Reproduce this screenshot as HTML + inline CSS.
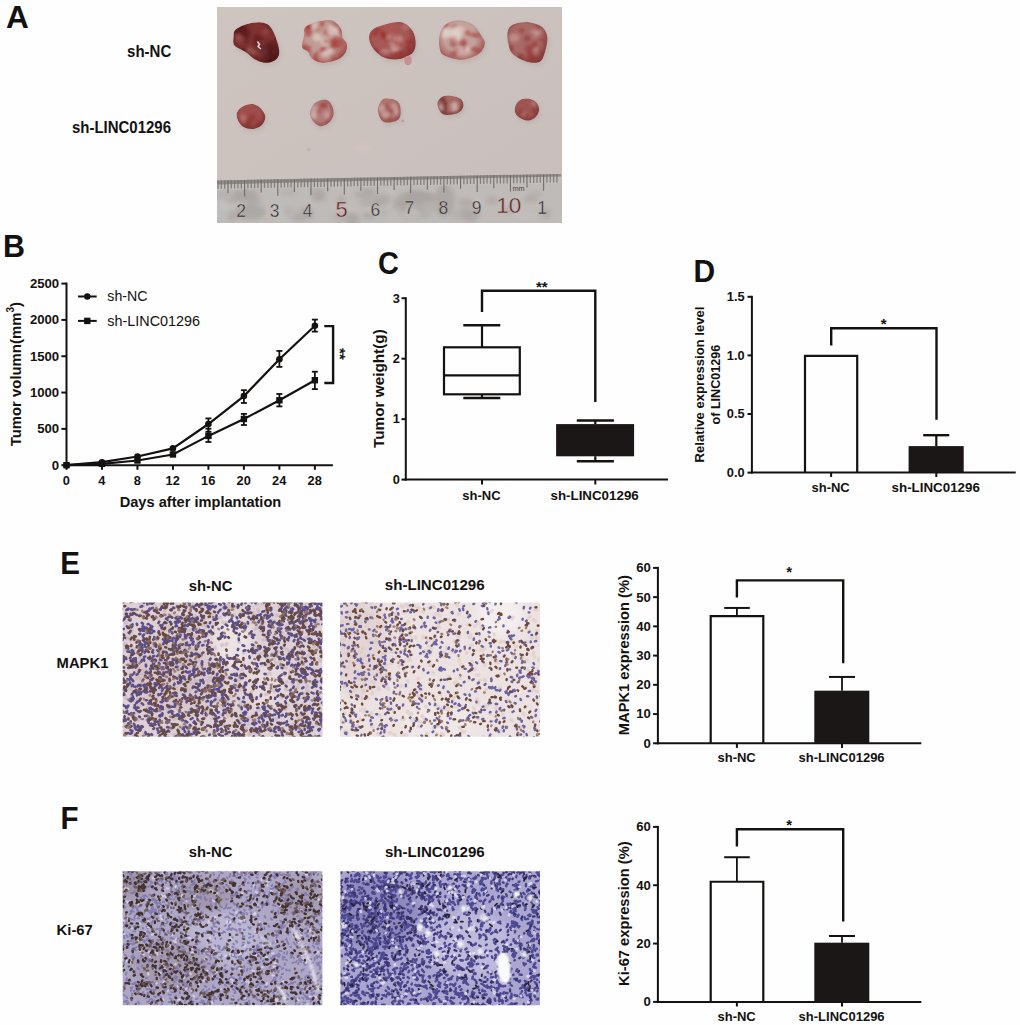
<!DOCTYPE html>
<html><head><meta charset="utf-8"><style>
html,body{margin:0;padding:0;background:#fff;}
body{width:1020px;height:1025px;overflow:hidden;position:relative;}
svg{position:absolute;left:0;top:0;}
text{fill:#141211;font-family:"Liberation Sans",sans-serif;stroke:#141211;stroke-width:0.01px;}
</style></head><body>
<svg width="1020" height="1025" viewBox="0 0 1020 1025">
<rect width="1020" height="1025" fill="#fefefe"/>
<g id="photoA">
<defs><clipPath id="pc"><rect x="217" y="7" width="345" height="216"/></clipPath><linearGradient id="board" x1="0" y1="0" x2="1" y2="1"><stop offset="0" stop-color="#cec4c0"/><stop offset="1" stop-color="#c8bebb"/></linearGradient><linearGradient id="band" x1="0" y1="0" x2="0" y2="1"><stop offset="0" stop-color="#8a8482"/><stop offset="1" stop-color="#9c9795"/></linearGradient><filter id="soft" x="-20%" y="-20%" width="140%" height="140%"><feGaussianBlur stdDeviation="0.55"/></filter><filter id="soft2" x="-30%" y="-30%" width="160%" height="160%"><feGaussianBlur stdDeviation="2.2"/></filter><filter id="soft3" x="-30%" y="-30%" width="160%" height="160%"><feGaussianBlur stdDeviation="1.6"/></filter></defs><g clip-path="url(#pc)">
<rect x="217" y="7" width="345" height="216" fill="url(#board)"/>
<path d="M237.1,32.3 C239.4,30.1 244.7,27.6 248.9,26.4 C253.1,25.2 258.9,24.6 262.5,24.9 C266.1,25.2 268.4,25.9 270.7,28.1 C273.0,30.3 274.8,33.9 276.5,38.1 C278.2,42.3 280.5,49.5 280.7,53.4 C280.9,57.3 279.9,59.7 277.7,61.7 C275.5,63.7 271.3,65.2 267.7,65.2 C264.1,65.2 259.4,63.5 256.0,61.7 C252.6,59.9 250.4,56.9 247.1,54.6 C243.8,52.3 238.0,50.7 236.0,48.1 C234.0,45.5 234.9,41.9 235.1,39.3 C235.3,36.7 234.8,34.4 237.1,32.3Z" fill="#b0a4a0" filter="url(#soft2)" opacity="0.5"/>
<clipPath id="tc1"><path d="M235.6,29.8 C237.9,27.7 243.2,25.1 247.4,23.9 C251.6,22.7 257.4,22.1 261.0,22.4 C264.6,22.7 266.9,23.4 269.2,25.6 C271.5,27.8 273.3,31.4 275.0,35.6 C276.7,39.8 279.0,47.0 279.2,50.9 C279.4,54.8 278.4,57.2 276.2,59.2 C274.0,61.2 269.8,62.7 266.2,62.7 C262.6,62.7 257.9,61.0 254.5,59.2 C251.1,57.4 248.9,54.4 245.6,52.1 C242.3,49.8 236.5,48.2 234.5,45.6 C232.5,43.0 233.4,39.4 233.6,36.8 C233.8,34.2 233.3,31.9 235.6,29.8Z"/></clipPath>
<radialGradient id="te1" cx="0.45" cy="0.42" r="0.6"><stop offset="0.55" stop-color="#4a1615" stop-opacity="0"/><stop offset="1" stop-color="#4a1615" stop-opacity="0.85"/></radialGradient>
<g filter="url(#soft)"><g clip-path="url(#tc1)"><path d="M235.6,29.8 C237.9,27.7 243.2,25.1 247.4,23.9 C251.6,22.7 257.4,22.1 261.0,22.4 C264.6,22.7 266.9,23.4 269.2,25.6 C271.5,27.8 273.3,31.4 275.0,35.6 C276.7,39.8 279.0,47.0 279.2,50.9 C279.4,54.8 278.4,57.2 276.2,59.2 C274.0,61.2 269.8,62.7 266.2,62.7 C262.6,62.7 257.9,61.0 254.5,59.2 C251.1,57.4 248.9,54.4 245.6,52.1 C242.3,49.8 236.5,48.2 234.5,45.6 C232.5,43.0 233.4,39.4 233.6,36.8 C233.8,34.2 233.3,31.9 235.6,29.8Z" fill="#7e3230"/><g filter="url(#soft3)"><ellipse cx="237.1" cy="29.3" rx="4.6" ry="5.7" fill="#5a1817" opacity="0.55"/><ellipse cx="242.1" cy="29.3" rx="3.9" ry="6.0" fill="#5a1817" opacity="0.55"/><ellipse cx="242.4" cy="50.8" rx="5.6" ry="3.5" fill="#5a1817" opacity="0.55"/><ellipse cx="257.8" cy="40.8" rx="4.7" ry="7.0" fill="#5a1817" opacity="0.55"/><ellipse cx="240.3" cy="26.1" rx="6.8" ry="4.6" fill="#5a1817" opacity="0.55"/><ellipse cx="244.5" cy="36.7" rx="4.5" ry="6.8" fill="#5a1817" opacity="0.55"/><ellipse cx="244.9" cy="32.8" rx="5.3" ry="5.2" fill="#5a1817" opacity="0.55"/><ellipse cx="274.4" cy="54.2" rx="4.4" ry="3.8" fill="#5a1817" opacity="0.55"/><ellipse cx="269.7" cy="59.3" rx="3.1" ry="5.9" fill="#5a1817" opacity="0.55"/><ellipse cx="271.0" cy="47.7" rx="3.9" ry="6.2" fill="#5a1817" opacity="0.55"/><ellipse cx="265.5" cy="32.0" rx="3.9" ry="2.7" fill="#9e5451" opacity="0.5"/><ellipse cx="238.2" cy="36.9" rx="3.0" ry="3.2" fill="#9e5451" opacity="0.5"/><ellipse cx="262.2" cy="54.1" rx="4.9" ry="4.9" fill="#9e5451" opacity="0.5"/><ellipse cx="275.9" cy="52.5" rx="2.9" ry="2.5" fill="#9e5451" opacity="0.5"/><ellipse cx="261.3" cy="44.1" rx="4.0" ry="2.3" fill="#9e5451" opacity="0.5"/><ellipse cx="244.2" cy="57.0" rx="3.8" ry="4.1" fill="#9e5451" opacity="0.5"/><ellipse cx="240.4" cy="39.1" rx="4.7" ry="3.9" fill="#9e5451" opacity="0.5"/><ellipse cx="275.9" cy="32.2" rx="3.4" ry="4.4" fill="#9e5451" opacity="0.5"/><ellipse cx="254.2" cy="52.5" rx="2.6" ry="2.1" fill="#b07a76" opacity="0.5"/><ellipse cx="240.5" cy="59.1" rx="2.1" ry="2.2" fill="#b07a76" opacity="0.5"/><ellipse cx="249.9" cy="49.9" rx="2.9" ry="2.5" fill="#b07a76" opacity="0.5"/></g><rect x="231.6" y="20.4" width="49.6" height="44.3" fill="url(#te1)"/></g></g>
<path d="M306.3,30.4 C307.7,28.5 311.4,26.9 314.0,25.7 C316.6,24.5 318.9,23.8 322.2,23.4 C325.5,23.0 330.7,21.8 334.0,23.1 C337.3,24.4 340.5,28.2 342.2,31.0 C343.9,33.8 343.0,37.4 344.0,39.9 C345.0,42.4 347.5,43.4 348.1,45.7 C348.7,48.1 348.7,51.5 347.5,54.0 C346.3,56.5 343.9,59.2 341.0,61.0 C338.1,62.8 333.5,63.9 330.4,64.6 C327.3,65.3 325.0,65.7 322.2,65.1 C319.4,64.5 315.5,62.9 313.4,61.0 C311.2,59.1 310.9,55.8 309.3,54.0 C307.7,52.2 304.9,52.1 304.0,50.5 C303.1,48.9 303.7,46.9 304.0,44.6 C304.3,42.3 305.3,39.3 305.7,36.9 C306.1,34.5 304.9,32.3 306.3,30.4Z" fill="#b0a4a0" filter="url(#soft2)" opacity="0.5"/>
<clipPath id="tc2"><path d="M304.8,27.9 C306.2,26.0 309.9,24.4 312.5,23.2 C315.1,22.0 317.4,21.3 320.7,20.9 C324.0,20.5 329.2,19.3 332.5,20.6 C335.8,21.9 339.0,25.7 340.7,28.5 C342.4,31.3 341.5,34.9 342.5,37.4 C343.5,39.9 346.0,40.9 346.6,43.2 C347.2,45.6 347.2,49.0 346.0,51.5 C344.8,54.0 342.4,56.7 339.5,58.5 C336.6,60.3 332.0,61.4 328.9,62.1 C325.8,62.8 323.5,63.2 320.7,62.6 C317.9,62.0 314.0,60.4 311.9,58.5 C309.8,56.6 309.4,53.2 307.8,51.5 C306.2,49.8 303.4,49.6 302.5,48.0 C301.6,46.4 302.2,44.4 302.5,42.1 C302.8,39.8 303.8,36.8 304.2,34.4 C304.6,32.0 303.4,29.8 304.8,27.9Z"/></clipPath>
<radialGradient id="te2" cx="0.45" cy="0.42" r="0.6"><stop offset="0.55" stop-color="#983634" stop-opacity="0"/><stop offset="1" stop-color="#983634" stop-opacity="0.85"/></radialGradient>
<g filter="url(#soft)"><g clip-path="url(#tc2)"><path d="M304.8,27.9 C306.2,26.0 309.9,24.4 312.5,23.2 C315.1,22.0 317.4,21.3 320.7,20.9 C324.0,20.5 329.2,19.3 332.5,20.6 C335.8,21.9 339.0,25.7 340.7,28.5 C342.4,31.3 341.5,34.9 342.5,37.4 C343.5,39.9 346.0,40.9 346.6,43.2 C347.2,45.6 347.2,49.0 346.0,51.5 C344.8,54.0 342.4,56.7 339.5,58.5 C336.6,60.3 332.0,61.4 328.9,62.1 C325.8,62.8 323.5,63.2 320.7,62.6 C317.9,62.0 314.0,60.4 311.9,58.5 C309.8,56.6 309.4,53.2 307.8,51.5 C306.2,49.8 303.4,49.6 302.5,48.0 C301.6,46.4 302.2,44.4 302.5,42.1 C302.8,39.8 303.8,36.8 304.2,34.4 C304.6,32.0 303.4,29.8 304.8,27.9Z" fill="#c09c96"/><g filter="url(#soft3)"><ellipse cx="308.4" cy="31.3" rx="3.9" ry="5.7" fill="#a83634" opacity="0.6"/><ellipse cx="324.4" cy="49.5" rx="3.3" ry="4.5" fill="#a83634" opacity="0.6"/><ellipse cx="337.6" cy="42.4" rx="5.8" ry="5.6" fill="#a83634" opacity="0.6"/><ellipse cx="319.6" cy="23.6" rx="5.3" ry="3.4" fill="#a83634" opacity="0.6"/><ellipse cx="305.9" cy="49.9" rx="5.5" ry="5.5" fill="#a83634" opacity="0.6"/><ellipse cx="341.8" cy="30.9" rx="3.2" ry="3.4" fill="#a83634" opacity="0.6"/><ellipse cx="342.8" cy="27.6" rx="3.5" ry="3.1" fill="#a83634" opacity="0.6"/><ellipse cx="307.4" cy="25.0" rx="4.1" ry="3.5" fill="#a83634" opacity="0.6"/><ellipse cx="317.3" cy="57.0" rx="3.5" ry="5.4" fill="#a83634" opacity="0.6"/><ellipse cx="333.6" cy="44.1" rx="4.7" ry="5.3" fill="#a83634" opacity="0.6"/><ellipse cx="327.9" cy="31.9" rx="4.0" ry="3.7" fill="#a83634" opacity="0.6"/><ellipse cx="320.8" cy="59.1" rx="4.3" ry="3.2" fill="#a83634" opacity="0.6"/><ellipse cx="323.7" cy="52.9" rx="4.3" ry="5.1" fill="#a83634" opacity="0.6"/><ellipse cx="309.0" cy="25.8" rx="5.0" ry="3.1" fill="#a83634" opacity="0.6"/><ellipse cx="317.0" cy="37.4" rx="4.6" ry="4.1" fill="#e0d0c9" opacity="0.7"/><ellipse cx="305.8" cy="57.9" rx="6.1" ry="6.9" fill="#e0d0c9" opacity="0.7"/><ellipse cx="324.2" cy="58.0" rx="6.6" ry="5.9" fill="#e0d0c9" opacity="0.7"/><ellipse cx="325.5" cy="41.9" rx="4.7" ry="5.1" fill="#e0d0c9" opacity="0.7"/><ellipse cx="333.0" cy="30.6" rx="6.5" ry="5.5" fill="#e0d0c9" opacity="0.7"/><ellipse cx="328.5" cy="53.2" rx="5.9" ry="4.4" fill="#e0d0c9" opacity="0.7"/><ellipse cx="314.9" cy="23.6" rx="4.1" ry="6.9" fill="#e0d0c9" opacity="0.7"/><ellipse cx="328.1" cy="58.5" rx="6.3" ry="4.9" fill="#e0d0c9" opacity="0.7"/><ellipse cx="342.3" cy="56.8" rx="3.4" ry="2.2" fill="#b45a56" opacity="0.5"/><ellipse cx="317.6" cy="29.6" rx="3.1" ry="2.2" fill="#b45a56" opacity="0.5"/><ellipse cx="332.7" cy="58.9" rx="2.6" ry="4.3" fill="#b45a56" opacity="0.5"/><ellipse cx="327.8" cy="41.0" rx="4.7" ry="3.1" fill="#b45a56" opacity="0.5"/><ellipse cx="336.8" cy="24.9" rx="4.9" ry="2.5" fill="#b45a56" opacity="0.5"/><ellipse cx="305.6" cy="55.3" rx="4.2" ry="4.0" fill="#b45a56" opacity="0.5"/><ellipse cx="334.7" cy="37.2" rx="2.3" ry="3.0" fill="#b45a56" opacity="0.5"/><ellipse cx="341.8" cy="58.9" rx="2.7" ry="3.3" fill="#b45a56" opacity="0.5"/></g><rect x="300.5" y="18.6" width="48.1" height="46.0" fill="url(#te2)"/></g></g>
<path d="M370.9,37.1 C371.9,33.8 374.1,31.4 379.1,29.3 C384.1,27.2 395.1,24.1 400.7,24.4 C406.3,24.7 409.8,28.1 412.5,31.2 C415.2,34.3 416.7,39.1 417.0,43.0 C417.3,46.9 417.2,51.7 414.5,54.8 C411.8,57.9 405.6,60.8 400.7,61.6 C395.8,62.4 389.6,61.8 385.0,59.7 C380.4,57.6 375.7,52.7 373.3,48.9 C370.9,45.1 369.9,40.4 370.9,37.1Z" fill="#b0a4a0" filter="url(#soft2)" opacity="0.5"/>
<clipPath id="tc3"><path d="M369.4,34.6 C370.4,31.3 372.6,28.9 377.6,26.8 C382.6,24.7 393.6,21.6 399.2,21.9 C404.8,22.2 408.3,25.6 411.0,28.7 C413.7,31.8 415.2,36.6 415.5,40.5 C415.8,44.4 415.7,49.2 413.0,52.3 C410.3,55.4 404.1,58.3 399.2,59.1 C394.3,59.9 388.1,59.3 383.5,57.2 C378.9,55.1 374.2,50.2 371.8,46.4 C369.4,42.6 368.4,37.9 369.4,34.6Z"/></clipPath>
<radialGradient id="te3" cx="0.45" cy="0.42" r="0.6"><stop offset="0.55" stop-color="#802826" stop-opacity="0"/><stop offset="1" stop-color="#802826" stop-opacity="0.85"/></radialGradient>
<g filter="url(#soft)"><g clip-path="url(#tc3)"><path d="M369.4,34.6 C370.4,31.3 372.6,28.9 377.6,26.8 C382.6,24.7 393.6,21.6 399.2,21.9 C404.8,22.2 408.3,25.6 411.0,28.7 C413.7,31.8 415.2,36.6 415.5,40.5 C415.8,44.4 415.7,49.2 413.0,52.3 C410.3,55.4 404.1,58.3 399.2,59.1 C394.3,59.9 388.1,59.3 383.5,57.2 C378.9,55.1 374.2,50.2 371.8,46.4 C369.4,42.6 368.4,37.9 369.4,34.6Z" fill="#a65855"/><g filter="url(#soft3)"><ellipse cx="395.3" cy="44.6" rx="4.5" ry="2.8" fill="#982826" opacity="0.6"/><ellipse cx="398.5" cy="52.7" rx="4.7" ry="2.6" fill="#982826" opacity="0.6"/><ellipse cx="398.5" cy="44.2" rx="3.5" ry="4.9" fill="#982826" opacity="0.6"/><ellipse cx="393.6" cy="38.8" rx="4.8" ry="3.9" fill="#982826" opacity="0.6"/><ellipse cx="384.5" cy="34.5" rx="3.5" ry="2.2" fill="#982826" opacity="0.6"/><ellipse cx="396.8" cy="47.9" rx="3.3" ry="4.5" fill="#982826" opacity="0.6"/><ellipse cx="409.6" cy="42.2" rx="4.0" ry="2.4" fill="#982826" opacity="0.6"/><ellipse cx="374.6" cy="55.5" rx="2.9" ry="2.6" fill="#982826" opacity="0.6"/><ellipse cx="408.4" cy="48.3" rx="2.4" ry="3.0" fill="#982826" opacity="0.6"/><ellipse cx="382.1" cy="33.4" rx="2.0" ry="3.6" fill="#982826" opacity="0.6"/><ellipse cx="384.6" cy="37.2" rx="2.6" ry="2.3" fill="#982826" opacity="0.6"/><ellipse cx="373.7" cy="52.1" rx="4.2" ry="3.7" fill="#982826" opacity="0.6"/><ellipse cx="377.4" cy="29.5" rx="2.4" ry="2.9" fill="#982826" opacity="0.6"/><ellipse cx="374.7" cy="33.5" rx="2.6" ry="2.6" fill="#982826" opacity="0.6"/><ellipse cx="398.6" cy="39.2" rx="4.4" ry="4.1" fill="#d0a8a2" opacity="0.55"/><ellipse cx="394.0" cy="49.4" rx="3.9" ry="3.2" fill="#d0a8a2" opacity="0.55"/><ellipse cx="391.7" cy="36.7" rx="5.3" ry="3.3" fill="#d0a8a2" opacity="0.55"/><ellipse cx="407.4" cy="25.4" rx="4.6" ry="4.3" fill="#d0a8a2" opacity="0.55"/><ellipse cx="385.0" cy="52.6" rx="5.1" ry="3.5" fill="#d0a8a2" opacity="0.55"/><ellipse cx="392.2" cy="44.0" rx="3.1" ry="3.3" fill="#d0a8a2" opacity="0.55"/><ellipse cx="396.5" cy="47.7" rx="4.4" ry="4.3" fill="#d0a8a2" opacity="0.55"/><ellipse cx="392.7" cy="33.0" rx="3.8" ry="3.9" fill="#b0524f" opacity="0.5"/><ellipse cx="391.7" cy="25.5" rx="2.8" ry="3.6" fill="#b0524f" opacity="0.5"/><ellipse cx="385.4" cy="28.2" rx="2.4" ry="3.4" fill="#b0524f" opacity="0.5"/><ellipse cx="397.3" cy="33.8" rx="3.2" ry="3.5" fill="#b0524f" opacity="0.5"/><ellipse cx="411.1" cy="50.8" rx="2.9" ry="3.6" fill="#b0524f" opacity="0.5"/><ellipse cx="409.5" cy="52.0" rx="3.5" ry="3.2" fill="#b0524f" opacity="0.5"/></g><rect x="367.4" y="19.9" width="50.1" height="41.2" fill="url(#te3)"/></g></g>
<path d="M441.1,37.5 C442.1,33.7 443.7,29.6 446.8,27.2 C449.9,24.8 455.1,22.9 459.5,22.8 C463.9,22.7 469.7,24.2 473.5,26.6 C477.3,29.1 480.4,34.2 482.5,37.5 C484.6,40.8 486.7,43.2 486.3,46.4 C485.9,49.6 483.7,54.0 479.9,56.6 C476.1,59.2 469.1,62.1 463.4,62.3 C457.7,62.5 449.2,59.8 445.5,57.8 C441.8,55.8 441.8,53.6 441.1,50.2 C440.4,46.8 440.2,41.3 441.1,37.5Z" fill="#b0a4a0" filter="url(#soft2)" opacity="0.5"/>
<clipPath id="tc4"><path d="M439.6,35.0 C440.6,31.2 442.2,27.1 445.3,24.7 C448.4,22.2 453.6,20.4 458.0,20.3 C462.4,20.2 468.2,21.7 472.0,24.1 C475.8,26.6 478.9,31.7 481.0,35.0 C483.1,38.3 485.2,40.7 484.8,43.9 C484.4,47.1 482.2,51.5 478.4,54.1 C474.6,56.8 467.6,59.6 461.9,59.8 C456.2,60.0 447.7,57.3 444.0,55.3 C440.3,53.3 440.3,51.1 439.6,47.7 C438.9,44.3 438.7,38.8 439.6,35.0Z"/></clipPath>
<radialGradient id="te4" cx="0.45" cy="0.42" r="0.6"><stop offset="0.55" stop-color="#983836" stop-opacity="0"/><stop offset="1" stop-color="#983836" stop-opacity="0.85"/></radialGradient>
<g filter="url(#soft)"><g clip-path="url(#tc4)"><path d="M439.6,35.0 C440.6,31.2 442.2,27.1 445.3,24.7 C448.4,22.2 453.6,20.4 458.0,20.3 C462.4,20.2 468.2,21.7 472.0,24.1 C475.8,26.6 478.9,31.7 481.0,35.0 C483.1,38.3 485.2,40.7 484.8,43.9 C484.4,47.1 482.2,51.5 478.4,54.1 C474.6,56.8 467.6,59.6 461.9,59.8 C456.2,60.0 447.7,57.3 444.0,55.3 C440.3,53.3 440.3,51.1 439.6,47.7 C438.9,44.3 438.7,38.8 439.6,35.0Z" fill="#c4a29c"/><g filter="url(#soft3)"><ellipse cx="463.3" cy="42.9" rx="3.7" ry="3.8" fill="#a63c3a" opacity="0.55"/><ellipse cx="477.2" cy="35.5" rx="3.9" ry="2.8" fill="#a63c3a" opacity="0.55"/><ellipse cx="454.6" cy="26.5" rx="3.0" ry="2.3" fill="#a63c3a" opacity="0.55"/><ellipse cx="453.3" cy="43.8" rx="3.6" ry="3.5" fill="#a63c3a" opacity="0.55"/><ellipse cx="446.0" cy="25.4" rx="2.5" ry="3.1" fill="#a63c3a" opacity="0.55"/><ellipse cx="475.5" cy="50.1" rx="3.9" ry="3.2" fill="#a63c3a" opacity="0.55"/><ellipse cx="467.6" cy="33.1" rx="2.6" ry="2.4" fill="#a63c3a" opacity="0.55"/><ellipse cx="463.6" cy="43.6" rx="3.1" ry="2.8" fill="#a63c3a" opacity="0.55"/><ellipse cx="459.2" cy="31.6" rx="3.6" ry="3.2" fill="#a63c3a" opacity="0.55"/><ellipse cx="471.9" cy="50.5" rx="2.6" ry="2.2" fill="#a63c3a" opacity="0.55"/><ellipse cx="453.7" cy="53.7" rx="3.6" ry="2.8" fill="#a63c3a" opacity="0.55"/><ellipse cx="473.0" cy="34.8" rx="3.7" ry="2.2" fill="#a63c3a" opacity="0.55"/><ellipse cx="471.6" cy="56.1" rx="5.3" ry="5.4" fill="#e0d0c9" opacity="0.7"/><ellipse cx="447.7" cy="32.5" rx="4.7" ry="4.9" fill="#e0d0c9" opacity="0.7"/><ellipse cx="445.3" cy="33.3" rx="4.3" ry="5.6" fill="#e0d0c9" opacity="0.7"/><ellipse cx="458.5" cy="30.9" rx="6.8" ry="4.9" fill="#e0d0c9" opacity="0.7"/><ellipse cx="463.4" cy="53.3" rx="6.3" ry="6.9" fill="#e0d0c9" opacity="0.7"/><ellipse cx="466.5" cy="52.5" rx="4.2" ry="6.2" fill="#e0d0c9" opacity="0.7"/><ellipse cx="455.8" cy="34.0" rx="6.3" ry="6.2" fill="#e0d0c9" opacity="0.7"/><ellipse cx="456.0" cy="35.5" rx="4.8" ry="6.8" fill="#e0d0c9" opacity="0.7"/><ellipse cx="466.7" cy="32.0" rx="3.1" ry="2.1" fill="#b86460" opacity="0.5"/><ellipse cx="453.2" cy="40.1" rx="3.9" ry="3.7" fill="#b86460" opacity="0.5"/><ellipse cx="464.1" cy="48.9" rx="2.5" ry="3.4" fill="#b86460" opacity="0.5"/><ellipse cx="481.7" cy="28.5" rx="3.9" ry="4.0" fill="#b86460" opacity="0.5"/><ellipse cx="457.0" cy="50.6" rx="4.0" ry="2.3" fill="#b86460" opacity="0.5"/><ellipse cx="460.8" cy="43.2" rx="3.6" ry="2.5" fill="#b86460" opacity="0.5"/></g><rect x="437.6" y="18.3" width="49.2" height="43.5" fill="url(#te4)"/></g></g>
<path d="M509.2,33.6 C510.1,30.3 512.0,28.1 515.6,26.6 C519.2,25.1 526.2,24.2 530.9,24.7 C535.6,25.2 540.7,27.2 543.7,29.8 C546.7,32.4 548.4,35.8 548.8,40.0 C549.2,44.2 547.5,51.3 546.2,55.3 C544.9,59.3 544.1,62.7 541.1,64.2 C538.1,65.7 532.9,65.5 528.4,64.2 C523.9,62.9 517.4,59.6 514.3,56.6 C511.2,53.6 510.8,50.2 509.9,46.4 C509.0,42.6 508.2,36.9 509.2,33.6Z" fill="#b0a4a0" filter="url(#soft2)" opacity="0.5"/>
<clipPath id="tc5"><path d="M507.7,31.1 C508.6,27.8 510.5,25.6 514.1,24.1 C517.7,22.6 524.7,21.7 529.4,22.2 C534.1,22.7 539.2,24.8 542.2,27.3 C545.2,29.9 546.9,33.2 547.3,37.5 C547.7,41.8 546.0,48.8 544.7,52.8 C543.4,56.8 542.6,60.2 539.6,61.7 C536.6,63.2 531.4,63.0 526.9,61.7 C522.4,60.4 515.9,57.1 512.8,54.1 C509.7,51.1 509.2,47.7 508.4,43.9 C507.5,40.1 506.8,34.4 507.7,31.1Z"/></clipPath>
<radialGradient id="te5" cx="0.45" cy="0.42" r="0.6"><stop offset="0.55" stop-color="#7e302e" stop-opacity="0"/><stop offset="1" stop-color="#7e302e" stop-opacity="0.85"/></radialGradient>
<g filter="url(#soft)"><g clip-path="url(#tc5)"><path d="M507.7,31.1 C508.6,27.8 510.5,25.6 514.1,24.1 C517.7,22.6 524.7,21.7 529.4,22.2 C534.1,22.7 539.2,24.8 542.2,27.3 C545.2,29.9 546.9,33.2 547.3,37.5 C547.7,41.8 546.0,48.8 544.7,52.8 C543.4,56.8 542.6,60.2 539.6,61.7 C536.6,63.2 531.4,63.0 526.9,61.7 C522.4,60.4 515.9,57.1 512.8,54.1 C509.7,51.1 509.2,47.7 508.4,43.9 C507.5,40.1 506.8,34.4 507.7,31.1Z" fill="#a86a66"/><g filter="url(#soft3)"><ellipse cx="529.1" cy="50.3" rx="4.2" ry="4.6" fill="#98302e" opacity="0.6"/><ellipse cx="520.3" cy="57.5" rx="3.7" ry="4.2" fill="#98302e" opacity="0.6"/><ellipse cx="536.1" cy="56.3" rx="2.8" ry="3.1" fill="#98302e" opacity="0.6"/><ellipse cx="534.8" cy="44.8" rx="4.3" ry="3.1" fill="#98302e" opacity="0.6"/><ellipse cx="542.8" cy="25.6" rx="4.2" ry="3.1" fill="#98302e" opacity="0.6"/><ellipse cx="511.5" cy="47.8" rx="2.2" ry="2.7" fill="#98302e" opacity="0.6"/><ellipse cx="521.6" cy="30.5" rx="2.5" ry="2.2" fill="#98302e" opacity="0.6"/><ellipse cx="539.1" cy="28.0" rx="2.5" ry="2.2" fill="#98302e" opacity="0.6"/><ellipse cx="541.3" cy="43.5" rx="4.5" ry="4.9" fill="#98302e" opacity="0.6"/><ellipse cx="527.3" cy="38.4" rx="3.2" ry="2.8" fill="#98302e" opacity="0.6"/><ellipse cx="530.7" cy="57.6" rx="3.5" ry="4.3" fill="#98302e" opacity="0.6"/><ellipse cx="540.6" cy="53.0" rx="4.0" ry="3.6" fill="#98302e" opacity="0.6"/><ellipse cx="514.0" cy="37.8" rx="5.6" ry="4.3" fill="#cca49e" opacity="0.55"/><ellipse cx="533.6" cy="33.9" rx="4.7" ry="3.7" fill="#cca49e" opacity="0.55"/><ellipse cx="537.1" cy="52.4" rx="3.1" ry="5.0" fill="#cca49e" opacity="0.55"/><ellipse cx="513.9" cy="57.0" rx="3.5" ry="3.4" fill="#cca49e" opacity="0.55"/><ellipse cx="540.7" cy="45.8" rx="3.0" ry="4.4" fill="#cca49e" opacity="0.55"/><ellipse cx="538.6" cy="30.7" rx="5.3" ry="3.9" fill="#cca49e" opacity="0.55"/><ellipse cx="525.6" cy="38.5" rx="2.1" ry="2.8" fill="#a04c49" opacity="0.5"/><ellipse cx="528.2" cy="45.9" rx="3.1" ry="2.3" fill="#a04c49" opacity="0.5"/><ellipse cx="531.0" cy="34.9" rx="3.8" ry="2.2" fill="#a04c49" opacity="0.5"/><ellipse cx="536.8" cy="28.1" rx="3.1" ry="2.7" fill="#a04c49" opacity="0.5"/><ellipse cx="526.1" cy="48.2" rx="3.6" ry="2.0" fill="#a04c49" opacity="0.5"/><ellipse cx="540.4" cy="47.0" rx="2.2" ry="3.4" fill="#a04c49" opacity="0.5"/></g><rect x="505.7" y="20.2" width="43.6" height="43.5" fill="url(#te5)"/></g></g>
<path d="M266.8,119.2 C266.9,121.9 265.4,125.4 263.4,127.5 C261.4,129.5 257.6,131.0 254.6,131.4 C251.5,131.7 247.7,131.0 245.2,129.6 C242.7,128.3 240.7,125.6 239.6,123.2 C238.4,120.7 237.6,117.3 238.5,114.9 C239.4,112.4 242.3,109.9 245.0,108.5 C247.7,107.1 251.7,106.1 254.6,106.6 C257.6,107.1 260.8,109.3 262.8,111.4 C264.8,113.4 266.7,116.5 266.8,119.2Z" fill="#b0a4a0" filter="url(#soft2)" opacity="0.5"/>
<clipPath id="tc6"><path d="M265.3,116.7 C265.4,119.4 263.9,122.9 261.9,125.0 C259.9,127.0 256.1,128.5 253.1,128.9 C250.0,129.2 246.2,128.5 243.7,127.1 C241.2,125.8 239.2,123.1 238.1,120.7 C236.9,118.2 236.1,114.8 237.0,112.4 C237.9,109.9 240.8,107.4 243.5,106.0 C246.2,104.6 250.2,103.6 253.1,104.1 C256.1,104.6 259.3,106.8 261.3,108.9 C263.3,110.9 265.2,114.0 265.3,116.7Z"/></clipPath>
<radialGradient id="te6" cx="0.45" cy="0.42" r="0.6"><stop offset="0.55" stop-color="#702422" stop-opacity="0"/><stop offset="1" stop-color="#702422" stop-opacity="0.85"/></radialGradient>
<g filter="url(#soft)"><g clip-path="url(#tc6)"><path d="M265.3,116.7 C265.4,119.4 263.9,122.9 261.9,125.0 C259.9,127.0 256.1,128.5 253.1,128.9 C250.0,129.2 246.2,128.5 243.7,127.1 C241.2,125.8 239.2,123.1 238.1,120.7 C236.9,118.2 236.1,114.8 237.0,112.4 C237.9,109.9 240.8,107.4 243.5,106.0 C246.2,104.6 250.2,103.6 253.1,104.1 C256.1,104.6 259.3,106.8 261.3,108.9 C263.3,110.9 265.2,114.0 265.3,116.7Z" fill="#9e4e4b"/><g filter="url(#soft3)"><ellipse cx="247.3" cy="125.6" rx="3.9" ry="3.8" fill="#86302e" opacity="0.55"/><ellipse cx="257.6" cy="123.5" rx="2.0" ry="3.3" fill="#86302e" opacity="0.55"/><ellipse cx="245.5" cy="120.8" rx="2.9" ry="3.1" fill="#86302e" opacity="0.55"/><ellipse cx="252.1" cy="117.9" rx="3.7" ry="4.0" fill="#86302e" opacity="0.55"/><ellipse cx="247.7" cy="122.2" rx="3.8" ry="2.8" fill="#86302e" opacity="0.55"/><ellipse cx="242.7" cy="116.4" rx="2.8" ry="2.5" fill="#bc7c78" opacity="0.5"/><ellipse cx="244.1" cy="120.4" rx="2.3" ry="2.9" fill="#bc7c78" opacity="0.5"/><ellipse cx="243.8" cy="118.3" rx="2.4" ry="3.0" fill="#bc7c78" opacity="0.5"/></g><rect x="235.0" y="102.1" width="32.3" height="28.8" fill="url(#te6)"/></g></g>
<path d="M334.7,118.5 C333.9,121.2 331.7,124.0 329.5,125.7 C327.3,127.4 324.0,129.0 321.6,128.7 C319.2,128.5 316.6,126.2 314.9,124.1 C313.2,122.0 311.6,119.0 311.5,116.2 C311.4,113.5 312.8,109.7 314.4,107.5 C316.1,105.2 319.0,103.5 321.5,102.8 C324.0,102.0 327.4,101.7 329.5,102.9 C331.7,104.1 333.4,107.2 334.3,109.8 C335.1,112.4 335.5,115.9 334.7,118.5Z" fill="#b0a4a0" filter="url(#soft2)" opacity="0.5"/>
<clipPath id="tc7"><path d="M333.2,116.0 C332.4,118.7 330.2,121.5 328.0,123.2 C325.8,124.9 322.5,126.5 320.1,126.2 C317.7,126.0 315.1,123.7 313.4,121.6 C311.7,119.5 310.1,116.5 310.0,113.7 C309.9,111.0 311.3,107.2 312.9,105.0 C314.6,102.7 317.5,101.0 320.0,100.3 C322.5,99.5 325.9,99.2 328.0,100.4 C330.2,101.6 331.9,104.7 332.8,107.3 C333.6,109.9 334.0,113.4 333.2,116.0Z"/></clipPath>
<radialGradient id="te7" cx="0.45" cy="0.42" r="0.6"><stop offset="0.55" stop-color="#8a3a38" stop-opacity="0"/><stop offset="1" stop-color="#8a3a38" stop-opacity="0.85"/></radialGradient>
<g filter="url(#soft)"><g clip-path="url(#tc7)"><path d="M333.2,116.0 C332.4,118.7 330.2,121.5 328.0,123.2 C325.8,124.9 322.5,126.5 320.1,126.2 C317.7,126.0 315.1,123.7 313.4,121.6 C311.7,119.5 310.1,116.5 310.0,113.7 C309.9,111.0 311.3,107.2 312.9,105.0 C314.6,102.7 317.5,101.0 320.0,100.3 C322.5,99.5 325.9,99.2 328.0,100.4 C330.2,101.6 331.9,104.7 332.8,107.3 C333.6,109.9 334.0,113.4 333.2,116.0Z" fill="#b07a76"/><g filter="url(#soft3)"><ellipse cx="324.7" cy="105.1" rx="2.9" ry="3.3" fill="#9a3a38" opacity="0.55"/><ellipse cx="327.4" cy="113.6" rx="2.9" ry="2.6" fill="#9a3a38" opacity="0.55"/><ellipse cx="322.1" cy="105.4" rx="3.0" ry="2.9" fill="#9a3a38" opacity="0.55"/><ellipse cx="317.9" cy="110.8" rx="3.1" ry="2.7" fill="#9a3a38" opacity="0.55"/><ellipse cx="329.5" cy="122.7" rx="3.3" ry="2.1" fill="#9a3a38" opacity="0.55"/><ellipse cx="314.3" cy="109.0" rx="3.4" ry="3.7" fill="#d4b8b2" opacity="0.6"/><ellipse cx="327.2" cy="114.5" rx="3.6" ry="3.6" fill="#d4b8b2" opacity="0.6"/><ellipse cx="313.6" cy="113.8" rx="3.2" ry="3.4" fill="#d4b8b2" opacity="0.6"/><ellipse cx="313.1" cy="116.4" rx="3.9" ry="3.1" fill="#d4b8b2" opacity="0.6"/></g><rect x="308.0" y="98.3" width="27.2" height="30.0" fill="url(#te7)"/></g></g>
<path d="M402.2,113.1 C402.3,115.9 401.9,119.6 400.3,121.5 C398.7,123.5 395.3,124.3 392.7,124.8 C390.1,125.2 386.7,125.4 384.6,124.1 C382.5,122.8 380.9,119.6 380.1,117.1 C379.3,114.6 379.1,111.6 379.9,109.0 C380.6,106.4 382.3,103.0 384.4,101.7 C386.5,100.4 390.1,100.8 392.7,101.3 C395.3,101.9 398.4,103.0 400.0,105.0 C401.6,107.0 402.2,110.3 402.2,113.1Z" fill="#b0a4a0" filter="url(#soft2)" opacity="0.5"/>
<clipPath id="tc8"><path d="M400.7,110.6 C400.8,113.4 400.4,117.1 398.8,119.0 C397.2,121.0 393.8,121.8 391.2,122.3 C388.6,122.7 385.2,122.9 383.1,121.6 C381.0,120.3 379.4,117.1 378.6,114.6 C377.8,112.1 377.6,109.1 378.4,106.5 C379.1,103.9 380.8,100.5 382.9,99.2 C385.0,97.9 388.6,98.3 391.2,98.8 C393.8,99.4 396.9,100.5 398.5,102.5 C400.1,104.5 400.7,107.8 400.7,110.6Z"/></clipPath>
<radialGradient id="te8" cx="0.45" cy="0.42" r="0.6"><stop offset="0.55" stop-color="#8a3c3a" stop-opacity="0"/><stop offset="1" stop-color="#8a3c3a" stop-opacity="0.85"/></radialGradient>
<g filter="url(#soft)"><g clip-path="url(#tc8)"><path d="M400.7,110.6 C400.8,113.4 400.4,117.1 398.8,119.0 C397.2,121.0 393.8,121.8 391.2,122.3 C388.6,122.7 385.2,122.9 383.1,121.6 C381.0,120.3 379.4,117.1 378.6,114.6 C377.8,112.1 377.6,109.1 378.4,106.5 C379.1,103.9 380.8,100.5 382.9,99.2 C385.0,97.9 388.6,98.3 391.2,98.8 C393.8,99.4 396.9,100.5 398.5,102.5 C400.1,104.5 400.7,107.8 400.7,110.6Z" fill="#b07470"/><g filter="url(#soft3)"><ellipse cx="391.8" cy="109.3" rx="3.1" ry="2.1" fill="#983c3a" opacity="0.55"/><ellipse cx="392.8" cy="108.4" rx="2.9" ry="2.3" fill="#983c3a" opacity="0.55"/><ellipse cx="387.0" cy="106.5" rx="2.5" ry="3.1" fill="#983c3a" opacity="0.55"/><ellipse cx="389.1" cy="118.6" rx="2.9" ry="2.3" fill="#983c3a" opacity="0.55"/><ellipse cx="391.4" cy="111.0" rx="2.2" ry="2.8" fill="#983c3a" opacity="0.55"/><ellipse cx="381.5" cy="108.3" rx="3.5" ry="3.7" fill="#d4b6b0" opacity="0.6"/><ellipse cx="397.0" cy="112.5" rx="3.0" ry="3.5" fill="#d4b6b0" opacity="0.6"/><ellipse cx="385.4" cy="114.9" rx="3.9" ry="3.1" fill="#d4b6b0" opacity="0.6"/><ellipse cx="394.0" cy="106.9" rx="3.2" ry="3.5" fill="#d4b6b0" opacity="0.6"/></g><rect x="376.4" y="96.8" width="26.4" height="27.4" fill="url(#te8)"/></g></g>
<path d="M464.9,107.7 C464.9,109.8 463.6,112.4 461.7,114.0 C459.9,115.5 456.7,116.6 453.9,117.0 C451.1,117.5 447.1,117.7 444.8,116.7 C442.4,115.6 440.9,112.9 439.9,110.9 C439.0,108.8 438.4,106.3 439.2,104.3 C440.0,102.3 442.3,99.7 444.7,98.7 C447.2,97.7 451.0,98.0 453.9,98.4 C456.8,98.9 460.1,99.8 462.0,101.3 C463.8,102.8 465.0,105.6 464.9,107.7Z" fill="#b0a4a0" filter="url(#soft2)" opacity="0.5"/>
<clipPath id="tc9"><path d="M463.4,105.2 C463.4,107.3 462.1,109.9 460.2,111.5 C458.4,113.0 455.2,114.1 452.4,114.5 C449.6,115.0 445.6,115.2 443.3,114.2 C440.9,113.1 439.4,110.4 438.4,108.4 C437.5,106.3 436.9,103.8 437.7,101.8 C438.5,99.8 440.8,97.2 443.2,96.2 C445.7,95.2 449.5,95.5 452.4,95.9 C455.3,96.4 458.6,97.3 460.5,98.8 C462.3,100.3 463.5,103.1 463.4,105.2Z"/></clipPath>
<radialGradient id="te9" cx="0.45" cy="0.42" r="0.6"><stop offset="0.55" stop-color="#641e1d" stop-opacity="0"/><stop offset="1" stop-color="#641e1d" stop-opacity="0.85"/></radialGradient>
<g filter="url(#soft)"><g clip-path="url(#tc9)"><path d="M463.4,105.2 C463.4,107.3 462.1,109.9 460.2,111.5 C458.4,113.0 455.2,114.1 452.4,114.5 C449.6,115.0 445.6,115.2 443.3,114.2 C440.9,113.1 439.4,110.4 438.4,108.4 C437.5,106.3 436.9,103.8 437.7,101.8 C438.5,99.8 440.8,97.2 443.2,96.2 C445.7,95.2 449.5,95.5 452.4,95.9 C455.3,96.4 458.6,97.3 460.5,98.8 C462.3,100.3 463.5,103.1 463.4,105.2Z" fill="#a66662"/><g filter="url(#soft3)"><ellipse cx="444.8" cy="103.8" rx="2.4" ry="2.8" fill="#5e1c1b" opacity="0.65"/><ellipse cx="451.8" cy="107.1" rx="2.5" ry="2.7" fill="#5e1c1b" opacity="0.65"/><ellipse cx="444.2" cy="109.2" rx="2.6" ry="3.8" fill="#5e1c1b" opacity="0.65"/><ellipse cx="442.2" cy="99.0" rx="2.8" ry="2.8" fill="#5e1c1b" opacity="0.65"/><ellipse cx="455.6" cy="109.9" rx="3.5" ry="3.3" fill="#d4b8b2" opacity="0.6"/><ellipse cx="454.8" cy="104.7" rx="3.3" ry="3.3" fill="#d4b8b2" opacity="0.6"/><ellipse cx="440.7" cy="107.9" rx="3.0" ry="3.2" fill="#d4b8b2" opacity="0.6"/><ellipse cx="452.9" cy="106.7" rx="3.6" ry="3.6" fill="#d4b8b2" opacity="0.6"/></g><rect x="435.7" y="93.9" width="29.7" height="22.6" fill="url(#te9)"/></g></g>
<path d="M540.6,111.9 C540.6,114.3 539.3,117.2 537.6,119.0 C536.0,120.9 533.1,122.7 530.7,123.0 C528.2,123.4 525.1,122.5 522.9,121.3 C520.6,120.1 518.0,118.1 517.0,115.9 C516.0,113.7 516.1,110.2 517.0,107.9 C517.9,105.6 520.3,103.1 522.5,102.0 C524.8,100.9 528.0,100.9 530.6,101.3 C533.1,101.8 536.1,102.9 537.7,104.7 C539.4,106.4 540.6,109.5 540.6,111.9Z" fill="#b0a4a0" filter="url(#soft2)" opacity="0.5"/>
<clipPath id="tc10"><path d="M539.1,109.4 C539.1,111.8 537.8,114.7 536.1,116.5 C534.5,118.4 531.6,120.2 529.2,120.5 C526.7,120.9 523.6,120.0 521.4,118.8 C519.1,117.6 516.5,115.6 515.5,113.4 C514.5,111.2 514.6,107.7 515.5,105.4 C516.4,103.1 518.8,100.6 521.0,99.5 C523.3,98.4 526.5,98.4 529.1,98.8 C531.6,99.3 534.6,100.4 536.2,102.2 C537.9,103.9 539.1,107.0 539.1,109.4Z"/></clipPath>
<radialGradient id="te10" cx="0.45" cy="0.42" r="0.6"><stop offset="0.55" stop-color="#742a28" stop-opacity="0"/><stop offset="1" stop-color="#742a28" stop-opacity="0.85"/></radialGradient>
<g filter="url(#soft)"><g clip-path="url(#tc10)"><path d="M539.1,109.4 C539.1,111.8 537.8,114.7 536.1,116.5 C534.5,118.4 531.6,120.2 529.2,120.5 C526.7,120.9 523.6,120.0 521.4,118.8 C519.1,117.6 516.5,115.6 515.5,113.4 C514.5,111.2 514.6,107.7 515.5,105.4 C516.4,103.1 518.8,100.6 521.0,99.5 C523.3,98.4 526.5,98.4 529.1,98.8 C531.6,99.3 534.6,100.4 536.2,102.2 C537.9,103.9 539.1,107.0 539.1,109.4Z" fill="#9e5451"/><g filter="url(#soft3)"><ellipse cx="526.6" cy="115.6" rx="2.0" ry="2.4" fill="#862e2c" opacity="0.55"/><ellipse cx="535.4" cy="112.3" rx="2.2" ry="2.5" fill="#862e2c" opacity="0.55"/><ellipse cx="534.0" cy="108.7" rx="2.0" ry="3.3" fill="#862e2c" opacity="0.55"/><ellipse cx="520.8" cy="111.9" rx="2.9" ry="2.7" fill="#862e2c" opacity="0.55"/><ellipse cx="535.4" cy="104.6" rx="2.9" ry="2.2" fill="#862e2c" opacity="0.55"/><ellipse cx="535.5" cy="104.1" rx="2.5" ry="2.8" fill="#c08c87" opacity="0.5"/><ellipse cx="534.0" cy="103.4" rx="2.9" ry="2.8" fill="#c08c87" opacity="0.5"/><ellipse cx="524.0" cy="113.7" rx="2.2" ry="2.2" fill="#c08c87" opacity="0.5"/></g><rect x="513.5" y="96.8" width="27.6" height="25.7" fill="url(#te10)"/></g></g>
<ellipse cx="266" cy="50" rx="8" ry="9" fill="#4a161c" opacity="0.45" filter="url(#soft2)"/>
<path d="M257.5,41.5 l2,3 l-1.5,2 l3,2.5" stroke="#ddd4d4" stroke-width="1.5" fill="none" filter="url(#soft)"/>
<ellipse cx="408" cy="60.5" rx="3.8" ry="4.8" fill="#c99090" filter="url(#soft)"/>
<ellipse cx="403" cy="121" rx="1.5" ry="1.3" fill="#c89088" opacity="0.8"/>
<ellipse cx="308.8" cy="149.5" rx="2" ry="2" fill="#c8b49e" opacity="0.8" filter="url(#soft)"/><ellipse cx="363" cy="148" rx="8" ry="5" fill="#d4c8bc" opacity="0.5" filter="url(#soft2)"/>
<path d="M217,180.4 L562,173.9 L562,223 L217,223 Z" fill="#bfbbb8"/>
<ellipse cx="415" cy="205" rx="22" ry="14" fill="#a6a2a0" opacity="0.7" filter="url(#soft2)"/>
<ellipse cx="445" cy="200" rx="10" ry="16" fill="#a6a2a0" opacity="0.7" filter="url(#soft2)"/>
<ellipse cx="250" cy="212" rx="16" ry="8" fill="#a6a2a0" opacity="0.7" filter="url(#soft2)"/>
<ellipse cx="300" cy="214" rx="14" ry="7" fill="#a6a2a0" opacity="0.7" filter="url(#soft2)"/>
<ellipse cx="470" cy="214" rx="10" ry="8" fill="#a6a2a0" opacity="0.7" filter="url(#soft2)"/>
<ellipse cx="372.9" cy="207.7" rx="8.5" ry="6.4" fill="#c8c3c0" opacity="0.55" filter="url(#soft2)"/>
<ellipse cx="284.2" cy="214.5" rx="10.3" ry="6.2" fill="#c8c3c0" opacity="0.55" filter="url(#soft2)"/>
<ellipse cx="251.8" cy="200.5" rx="9.4" ry="6.6" fill="#a8a3a1" opacity="0.55" filter="url(#soft2)"/>
<ellipse cx="434.4" cy="208.7" rx="13.6" ry="5.6" fill="#c8c3c0" opacity="0.55" filter="url(#soft2)"/>
<ellipse cx="428.1" cy="196.4" rx="12.3" ry="3.3" fill="#a8a3a1" opacity="0.55" filter="url(#soft2)"/>
<ellipse cx="232.1" cy="216.6" rx="4.3" ry="4.9" fill="#a49f9d" opacity="0.55" filter="url(#soft2)"/>
<ellipse cx="368.9" cy="215.6" rx="6.3" ry="4.2" fill="#a49f9d" opacity="0.55" filter="url(#soft2)"/>
<ellipse cx="221.6" cy="194.4" rx="8.1" ry="5.2" fill="#b0aba9" opacity="0.55" filter="url(#soft2)"/>
<ellipse cx="534.9" cy="194.3" rx="7.2" ry="3.9" fill="#b0aba9" opacity="0.55" filter="url(#soft2)"/>
<ellipse cx="317.7" cy="194.0" rx="8.0" ry="6.4" fill="#a8a3a1" opacity="0.55" filter="url(#soft2)"/>
<ellipse cx="350.6" cy="218.8" rx="6.1" ry="6.7" fill="#a8a3a1" opacity="0.55" filter="url(#soft2)"/>
<ellipse cx="237.7" cy="202.5" rx="8.2" ry="5.3" fill="#c8c3c0" opacity="0.55" filter="url(#soft2)"/>
<ellipse cx="287.1" cy="210.9" rx="4.9" ry="4.3" fill="#b0aba9" opacity="0.55" filter="url(#soft2)"/>
<ellipse cx="545.9" cy="213.2" rx="5.3" ry="5.8" fill="#a8a3a1" opacity="0.55" filter="url(#soft2)"/>
<ellipse cx="223.7" cy="205.0" rx="5.8" ry="5.2" fill="#c8c3c0" opacity="0.55" filter="url(#soft2)"/>
<ellipse cx="371.2" cy="197.3" rx="8.2" ry="4.5" fill="#c4bfbc" opacity="0.55" filter="url(#soft2)"/>
<ellipse cx="353.5" cy="219.7" rx="6.7" ry="6.9" fill="#a8a3a1" opacity="0.55" filter="url(#soft2)"/>
<ellipse cx="491.6" cy="200.5" rx="6.1" ry="4.6" fill="#a8a3a1" opacity="0.55" filter="url(#soft2)"/>
<ellipse cx="508.8" cy="210.0" rx="4.4" ry="3.6" fill="#a8a3a1" opacity="0.55" filter="url(#soft2)"/>
<ellipse cx="369.2" cy="192.3" rx="7.3" ry="4.2" fill="#a49f9d" opacity="0.55" filter="url(#soft2)"/>
<ellipse cx="244.8" cy="194.5" rx="10.4" ry="3.1" fill="#a49f9d" opacity="0.55" filter="url(#soft2)"/>
<ellipse cx="344.6" cy="209.4" rx="13.6" ry="4.9" fill="#c4bfbc" opacity="0.55" filter="url(#soft2)"/>
<ellipse cx="414.2" cy="216.3" rx="10.3" ry="4.2" fill="#c4bfbc" opacity="0.55" filter="url(#soft2)"/>
<ellipse cx="297.2" cy="209.1" rx="5.6" ry="5.5" fill="#c4bfbc" opacity="0.55" filter="url(#soft2)"/>
<ellipse cx="407.2" cy="211.2" rx="12.8" ry="5.4" fill="#c8c3c0" opacity="0.55" filter="url(#soft2)"/>
<ellipse cx="362.5" cy="194.9" rx="9.1" ry="4.0" fill="#a8a3a1" opacity="0.55" filter="url(#soft2)"/>
<ellipse cx="470.1" cy="203.0" rx="12.2" ry="5.4" fill="#c8c3c0" opacity="0.55" filter="url(#soft2)"/>
<ellipse cx="319.2" cy="196.9" rx="5.3" ry="4.9" fill="#a8a3a1" opacity="0.55" filter="url(#soft2)"/>
<ellipse cx="440.9" cy="209.2" rx="6.8" ry="6.7" fill="#a8a3a1" opacity="0.55" filter="url(#soft2)"/>
<ellipse cx="288.9" cy="192.5" rx="8.1" ry="4.0" fill="#b0aba9" opacity="0.55" filter="url(#soft2)"/>
<ellipse cx="235.8" cy="199.9" rx="9.7" ry="3.5" fill="#a49f9d" opacity="0.55" filter="url(#soft2)"/>
<ellipse cx="342.4" cy="216.9" rx="10.6" ry="5.8" fill="#b0aba9" opacity="0.55" filter="url(#soft2)"/>
<ellipse cx="417.5" cy="195.9" rx="13.2" ry="4.9" fill="#a8a3a1" opacity="0.55" filter="url(#soft2)"/>
<ellipse cx="340.8" cy="200.7" rx="4.2" ry="5.5" fill="#a8a3a1" opacity="0.55" filter="url(#soft2)"/>
<ellipse cx="383.0" cy="212.5" rx="5.4" ry="3.3" fill="#b0aba9" opacity="0.55" filter="url(#soft2)"/>
<ellipse cx="373.1" cy="202.3" rx="13.0" ry="5.9" fill="#a8a3a1" opacity="0.55" filter="url(#soft2)"/>
<ellipse cx="457.8" cy="214.2" rx="7.5" ry="5.7" fill="#b0aba9" opacity="0.55" filter="url(#soft2)"/>
<ellipse cx="524.5" cy="216.4" rx="13.4" ry="3.1" fill="#c8c3c0" opacity="0.55" filter="url(#soft2)"/>
<ellipse cx="389.0" cy="192.4" rx="7.8" ry="3.0" fill="#c8c3c0" opacity="0.55" filter="url(#soft2)"/>
<ellipse cx="244.4" cy="194.5" rx="13.9" ry="6.5" fill="#a8a3a1" opacity="0.55" filter="url(#soft2)"/>
<ellipse cx="466.1" cy="202.9" rx="8.6" ry="4.9" fill="#a49f9d" opacity="0.55" filter="url(#soft2)"/>
<ellipse cx="402.9" cy="206.5" rx="4.3" ry="5.4" fill="#a49f9d" opacity="0.55" filter="url(#soft2)"/>
<ellipse cx="382.6" cy="198.4" rx="9.0" ry="5.5" fill="#a8a3a1" opacity="0.55" filter="url(#soft2)"/>
<ellipse cx="531.1" cy="199.2" rx="7.7" ry="3.6" fill="#a8a3a1" opacity="0.55" filter="url(#soft2)"/>
<ellipse cx="426.8" cy="206.5" rx="10.6" ry="4.8" fill="#b0aba9" opacity="0.55" filter="url(#soft2)"/>
<path d="M217,180.4 L561,173.9 L561,183.4 L217,189.9 Z" fill="#c2bebc"/>
<path d="M217,180.4 L561,173.9 L561,176.4 L217,184.4 Z" fill="#8e8987"/>
<path d="M218.0,180.4V188.9M221.3,180.3V188.8M224.7,180.3V188.8M231.3,180.1V188.6M234.6,180.1V188.6M238.0,180.0V188.5M241.3,179.9V188.4M247.9,179.8V188.3M251.2,179.8V188.3M254.6,179.7V188.2M257.9,179.6V188.1M264.5,179.5V188.0M267.9,179.4V187.9M271.2,179.4V187.9M274.5,179.3V187.8M281.1,179.2V187.7M284.5,179.1V187.6M287.8,179.1V187.6M291.1,179.0V187.5M297.8,178.9V187.4M301.1,178.8V187.3M304.4,178.7V187.2M307.7,178.7V187.2M314.4,178.6V187.1M317.7,178.5V187.0M321.0,178.4V186.9M324.3,178.4V186.9M331.0,178.2V186.7M334.3,178.2V186.7M337.6,178.1V186.6M341.0,178.1V186.6M347.6,177.9V186.4M350.9,177.9V186.4M354.2,177.8V186.3M357.6,177.7V186.2M364.2,177.6V186.1M367.5,177.6V186.1M370.9,177.5V186.0M374.2,177.4V185.9M380.8,177.3V185.8M384.1,177.2V185.7M387.5,177.2V185.7M390.8,177.1V185.6M397.4,177.0V185.5M400.8,176.9V185.4M404.1,176.9V185.4M407.4,176.8V185.3M414.0,176.7V185.2M417.4,176.6V185.1M420.7,176.6V185.1M424.0,176.5V185.0M430.7,176.4V184.9M434.0,176.3V184.8M437.3,176.2V184.7M440.6,176.2V184.7M447.3,176.0V184.5M450.6,176.0V184.5M453.9,175.9V184.4M457.2,175.9V184.4M463.9,175.7V184.2M467.2,175.7V184.2M470.5,175.6V184.1M473.9,175.5V184.0M480.5,175.4V183.9M483.8,175.4V183.9M487.1,175.3V183.8M490.5,175.2V183.7M497.1,175.1V183.6M500.4,175.0V183.5M503.8,175.0V183.5M507.1,174.9V183.4M513.7,174.8V183.3M517.0,174.7V183.2M520.4,174.7V183.2M523.7,174.6V183.1M530.3,174.5V183.0M533.7,174.4V182.9M537.0,174.4V182.9M540.3,174.3V182.8M546.9,174.2V182.7M550.3,174.1V182.6M553.6,174.0V182.5M556.9,174.0V182.5" stroke="#7a7472" stroke-width="1.3" fill="none" opacity="0.85"/>
<path d="M228.0,180.2V193.2M244.6,179.9V196.4M261.2,179.6V192.6M277.8,179.3V195.8M294.4,178.9V191.9M311.0,178.6V195.1M327.7,178.3V191.3M344.3,178.0V194.5M360.9,177.7V190.7M377.5,177.4V193.9M394.1,177.1V190.1M410.7,176.7V193.2M427.3,176.4V189.4M443.9,176.1V192.6M460.6,175.8V188.8M477.2,175.5V192.0M493.8,175.2V188.2M510.4,174.9V191.4M527.0,174.5V187.5M543.6,174.2V190.7" stroke="#6a6462" stroke-width="1.1" fill="none" opacity="0.9"/>
<text x="241.2" y="217.2" font-size="17.5" font-weight="normal" text-anchor="middle" style="fill:#2a2626;stroke:#bcb8b5;stroke-width:0.45px">2</text>
<text x="274.6" y="217.0" font-size="17.5" font-weight="normal" text-anchor="middle" style="fill:#2a2626;stroke:#bcb8b5;stroke-width:0.45px">3</text>
<text x="307.6" y="216.8" font-size="17.5" font-weight="normal" text-anchor="middle" style="fill:#2a2626;stroke:#bcb8b5;stroke-width:0.45px">4</text>
<text x="341.6" y="217.0" font-size="22" font-weight="normal" text-anchor="middle" style="fill:#6c1e22;stroke:#bcb8b5;stroke-width:0.45px">5</text>
<text x="375.3" y="216.4" font-size="17.5" font-weight="normal" text-anchor="middle" style="fill:#2a2626;stroke:#bcb8b5;stroke-width:0.45px">6</text>
<text x="409.3" y="214.4" font-size="17.5" font-weight="normal" text-anchor="middle" style="fill:#2a2626;stroke:#bcb8b5;stroke-width:0.45px">7</text>
<text x="443.3" y="214.2" font-size="17.5" font-weight="normal" text-anchor="middle" style="fill:#2a2626;stroke:#bcb8b5;stroke-width:0.45px">8</text>
<text x="476.6" y="214.0" font-size="17.5" font-weight="normal" text-anchor="middle" style="fill:#2a2626;stroke:#bcb8b5;stroke-width:0.45px">9</text>
<text x="508.8" y="213.3" font-size="22.5" font-weight="normal" text-anchor="middle" style="fill:#6c1e22;stroke:#bcb8b5;stroke-width:0.45px">10</text>
<text x="542" y="213.5" font-size="17.5" font-weight="normal" text-anchor="middle" style="fill:#2a2626;stroke:#bcb8b5;stroke-width:0.45px">1</text>
<text x="518.6" y="191.4" font-size="7.2" text-anchor="middle" style="fill:#4a4444;stroke:none">mm</text>
</g>
</g>
<g id="histo">
<defs><filter id="hb" x="-50%" y="-50%" width="200%" height="200%"><feGaussianBlur stdDeviation="5"/></filter><filter id="hb2" x="-50%" y="-50%" width="200%" height="200%"><feGaussianBlur stdDeviation="1"/></filter><filter id="hsoft" x="0" y="0" width="100%" height="100%"><feGaussianBlur stdDeviation="0.7"/></filter></defs>
<clipPath id="c1"><rect x="122.7" y="602.4" width="199.7" height="134.4"/></clipPath>
<g clip-path="url(#c1)"><g filter="url(#hsoft)">
<rect x="119.7" y="599.4" width="205.7" height="140.4" fill="#ddd0d6"/>
<ellipse cx="232.5" cy="642.7" rx="20.0" ry="26.9" fill="#f4ecec" opacity="0.7" filter="url(#hb)"/>
<ellipse cx="266.5" cy="683.0" rx="24.0" ry="26.9" fill="#efe4e4" opacity="0.5" filter="url(#hb)"/>
<ellipse cx="172.6" cy="676.3" rx="39.9" ry="40.3" fill="#d0b8bc" opacity="0.4" filter="url(#hb)"/>
<path d="M168.8 600.8l1.3 0.3M282.4 632.5l-0.6 0.0M144.3 732.2l-0.6 0.4M168.5 708.4l-1.8 0.6M301.5 657.1l0.4 1.1M323.3 653.9l-0.4 0.5M232.8 703.9l-0.2 1.4M247.5 625.4l-1.0 0.2M191.3 683.1l0.6 0.1M286.4 707.9l-0.8 1.3M300.6 668.3l-0.8 0.3M131.3 636.1l1.0 0.6M269.1 604.3l-1.4 1.1M239.1 717.9l0.8 1.0M305.2 618.9l0.6 0.1M186.8 668.8l0.6 0.4M278.4 709.8l1.2 0.2M172.2 696.8l0.2 0.5M183.7 725.1l-0.2 1.2M319.7 649.6l1.9 0.7M268.1 663.5l0.0 1.1M249.4 733.7l0.0 1.2M170.7 727.3l-1.2 0.7M317.0 737.3l0.5 0.8M271.9 664.4l-1.2 1.6M151.9 694.7l0.9 1.1M209.7 685.8l0.3 0.7M302.9 651.6l-1.4 0.9M228.5 607.2l-0.2 1.1M309.2 722.7l1.3 0.3M283.7 647.2l0.6 0.8M248.4 723.6l-0.0 0.6M258.8 626.7l0.6 0.1M269.0 673.0l1.4 1.1M282.4 602.0l-0.5 1.3M274.6 689.9l-0.2 1.9M300.5 650.6l0.9 0.6M230.7 713.2l0.7 0.1M206.9 680.7l1.2 0.9M303.0 671.5l0.2 0.8M197.7 668.2l0.2 1.3M323.1 652.6l-0.2 0.4M286.2 667.2l-0.9 0.5M297.0 704.4l-0.7 0.6M282.2 728.9l-1.7 0.6M150.5 715.4l0.9 1.2M189.0 690.3l0.7 0.3M132.5 696.8l-0.6 0.3M138.4 668.2l0.9 1.5M187.6 630.2l0.7 0.4M247.8 717.7l-0.1 0.7M122.5 642.3l0.8 1.7M280.6 605.1l-1.4 1.2M267.3 673.8l-0.5 0.9M131.6 640.2l-0.8 0.6M274.2 621.1l-0.3 0.6M182.7 646.1l0.4 1.8M161.5 604.8l0.9 1.6M170.8 738.3l-1.1 0.1M208.4 692.3l0.2 0.7M148.6 601.0l-0.9 0.8M130.6 688.5l0.8 1.0M200.5 701.2l-0.6 0.8M290.8 736.0l0.8 1.2M263.7 717.5l-1.0 0.2M177.5 708.8l0.9 0.5M191.2 629.9l1.5 0.9M293.2 686.4l1.6 0.5M309.9 643.1l0.3 0.8M269.3 634.2l0.2 0.9M298.8 738.2l-1.9 0.5M300.0 726.6l0.1 1.6M305.9 623.5l-0.6 0.4M267.9 604.7l-0.3 0.6M194.7 684.3l-0.8 0.8M153.2 657.3l0.4 0.8M131.1 611.3l0.4 0.8M140.0 700.5l0.4 1.6M279.9 633.2l-0.6 0.9M208.5 602.5l0.9 0.6M240.2 724.1l0.4 1.0M190.2 659.6l-1.5 0.2M168.4 626.1l1.3 1.1M267.6 693.7l-1.7 0.9M215.2 606.2l-0.2 0.8M162.4 671.5l0.3 0.6M137.8 701.1l-1.6 0.1M222.3 644.6l-0.5 1.0M174.7 665.8l0.4 1.6M304.9 626.7l-1.2 1.2M281.7 735.0l0.6 0.6M150.3 711.6l-1.9 0.2M221.2 658.0l0.7 0.6M155.0 701.5l-0.4 1.3M260.8 715.8l0.4 1.1M175.7 687.4l0.9 1.3M155.1 605.5l0.6 1.7M249.7 718.2l1.2 0.9M251.1 731.6l0.1 1.3M173.4 727.4l0.9 0.1M251.8 691.4l-0.8 1.7M184.6 720.1l0.3 1.0M315.2 641.7l-0.7 0.4M158.1 717.7l-1.2 0.5M184.8 621.9l-0.3 1.4M320.1 659.4l1.2 1.5M257.9 609.7l0.7 1.4M156.5 698.8l0.1 1.5M244.9 652.5l-1.5 1.0M120.7 642.3l1.4 0.8M267.2 610.4l-1.5 0.4M135.3 685.4l1.4 0.3M220.6 685.2l-1.5 0.5M190.9 708.5l-0.6 1.3M322.2 709.4l0.3 0.7M201.4 699.6l0.2 1.3M182.9 689.3l1.8 0.8M139.1 719.3l-0.9 0.8M299.1 718.6l1.6 0.8M191.5 661.9l0.8 0.6M243.0 662.2l-0.2 1.1M150.1 735.6l0.7 0.9M182.1 616.8l-0.9 1.2M245.4 728.7l-0.6 0.5M307.6 735.8l-0.5 0.3M171.0 672.6l0.4 1.9M295.5 668.1l-1.2 0.6M193.8 650.1l-1.2 0.2M241.0 706.6l-0.3 1.0M179.7 637.7l-1.3 0.1M141.3 673.3l1.0 0.1M225.6 665.1l0.8 0.2M241.1 613.0l0.8 0.7M138.1 699.0l0.5 1.5M206.8 709.9l0.2 1.3M317.6 662.4l-1.2 0.1M144.2 683.8l-0.0 0.6M167.4 727.7l1.1 1.3M303.0 692.6l0.7 1.2M302.4 704.8l1.0 0.3M189.0 622.2l1.6 0.6M246.8 728.5l-0.5 0.3M125.3 724.1l0.2 2.0M300.4 714.9l1.0 0.3M290.3 607.1l0.1 0.5M323.5 610.2l-0.5 0.7M304.1 623.2l-1.1 0.2M275.8 662.9l1.3 0.4M123.3 733.6l-1.2 0.5M207.4 706.3l-0.8 0.9M193.6 726.7l1.6 0.7M288.2 631.2l1.3 0.6M312.5 611.7l-1.9 0.2M140.4 614.8l0.5 1.3M125.0 637.4l1.2 1.0M192.9 732.4l-0.9 0.8M287.5 626.8l0.1 0.6M307.7 628.1l1.5 0.4M237.0 687.0l-0.6 0.5M153.7 688.7l-1.0 0.4M233.7 614.5l1.3 1.4M312.9 672.3l-0.2 1.1M294.1 680.2l-1.2 1.3M284.3 666.0l0.7 0.1M125.9 622.6l0.3 0.5M226.4 622.7l0.1 0.6M222.7 606.8l0.4 0.8M242.7 669.3l-0.5 0.6M323.5 697.5l-1.2 0.9M218.2 698.2l-0.4 1.7M323.4 733.4l0.5 1.1M149.7 676.0l-1.0 0.6M233.9 737.4l0.8 0.2M264.5 640.0l-1.5 0.1M165.1 610.0l-0.7 1.5M204.3 617.8l0.0 1.4M194.1 670.2l-0.5 0.6M210.6 603.5l1.0 0.2M291.6 683.0l1.0 1.1M167.7 645.9l-0.7 0.0M161.5 670.7l1.8 0.6M252.8 612.4l-0.4 1.5M185.1 601.5l1.2 1.4M135.2 640.8l1.3 0.2M178.1 704.4l-1.0 1.4M289.9 673.8l0.3 1.5M131.1 662.7l0.4 0.5M211.2 677.4l-1.4 0.8M153.0 647.0l-1.0 0.4M144.7 614.1l1.2 0.3M261.8 627.2l0.2 1.6M323.1 617.9l1.1 0.4M219.3 713.3l1.2 1.2M286.9 610.9l-0.1 0.6M125.3 696.5l0.7 1.7M140.8 678.3l0.1 1.2M278.0 726.3l-1.8 0.4M163.3 683.5l-0.6 1.4M185.7 658.1l-0.2 0.5M147.2 718.8l-0.2 1.4M200.2 621.9l-0.7 0.5M148.6 705.2l-1.3 1.1M155.8 637.8l-0.5 0.3M125.1 649.6l-1.5 0.2M137.0 711.9l-1.4 1.4M179.7 663.5l-0.9 0.7M235.5 730.2l0.9 0.4M267.4 663.9l0.0 1.0M263.4 651.8l-0.2 1.7M260.6 726.4l1.7 0.2M256.2 604.0l1.2 0.2M183.6 639.1l0.3 0.7M255.4 718.2l-1.0 1.3M256.3 733.0l-1.2 0.1M182.4 648.2l0.2 1.0M310.1 648.7l-1.1 1.5M206.0 625.8l0.0 1.6M164.9 679.1l-0.6 1.4M179.9 728.3l-1.0 0.9M250.4 635.6l0.5 0.3M260.4 653.5l-1.0 0.4M290.8 670.7l-0.9 1.6M148.5 684.1l0.8 0.6M205.1 601.1l0.8 0.6M301.6 729.0l-0.1 1.2M124.7 644.2l-1.5 0.2M188.5 663.8l0.8 1.4M175.3 718.9l-0.8 0.2M256.5 628.3l-1.3 0.8M229.0 603.7l-0.6 1.1M175.9 734.2l-1.8 0.4M173.0 687.5l0.9 1.3M236.5 681.2l0.1 0.5M180.6 665.5l-0.8 0.1M197.7 704.0l-0.4 0.5M209.6 711.2l-0.4 1.2M165.8 699.4l0.6 0.3M156.1 639.7l-0.8 0.3M305.3 602.1l0.3 0.5M145.8 663.8l0.6 1.5M137.7 677.0l-1.1 1.2M188.7 660.6l0.8 1.0M186.3 604.3l0.8 1.6M316.9 634.4l0.3 1.8M298.3 682.3l0.1 1.4M141.3 603.0l-1.0 0.4M323.0 727.9l0.7 1.7M194.9 680.4l1.5 0.3M240.6 703.8l-0.0 1.5M191.7 708.7l0.2 0.8M195.2 713.9l-0.8 0.7M215.0 647.2l-0.1 1.0M165.8 719.4l0.3 0.7M305.0 667.0l0.1 0.9M292.1 622.5l0.6 1.8M277.3 615.5l-1.1 0.1M294.8 641.1l2.0 0.1M262.9 602.7l-0.8 1.3M121.3 644.9l-0.6 0.1M156.3 641.1l-1.5 0.7M300.2 726.7l-1.6 0.0M186.5 686.5l-0.2 0.8M170.0 628.8l-0.4 0.5M188.1 600.8l-0.7 1.6M307.2 693.1l-1.0 0.1M178.2 652.4l-0.0 1.1M138.5 672.5l1.4 1.2M285.5 689.5l1.4 0.3M176.1 698.2l-1.3 0.4M185.1 650.1l0.6 0.2M132.1 630.6l0.1 1.1M318.2 724.5l-1.7 0.4M307.5 705.7l-0.7 0.2M281.7 681.5l-0.6 1.1M164.6 602.2l0.7 0.9M162.8 649.7l0.7 1.0M223.2 724.6l-1.5 0.8M173.1 602.6l-1.2 0.5M159.8 677.3l0.8 0.3M129.3 724.1l-1.0 1.0M240.6 722.6l-0.9 1.7M143.3 605.7l0.2 0.6M263.6 639.5l0.4 0.5M187.3 715.4l0.7 0.1M195.1 710.7l0.8 1.0M188.1 689.1l0.4 0.7M176.0 615.5l-0.6 0.8M265.9 737.9l-1.5 0.3M228.9 696.3l0.3 0.9M158.8 616.7l-0.0 1.5M270.9 646.2l0.3 0.6M206.2 697.1l-0.6 0.6M132.2 730.2l-1.8 0.6M204.3 623.5l1.9 0.3M174.5 637.1l0.4 1.9M307.7 690.6l0.5 0.9M159.0 632.8l-0.4 1.8M191.9 603.8l-1.0 1.4M280.1 657.3l-0.6 1.3M259.4 709.5l-0.3 0.4M154.0 616.8l-1.7 0.7M217.5 701.5l-0.2 0.6M121.4 691.6l0.4 0.8M272.0 689.3l-0.1 1.0M287.7 705.1l-0.6 0.4M166.0 668.6l-1.4 0.2M166.8 678.0l-0.7 1.6M287.1 649.5l1.3 0.8M139.9 657.7l-0.2 0.6M219.9 617.6l-0.7 0.2M267.4 707.7l-1.7 0.4M139.4 643.9l-1.1 0.9M321.6 737.8l-0.2 1.1M189.9 610.2l0.3 1.8M130.7 682.8l-1.2 1.4M126.0 644.0l-0.8 0.6M237.7 679.7l1.7 1.0M295.7 687.4l1.8 0.2M306.7 689.9l0.4 1.1M220.1 705.6l1.3 1.3M186.3 617.5l0.6 0.4M273.1 653.2l-0.5 0.6M303.1 697.3l1.1 0.4M211.6 718.3l1.9 0.3M322.2 704.2l0.6 0.7M209.0 632.3l-0.8 1.0M190.5 608.9l-0.5 0.0M123.4 731.7l0.8 0.2M277.9 630.7l-0.3 1.0M287.0 681.9l-0.3 0.5M211.0 669.5l-0.8 0.2M316.8 646.6l-1.5 1.1M187.0 698.3l-0.7 0.2M222.9 622.2l1.0 0.5M196.6 667.7l-1.3 1.0M127.9 637.6l1.3 0.1M307.1 667.4l0.2 0.6M226.0 676.3l1.3 1.2M260.7 601.2l1.9 0.0M149.1 720.3l-0.6 1.0M274.8 728.7l-1.9 0.3M310.0 633.4l-0.5 0.2M148.9 670.5l-1.5 0.7M307.0 637.0l-0.2 1.5M145.4 685.4l-1.0 1.2M196.2 627.2l1.9 0.0M250.7 669.5l1.0 0.2M300.4 674.9l-1.0 0.8M298.1 635.2l0.9 1.3M274.7 718.8l1.7 0.3M143.7 637.6l0.1 1.8M319.8 712.7l1.0 0.7M321.4 713.9l0.3 1.1M176.8 697.0l0.7 0.8M166.8 734.8l-1.1 1.6M261.4 664.9l1.7 0.1M280.7 730.7l-0.8 0.6M261.6 630.7l-1.0 0.2M319.6 619.7l-1.1 0.8M128.5 688.8l-0.8 0.1M150.1 687.4l-0.3 0.5M126.2 637.3l0.1 0.8M307.2 686.0l0.3 0.8M187.0 726.4l-0.1 1.1M198.1 660.6l-0.7 0.8M252.3 646.3l1.5 0.8M215.1 673.4l0.9 0.1M255.2 647.0l-1.7 0.3M254.0 714.5l-0.6 1.7M198.7 699.3l1.9 0.2M309.0 654.8l-1.0 1.4M227.7 605.8l-0.8 0.1M312.5 629.0l0.8 0.4M206.0 625.2l1.6 1.0M161.2 630.9l1.4 0.7M194.8 635.8l-0.9 0.1M281.0 697.6l0.8 0.2M174.0 718.0l-0.7 1.0M276.1 652.4l-1.6 0.2M187.0 603.0l0.6 1.2M202.5 624.1l0.2 1.4M306.2 612.1l-1.0 0.4M202.4 605.4l0.6 0.1M187.4 660.6l-0.1 1.9M183.3 699.1l1.2 0.6M288.7 634.4l0.9 1.4M164.3 636.4l0.8 0.0M167.6 722.5l-1.0 0.7M304.4 715.6l0.7 0.1M162.7 690.5l0.7 0.2M155.1 667.3l-0.8 0.1M196.8 698.6l0.8 0.5M293.1 724.6l-0.2 0.6M244.1 714.0l1.0 0.7M227.4 700.0l-0.6 0.4M297.1 612.5l0.7 1.5M182.5 737.3l0.9 0.1M168.6 729.4l0.5 0.2M281.3 714.3l-1.6 1.0M185.8 646.2l-0.1 1.2M229.5 606.2l0.7 0.1M204.6 716.9l-0.5 0.6M227.7 715.1l0.5 0.8M138.5 704.8l0.6 0.3M293.9 620.7l-0.8 1.1M211.5 665.9l-0.6 0.0M226.0 704.0l-1.1 1.0M149.4 671.0l0.6 0.3M128.1 638.6l1.4 0.3M212.0 614.5l-0.4 0.9M305.8 710.9l-1.1 1.0M279.9 660.3l0.3 0.6M133.7 648.8l0.5 0.2M203.1 727.5l0.5 0.2M253.6 634.2l-0.2 0.8M305.7 607.6l0.1 1.0M236.8 607.1l0.9 0.2M272.1 620.4l-0.7 0.0M214.0 669.6l-0.1 0.8M159.2 624.5l-0.2 0.7M197.7 639.3l0.4 0.5M268.6 656.6l-0.2 0.7M278.1 651.0l0.4 1.1M143.4 669.8l0.6 1.7M300.9 661.8l1.2 0.5M190.8 643.6l-0.8 0.6M164.7 629.3l1.6 0.5M241.8 687.9l-0.9 1.2M122.0 653.0l0.1 0.7M297.7 725.1l0.7 0.0M314.6 644.6l-0.9 1.7M278.6 709.3l0.4 0.8M131.8 653.9l-1.4 0.5M182.8 671.3l-0.1 0.5M133.9 733.9l-0.5 1.5M267.2 657.5l-0.2 0.9M214.7 733.6l0.9 0.2M274.5 659.0l-0.4 0.8M253.3 612.9l0.7 1.1M210.2 647.5l-1.0 0.3M138.1 705.7l1.4 0.5M211.5 678.8l-1.0 0.5M253.2 614.4l1.0 0.3M239.0 642.0l0.4 0.3M226.9 643.6l-0.9 1.4M201.7 728.7l1.3 0.7M127.3 717.5l-0.5 0.6M194.0 615.7l1.7 0.9M207.4 689.2l-0.2 0.8M223.5 689.1l-0.6 0.4" stroke="#c4b0b4" stroke-width="3.5" stroke-linecap="round" fill="none" opacity="0.5"/>
<path d="M145.0 646.5l0.9 0.7M251.6 631.3l-1.3 1.7M304.0 607.1l-1.2 1.0M320.7 669.2l-1.0 0.9M226.0 613.5l-0.8 1.8M186.2 638.1l-1.2 0.1M133.4 661.2l-0.6 1.5M295.5 664.9l-1.5 0.7M153.1 663.6l1.2 0.5M163.3 674.7l-0.9 0.1M199.9 684.0l-0.5 1.7M158.8 631.2l-0.3 0.8M314.4 614.7l1.1 1.2M299.3 621.6l0.9 1.8M132.3 679.7l1.0 1.5M169.7 640.9l-1.8 0.8M124.0 637.5l1.1 0.4M230.7 704.7l0.2 1.0M243.5 686.6l0.1 0.9M231.6 618.7l-0.8 1.9M234.9 680.6l1.1 0.2M151.1 674.6l0.4 1.1M203.4 645.0l-1.2 0.4M123.9 658.5l-1.1 0.4M263.8 706.4l-1.4 0.7M202.7 679.8l0.3 1.6M210.8 705.2l0.7 0.4M154.2 656.0l-1.0 0.3M238.5 721.7l0.9 1.5M310.6 657.5l1.1 0.9M279.9 678.5l-1.2 0.8M202.0 617.6l1.6 0.3M165.1 660.2l1.2 0.1M158.2 705.6l1.1 1.1M277.8 666.7l-0.6 0.6M254.3 635.0l-0.8 0.3M217.6 725.4l0.7 0.7M256.0 600.9l0.5 0.9M261.2 616.9l0.8 1.4M239.9 614.5l-0.3 0.9M315.3 712.5l1.6 0.5M152.7 607.9l-1.1 0.4M281.7 607.9l-1.2 1.3M134.3 672.4l-0.2 1.0M242.4 719.2l1.2 1.3M159.6 663.9l-0.7 0.9M124.1 680.4l0.4 1.5M148.7 673.0l-1.4 0.2M232.7 666.0l1.1 0.4M232.3 621.2l0.9 1.7M121.6 662.7l-0.5 1.0M135.6 708.5l0.7 1.3M225.7 624.5l1.7 1.3M191.8 734.3l-1.4 0.2M308.0 607.5l-0.5 2.0M131.4 666.1l1.3 1.1M217.0 689.1l-0.9 0.4M208.0 640.9l0.4 1.8M286.3 713.8l1.9 0.6M174.6 693.0l-1.5 0.2M280.3 624.0l-0.3 1.4M210.2 622.3l-0.3 0.9M295.1 602.1l-0.2 1.5M159.8 686.2l1.0 0.2M317.6 698.6l-0.3 1.6M299.4 731.7l-0.8 0.2M269.2 632.0l-1.2 1.0M160.0 659.7l1.5 0.5M189.5 604.0l-0.0 1.2M268.2 617.9l-1.2 0.6M170.5 621.8l-0.8 0.3M223.5 613.7l0.6 1.2M174.8 644.5l-1.9 0.7M193.6 669.0l-0.6 1.7M128.3 723.2l0.7 0.8M303.5 687.4l-1.3 0.9M212.9 695.0l-2.0 0.7M183.7 728.4l-0.9 0.4M263.7 720.4l-0.6 1.1M150.6 627.8l0.8 1.0M183.0 676.3l1.5 0.4M268.3 715.8l1.2 1.6M299.9 633.1l-0.2 0.8M134.9 726.1l0.6 0.6M281.2 679.6l-0.1 1.5M192.5 618.0l-1.6 1.3M177.8 661.7l-1.1 1.7M229.6 613.5l-0.8 1.4M176.9 625.9l-1.4 0.4M150.6 718.3l1.1 0.6M284.0 609.8l0.6 1.7M196.1 618.6l-1.7 0.5M122.9 667.2l1.2 0.4M152.1 665.4l-1.0 0.5M162.5 700.0l0.3 1.1M145.1 656.5l-1.1 0.4M232.6 686.2l-1.9 0.1M300.2 631.7l-1.5 1.6M221.0 728.9l1.2 0.9M279.2 631.2l1.1 0.9M123.8 693.4l0.6 1.3M152.3 652.1l0.7 0.5M192.4 711.4l-1.3 0.3M170.2 686.5l0.2 0.9M276.0 647.6l-1.7 0.9M152.1 679.6l-1.8 0.3M196.0 730.4l-0.1 1.6M128.9 619.8l1.5 0.7M298.8 707.3l0.4 1.1M195.0 729.3l0.3 0.8M182.5 713.3l1.3 1.6M159.6 678.3l1.6 0.7M201.3 713.0l1.1 0.4M297.8 626.7l-1.1 0.7M198.5 622.9l-0.1 1.0M252.7 648.3l-1.4 1.0M318.3 729.6l0.8 1.0M152.1 658.5l0.8 1.2M192.6 718.2l-1.9 0.9M134.7 691.5l1.2 1.0M168.1 730.5l1.1 1.0M274.4 621.8l-1.6 1.3M196.9 653.7l1.6 1.5M214.2 601.5l-1.2 0.5M132.0 698.0l0.6 0.6M259.3 717.5l-0.5 1.0M179.9 700.2l1.5 1.6M267.7 639.2l0.2 0.9M175.9 641.8l-0.7 1.6M163.4 600.9l0.6 0.7M323.5 623.1l-1.2 1.2M285.7 602.5l-1.3 0.5M243.3 673.6l-0.4 1.1M208.2 725.6l-1.0 0.0M234.1 606.2l-1.6 0.4M227.3 697.3l1.1 1.8M259.6 655.8l0.6 1.4M245.8 667.6l0.7 1.1M218.2 729.5l-1.0 1.1M303.2 620.4l-1.8 1.1M138.0 725.6l-0.1 1.5M187.2 655.9l-0.4 0.8M122.9 705.4l0.9 0.2M167.2 705.4l1.2 1.7M131.4 678.9l1.1 1.1M261.6 715.5l0.4 2.0M130.7 721.4l-0.1 1.6M138.4 640.9l1.5 0.3M207.0 697.1l0.7 1.0M242.6 645.3l1.7 0.6M216.8 663.3l0.7 2.0M309.8 727.1l-0.4 1.2M218.7 712.2l-0.9 0.5M184.5 624.8l0.4 0.8M280.0 622.9l-1.2 0.2M304.3 709.5l1.5 0.8M284.5 672.7l0.1 1.2M238.8 735.5l1.4 1.3M279.3 729.2l-0.6 0.6M273.7 731.1l1.9 1.1M296.2 653.3l-0.4 1.3M289.0 653.8l0.6 1.4M276.5 651.6l-0.5 1.5M324.3 618.0l1.6 1.5M128.6 632.6l0.7 0.6M141.7 622.8l1.2 1.0M251.9 644.5l1.4 0.7M317.2 681.9l-2.0 0.6M149.5 608.6l0.4 1.0M311.0 736.1l-0.2 1.0M218.9 688.6l0.0 1.1M182.7 677.3l0.3 0.8M151.4 734.1l0.7 0.7M248.6 616.9l0.4 0.9M186.0 618.7l-1.1 1.1M143.8 640.1l-0.9 0.3M278.0 702.8l-1.6 0.8M227.7 669.8l-2.1 0.4M320.9 612.9l0.6 0.7M242.9 677.9l-2.0 0.4M127.3 609.2l-1.0 0.9M216.9 726.5l0.5 2.0M248.7 666.8l-1.3 1.3M271.0 625.2l-1.4 1.3M161.1 714.8l-1.9 0.8M172.4 649.4l1.3 1.7M319.4 603.6l-2.0 0.7M208.1 668.5l0.6 1.0M293.7 622.4l-0.1 1.3M288.3 633.1l1.1 0.7M158.5 723.5l0.6 1.5M183.1 720.3l-0.9 0.1M253.0 724.0l1.3 0.9M223.3 659.3l0.8 1.0M250.4 696.4l1.8 1.0M158.6 654.8l-1.4 1.3M195.9 653.4l-0.8 1.0M247.7 694.8l1.1 0.4M256.4 681.9l-0.7 1.1M219.3 677.7l-0.8 0.9M141.0 693.6l-1.9 1.1M256.2 712.9l0.1 1.2M271.1 715.1l1.1 0.1M172.1 661.7l-0.3 1.3M160.0 686.6l-0.7 1.4M137.3 707.6l1.3 0.1M206.6 633.5l-1.9 0.1M166.4 667.8l1.5 0.7M306.5 630.1l1.9 0.8M214.6 724.8l-0.5 2.0M132.1 624.8l-1.0 0.7M244.9 684.4l1.1 0.4M297.5 673.8l1.2 0.9M160.6 702.0l1.5 0.1M232.7 687.0l2.0 0.7M256.8 665.6l0.9 0.8M298.1 663.1l-0.0 1.7M152.3 630.3l0.9 0.8M162.8 689.2l-0.8 1.4M162.6 625.2l-1.7 0.3M304.7 653.0l-0.5 0.7M205.3 602.1l0.2 1.3M279.5 609.9l-0.4 0.8M152.4 667.4l1.0 1.3M198.6 630.9l0.4 1.5M189.3 616.0l-0.6 2.0M154.3 698.3l-1.2 0.5M166.5 721.7l0.9 1.0M168.9 670.1l0.2 0.9M313.2 718.5l0.8 1.2M302.2 651.8l0.2 1.2M281.6 667.9l0.9 0.2M309.8 668.7l1.8 0.9M283.1 600.6l-0.4 1.9M194.1 662.3l2.0 0.1M140.6 692.0l-1.2 1.8M213.5 737.9l0.8 1.5M209.9 686.2l1.8 0.7M170.6 629.4l-1.2 1.4M210.9 649.7l-1.6 0.9M266.4 711.3l1.7 0.3M196.9 697.6l1.5 0.6M279.6 689.3l-1.2 1.6M259.7 727.2l0.7 1.6M150.5 738.2l-0.4 1.0M122.9 694.9l-0.8 0.3M255.6 679.8l1.2 0.3M291.3 693.3l0.9 1.5M222.6 721.7l1.0 0.0M316.7 634.5l0.3 1.1M258.4 707.8l-1.1 0.2M199.8 707.5l2.1 0.0M312.3 602.3l2.0 0.8M215.3 659.3l0.6 0.5M150.6 703.6l1.4 0.6M243.9 613.9l-1.9 0.7M311.6 692.6l1.9 0.8M239.7 633.8l-0.7 1.3M171.9 724.1l1.5 0.1M299.5 607.4l0.4 1.5M147.1 603.4l0.2 1.1M288.7 628.3l-1.2 1.2M154.1 728.2l-0.7 0.6M130.9 609.3l1.2 0.5M312.0 738.0l-0.8 0.4M278.4 735.9l-0.2 1.3M162.9 668.7l-1.0 0.4M215.5 699.3l-1.2 1.1M199.8 604.5l-0.3 1.3M215.1 694.4l0.5 1.5M292.9 652.1l-1.0 1.3M251.7 600.8l1.7 0.1M275.7 726.9l-1.4 1.6M191.7 708.8l-0.8 0.3M165.3 698.4l1.4 0.9M297.1 626.3l-0.6 1.3M314.9 714.4l0.3 1.6M300.9 605.7l-0.2 1.8M244.6 665.6l0.6 1.2M237.1 668.6l0.9 0.6M211.2 712.5l0.9 1.2M248.1 707.7l-0.1 2.1M157.3 650.1l1.2 1.3M309.8 619.6l0.7 1.6M320.7 651.7l0.7 0.7M195.5 695.9l0.3 1.8M299.8 602.8l1.9 1.0M180.8 716.3l-1.0 0.2M159.3 677.5l1.1 0.7M313.1 672.4l-1.8 0.8M254.8 652.0l-1.5 1.0M201.2 614.9l-0.2 0.9M307.8 674.4l-1.7 0.7M322.8 718.4l-0.6 1.7M248.5 606.1l1.0 0.4M134.7 717.5l1.4 1.0M278.4 695.3l-0.9 1.1M184.0 678.3l1.2 1.1M229.6 677.5l1.7 0.5M188.0 602.0l0.9 0.1M181.6 715.7l0.7 1.2M130.5 730.2l2.0 0.7M310.4 728.4l0.7 1.2M163.2 667.3l-1.6 0.3M148.7 631.6l-0.8 1.2M303.0 626.0l1.0 1.4M296.3 705.7l-2.0 0.2M186.7 734.0l1.1 1.4M186.8 700.6l-0.2 1.8M142.2 606.2l-1.6 0.6M310.1 625.9l-0.9 0.8M274.9 727.6l0.5 1.0M263.0 685.9l-0.5 1.7M223.3 713.2l-0.4 2.1M277.9 628.5l0.1 1.4M266.2 715.6l-1.0 0.9M150.3 601.6l-0.4 2.0M140.5 684.7l0.1 1.6M240.1 734.4l-1.0 1.2M308.5 707.3l-0.7 1.6M130.4 613.9l0.1 1.2M287.2 656.5l-0.4 1.8M272.7 719.6l-0.8 1.0M293.2 617.4l-0.0 0.9M123.4 678.6l-0.9 1.1M188.2 698.0l-1.6 0.6M180.8 630.6l1.5 1.3M172.1 609.0l-1.6 1.1M182.6 734.3l1.0 1.5M299.5 675.3l1.6 0.4M153.2 689.0l1.3 0.4M264.5 706.5l0.2 1.6M245.9 626.7l-0.3 1.1M316.4 685.2l-0.1 1.2M227.5 657.6l1.7 1.1M185.8 726.6l1.0 0.8M315.2 680.0l-0.8 0.8M120.9 720.6l-0.5 1.0M288.3 657.0l1.5 1.4M132.5 613.9l-0.0 0.8M212.4 690.9l1.3 1.3M189.4 675.6l0.9 0.5M269.6 615.6l-1.4 0.4M206.5 696.0l1.2 1.2M213.8 695.2l0.8 0.7M150.0 700.9l0.8 1.1M297.5 668.5l-1.9 0.4M215.8 618.2l1.1 0.5M292.5 608.4l0.7 0.7M292.3 617.4l-0.7 0.4M311.5 639.7l-1.9 0.9M232.9 674.7l-1.6 0.0M314.0 704.0l-1.1 0.9M293.8 736.8l1.7 1.3M216.4 708.4l0.3 1.9M266.9 615.4l0.3 1.2M179.6 710.0l0.1 1.9M164.1 729.6l-0.9 1.4M252.4 686.5l0.8 1.3M323.2 701.6l-1.2 1.1M309.0 735.5l-1.2 1.5M256.7 687.1l-0.3 0.8M185.7 671.3l1.1 1.0M189.9 671.7l-1.7 0.8M287.6 696.6l-1.3 1.6M201.6 603.4l-0.5 0.8M197.4 719.1l0.4 0.9M177.1 606.4l1.4 1.4M322.6 679.7l-1.6 1.0M298.5 642.1l-1.3 1.4M195.0 669.7l-2.0 0.8M271.2 607.8l0.0 2.1M323.5 611.8l-0.8 0.0M228.2 708.1l-1.1 0.2M180.3 628.4l0.9 1.5M292.7 701.0l1.3 0.9M324.0 671.3l-1.7 0.1M228.1 703.8l0.6 0.7M317.6 671.3l1.3 1.0M233.9 657.5l-0.6 1.4M211.6 712.4l-1.2 0.1M126.9 626.3l1.3 1.7M208.1 670.3l-0.8 0.6M302.6 720.8l0.4 1.9M184.1 603.3l0.6 0.6M142.5 627.6l-0.4 1.5M315.4 685.0l0.7 0.9M174.9 701.0l-1.3 0.4M285.7 611.6l-0.2 1.9M128.3 705.7l-0.9 1.6M264.5 725.0l0.7 1.2M153.9 710.1l0.5 0.7M292.2 616.6l0.4 0.9M176.4 736.2l-1.5 1.0M127.0 712.5l-1.8 0.1M310.2 722.2l-0.3 1.8M313.8 683.7l-0.0 1.7M253.6 722.6l-1.3 1.0M307.7 731.9l-1.1 0.8M147.0 612.7l0.5 1.0M199.3 671.3l-0.8 0.6M215.8 736.1l-1.7 0.3M304.8 676.6l0.1 1.5M167.1 605.4l-1.1 1.4M317.9 609.2l-2.0 0.1M133.9 723.9l0.6 0.8M314.8 641.0l-0.4 0.9M202.0 722.7l-0.6 2.0M176.0 645.0l-0.8 1.1M190.0 637.6l0.8 0.6M312.5 711.2l-0.6 2.0M319.0 675.1l-1.2 0.2M227.3 727.2l1.1 1.5M244.2 721.0l1.1 0.1M135.4 666.6l0.1 1.0M290.5 628.9l-0.6 0.7M223.4 677.1l-0.7 0.9M306.6 661.0l-1.4 0.4M183.6 727.6l0.2 1.4M279.3 727.8l0.8 2.1M194.3 721.3l-0.7 1.4M210.5 651.7l-0.2 1.2M184.8 628.5l0.7 0.5M313.1 708.6l-0.4 1.0M148.8 643.0l-2.0 0.5M304.4 627.6l-1.8 0.2M179.7 675.5l0.1 1.6M285.5 615.0l0.6 0.7M161.5 693.5l-1.7 1.2M121.9 704.6l1.6 0.7M320.8 641.7l0.2 2.2M264.6 673.9l0.9 0.2M134.6 726.9l0.8 1.9M171.5 706.5l-1.6 0.7M159.4 715.8l0.8 0.6M199.6 629.9l0.4 0.9M222.8 701.3l-0.5 0.7M276.6 623.4l1.6 0.9M313.8 673.8l-1.5 0.3M217.5 673.8l-0.6 1.3M301.0 645.9l-0.8 1.1M125.9 616.3l-1.1 1.9M312.9 626.2l1.4 1.1M306.6 667.6l1.6 1.3M129.9 700.9l1.1 0.5M224.9 662.7l-1.7 1.2M135.6 658.5l-1.1 0.8M311.7 606.0l-1.7 0.6M300.1 681.9l1.1 0.1M177.0 660.1l-1.0 1.9M290.2 611.9l-1.4 0.4M234.7 714.9l1.7 1.3M121.7 640.2l-1.1 0.1M151.4 675.2l-0.7 1.1M148.5 703.1l0.5 0.6M134.9 719.4l1.0 0.1M314.3 621.7l0.8 0.6M186.7 619.2l1.0 0.5M178.8 620.8l-0.7 1.7M271.5 600.5l0.4 0.9M204.4 672.8l-1.9 0.5M303.6 608.8l1.1 1.7M162.0 738.1l-0.9 2.0M200.0 642.2l-1.6 1.4M139.3 641.7l1.1 1.3M271.8 624.2l0.6 0.8M177.5 666.8l-1.6 0.2M139.9 629.0l0.7 1.5M271.3 642.7l-1.9 1.0M147.0 628.0l0.5 1.0M280.8 601.5l0.7 0.8M191.7 614.7l-1.0 0.0M245.4 650.3l-1.8 0.5M322.8 612.1l1.5 0.4M282.0 636.3l-0.6 1.9M247.6 612.8l0.8 0.6M138.6 691.2l2.0 0.7M301.7 634.0l-1.0 1.2M125.7 706.3l0.5 1.7M275.2 710.8l1.3 1.1M280.9 704.7l-1.3 0.4M281.0 647.5l0.5 1.1M300.9 724.2l-1.1 1.1M217.0 717.8l0.8 0.3M177.6 714.3l1.1 0.4M296.3 728.4l-0.3 1.0M158.9 662.9l0.7 1.2M139.9 727.8l1.3 0.3M136.8 623.8l0.3 1.0M163.3 679.8l1.3 0.7M212.6 653.7l-1.1 0.5M145.9 664.8l0.1 1.6M170.0 680.0l-0.4 1.0M289.0 662.2l-0.3 1.4M278.9 639.7l0.7 0.6M125.7 688.9l0.3 1.2M221.0 735.8l1.9 0.2M272.3 737.5l0.9 1.8M134.3 658.6l0.1 1.8M142.6 626.3l1.1 0.5M161.5 668.1l2.0 0.9M214.0 682.2l1.0 0.9M196.6 705.9l1.6 0.3M271.2 600.8l0.6 0.8M247.0 607.4l-0.7 0.5M120.8 726.3l1.2 0.6M277.5 735.5l0.8 1.9M314.7 698.6l0.3 1.9M128.4 608.6l-0.5 1.0M148.5 721.9l0.4 1.0M235.6 622.9l-1.5 0.6M293.7 686.7l-0.6 1.3M127.0 646.8l-0.5 0.6M171.9 632.3l0.5 1.1M168.9 616.9l-1.6 1.1M289.0 601.2l-1.2 0.2M132.8 651.9l-1.4 1.1M125.5 674.3l-0.7 0.7M178.5 620.1l1.5 1.4M278.7 722.7l-1.3 0.0M173.2 607.7l1.1 0.3M294.6 727.7l1.7 1.0M302.2 610.5l-0.2 0.8M255.5 723.0l0.9 0.4M166.4 641.2l-0.0 1.6M230.3 689.1l0.3 0.9M124.7 716.4l-0.4 0.7M167.9 688.8l0.4 1.6M270.4 601.6l-1.4 1.4M144.9 600.8l-0.9 1.8M179.4 631.1l0.1 1.0M289.9 729.5l1.4 0.5M259.9 730.8l0.7 0.3M219.2 604.1l1.5 0.7M229.9 620.5l-0.8 1.2M293.7 679.3l0.2 1.1M209.8 734.5l-0.6 0.8M191.4 697.1l-1.2 0.4M193.8 732.0l0.3 1.5M150.2 668.6l0.7 1.1M164.0 642.2l-0.7 2.0M244.8 636.8l1.3 0.7M293.4 695.6l1.6 1.0M270.1 667.9l-1.7 0.3M176.5 617.4l-0.7 1.1M255.9 728.2l0.5 2.1M303.6 736.9l2.0 0.6M259.0 615.1l-1.8 0.4M137.6 673.9l-1.0 0.8M144.8 684.7l-1.6 0.8M138.1 730.2l0.9 0.2M242.8 701.6l1.8 0.7M244.5 724.9l-2.1 0.3M213.1 680.4l-0.1 1.3M281.2 601.0l1.8 0.7M282.3 735.0l0.5 0.8M149.6 685.5l1.6 1.5M263.8 627.1l0.2 1.4M223.8 698.2l-1.0 1.0M169.4 720.1l-1.6 1.1M132.5 698.3l1.2 0.4M211.5 665.4l1.5 1.0M132.8 664.0l1.0 1.6M142.5 630.1l1.5 0.7M146.5 671.7l-0.8 0.9M317.3 606.5l0.7 1.0M235.4 679.5l0.1 0.8M191.5 652.8l1.3 1.4M186.9 625.6l0.8 0.4M175.0 621.9l0.9 1.8M217.5 678.1l-2.0 0.0M129.0 667.6l-0.8 0.4M162.8 708.3l-0.0 1.0M288.3 658.4l1.2 1.4M155.8 690.0l-1.2 0.5M130.2 676.8l0.6 1.2M148.1 658.0l1.4 1.1M136.4 614.9l0.9 0.1M146.9 642.9l2.1 0.2M210.7 630.7l-1.8 1.0M269.7 608.8l0.9 1.5M187.1 642.7l-1.1 0.3M241.5 707.2l0.2 2.0M322.7 618.2l-1.4 0.8M234.1 629.1l-0.4 2.2M220.6 659.4l-0.2 1.4M282.8 715.1l-0.9 0.3M321.0 723.6l-0.9 0.3M196.0 645.7l-0.2 1.9M260.6 627.3l0.4 1.7M321.4 716.6l-1.2 0.8M220.5 686.8l-1.2 0.6M283.7 605.4l-1.7 0.8M140.8 711.0l-1.2 1.0M145.4 732.2l0.6 2.1M299.3 694.5l-0.5 2.1M123.8 656.5l-1.8 0.1M286.0 607.7l-0.8 0.4M192.7 638.7l-1.4 1.6M200.5 680.3l0.1 1.2M320.8 714.8l0.2 1.1M268.6 728.7l0.1 1.0M269.9 630.7l-1.5 0.5M132.2 699.4l0.5 1.0M279.2 715.5l-0.2 1.8M138.5 653.5l1.4 1.2M150.4 648.4l-1.0 0.2M229.7 601.0l-0.4 0.8M258.7 657.7l-0.9 0.5M179.0 645.2l0.7 0.6M209.0 690.2l0.9 0.9M123.9 659.9l-0.1 1.6M278.6 677.4l1.2 1.3M312.5 669.9l1.1 1.7M265.9 713.2l0.4 0.8M154.2 637.1l0.2 1.6M206.6 611.8l-0.6 0.9M135.5 728.6l0.6 1.0M259.3 620.5l-0.9 1.9M306.6 720.6l-0.6 1.6M197.3 617.4l0.5 1.6M238.2 648.9l-0.4 1.0M265.9 711.6l1.9 0.2M224.9 690.2l-0.3 1.7M165.9 672.1l1.7 0.1M130.5 698.8l1.7 0.5M285.9 628.5l1.2 0.1M191.9 619.2l-2.0 0.5M242.0 622.8l-0.3 1.1M238.9 736.6l-0.5 2.1M161.9 627.0l0.1 0.9M260.8 614.3l-0.7 0.6M203.0 673.6l1.3 1.5M196.1 683.7l1.7 0.4M147.0 715.7l-2.1 0.3M151.6 723.7l-1.4 1.6M158.3 671.8l1.4 0.6M299.8 675.7l-0.6 1.0M149.0 640.3l0.2 1.4M177.4 635.6l-0.6 0.5M185.4 666.6l1.6 1.3M220.6 609.6l-1.1 1.0M211.5 649.3l1.2 0.3M281.6 654.0l1.4 0.4M212.2 702.1l-1.2 1.0M130.6 657.4l-0.6 0.7M186.9 644.7l-1.1 0.2M195.8 712.0l1.2 1.8M131.8 733.0l-1.7 0.7M234.3 626.2l-2.1 0.7M233.6 731.6l-0.7 1.6M167.1 663.5l-0.9 1.3M170.9 662.5l-1.2 1.4M129.8 723.0l-0.7 0.6M254.4 616.5l1.3 1.4M151.5 711.7l-1.3 1.0M193.1 600.9l-0.9 0.2M170.3 672.2l0.7 1.9M147.8 720.9l1.0 1.2M244.2 686.5l-0.3 1.2M173.5 676.7l1.3 0.5M294.5 629.1l-0.8 0.4M281.4 628.7l-1.0 0.5M277.8 668.1l-1.1 0.0M258.9 670.7l-0.6 1.3M166.0 737.1l-1.6 0.5M289.0 637.2l-0.5 1.4M146.8 650.1l-1.1 0.1M243.5 730.5l0.6 1.4M157.3 728.6l0.4 1.7M230.5 658.2l1.1 0.3M127.5 679.1l1.9 0.7M241.8 603.3l-0.4 1.3M134.8 705.0l0.2 1.7M174.5 683.7l-0.5 1.4M184.1 611.9l-1.0 0.9M319.2 609.4l0.9 1.0M240.8 735.1l0.5 2.0M222.6 626.9l-0.8 1.0M204.1 736.9l-0.9 0.8M202.6 690.5l1.7 0.5M187.9 617.8l1.4 0.6M162.4 713.3l-0.1 2.1M306.8 620.4l-2.1 0.0M292.4 681.7l1.0 0.7M276.3 689.6l1.1 1.4M311.3 623.5l-0.4 1.5M185.1 649.8l1.0 1.7M265.7 726.5l-1.0 1.1M242.3 626.9l-0.8 0.6M144.8 691.1l-1.4 0.2M270.4 620.5l0.6 0.8M237.9 698.0l1.1 1.0M205.2 687.9l-1.0 1.7M146.9 700.2l-0.9 0.1M180.0 630.4l-0.6 0.6M190.1 645.1l-1.4 0.4M286.9 721.4l-0.1 0.8M262.4 617.8l-0.4 1.4M315.1 601.4l-1.0 1.9M154.1 638.9l-0.9 0.7M157.2 711.0l-1.2 0.2M133.2 659.0l-0.5 0.6M161.0 615.0l-0.2 1.1M139.7 700.5l-1.6 1.1M135.3 691.7l-1.6 0.1M285.9 716.3l-0.7 0.3M197.0 603.8l0.2 1.5M190.1 694.6l-0.2 0.9M184.2 650.8l-0.5 1.9M309.7 638.5l-1.3 0.7M159.7 719.8l0.3 1.9M145.9 686.5l-1.4 0.7M224.9 606.4l-0.9 1.3M318.7 638.7l0.7 0.7M181.3 668.7l1.2 0.0M281.1 705.5l0.1 0.9M247.1 707.2l0.8 1.6M123.2 682.7l-1.0 0.2M236.8 617.4l0.4 0.9M195.5 722.8l0.3 1.1M199.3 655.1l-1.3 0.2M223.4 693.6l-1.4 1.4M182.9 694.7l1.5 0.4M196.3 691.6l-0.6 0.5M294.4 639.9l-0.7 1.2M180.1 617.2l1.9 1.0M140.5 729.0l0.1 0.9M250.0 697.4l0.1 0.8M278.5 657.0l1.6 0.5M215.2 721.2l1.6 0.1M134.2 707.7l0.9 0.5M124.5 719.2l0.9 0.1M143.9 630.3l-1.0 0.4M269.4 649.1l-1.5 1.6M161.2 738.6l0.7 1.6M136.8 693.7l0.2 1.8M154.2 723.7l1.3 0.9M256.3 731.5l1.4 0.8M167.5 686.0l-0.9 0.3M290.6 622.2l-1.2 0.2M201.7 663.1l0.4 1.8M257.2 650.4l-1.8 0.0M288.3 724.7l-1.8 0.4M270.5 626.7l1.0 0.7M167.2 721.8l1.6 0.0M272.8 720.7l-1.8 0.1M321.4 681.7l0.8 0.7M141.3 692.3l-0.8 1.2M235.5 627.6l1.6 0.9M155.3 686.5l-1.0 1.3M163.0 639.4l2.0 0.5M237.8 621.6l1.5 0.0M237.8 623.2l-1.1 1.5M286.9 639.2l1.3 1.1M160.4 677.4l0.4 1.5M311.5 630.6l-1.6 0.1M218.6 665.2l1.0 1.6M192.4 643.5l0.8 1.0M174.9 695.4l2.0 0.4M294.3 727.9l1.7 0.9M157.4 682.7l-1.0 0.3M212.7 666.1l2.0 0.2M292.6 618.6l-0.2 1.0M224.9 726.5l0.6 1.2M139.6 650.3l-1.5 1.1M176.6 677.8l0.7 0.8M316.5 608.4l0.9 0.0M308.1 708.0l1.2 1.4M264.3 647.0l0.9 0.5M133.9 713.2l-1.3 0.8M142.0 660.0l-0.8 1.6M309.3 706.0l1.2 1.8M190.8 695.4l-0.7 0.6M235.9 725.3l1.7 1.3M287.3 602.2l1.6 0.3M258.8 648.3l1.3 0.3M194.0 620.6l1.1 0.7M184.5 730.5l0.4 1.3M251.3 728.4l0.9 0.1M278.9 625.1l0.8 0.3M319.2 736.1l-2.0 0.6M264.1 611.2l-1.8 0.6M220.6 657.2l-0.7 1.5M232.9 704.0l0.4 1.2M139.8 688.9l-0.8 1.7M321.9 604.0l-0.7 0.9M290.1 634.3l1.6 1.1M159.4 738.3l1.1 0.0M298.6 698.3l-1.1 1.5M208.9 607.0l-1.4 0.2M127.3 616.0l1.4 0.9M213.8 664.1l1.3 0.1M307.8 718.4l1.6 0.8M274.2 709.9l1.7 1.3M207.5 644.6l-0.4 1.4M153.2 631.0l1.1 0.3M186.2 606.8l-0.1 1.2M188.4 601.4l-0.2 0.8M309.6 668.2l0.9 0.4M310.6 611.6l0.1 1.1M177.8 649.3l-1.3 1.4M276.7 647.5l-1.4 0.6M292.6 649.9l1.1 0.1M132.6 667.4l-1.4 0.0M124.0 687.5l0.5 1.4M132.3 674.9l-1.5 0.1M279.6 685.6l-2.0 0.5M171.9 712.3l0.3 1.5M196.5 710.4l1.7 1.4M133.4 652.6l0.7 0.9M131.3 713.0l0.7 1.2M248.4 609.0l-1.0 1.1M317.4 691.3l-0.5 1.3M210.3 602.3l0.9 0.7M177.9 682.1l0.4 1.4M290.8 689.7l-0.8 0.7M220.5 682.3l-1.4 0.2M310.4 641.3l-1.5 1.3M194.4 672.2l-1.4 1.7M238.7 638.6l0.2 1.5M286.4 627.7l0.9 0.1M183.6 689.7l1.2 1.7M314.7 641.8l0.7 1.0M132.3 626.1l-1.0 1.2M244.8 711.8l1.4 0.6M246.8 706.3l-1.5 0.3M259.2 728.9l1.5 0.8M158.4 694.3l0.0 1.0M290.4 633.7l1.4 0.4M142.3 644.6l-0.9 1.3M162.2 606.3l-0.7 1.3M204.1 697.3l-1.0 0.3M193.5 626.3l0.6 1.8M188.7 624.1l-1.4 1.1M152.9 616.4l0.0 1.0M241.3 716.1l1.7 0.5M157.7 681.7l-0.5 2.0M266.6 604.5l-0.4 2.0M165.9 618.7l1.6 1.1M156.8 685.0l-1.6 0.5M173.6 651.2l0.2 2.0M128.8 714.1l2.0 0.1M207.9 626.2l0.7 0.8M317.2 697.4l1.6 0.4M193.6 641.7l-0.6 1.3M320.6 687.6l0.9 0.9M175.9 647.9l-1.6 0.9M140.1 726.5l-1.0 1.3M157.1 667.8l1.6 0.7M283.3 658.2l1.0 1.6M210.7 690.1l1.4 0.2M319.1 672.0l1.6 0.7M319.9 608.0l0.4 1.2M262.8 736.5l0.3 0.9M174.9 659.1l0.9 1.2M130.2 682.4l-0.8 1.8M294.2 635.4l0.8 1.3M277.0 738.0l0.1 2.2M177.2 714.3l0.7 1.4M312.8 620.0l-1.8 0.9M268.4 621.8l0.7 0.5M177.5 651.6l-0.5 0.9M322.0 617.6l0.6 0.8M149.0 718.4l-1.3 1.2M299.1 619.2l-1.2 0.5M218.0 691.5l1.3 0.1M218.4 611.8l-0.4 0.7M317.2 693.5l0.7 1.6M139.1 716.5l0.7 0.6M171.3 640.6l1.2 0.6M144.8 642.4l2.2 0.3M151.4 689.7l-1.3 1.7M134.8 609.2l-1.6 0.3M168.4 737.9l-0.6 1.1M192.9 628.8l0.6 1.4M296.8 605.2l0.8 0.3M256.7 697.4l-0.3 1.6M262.6 620.3l0.5 2.0M149.9 682.3l0.1 1.0M220.3 738.1l1.1 1.0M209.6 664.9l1.9 0.2M217.0 706.1l-1.2 0.8M310.1 735.0l-0.0 1.2M126.6 648.2l1.7 0.4M267.3 660.6l1.6 1.3M219.0 717.3l-1.2 0.4M212.8 606.1l-1.2 1.2M298.3 639.4l-0.5 0.8M319.9 647.1l0.4 0.9M252.9 601.7l-1.2 0.6M287.2 697.1l-1.3 0.7M229.9 691.6l1.4 0.5M304.4 652.6l-0.5 1.1M153.0 660.6l-1.2 0.6M295.7 604.3l-0.5 0.9M202.3 636.6l1.0 0.0M315.9 631.9l-1.2 1.5M213.3 672.2l-0.3 1.1M154.7 683.4l-0.1 1.1M181.2 681.4l-1.0 1.3M176.6 638.8l0.3 1.1M196.2 631.9l0.5 0.6M269.0 625.0l-0.5 1.2M157.0 610.5l-1.4 1.0M183.4 676.9l-0.9 0.7M133.0 685.0l-0.9 0.6M315.5 619.7l-0.4 1.0M149.3 710.9l-1.2 1.3M177.5 650.0l-0.5 1.4M232.5 626.3l1.1 1.0M185.3 698.8l1.2 0.1M265.8 649.1l0.1 2.1M300.8 611.3l-0.6 1.3M214.2 714.2l1.4 1.6M324.3 611.0l0.6 1.2M123.6 602.0l-1.4 0.7M234.1 674.0l1.1 1.4M291.3 608.8l-0.3 1.2M226.6 709.8l-1.3 0.1M132.4 684.8l-0.6 1.3M160.3 625.3l1.6 1.4M184.5 631.4l-0.0 1.0M234.5 667.5l2.1 0.3M148.3 736.4l0.6 1.8M262.7 663.2l-1.8 0.4M289.9 678.6l1.5 0.5M292.1 618.5l0.2 1.4M245.5 714.2l-1.6 0.4M204.8 668.9l-1.3 0.5M304.9 670.0l-1.8 0.2M210.3 672.8l-2.0 0.3M223.0 662.0l2.0 0.2M180.2 618.1l1.5 0.3M182.5 613.6l-0.1 1.2M208.6 640.2l-0.9 0.7M137.8 701.5l-1.5 1.6M167.9 657.3l0.4 0.8M183.9 715.1l-1.0 0.2M210.6 632.2l1.8 0.3M306.2 708.3l0.8 1.7M290.5 611.2l1.3 0.4M307.3 696.6l1.4 0.5M304.7 676.8l-1.7 0.8M170.7 654.6l-1.6 0.5M190.0 659.8l1.0 1.0M159.4 672.8l0.8 1.1M242.5 719.0l1.0 0.5M143.4 679.5l-0.5 0.7M127.5 683.9l0.4 1.9M123.7 628.9l-1.6 0.4M236.7 673.9l0.2 1.7M142.5 647.5l-0.7 0.9M227.0 733.6l-1.4 0.5M272.2 643.2l0.4 0.7M174.9 706.7l-1.4 0.1M236.9 734.0l1.5 0.9M282.2 620.1l1.5 1.2M175.9 638.5l-0.2 1.9M208.0 701.0l-1.5 0.4M255.1 663.4l2.0 0.5M245.3 612.3l1.5 0.8M297.7 664.8l-0.7 0.3M225.4 636.7l-0.7 0.8M266.0 682.8l0.2 1.1M170.9 711.0l1.6 0.5M282.5 624.5l-0.8 0.4M208.2 608.6l2.0 0.7M166.6 603.1l0.6 0.9M319.9 729.0l-0.9 0.0M285.2 701.4l0.8 2.0M323.9 608.6l1.4 0.7M167.6 637.5l0.3 1.8M213.9 689.2l-1.3 1.7M224.1 709.9l-0.6 0.7M214.3 730.2l-0.3 1.8M197.9 687.0l-1.0 0.9M149.9 631.4l-0.1 0.8M166.8 652.8l0.0 1.8M299.8 642.2l-1.9 1.1M132.9 696.5l-0.4 1.4M313.1 727.1l-1.1 0.2M313.8 686.7l-1.8 0.9M268.1 705.7l1.3 1.1M307.4 613.2l-1.1 1.4M208.2 605.7l1.6 0.5M297.9 657.7l0.6 1.5M251.2 671.2l-1.0 0.5M148.6 624.1l-0.9 0.2M234.8 733.8l0.5 1.0M166.7 686.7l-1.6 1.1M236.3 655.0l1.7 0.4M176.1 715.4l-2.0 0.1M236.3 660.0l-0.5 1.3M135.8 658.4l-0.1 1.8M159.2 621.7l-0.8 1.3M281.7 731.9l0.4 1.6M219.8 721.8l1.6 0.7M161.1 678.9l-0.6 1.0M216.6 615.3l-0.2 1.2M188.7 731.3l0.5 1.9M260.8 647.2l-1.4 1.7M205.6 713.3l0.5 2.0M142.6 649.7l-0.5 2.0M222.7 697.1l-0.9 1.5M127.2 710.9l-0.9 0.8M247.8 622.1l0.3 1.3M258.9 721.5l0.9 0.9M172.7 659.1l0.8 0.9M306.0 615.7l-2.1 0.1M284.5 722.8l-1.4 0.6M138.7 685.0l-1.3 1.3M287.4 662.5l-0.3 1.7M161.0 706.2l1.8 1.0M318.5 723.9l0.8 0.4M198.5 645.5l-0.5 1.5M292.9 627.7l1.4 0.3M131.8 650.1l1.3 1.0M121.9 609.1l-0.8 0.1M268.3 609.0l1.8 1.0M146.7 687.4l0.3 2.0M124.4 619.0l-1.4 1.3M194.0 608.3l1.5 1.2M211.4 696.3l-1.7 1.0M190.9 636.1l0.1 1.9M200.9 630.2l1.8 0.2M198.0 715.0l-0.5 0.8M261.9 718.6l0.9 0.8M238.1 604.9l0.7 1.1M172.8 665.2l-2.0 0.3M185.5 721.1l1.7 1.2M243.8 697.0l-0.2 1.1M320.0 699.1l-0.9 0.1M252.2 662.9l1.6 0.9M184.9 634.9l0.3 2.1M135.9 689.8l-0.3 1.0M306.1 607.2l0.3 0.8M152.0 632.9l-2.0 0.2M309.1 618.4l1.3 0.1M271.4 641.8l0.4 2.0M150.5 625.6l1.8 1.1M245.4 626.3l-0.7 2.0M181.5 688.3l-0.0 1.4M211.3 701.4l-0.6 1.1M200.9 698.4l1.1 0.0M313.1 681.9l1.0 0.4M132.5 693.5l-0.8 0.9M223.3 602.6l1.0 1.1M220.8 636.6l0.1 1.2M319.6 712.7l1.9 1.1M203.9 630.9l-0.9 0.2M231.8 615.5l0.7 0.5M307.5 726.6l0.5 1.2M292.1 654.9l0.9 2.0M322.1 640.2l-0.5 1.9M187.3 635.6l-1.0 0.2M249.5 608.8l-1.3 1.1M199.3 605.3l0.1 1.5M142.0 726.1l0.8 0.8M274.8 643.4l-1.8 0.3M253.3 650.6l-0.8 1.9M294.2 625.9l-0.3 1.1M215.6 709.9l0.7 0.8M249.4 656.3l0.3 1.7M159.9 707.7l1.4 1.2M177.1 636.7l1.5 0.7M238.1 661.7l-1.7 0.3M225.2 705.0l-0.2 0.9M141.8 703.3l1.4 1.3M245.4 682.5l1.0 0.4M150.8 708.8l1.6 0.4M265.9 654.1l1.4 1.5M189.0 620.7l1.4 1.4M195.7 727.9l0.1 0.9M221.1 683.7l1.0 1.8M178.9 627.9l1.6 0.5M278.7 643.0l-1.1 0.9M159.9 731.5l-1.7 1.3M297.8 738.4l-0.8 0.6M281.6 675.0l-1.7 1.1M210.6 658.6l-0.8 1.3M254.8 651.3l0.4 1.7M308.5 697.5l-0.4 1.4M192.5 712.0l-0.9 0.1M292.0 651.2l-1.0 0.8M202.0 661.3l0.3 0.9M303.3 671.6l-0.8 0.4M206.1 635.7l-0.9 0.8M272.6 654.9l1.3 1.0M143.9 634.6l-1.1 1.3M213.6 619.6l1.9 0.1M323.7 652.5l-0.7 0.8M274.6 641.5l-1.6 0.6M180.7 735.4l-1.3 1.2M165.4 700.5l1.0 0.4M194.7 665.5l-0.8 1.7M304.7 728.9l0.0 1.0M282.3 615.5l-0.5 1.8M221.8 668.8l-0.6 0.7M320.1 719.8l1.1 1.6M191.8 654.0l1.5 0.4M163.4 674.5l-0.1 1.1M302.1 672.9l1.8 0.7M181.0 677.2l-0.3 1.4M153.9 602.2l-1.3 1.0M247.7 719.6l-0.2 1.2M240.2 614.3l-0.8 1.1M125.9 720.4l-1.1 0.3M275.2 697.7l-0.2 1.3M256.0 601.4l-0.5 1.7M303.9 626.0l1.2 1.4M310.3 664.4l1.8 0.2M195.2 620.7l-1.3 1.8M302.5 627.1l1.4 0.0M169.8 711.6l-1.3 0.8M306.3 700.1l-1.4 1.5M306.1 717.0l0.4 1.7M144.8 644.8l0.1 1.5M291.2 618.0l-0.5 0.7M150.6 707.9l-1.2 0.6M319.3 639.5l0.0 1.6M172.9 646.7l0.6 0.9M121.0 688.0l0.8 1.6M305.8 606.7l1.1 1.5M128.2 733.0l-1.7 0.3M305.8 673.3l0.7 0.9M311.4 673.3l1.0 0.6M212.6 626.5l0.0 0.9M143.7 658.6l0.5 2.1M244.8 712.6l-1.6 0.4M206.6 604.8l-1.2 0.2M252.3 637.4l0.8 0.4M305.5 679.8l0.9 1.1M301.4 614.4l-1.9 0.3M286.7 606.7l1.4 0.9M175.5 618.0l2.2 0.4M238.6 625.3l1.1 0.3M167.2 727.1l1.6 0.4M231.0 710.3l-1.1 1.6M265.5 715.2l1.3 0.5M302.3 693.5l-1.2 0.1M297.9 612.1l-1.3 0.8M253.7 736.3l-0.6 1.7M223.3 678.6l-1.2 1.5M194.9 675.9l-0.5 0.9M132.4 601.5l-1.7 0.6M180.3 737.2l-0.3 1.9M193.2 686.6l-0.6 1.3M154.9 645.8l1.1 0.9M140.5 647.1l1.4 1.0M323.7 637.4l-0.9 0.6M203.3 681.7l0.2 1.5M226.3 607.6l-1.8 0.9M265.5 615.1l-1.1 0.6M298.6 665.5l-1.7 0.7M285.7 673.2l-0.9 0.9M188.3 728.0l-1.0 0.1M267.4 722.3l0.1 0.8M253.6 616.1l-0.8 1.1M146.0 691.1l-0.8 1.3M136.9 690.7l0.8 1.9M302.6 617.2l0.5 0.8M132.5 624.4l-1.2 1.8M285.7 685.7l0.9 0.8M222.4 632.7l-1.3 1.1M301.4 730.7l0.4 1.1M244.9 692.6l0.8 1.8M148.8 610.8l-1.1 0.1M161.0 686.7l1.1 1.2M291.7 622.8l-1.9 0.8M252.1 634.5l0.6 1.8M153.0 650.1l-0.4 0.7M322.5 681.1l2.2 0.1M260.6 626.6l-0.9 1.1M198.2 689.4l1.7 1.3M292.1 664.7l-1.0 0.9M300.9 669.6l0.5 1.8M144.8 612.1l-0.9 0.1M145.7 650.8l-1.1 1.8M222.7 635.7l-1.1 1.3M275.0 714.6l-2.1 0.6M164.6 651.7l1.7 0.3M265.2 712.9l-1.7 0.6M263.2 709.1l1.4 0.6M290.4 733.8l-0.9 0.2M291.4 718.4l0.7 0.6M303.6 639.7l1.2 1.0M320.8 614.7l-1.5 0.2M291.9 610.4l0.4 1.6M261.1 694.6l-0.3 1.7M311.7 629.8l-1.2 0.1M203.4 652.5l-1.3 0.8M260.0 686.7l1.0 0.1M211.0 712.4l-0.7 1.0M308.4 723.0l0.9 1.9M181.4 658.7l1.5 0.5M223.7 694.5l2.0 0.4M297.7 600.7l-0.6 0.7M281.1 723.0l-0.8 1.4M174.9 703.9l0.5 1.2M157.4 721.5l-2.1 0.3M220.2 637.6l0.2 1.1M194.1 606.7l-1.7 0.1M271.6 613.9l0.7 1.2M139.7 644.0l-0.4 1.2M210.3 668.9l-0.4 1.2M280.3 634.4l0.6 2.1M273.8 637.1l1.3 1.4M244.0 626.4l-0.1 1.5M159.8 609.6l1.0 0.0M172.1 649.3l-1.1 0.7M315.3 603.0l-0.4 0.8M215.7 606.3l-1.0 1.2M218.6 734.0l1.1 1.1M191.3 674.4l1.8 0.3M133.9 686.5l1.6 0.2M173.7 637.8l-1.1 1.0M300.1 693.9l-0.5 0.9M248.3 667.0l0.9 0.2M236.2 690.4l1.7 0.1M281.7 709.7l-1.3 1.8M314.8 610.9l-1.6 0.0M136.1 661.5l-0.1 1.0M221.8 691.6l-0.2 1.0M245.2 602.3l0.2 0.8M268.6 616.4l1.2 0.1M301.1 712.7l1.3 1.8M180.5 651.6l1.0 1.3M270.1 640.4l-1.8 0.3M125.9 657.5l0.4 1.5M180.6 634.7l-0.5 2.1M189.9 724.9l0.7 0.8M268.1 634.5l1.2 0.4M146.1 627.5l-1.1 1.0M223.1 702.7l1.9 0.3M300.1 637.5l1.4 1.2M137.2 665.6l-0.8 1.2M263.7 688.8l0.8 1.0M140.4 633.9l-1.2 0.2M292.6 694.2l-1.5 0.8M177.5 620.7l-1.0 1.2M143.5 637.8l1.3 1.3M310.1 729.8l1.9 0.5M278.8 713.3l-1.2 0.4M248.3 650.7l0.5 0.9M196.6 738.0l-1.8 0.0M324.0 638.6l-0.9 1.4M190.0 712.5l-1.6 0.1M147.4 692.1l-0.8 0.4M127.3 651.5l2.1 0.1" stroke="#5c5088" stroke-width="2.6" stroke-linecap="round" fill="none" opacity="1"/>
<path d="M312.0 634.0l2.0 0.1M221.6 723.6l-1.5 1.1M164.7 693.8l-0.1 1.6M223.2 700.5l1.7 0.9M156.8 708.7l-1.0 1.3M133.5 666.4l-1.1 0.4M230.2 692.2l1.6 0.8M120.9 733.6l-0.6 0.7M162.9 651.8l0.3 1.3M304.3 626.9l-1.7 0.6M305.3 725.4l-1.2 0.7M229.9 601.0l-0.7 0.9M207.5 707.7l-0.8 1.3M161.9 680.5l0.7 0.5M121.8 634.0l0.9 0.7M275.6 735.4l0.8 0.3M290.4 693.5l-0.2 0.8M295.7 721.1l0.4 1.5M291.9 699.3l-1.5 1.0M215.7 736.1l0.4 1.3M162.9 632.7l0.2 1.0M157.7 672.9l-0.1 1.2M232.2 714.5l-0.6 1.6M296.5 709.0l-0.1 1.6M211.7 691.9l0.5 1.1M321.2 714.6l0.9 0.2M272.3 640.6l0.8 1.1M217.1 726.0l-1.8 0.0M238.6 732.6l0.6 1.0M155.0 659.7l0.4 0.8M316.8 699.8l1.3 0.9M257.5 729.0l-0.9 0.7M202.4 604.0l-0.8 0.5M150.0 656.7l0.3 1.1M185.5 689.5l0.2 1.6M225.9 712.3l-1.0 0.5M299.2 652.8l0.9 0.4M257.9 679.2l-0.8 1.3M184.5 716.2l-1.6 0.9M126.6 645.6l1.6 1.0M144.0 710.0l0.9 0.0M252.2 619.0l-1.3 0.1M166.0 635.0l-0.9 0.9M172.7 602.3l0.3 1.2M313.9 658.3l0.5 1.8M299.4 616.6l0.9 0.3M218.5 653.5l0.1 1.3M189.7 700.5l-1.1 0.2M202.6 610.5l-1.0 1.0M283.4 730.4l1.2 1.1M139.3 670.0l0.9 0.2M288.4 627.1l-0.0 1.7M170.7 616.6l1.5 1.0M148.3 734.2l1.1 0.6M315.2 703.8l-0.7 0.9M213.8 685.1l0.5 1.4M317.2 633.9l0.9 0.8M126.0 646.0l1.5 1.1M261.9 627.5l1.3 1.0M183.4 671.9l-1.3 1.0M165.8 734.3l-1.1 0.9M165.4 718.2l1.2 0.8M290.5 612.6l1.0 0.9M140.0 649.8l-0.9 1.2M293.3 617.2l-1.0 1.0M183.6 658.7l-0.0 1.2M322.7 678.8l-1.2 0.1M180.6 605.7l-0.4 1.0M292.5 729.3l-1.4 0.6M317.0 644.5l0.9 0.8M295.5 613.0l-1.1 1.7M175.5 692.6l0.9 0.7M191.4 696.4l1.5 1.2M316.0 714.8l1.2 0.6M162.0 684.8l-1.6 0.8M267.0 723.6l0.4 1.9M169.7 673.4l0.4 1.6M228.5 610.1l0.3 1.4M153.7 691.0l-1.7 0.3M174.9 724.0l0.7 1.2M298.3 643.4l-1.1 1.4M195.9 714.7l1.0 1.6M254.5 672.4l-0.8 0.7M278.7 705.2l-1.1 0.5M237.3 726.2l-1.3 0.2M150.4 600.6l-0.5 0.9M299.6 664.4l-0.9 0.3M318.2 704.2l-1.2 0.9M186.6 600.4l-1.1 0.9M272.1 738.5l1.7 0.5M140.6 615.5l-1.3 0.5M239.9 684.3l-0.3 1.2M133.6 718.9l1.2 1.3M238.8 686.4l-0.0 0.9M298.6 608.7l-0.1 1.3M324.1 676.9l-0.5 1.4M216.6 664.4l1.7 0.1M151.5 666.1l0.5 1.2M200.6 624.4l-1.9 0.4M279.7 723.0l-1.0 0.5M234.9 662.4l-0.3 1.8M164.6 623.1l-0.8 0.2M185.4 696.9l-1.1 0.2M152.0 601.9l0.1 1.9M313.8 674.3l0.9 0.0M253.2 688.2l0.4 0.9M212.0 633.2l1.2 0.4M197.9 732.2l1.4 0.5M215.9 623.1l0.1 1.7M165.7 635.6l1.1 1.3M223.1 704.2l-0.2 0.8M157.2 612.7l1.6 0.3M154.7 666.2l0.8 0.2M170.6 669.6l0.3 1.1M304.6 713.6l-1.2 0.7M223.6 720.4l1.0 0.6M250.1 680.1l-0.9 1.0M249.2 666.7l0.9 1.6M214.5 685.7l1.1 0.2M181.8 718.3l-1.7 0.2M198.9 728.9l-0.8 0.5M202.9 736.4l-1.8 0.6M233.4 665.2l1.4 1.1M203.9 616.1l-1.5 0.3M153.1 678.4l-0.9 0.6M256.9 715.1l-1.9 0.4M309.7 731.4l-1.7 0.4M302.1 653.8l1.1 0.3M125.2 606.1l-0.9 0.2M153.1 692.4l0.8 0.3M202.2 721.8l0.6 0.7M301.1 680.6l-1.9 0.2M242.7 728.1l-1.8 0.6M187.0 619.3l-0.1 1.0M251.8 700.6l0.7 1.0M271.4 663.6l0.7 1.7M216.4 658.9l1.2 1.2M264.7 714.4l-0.2 1.1M148.9 614.8l-1.7 1.1M308.0 646.5l1.4 1.2M192.7 662.3l-0.2 1.8M270.4 608.2l-1.3 1.5M215.6 723.4l-0.4 1.1M265.8 652.9l-0.4 1.4M313.8 601.5l0.2 1.3M220.3 679.3l-0.1 0.8M258.8 704.1l-1.8 0.4M198.4 674.0l0.3 1.0M295.7 691.8l1.4 0.3M240.5 715.4l0.6 0.6M135.7 734.5l-0.5 0.7M240.6 685.7l-1.1 0.8M158.9 632.9l0.9 1.7M314.5 683.5l-1.6 0.2M266.8 637.1l1.4 0.3M204.2 718.5l-2.0 0.3M178.6 606.5l-0.0 0.9M167.9 666.8l-1.3 0.3M304.8 658.6l0.9 0.2M138.6 729.6l1.3 1.0M134.3 636.0l1.5 0.5M270.1 719.0l0.5 1.1M282.7 664.9l0.9 0.3M148.7 645.3l-0.6 1.0M144.6 709.8l1.5 1.3M152.2 718.3l0.7 0.6M176.1 700.0l-0.1 1.5M137.8 732.8l-1.0 0.4M201.6 608.8l1.4 0.5M319.7 632.1l0.5 1.8M198.6 708.8l0.3 0.9M310.6 610.3l0.2 1.3M293.1 697.2l-1.1 0.2M304.3 709.5l0.3 0.8M276.7 638.4l0.6 1.9M313.1 641.7l-0.9 0.1M209.9 725.9l1.2 1.2M195.6 710.3l0.0 1.6M122.1 695.2l-1.9 0.3M291.4 616.0l-1.4 0.8M159.5 678.7l-0.2 0.8M188.2 715.0l1.1 0.6M283.1 683.2l-1.2 0.4M150.5 687.8l1.6 0.4M152.3 713.5l-0.4 1.9M186.2 735.9l-0.5 1.4M320.0 674.4l-0.4 1.7M282.3 681.8l0.0 1.5M182.9 666.9l-0.2 0.8M183.9 610.4l0.5 0.8M169.8 692.0l0.6 1.9M264.7 655.7l0.6 0.7M203.0 710.4l-0.6 1.2M157.7 637.2l-0.4 1.0M133.2 716.0l-0.3 1.4M270.9 723.6l1.0 1.0M304.7 620.3l-0.4 1.2M302.4 734.1l-1.7 0.5M221.3 721.5l-0.9 0.8M235.9 714.2l0.4 1.5M183.9 610.6l1.4 0.0M202.0 706.4l0.8 1.0M270.8 643.5l1.6 0.6M166.0 691.8l0.3 1.5M217.6 679.6l-1.1 1.3M234.9 735.6l0.8 1.0M303.9 671.9l1.7 0.1M155.0 609.9l-0.9 0.7M299.9 612.9l1.3 0.8M149.6 683.8l1.5 0.0M193.2 625.1l-0.7 0.6M307.0 693.7l1.3 0.7M153.4 688.7l1.9 0.7M318.0 642.3l1.1 0.8M222.8 667.0l-1.0 1.3M141.4 654.2l-1.3 1.2M228.2 637.1l0.7 0.7M124.8 690.5l1.3 0.4M161.5 728.9l0.5 1.9M150.0 641.7l0.3 1.1M192.4 698.6l0.4 0.9M180.8 704.3l-0.9 0.2M314.8 715.7l0.4 2.0M258.5 658.6l-0.1 1.4M189.7 664.1l-1.3 0.5M235.0 657.0l-0.4 1.8M208.8 601.8l0.1 0.9M294.7 647.3l0.1 1.3M248.1 704.9l-0.8 0.2M224.0 701.2l-1.3 0.0M176.5 650.7l0.3 0.9M189.2 612.9l1.3 1.4M305.0 737.1l1.6 0.1M282.5 708.2l1.8 0.1M242.6 610.2l0.8 0.9M307.7 717.0l0.9 1.7M250.3 694.1l1.2 1.1M160.1 677.0l0.6 0.8M264.7 650.9l1.2 0.9M283.4 695.2l-1.8 0.2M242.1 665.1l-0.8 0.8M129.2 627.3l-0.4 0.7M167.5 688.3l-0.1 1.5M200.1 656.0l-1.2 0.9M244.0 734.6l-1.5 0.0M181.8 659.2l-0.7 0.7M183.4 688.9l-1.3 0.2M305.1 706.3l-0.9 1.1M158.3 638.0l-0.7 1.0M172.4 648.6l0.1 1.2M166.9 731.8l-1.8 0.0M143.7 616.5l0.0 1.6M161.9 657.4l1.7 0.6M139.2 670.9l-0.4 1.0M155.0 643.4l1.3 1.5M218.8 664.3l0.8 0.5M280.7 603.4l-0.5 0.6M289.0 654.3l-0.6 1.5M262.0 618.7l-0.9 0.4M137.0 646.3l-0.2 1.0M298.8 627.0l1.0 1.4M214.1 611.7l0.9 0.4M178.9 647.2l0.6 0.9M186.3 621.1l-0.7 1.0M279.7 609.7l1.4 1.1M189.8 634.3l-1.9 0.1M239.7 661.6l1.1 0.4M266.9 608.7l-0.1 1.2M207.3 648.8l0.5 1.8M209.3 613.3l0.9 0.2M223.2 670.9l-0.2 0.9M270.0 691.5l-1.8 0.3M214.8 706.5l-0.9 0.1M163.3 733.2l-1.2 0.6M137.7 641.6l-1.2 0.9M239.3 737.8l0.2 1.2M161.0 680.6l-0.8 1.0M155.7 719.1l-1.2 1.4M177.6 724.6l-1.8 0.4M284.0 614.4l-0.6 1.8M209.8 667.5l0.1 1.4M309.2 650.3l0.9 0.8M203.8 631.3l-1.5 1.0M292.0 726.6l-1.2 0.8M302.2 733.6l1.0 0.2M164.7 622.1l1.6 0.9M224.2 701.9l-0.9 1.0M297.4 652.2l-0.8 1.2M317.6 670.8l-1.6 0.1M156.0 699.6l0.1 1.1M127.5 616.7l0.9 0.2M169.5 678.9l0.2 1.2M235.1 713.2l0.8 0.3M122.5 661.5l0.1 1.2M168.3 657.3l-0.8 1.1M296.3 634.6l0.4 1.9M196.9 734.1l-0.7 0.5M302.6 623.2l0.6 1.5M160.5 647.8l-0.3 1.6M122.9 671.3l1.0 0.1M182.2 689.2l-1.0 0.9M239.7 625.7l0.5 1.4M250.4 612.6l0.9 0.3M279.4 658.9l1.4 0.1M145.9 618.1l1.0 0.3M282.3 611.9l1.1 0.7M182.7 613.7l1.0 1.2M160.8 648.1l-1.4 0.4M244.4 717.9l1.1 0.3M209.8 616.5l-1.1 0.3M309.0 632.7l0.0 1.5M317.6 615.3l-1.4 0.0M179.0 718.5l0.6 0.6M128.4 718.6l-0.1 0.9M206.5 633.5l-0.7 1.2M286.1 610.4l-0.9 0.7M214.3 677.8l-0.6 1.3M230.6 708.5l0.7 0.5M122.8 638.5l-0.2 1.3M208.8 695.3l-0.7 0.8M297.4 726.7l-1.9 0.3M281.1 694.1l0.3 1.0M282.3 651.9l-1.1 0.5M191.9 703.2l-0.7 0.5M172.9 663.3l0.4 1.0M196.5 609.3l-0.0 1.7M217.8 623.0l-1.2 1.1M226.2 663.6l-0.2 0.9M224.8 681.9l1.3 1.3M250.5 706.3l-0.0 1.9M262.5 724.6l0.7 1.3M288.5 617.1l0.7 1.0M299.5 616.3l-1.4 0.2M190.5 699.0l-0.0 1.9M187.6 734.1l0.9 1.6M285.9 706.7l-1.5 0.1M289.8 676.6l-0.3 1.3M154.8 672.7l0.9 0.1M275.8 686.5l-1.7 0.1M124.5 686.6l-0.2 1.3M201.9 620.4l-0.8 0.2M157.0 666.0l0.4 1.4M153.3 725.6l-1.1 0.1M324.3 620.8l1.3 0.1M180.8 679.5l-0.7 0.5M177.9 701.9l-0.7 0.6M270.8 697.2l-0.2 1.6M162.9 634.1l1.6 0.3M208.5 647.2l1.1 0.0M295.1 725.0l0.5 1.9M302.9 645.7l0.7 0.8M233.8 725.6l0.3 1.1M147.0 677.8l1.1 0.2M240.6 616.5l-0.1 0.9M324.3 721.3l1.5 0.6M261.1 731.0l0.9 0.5M161.7 628.2l1.4 0.4M130.5 630.7l-0.2 0.9M267.7 611.9l0.1 1.1M228.7 710.7l0.8 1.7M322.5 605.3l1.6 1.2M157.6 705.1l-0.4 0.7M150.7 671.8l-0.8 1.3M156.7 668.2l0.7 1.3M155.7 703.1l-1.6 0.2M151.1 700.2l-1.2 1.2M220.5 691.9l1.3 0.0M169.7 662.6l0.2 1.5M183.2 626.4l-1.2 0.1M188.2 681.9l-1.4 0.3M278.9 680.5l1.3 1.4M136.5 735.6l0.7 1.3M284.3 640.6l0.5 1.0M134.2 638.1l0.1 1.6M316.9 662.5l-0.7 1.5M224.5 690.2l-0.9 0.4M177.6 729.9l0.7 1.6M123.8 634.7l0.4 0.7M138.0 711.2l1.0 0.5M232.1 736.1l-0.4 1.2M196.1 675.5l0.9 0.0M131.4 645.2l-0.4 0.9M174.9 631.8l0.9 0.3M203.8 718.8l-0.8 0.2M311.5 736.6l-1.4 1.4M182.9 644.3l-0.8 0.4M156.4 679.6l1.4 1.2M193.5 710.0l-0.6 1.0M249.7 671.1l0.3 0.9M264.0 687.7l-1.7 0.8M195.3 723.6l0.8 0.5M249.8 668.8l1.2 0.4M253.9 617.8l-0.1 1.7M229.7 732.0l-1.2 0.2M315.3 612.7l-0.4 0.9M145.2 675.6l1.0 1.2M219.4 670.9l0.8 1.0M215.5 693.2l-0.3 0.9M174.3 654.2l-1.3 0.4M202.3 633.0l0.8 0.9M212.4 663.5l0.3 1.0M197.5 668.9l-1.1 0.6M265.5 729.7l-1.4 1.0M292.5 714.6l-0.2 1.2M237.0 720.4l1.0 0.4M202.0 729.4l1.5 0.3M267.2 603.4l-0.7 1.6M172.6 696.5l-1.0 0.0M243.7 615.5l-1.5 0.1M148.5 684.9l1.2 0.4M153.4 695.6l-1.0 1.0M147.7 683.5l-0.6 0.9M218.1 638.5l0.8 0.7M302.1 725.4l1.2 0.4M164.9 637.6l1.3 0.9M242.9 736.7l0.9 0.2M131.5 726.1l-1.3 1.1M275.5 647.8l-0.0 1.7M182.1 627.4l-1.0 1.6M166.7 603.0l0.5 0.7M272.9 601.0l1.1 1.4M301.5 705.1l-0.7 1.0M241.4 726.8l1.4 0.5M312.0 653.1l1.2 1.5M197.6 638.5l0.4 0.7M132.7 654.6l-1.4 0.7M276.0 631.8l0.8 1.2M184.8 618.9l1.3 1.1M181.5 651.8l-1.6 0.8M263.1 736.3l-1.3 0.7M201.6 672.6l-0.4 1.5M196.9 604.9l-1.0 0.4M273.8 665.3l-1.3 0.5M155.5 705.5l-1.0 0.0M172.5 602.7l-1.7 0.9M126.9 613.8l-1.1 0.1M301.8 736.7l0.5 0.7M198.9 636.4l0.8 1.5M169.9 695.7l0.2 1.5M282.9 618.1l1.6 0.7M172.8 627.4l-0.5 1.6M218.0 680.4l0.7 0.9M201.7 601.3l-0.7 1.7M166.9 690.4l-0.4 1.8M279.2 709.6l1.1 1.5M221.7 723.6l-0.6 0.9M186.0 661.0l-0.8 0.9M200.5 611.7l-0.8 0.8M213.1 672.1l-0.4 1.2M316.7 721.8l0.9 1.4M242.0 729.4l1.7 0.4M166.7 635.6l1.7 0.1M170.7 609.9l0.9 0.4M163.5 672.5l0.6 1.5M208.6 652.7l-0.5 0.9M205.9 622.5l-1.3 0.5M267.0 678.3l1.1 1.5M223.4 676.5l-1.4 1.0M156.0 660.2l-0.1 0.9M172.4 654.0l-1.0 0.5M292.9 671.6l-1.8 0.6M230.0 678.1l1.6 0.1M248.9 612.8l1.1 0.0M204.2 690.7l1.4 0.5M185.3 685.3l0.1 0.9M164.3 602.4l-0.3 1.9M180.2 734.3l-1.8 0.1M171.5 623.7l-0.4 0.8M318.8 716.3l-1.8 0.1M179.1 628.8l-0.3 2.0M313.5 609.8l0.5 1.7M228.3 682.3l-0.7 1.2M300.5 632.6l0.8 0.5M164.8 607.4l0.6 0.7M311.1 603.8l-1.5 0.5M221.6 675.3l-0.6 0.7M127.9 627.8l0.9 0.1M228.8 726.0l-1.9 0.1M243.4 658.0l-0.0 1.7M133.4 613.0l1.5 0.7M202.1 692.7l-1.0 1.6M284.8 644.5l-0.6 1.0M181.3 707.4l-1.0 0.1M321.7 655.8l0.9 0.2M313.0 628.5l0.0 1.5M291.1 733.5l1.4 0.8M321.0 650.7l-0.8 1.4M271.7 738.8l-0.4 1.6M309.0 631.0l-1.4 0.5M271.2 730.2l-0.6 0.7M191.9 633.4l-0.2 1.7M173.5 676.7l1.6 0.8M162.6 697.1l0.3 1.2M182.6 622.8l-0.8 1.4M199.7 697.4l-0.1 1.2M275.0 654.2l0.2 1.1M191.8 624.5l-1.7 0.3M232.5 625.0l0.0 0.8M134.0 691.2l0.6 0.7M205.3 727.3l-0.9 0.5M269.7 714.2l-0.1 0.9M297.0 674.3l-1.5 0.2M319.3 708.1l-1.2 1.4M301.7 668.8l1.4 0.3M184.3 630.4l0.5 0.7M284.4 637.7l-0.5 1.1M309.6 706.5l-0.9 0.2M244.7 636.6l1.1 0.4M309.9 628.8l-0.7 1.2M271.2 666.9l0.3 1.3M241.2 674.1l-0.7 1.2M190.6 696.5l0.2 1.1M194.6 702.0l-0.2 0.8M230.0 725.6l-1.4 0.4M146.1 611.8l0.3 1.3M296.1 670.8l-0.3 0.9M292.0 732.3l-0.8 0.1M317.1 693.6l1.0 0.7M296.7 620.8l-1.2 0.8M281.5 705.6l1.1 0.6M284.9 603.3l-0.0 1.1M234.7 722.6l0.7 1.6M152.3 718.3l1.4 0.5M310.3 609.9l0.5 1.8M214.3 718.7l1.7 0.4M149.3 628.7l1.2 0.3M314.2 651.6l1.3 1.2M245.7 689.8l-1.6 0.6M296.4 713.9l0.7 1.5M262.9 634.7l1.6 0.4M297.2 605.5l0.2 1.4M303.7 698.2l1.8 0.2M279.6 620.9l-1.1 1.5M226.9 613.1l-0.0 0.9M240.1 685.3l0.6 0.5M150.5 719.5l-1.0 0.4M277.0 601.5l0.9 1.2M291.1 701.0l1.7 0.8M323.6 693.6l1.1 1.1M122.1 656.1l1.3 0.3M257.2 671.9l-0.5 1.7M323.7 619.1l-1.2 0.4M229.5 689.1l0.3 1.7M129.6 665.9l0.4 1.5M225.7 730.0l0.3 1.2M252.7 716.1l-0.6 0.9M192.2 711.6l-1.3 0.8M179.0 731.4l-0.4 1.1M279.2 736.0l-1.1 0.4M125.5 733.3l0.9 0.3M168.9 649.0l1.1 0.3M320.8 601.1l0.9 0.3M266.0 600.7l-0.2 1.0M199.0 700.7l0.5 1.9M266.9 606.5l0.6 0.6M149.8 636.8l-0.2 2.0M208.2 685.5l-0.7 0.4M270.4 708.2l1.0 0.2M229.4 691.5l1.3 1.3M226.3 649.5l0.3 1.2M253.8 730.0l0.3 0.8M196.1 620.4l0.4 1.5M244.5 675.0l1.2 1.2M226.1 695.8l0.9 0.8M122.4 719.9l0.9 1.2M308.5 723.4l1.1 1.2M161.7 607.6l1.8 0.1M264.6 663.2l0.7 1.6M256.6 617.4l0.6 0.8M196.8 649.3l-0.9 0.1M255.3 668.7l1.2 0.2M231.6 687.7l0.1 1.4M235.4 632.9l1.3 0.2M139.4 689.0l1.5 0.2M253.0 699.8l-1.5 0.1M308.1 612.8l0.8 0.7M184.8 684.1l-1.1 0.2M124.9 673.1l1.1 0.9M160.2 735.0l-0.9 1.2M297.7 630.4l1.2 1.2M140.6 698.6l-0.6 1.3M168.5 697.6l-1.0 0.8M252.8 650.2l-1.8 0.6M186.1 653.9l-0.5 1.2M291.7 620.9l-0.7 0.7M170.3 637.3l-0.5 0.7M283.9 617.6l-1.6 0.9M267.9 603.0l1.2 1.6M254.6 681.3l-1.4 0.8M125.5 681.4l-0.3 1.0M212.0 711.6l-1.1 0.2M237.7 606.8l0.2 0.8M319.9 615.5l0.6 0.9M180.4 631.1l1.0 0.6M292.7 601.2l-1.6 0.8M194.5 727.5l0.2 1.1M144.1 639.2l-0.2 1.4M255.5 729.4l1.5 0.5M166.9 642.4l-0.5 1.0M215.5 665.8l-1.0 0.8M183.0 735.7l1.1 1.4M295.6 705.3l-0.7 1.7M165.7 606.1l0.8 1.4M320.0 614.0l-0.9 0.1M165.1 627.7l-0.7 1.5M230.9 704.9l0.6 0.7M182.3 698.4l-0.5 0.7M323.4 704.7l1.6 1.0M190.4 655.9l1.5 0.0M165.2 647.2l1.0 0.2M208.1 685.9l-0.5 1.8M210.6 709.9l1.0 0.1M158.2 683.8l1.0 0.3M301.5 612.9l0.2 1.4M199.5 703.1l-0.9 0.3M144.8 689.2l0.8 0.5M263.8 630.3l-1.0 0.9M282.3 695.2l1.1 1.0M173.4 688.3l1.1 0.7M158.9 646.7l0.9 1.1M250.4 729.9l0.8 1.7M213.2 713.2l-0.6 1.3M136.6 664.7l-0.5 1.0M159.7 727.5l1.6 0.1M258.2 646.0l1.9 0.0M304.7 717.4l-0.8 0.6M180.0 676.8l0.8 0.9M146.7 638.6l0.4 1.8M166.8 603.0l1.1 0.2M122.0 711.1l0.8 0.7M173.8 725.6l-0.7 1.0M207.9 611.1l0.7 1.3M222.8 730.9l-1.5 1.1M320.7 610.7l0.1 0.9M266.1 651.4l0.6 1.1M130.6 660.3l0.7 1.0M182.9 629.0l-1.9 0.4M132.0 637.6l-1.1 1.5M321.9 634.4l-0.7 1.6M177.3 659.5l-0.8 1.0M127.6 685.3l-0.7 1.5M152.7 616.5l-0.9 0.3M320.9 656.2l0.8 0.7M268.4 648.3l-1.4 0.4M293.5 626.8l-0.5 1.3M146.3 709.6l0.6 0.6M263.1 601.2l1.0 1.1M183.0 605.9l1.3 1.0M278.6 727.3l-0.9 0.2M202.3 689.8l1.3 0.4M127.3 725.5l-1.5 1.1M291.3 726.5l-1.8 0.2M312.3 650.7l-1.3 0.7M291.6 655.1l-0.9 1.5M163.5 635.0l0.9 0.4M189.4 678.3l0.7 0.6M232.5 603.9l-0.1 1.7M263.0 703.0l1.4 0.8M242.1 623.9l-0.8 0.4M137.6 736.6l-0.8 1.2M314.2 675.2l0.9 0.3M266.0 700.4l1.2 0.1M173.7 727.1l-1.1 0.8M194.2 727.5l-0.8 1.5M319.5 634.1l0.4 1.0M194.3 625.4l0.4 1.3M257.9 656.7l-0.4 0.8M316.5 642.3l-0.6 1.6M302.0 601.6l-0.9 0.3M203.5 709.3l-0.8 1.1M312.3 662.3l-0.0 0.9M269.7 644.3l-0.3 0.8M139.0 629.3l0.9 1.1M165.0 663.0l-1.1 0.0M262.5 622.2l-0.2 1.6M217.2 706.3l-1.1 0.8M254.1 684.9l0.4 0.8M154.9 618.5l-1.2 1.2M302.0 661.9l0.0 1.0M173.8 644.8l-0.8 0.1M208.4 612.7l-1.0 0.4M290.8 713.5l-0.9 0.9M309.8 642.7l1.4 0.2M315.9 675.6l-0.5 0.9M173.7 716.5l-1.2 0.5M148.8 630.1l-1.4 0.2M167.3 705.5l1.6 0.2M268.0 660.2l-0.6 1.2M170.4 688.1l-0.9 0.5M161.5 655.5l1.3 0.3M281.3 603.9l0.5 1.6M147.1 651.0l1.8 0.9M263.2 682.2l1.0 1.6M323.8 631.8l1.6 0.4M177.3 637.6l0.5 1.2M189.1 677.3l-0.2 1.6M194.6 687.0l0.8 0.3M227.2 662.1l0.3 0.9M160.9 615.6l1.6 0.3M296.1 604.1l-1.3 1.3" stroke="#684840" stroke-width="2.6" stroke-linecap="round" fill="none" opacity="1"/>
<path d="M302.4 631.7l-0.0 0.7M322.3 726.8l0.6 0.1M264.2 678.5l0.8 1.0M301.9 719.5l-0.5 0.4M263.6 738.0l0.9 0.2M242.2 631.5l1.0 0.4M289.2 737.8l-1.0 0.6M127.7 680.1l-0.8 0.6M291.3 694.9l-0.5 1.3M177.5 669.2l1.0 0.7M173.3 643.2l0.5 0.5M169.4 686.6l-0.1 0.5M271.6 654.1l-0.4 1.5M288.6 619.6l-0.7 0.5M211.1 642.3l0.7 0.7M156.1 607.9l1.2 1.0M255.7 642.4l0.9 0.4M141.7 718.9l1.3 0.2M315.3 642.2l0.1 0.6M267.9 607.7l0.9 1.5M155.8 616.5l0.6 1.1M220.1 700.5l1.6 0.2M305.7 681.8l0.3 0.7M272.0 678.8l-0.2 1.4M227.5 727.1l0.9 0.0M295.3 624.9l0.8 1.3M142.7 680.9l-0.6 0.4M305.8 697.7l-0.7 0.6M197.6 638.0l-1.0 0.6M189.1 728.3l-1.0 0.3M234.4 701.0l-1.6 0.7M315.9 723.1l0.8 0.4M127.6 727.3l-0.8 0.4M130.1 674.6l0.6 0.1M159.6 678.7l1.1 1.0M238.3 705.3l1.2 0.9M282.2 674.1l0.3 0.4M179.3 711.7l0.9 0.1M250.7 669.5l-0.6 1.7M201.7 699.2l1.6 0.4M164.2 614.6l1.4 0.6M176.6 702.3l0.4 1.0M150.1 694.8l-0.5 0.6M301.6 606.0l1.1 1.3M138.4 690.2l-0.6 0.4M200.9 631.4l-0.5 1.5M292.4 692.4l1.7 0.5M243.6 623.4l1.7 0.5M190.1 696.6l1.7 0.6M185.3 723.4l-1.2 0.7M148.9 647.1l0.9 1.2M210.9 633.4l1.2 1.0M238.6 659.5l0.5 0.5M245.1 705.0l-0.8 0.9M180.9 661.1l-0.9 1.2M120.9 689.5l0.2 0.8M312.7 601.9l0.6 0.7M181.4 699.9l-0.1 1.5M317.0 650.0l-1.3 0.1M196.8 709.5l1.2 0.5M204.4 710.4l0.8 0.1M268.9 669.1l1.5 0.7M224.3 632.7l0.5 0.7M300.5 641.9l1.2 1.0M166.7 655.0l-0.7 0.0M234.3 684.7l1.7 0.6M298.9 720.2l-1.2 0.8M174.4 649.6l0.9 0.4M137.0 652.8l1.1 0.7M148.3 641.1l1.3 0.2M246.7 730.5l-1.2 0.8M179.4 629.3l-0.3 0.9M160.3 657.0l-0.2 0.6M218.2 684.0l0.8 0.8M175.4 671.4l-0.8 0.1M187.3 616.1l-0.9 1.4M218.0 703.2l-0.5 0.3M288.0 713.6l0.7 0.1M179.1 735.3l0.2 0.7M282.4 728.1l0.6 0.9M190.9 679.5l-0.7 0.6M293.1 667.2l1.4 0.4M182.4 639.4l1.3 0.1M287.6 630.5l-1.2 0.5M155.8 668.7l0.3 0.4M209.8 690.2l-0.7 0.9M271.6 684.8l-0.9 0.3M167.4 661.9l0.6 1.4M166.4 722.3l-0.3 0.5M189.9 647.6l-1.0 1.1M302.5 657.6l0.4 0.4M201.9 666.8l0.5 1.3M255.5 622.4l-1.0 0.7M311.6 700.4l1.3 0.1M309.2 681.1l1.1 0.4M270.7 640.7l0.4 0.7M269.6 692.4l-0.3 0.5M183.5 602.0l-0.1 0.8M207.2 714.7l-0.1 0.7M168.7 721.4l0.7 0.9M253.2 719.9l1.0 1.1M170.2 694.4l0.4 0.5M203.7 728.2l0.7 0.5M167.8 699.3l0.0 1.5M190.5 609.5l0.4 1.5M143.8 735.6l-0.9 0.2M198.7 721.0l1.5 0.6M269.1 714.6l-0.3 0.5M272.1 659.5l-1.5 1.0M189.4 603.3l0.2 1.1M271.1 687.3l-0.4 1.2M241.8 737.2l0.9 1.5M256.5 624.8l-0.4 0.3M183.9 652.2l-1.5 0.8M224.2 717.8l0.8 0.7M208.9 662.8l0.3 1.4M254.0 663.6l-0.1 0.6M270.3 632.1l0.6 0.7M179.4 659.6l-0.5 0.6M191.4 736.9l-0.1 0.7M153.5 643.0l0.1 1.5M154.2 661.5l0.8 0.2M215.3 732.2l-1.1 0.2M263.6 618.0l0.8 0.1M184.8 603.2l0.2 0.6M137.8 640.6l0.5 0.4M146.7 630.6l-0.3 0.4M135.9 718.7l0.6 0.7M257.7 647.4l0.2 1.3M275.8 633.3l-0.8 0.9M262.5 725.3l-0.0 1.2M218.3 628.8l0.8 0.4M163.5 668.5l-1.7 0.2M295.3 659.2l0.9 0.3M156.0 701.1l0.8 0.0M231.3 709.9l0.1 1.5M185.6 711.7l1.0 0.8M196.5 646.5l0.2 1.1M249.2 633.1l-0.1 0.7M195.6 664.9l-1.1 0.1M204.7 736.5l0.8 0.8M153.5 719.5l0.2 0.7M297.7 655.1l-0.3 1.0M150.5 676.4l-1.4 0.1M201.8 654.3l-0.0 1.0M228.9 612.8l1.3 0.3M305.0 618.1l-0.7 1.4M216.6 705.5l-0.3 1.0M161.9 721.2l0.5 1.6M169.3 614.7l1.0 0.5M288.7 606.2l0.3 0.5M225.6 673.2l0.9 1.4M214.6 685.5l0.7 1.1M139.6 646.9l-0.5 1.1M178.8 704.0l-0.5 0.2M256.3 738.0l-0.5 0.5M315.4 625.0l0.8 1.2M180.1 726.7l0.4 0.4M296.3 696.9l1.2 0.4M316.8 663.4l0.3 1.2M234.2 695.9l-0.9 0.2M288.0 604.2l-0.2 0.9M172.9 669.1l1.0 0.3M297.6 646.4l0.7 0.0M270.0 727.7l0.7 1.3M267.5 702.3l-1.1 0.6M166.0 655.6l0.3 0.5M174.9 612.5l-0.8 0.7M206.7 689.7l1.2 0.1M252.8 622.3l1.7 0.1M169.9 697.2l-0.3 1.3M270.1 623.7l0.8 0.1M321.5 724.4l-1.2 0.8M227.4 629.3l0.9 0.3M148.1 716.6l0.8 0.1M203.8 690.2l1.2 1.0M246.9 607.2l0.3 0.6M281.2 615.6l-1.2 1.1M206.5 730.5l0.1 0.8M158.6 665.1l1.2 1.0M245.1 630.2l-0.5 0.2M180.9 643.8l-1.0 0.4M134.3 663.3l0.2 1.6M214.1 654.0l1.0 1.4M209.8 686.4l0.3 1.5M148.0 649.2l-0.8 0.1M139.7 662.9l-0.4 0.5M129.8 625.6l0.9 0.0M191.7 607.4l-0.8 0.0M324.3 678.5l-0.5 0.2M143.1 617.5l0.6 0.2M218.5 667.2l-1.1 0.7M183.2 663.9l1.1 1.3M283.2 613.4l0.7 1.4M304.6 612.2l0.2 0.6M159.3 652.8l-0.2 1.8M189.5 726.7l0.5 1.1M244.8 601.3l0.1 1.1M282.7 637.8l0.3 0.8M261.7 623.0l0.1 1.5M295.8 679.7l1.3 0.2M160.0 644.9l-0.3 1.8M155.3 638.4l1.2 0.9M174.3 678.6l-1.0 0.6M186.4 651.7l1.7 0.0M224.9 699.8l0.6 1.5M254.8 719.7l0.5 0.7M212.1 652.9l1.3 0.3M194.0 699.2l0.3 1.4M290.3 730.1l0.9 0.1M217.1 684.9l1.0 0.9M223.0 705.1l0.5 1.3M305.8 616.8l-0.1 0.6M142.1 610.7l0.7 1.4M176.3 657.7l-0.9 1.4M132.1 713.7l-0.7 1.6M160.4 615.9l0.9 0.8M192.7 620.1l-0.4 1.6M159.7 644.4l1.0 1.1M197.7 644.4l-0.5 0.2M288.9 733.5l0.6 0.0M306.1 678.6l-0.2 1.5M236.1 730.1l-0.6 0.4M296.0 689.3l-0.9 0.7M284.5 611.4l0.2 0.7M144.7 676.8l1.4 0.3M170.3 727.7l0.9 0.7M167.5 683.3l-0.5 0.5M321.1 692.4l-1.0 0.2M178.2 609.8l1.2 0.2M313.2 674.4l0.7 0.1M181.1 719.7l0.5 0.4M124.1 735.1l1.2 0.5M136.2 718.8l-0.6 1.5M272.7 626.2l1.0 1.2M226.2 710.9l-0.4 0.8M126.4 600.9l-0.6 0.2M268.0 700.3l-0.7 1.4M177.9 652.9l-0.6 0.9M303.5 663.6l-0.8 0.8M233.1 609.4l-1.5 0.3M129.7 726.6l-1.0 1.2M241.3 718.6l1.6 0.6M123.5 711.9l1.3 1.2M298.3 728.0l1.5 0.6M232.4 615.4l-0.4 1.6M163.9 683.9l-1.1 1.0M311.8 632.3l0.7 0.1M236.8 659.0l0.2 1.0M235.7 693.8l-0.3 0.5M178.5 634.1l-1.3 0.2M316.5 650.4l-1.2 1.1M169.1 631.1l0.3 1.1M239.9 675.5l-0.2 1.6M227.0 655.0l-0.4 0.6M129.8 722.8l0.5 0.4M220.0 661.9l-0.4 1.5M148.0 715.8l1.2 1.0M280.7 663.9l-0.3 1.3M196.7 656.8l-0.1 0.6M295.1 691.0l0.7 0.3M280.8 621.5l0.7 0.3M159.7 722.6l0.6 0.2M205.3 640.9l-0.5 0.7M178.7 616.6l-1.1 0.2M165.5 676.4l1.6 0.3M271.4 705.9l-0.2 1.5M202.4 728.2l0.5 1.1M128.1 664.7l-1.1 0.4M195.4 658.5l-0.1 0.9M143.9 698.7l0.1 0.5M213.4 616.9l-0.3 0.5M254.4 659.0l0.7 0.2M275.6 679.7l-0.6 1.1M159.6 709.4l0.6 1.6M315.3 736.1l-0.8 0.4M167.6 636.8l-0.5 1.1M313.2 643.2l-0.0 1.0M306.8 611.6l0.9 1.5M286.8 732.6l0.1 1.5M170.2 716.8l0.5 0.0M297.4 709.9l-1.2 0.6M138.3 648.1l0.8 0.4M195.5 629.2l0.8 0.1M136.2 609.6l1.3 0.1M276.7 655.0l0.4 1.1M130.3 618.6l0.5 0.4M178.6 737.0l-0.3 1.2M317.6 623.9l1.1 0.3M314.6 652.1l1.1 0.1M213.2 734.0l1.5 0.1M216.6 664.1l-0.1 0.6M292.5 671.1l0.6 0.4M146.2 632.4l-0.2 0.6M128.3 699.7l0.9 0.1M259.0 733.4l0.5 1.5M279.4 627.8l-0.6 1.0M202.4 633.6l0.8 1.0M289.5 603.4l-0.6 1.3M223.0 731.0l-0.1 1.0" stroke="#8e6e62" stroke-width="2.4" stroke-linecap="round" fill="none" opacity="0.85"/>
</g></g>
<clipPath id="c2"><rect x="340" y="602.4" width="200" height="134.4"/></clipPath>
<g clip-path="url(#c2)"><g filter="url(#hsoft)">
<rect x="337" y="599.4" width="206" height="140.4" fill="#ece2e2"/>
<ellipse cx="360.0" cy="642.7" rx="30.0" ry="53.8" fill="#dccaca" opacity="0.5" filter="url(#hb)"/>
<ellipse cx="500.0" cy="615.8" rx="24.0" ry="20.2" fill="#f8f4f4" opacity="0.7" filter="url(#hb)"/>
<ellipse cx="440.0" cy="723.4" rx="40.0" ry="20.2" fill="#f4ecec" opacity="0.5" filter="url(#hb)"/>
<path d="M533.5 619.8l1.7 1.1M362.6 690.6l1.4 1.2M458.3 643.4l-0.5 1.7M390.7 732.8l-1.7 0.2M474.2 626.0l1.3 0.1M400.7 652.1l-0.3 0.9M410.6 660.2l-1.9 0.3M442.4 655.9l1.6 0.9M449.5 648.7l0.9 0.6M486.4 689.4l-1.4 0.9M462.1 730.9l-0.5 1.1M426.6 637.6l0.9 1.7M362.1 630.3l1.5 1.0M394.4 613.9l0.4 0.7M344.7 628.5l-0.8 0.8M484.5 664.7l0.6 0.6M351.3 692.5l-0.8 1.6M346.6 667.8l1.6 0.0M385.6 674.4l-0.9 0.4M520.2 676.7l-0.1 1.8M376.4 638.8l-0.1 1.8M377.8 622.8l0.8 0.7M443.6 734.6l-1.2 0.6M502.6 714.6l0.5 0.3M471.1 644.9l0.8 0.2M526.9 641.7l0.9 0.3M428.8 646.4l0.3 1.2M410.2 713.0l-1.2 0.5M533.6 652.3l-0.1 1.9M382.4 618.1l0.9 0.4M440.9 610.0l-1.0 0.3M474.8 650.3l0.5 0.1M457.4 642.4l-1.5 0.3M451.5 714.3l-1.4 1.1M454.9 683.7l0.6 1.2M456.4 631.9l-0.5 0.5M347.4 684.1l1.5 0.6M476.8 699.2l0.3 0.6M470.4 636.5l-1.0 0.7M370.8 614.2l1.0 0.6M355.2 669.8l0.2 1.2M480.3 680.3l-0.7 0.3M348.3 617.4l-0.2 1.7M526.4 687.1l-0.8 0.9M346.6 648.0l-0.7 0.2M478.7 674.9l-1.9 0.5M430.2 653.7l-1.3 0.6M371.8 603.1l-0.6 0.6M500.0 687.8l-1.0 1.1M383.3 626.5l-0.6 0.2M343.1 621.2l-1.5 0.9M362.1 648.8l0.4 0.8M425.6 706.4l0.8 0.3M410.4 698.2l0.3 0.5M418.1 726.4l0.7 0.4M432.6 672.2l0.9 0.9M403.5 606.6l-0.1 0.6M456.3 603.8l0.6 1.6M358.0 615.9l0.6 1.7M388.6 706.7l-0.3 0.9M511.3 719.6l0.4 0.8M537.7 637.8l-1.6 0.2M541.8 708.5l1.1 0.3M444.9 708.2l0.1 1.0M454.3 651.2l-1.1 1.1M485.5 705.5l1.0 1.2M433.3 607.4l0.6 0.5M444.6 607.0l-0.4 0.5M364.6 708.9l-0.0 0.6M396.0 625.9l-0.3 1.7M410.3 631.7l0.7 0.8M401.4 631.8l-0.6 1.4M364.5 656.3l-0.2 1.6M498.2 662.1l-0.0 0.6M459.8 677.9l0.6 0.0M466.7 652.7l-0.1 0.6M536.3 699.4l-0.7 1.3M347.3 736.9l-0.4 1.1M362.1 697.1l0.1 1.8M422.3 715.7l-0.4 0.5M404.6 660.6l-0.8 1.8M429.2 640.5l-1.7 0.7M346.9 652.6l-0.1 1.3M395.7 657.7l-1.6 0.9M539.0 737.6l0.5 1.5M391.7 652.0l1.0 0.4M496.0 640.8l-0.5 0.4M535.5 609.7l1.1 0.2M439.9 620.9l-1.7 0.5M378.7 659.8l0.7 0.7M429.3 607.5l-0.6 0.3M382.8 653.6l-0.8 0.6M366.2 626.7l0.9 0.0M500.5 730.4l-1.0 1.2M507.6 700.1l1.2 0.5M339.9 674.0l0.0 1.3M437.6 706.1l0.9 0.8M378.4 687.9l0.7 1.6M361.1 709.3l-0.4 0.8M538.0 669.5l-0.8 0.6M361.3 658.1l1.0 0.8M343.8 639.7l-1.2 1.0M530.0 616.8l-1.2 0.8M448.8 709.2l-0.5 0.9M473.9 708.3l-0.1 0.6M377.4 671.9l1.8 0.2M395.2 640.8l-0.5 0.9M519.8 737.9l-0.3 1.4M388.0 688.4l0.5 1.0M448.4 619.3l-0.6 1.8M361.5 649.7l0.3 0.6M415.8 637.3l0.2 0.8M376.8 642.9l0.5 1.2M467.1 624.7l0.9 0.1M401.1 605.8l1.2 0.9M359.8 602.7l0.6 0.5M416.9 736.5l0.5 1.1M413.3 703.3l-0.9 0.1M531.5 637.0l0.7 1.4M414.6 605.9l0.3 0.6M481.0 627.2l0.2 0.6M432.3 606.7l1.7 0.0M340.9 645.0l0.7 0.4M492.1 610.7l-0.8 0.5M520.7 726.7l-0.4 1.8M422.5 700.3l-0.5 1.0M341.6 653.9l-0.8 1.4M366.3 614.1l0.8 0.2M472.1 661.5l0.1 1.2M456.0 682.0l-1.4 0.7M535.2 686.1l0.1 0.5M377.5 628.5l-1.1 0.2M392.5 663.2l-1.4 0.4M404.1 734.6l-0.6 0.8M438.1 622.9l0.6 0.4M497.6 668.2l-0.2 0.9M476.9 717.7l1.6 1.1M439.9 692.3l0.2 2.0M387.0 686.6l-1.3 0.7M363.3 635.4l-0.3 0.7M523.1 713.6l1.5 1.0M359.1 678.4l1.2 0.7M475.2 669.0l-0.5 0.5M418.4 678.3l-0.4 0.6M361.7 651.4l0.3 0.8M371.8 712.4l0.2 1.6M341.0 720.3l0.2 1.1M515.1 656.1l-1.1 0.6M533.1 689.9l-1.0 1.1M368.4 620.9l0.8 0.6M459.4 613.8l-1.0 0.8M423.1 611.9l0.4 0.3M431.2 665.2l-1.0 0.5M344.8 731.5l0.7 1.0M345.3 686.1l-1.0 0.6M430.1 648.1l-0.4 0.3M470.2 635.0l0.5 0.3M373.1 726.5l-1.6 0.1M367.0 662.2l1.3 0.2M438.4 626.4l1.1 1.0M369.2 640.1l-0.4 1.5M456.2 696.5l1.5 0.3M394.5 736.5l-0.2 1.7M459.4 659.4l-0.6 1.0M489.4 713.7l1.2 0.5M423.6 717.9l1.5 1.0M434.4 615.3l0.5 0.6M350.5 720.0l1.3 0.5M512.3 639.3l0.3 0.8M496.8 707.3l-1.6 0.5M418.2 695.8l0.9 0.7M403.2 611.4l1.4 0.9M381.6 725.5l0.8 0.4M536.6 630.4l0.5 0.4M407.7 711.1l-0.5 0.7M349.7 661.2l-0.1 1.6M373.5 629.8l-0.7 0.6M457.7 706.8l-0.8 0.1M349.8 684.2l0.8 0.6M417.9 607.7l1.3 0.8M411.8 714.3l-1.2 0.5M429.5 649.2l1.7 0.7M354.7 642.6l-0.5 0.7M404.0 718.8l-1.5 0.9M340.9 626.7l-0.8 1.6M380.7 715.1l-0.5 0.7M349.0 654.2l-1.3 1.1M435.7 636.4l-0.9 1.0M422.0 689.2l-1.2 1.3M439.1 615.1l0.8 0.8M504.1 641.8l1.2 0.1M368.2 697.7l-1.1 0.3M500.8 641.3l-0.3 0.5M452.7 707.1l0.4 0.3M406.2 624.1l-0.6 0.7M538.7 658.9l-0.1 1.4M449.0 676.5l-0.1 0.7M385.2 664.4l0.9 0.5M437.7 725.5l0.4 0.7M396.9 613.1l-1.4 0.7M489.6 704.8l-0.8 0.4M443.6 708.1l-1.7 0.6M480.7 649.9l1.8 0.3M541.2 605.6l-0.3 1.2M404.0 668.9l-0.1 1.7M348.2 648.7l0.2 1.1M354.6 689.3l-0.0 0.9M455.3 641.3l-0.9 0.6M412.6 605.1l-0.9 1.6M390.0 676.1l0.8 1.0M357.3 674.5l0.7 1.0M507.8 663.1l0.7 0.3M389.3 617.9l1.6 0.3M514.8 645.5l1.6 1.0M464.6 731.5l-0.5 0.7M402.5 735.9l0.0 0.7M522.0 657.5l-0.2 1.5M484.3 679.3l1.2 1.3M369.9 657.5l1.3 0.5M363.3 647.3l0.6 1.0M413.6 719.7l-1.8 0.5M424.1 623.4l-0.8 1.2M483.3 736.6l0.9 1.1M422.9 738.2l0.8 1.7M457.4 635.7l1.8 0.7M424.2 626.2l-0.1 0.8M534.5 656.9l-0.2 0.9M413.1 701.3l1.9 0.5M425.5 650.4l-1.0 1.6M409.6 658.3l-0.6 0.1M349.0 613.2l0.7 1.0M402.7 650.8l1.1 0.3M528.7 631.0l0.9 0.2M418.6 721.3l1.8 0.4M411.8 666.5l0.2 0.7M453.7 697.5l0.2 0.6M380.6 675.7l-0.5 0.9M437.6 612.6l-1.2 0.6M423.1 636.6l-0.1 1.2M535.5 677.6l-1.3 0.2M535.8 690.8l1.4 0.4M499.7 709.5l-1.6 0.5M399.7 665.6l-0.7 1.0M359.9 622.9l1.0 0.1M477.8 621.7l-0.1 1.1M448.1 653.8l-1.8 0.7M408.4 621.6l-1.4 1.3M398.6 629.6l1.1 0.5M388.3 698.0l0.1 0.6M459.4 727.4l1.2 1.0M443.6 652.2l-0.5 1.6M541.0 720.2l0.8 0.5M359.3 625.0l1.5 0.0M394.3 734.6l0.3 0.7M437.0 733.9l-0.6 1.7M411.8 692.7l-0.8 0.1M356.9 726.2l1.5 0.1M427.6 733.4l-1.4 1.3M422.3 698.4l-1.8 0.3M479.1 623.5l-1.5 0.1M378.0 733.6l1.2 1.2M447.1 706.5l1.1 1.4M494.2 634.1l0.1 0.7M339.3 633.9l0.0 0.8M372.4 693.0l0.1 1.1M460.8 663.9l-0.0 1.5M372.5 681.4l0.8 1.1M360.1 719.0l0.2 0.8M446.3 647.8l0.3 1.2M500.4 675.2l-0.8 0.5M405.3 735.0l1.5 0.4M358.2 652.4l-1.2 0.3M393.7 710.8l-0.1 0.6M444.1 619.7l-0.4 0.6M430.5 682.9l-1.2 1.0M382.9 737.4l0.9 0.1M455.5 682.2l1.6 0.2M434.9 726.7l-1.3 1.2M402.0 685.9l-1.5 0.1M406.6 603.3l-0.5 0.9M364.7 711.6l-0.7 0.1M344.9 713.2l-0.7 1.0M478.2 701.9l-0.1 1.1M378.1 617.4l-1.2 0.6M397.0 737.6l0.6 1.0M372.3 634.0l0.7 0.5M408.3 605.2l-0.4 1.7M527.0 659.9l0.2 1.1M483.9 647.4l0.7 1.2M528.0 669.2l0.3 1.5M410.6 636.8l1.0 1.5M441.8 733.7l1.0 1.7M496.9 660.5l-0.6 1.7M531.0 673.4l0.5 0.7M433.6 640.0l0.7 0.2M351.5 656.6l0.7 0.5M416.0 695.0l-0.9 0.4M347.1 732.1l-1.0 0.2M407.6 680.4l0.3 1.6M513.0 617.4l-0.9 1.5" stroke="#dccac2" stroke-width="3.5" stroke-linecap="round" fill="none" opacity="0.6"/>
<path d="M416.5 692.1l0.7 0.4M466.0 738.5l-0.8 0.3M474.2 603.7l-0.9 0.4M426.9 654.0l-0.0 1.0M376.2 714.2l1.0 0.1M506.7 691.0l-1.3 0.9M421.9 626.5l-0.8 0.8M418.8 703.7l-0.6 0.0M375.1 679.2l0.8 0.3M469.6 671.2l-1.2 0.3M507.8 630.8l0.3 0.6M339.1 688.9l0.8 1.0M385.2 648.3l0.9 0.6M440.5 621.6l-0.9 0.7M488.2 729.4l-0.1 1.0M341.9 606.0l-0.7 0.5M509.7 616.4l0.5 0.6M403.6 641.7l0.7 0.1M364.4 672.1l-1.2 0.7M401.9 664.0l0.6 1.0M523.2 731.0l0.7 1.0M393.6 644.0l1.3 0.3M354.8 730.4l1.4 0.2M436.5 640.0l0.0 0.8M516.7 724.9l-0.8 0.4M496.0 697.2l-1.5 0.1M485.0 709.9l-1.0 0.1M434.1 628.0l-1.1 0.0M394.0 682.9l0.1 1.1M503.2 650.6l-0.8 0.2M489.0 687.0l0.7 1.1M383.2 685.8l0.9 0.9M384.2 669.7l-1.4 0.2M536.1 633.6l-0.1 1.0M526.7 620.5l-0.7 0.6M523.2 725.7l1.3 0.8M498.7 647.3l0.5 0.5M507.7 650.0l-0.8 0.3M521.1 734.5l-0.7 0.2M529.9 674.9l0.4 0.7M351.7 602.6l-0.3 0.7M463.0 608.7l0.3 1.4M509.3 669.4l0.9 0.1M458.6 697.8l0.7 0.5M446.1 619.1l-1.4 0.2M529.5 631.8l-0.8 0.6M511.3 635.6l0.3 0.8M374.6 667.8l-0.9 1.1M528.7 612.4l0.7 0.0M382.9 657.3l0.9 0.1M378.2 728.7l-0.5 0.5M439.0 669.5l0.5 0.5M355.8 727.9l0.4 0.6M534.3 728.1l0.9 0.5M382.0 725.0l0.3 0.7M429.3 703.2l0.7 1.1M455.0 633.5l-1.5 0.4M340.0 702.8l-0.6 1.1M404.2 653.7l1.1 0.8M490.5 711.9l-0.6 0.4M382.8 677.7l0.3 0.8M536.3 673.2l-1.4 0.6M450.7 718.4l-0.7 0.1M340.7 625.5l-0.6 0.7M387.2 629.3l-1.0 0.7M356.2 714.6l-1.4 0.0M532.0 682.5l0.6 0.2M446.3 729.3l0.9 0.5M503.5 625.5l-0.1 0.9M363.2 631.7l-0.9 0.6M463.5 720.4l-1.3 0.1M395.9 616.7l0.2 0.7M355.2 671.3l-0.5 1.3M426.9 656.5l0.6 0.7M456.9 650.9l-1.1 0.8M351.6 629.5l0.2 0.9M386.2 725.1l0.7 0.4M407.2 635.0l-1.2 0.4M390.8 702.5l0.3 1.3M382.3 699.1l-0.7 0.2M416.9 719.9l-1.0 1.1M428.4 672.5l-0.7 0.6M345.6 683.0l-1.0 0.2M487.2 608.3l0.2 1.0M508.2 706.2l0.6 0.2M355.1 604.0l0.8 0.3M489.3 601.7l0.4 0.4M403.2 704.4l-0.3 1.1M533.9 737.3l0.1 1.2M531.6 678.1l0.4 0.6M360.9 626.3l-0.1 0.7M490.5 687.3l1.3 0.9M392.8 659.0l1.0 0.5M496.5 711.6l-0.3 0.9M386.0 713.4l-0.8 0.8M435.3 703.8l-0.3 1.2M423.3 669.1l0.4 1.2M487.5 655.2l-0.2 0.9M410.9 612.3l-0.7 0.0M476.0 691.4l-1.0 0.1M510.2 638.2l1.1 1.1M392.8 607.6l-0.9 0.2M390.4 640.1l-1.2 0.2M517.3 674.7l-0.2 1.3M531.0 716.9l1.2 0.7M375.9 698.8l0.9 0.9M389.2 674.4l0.4 1.2M392.6 612.4l-0.5 0.7M472.1 668.0l0.6 0.5M384.9 641.6l-0.8 0.0M496.0 727.9l0.7 0.6M365.2 621.4l0.4 0.8M355.7 716.1l0.3 0.6M485.4 602.8l0.8 0.6M510.7 677.0l1.5 0.5M382.5 704.6l0.9 0.5M470.2 714.9l-1.1 1.0M464.5 668.8l1.2 0.1M384.7 726.0l0.3 1.1M355.8 617.6l-0.7 0.2M354.7 644.9l0.6 0.6M371.9 723.9l-0.8 0.6M404.3 646.2l0.9 0.1M469.4 694.5l0.5 1.2M504.2 709.6l-0.1 0.9M400.7 636.4l-0.9 1.3M340.3 664.5l0.9 1.2M366.5 696.2l0.3 0.5M447.6 701.3l1.4 0.7M435.1 726.9l-0.2 0.6M524.2 642.9l0.2 1.6M401.7 660.2l-1.3 0.3M452.2 611.9l0.2 0.7M413.7 610.5l0.5 1.4M503.9 730.3l-0.2 1.0M470.5 665.1l1.5 0.4M534.7 729.4l0.4 0.7M435.7 622.5l0.5 0.3M341.5 727.2l-1.5 0.1M374.5 629.8l-1.1 1.1M386.2 626.5l-0.6 0.7M384.7 663.8l-0.6 0.1M519.6 641.1l0.0 0.7M340.5 709.3l-0.6 0.5M436.0 628.0l-0.8 0.8M352.7 724.7l1.0 0.4M458.7 644.4l0.0 1.3M432.2 683.5l-1.0 0.6M383.0 645.9l-0.2 1.1M523.6 676.3l-1.2 0.6M396.7 720.3l-1.4 0.3M379.2 635.3l-0.7 1.0M433.4 731.4l-0.8 0.6M348.9 646.8l-0.4 1.2M343.4 644.8l1.3 0.6M359.7 625.9l-0.6 0.9M490.4 667.9l-0.8 0.0M395.1 644.4l0.4 1.2M490.9 645.9l-0.2 0.6M438.5 719.6l0.7 0.3M354.7 678.3l0.9 0.1M358.5 638.4l-1.4 0.8M353.6 628.7l-0.6 1.4M529.2 677.3l-0.8 0.1M525.3 642.5l-0.7 0.1M348.8 653.5l-0.6 0.5M438.1 632.0l-0.6 0.2M432.4 644.8l-0.6 0.9M519.8 672.3l0.9 0.4M479.4 711.8l1.4 0.5M391.4 621.1l1.4 0.3M527.5 738.5l-0.3 1.3M417.3 644.9l1.5 0.2M464.5 694.2l0.9 0.6M359.8 660.7l1.1 0.9M467.9 631.9l-0.1 1.2M453.0 649.6l-0.6 0.9M424.5 625.9l1.2 0.5M339.5 662.3l-0.9 0.9M444.5 706.7l-0.4 1.3M367.5 711.7l-0.7 0.0M355.5 653.3l1.1 0.9M380.6 633.7l-0.4 0.7M441.3 604.1l-0.0 1.1M435.6 642.9l-0.8 1.2M350.8 720.8l-0.3 1.5M359.4 726.9l1.2 0.8M392.3 618.8l-0.2 0.8M357.9 659.4l-0.3 1.2M347.4 612.0l-1.2 0.4M413.7 702.2l-0.8 0.6M423.3 651.4l0.5 0.5M390.5 648.8l0.9 1.0M436.7 718.1l0.6 0.5M441.4 656.2l-1.2 0.7M457.4 669.2l0.2 0.8M472.9 712.7l0.6 0.8M349.9 637.1l-0.3 0.9M435.2 726.0l-0.7 0.2M532.3 683.1l0.8 0.0M391.0 718.4l-1.2 0.5M368.8 655.1l-0.7 0.8M441.5 726.9l0.8 1.2M527.6 675.3l-0.3 0.7M495.7 704.0l1.4 0.0M468.2 717.3l-0.9 1.0M390.4 698.2l0.2 0.6M441.0 667.4l-1.1 0.5M515.9 602.1l0.5 0.6M338.3 676.8l-1.0 0.4M516.0 724.6l0.3 1.5M366.2 601.6l-0.3 1.0M342.7 625.3l-1.2 0.4M468.8 616.5l-0.5 0.8M520.5 677.4l-1.4 0.6M420.3 685.1l0.8 0.4M384.7 614.6l-0.2 0.8M505.8 701.0l0.7 1.1M449.7 629.6l0.9 0.1M505.6 665.0l-0.4 1.0M386.5 697.3l-0.2 1.3M441.0 610.4l0.8 0.6M355.5 657.3l-0.7 0.6M368.7 673.3l0.5 1.5M455.5 703.3l-0.9 0.7M381.3 604.5l-0.5 1.3M352.1 708.8l-0.4 1.1M402.9 625.3l-1.1 0.1M476.1 662.2l1.0 1.1M341.6 682.9l0.4 0.7M351.7 704.4l0.4 0.7M387.5 708.7l0.9 0.8M376.6 665.5l0.9 0.9M538.3 671.1l0.5 0.5M491.0 703.1l-1.1 0.0M491.7 679.8l-0.4 1.3M479.3 633.1l0.2 1.3M350.1 691.1l0.9 0.7M496.9 719.6l-0.8 0.8M418.8 686.1l-0.5 0.7M397.4 673.6l-0.8 1.3M398.2 613.3l0.2 1.3M509.9 736.4l0.5 0.4M410.1 652.0l-0.3 0.5M340.0 631.1l0.7 1.0M354.1 681.7l0.4 0.8M366.0 684.7l-0.5 0.4M530.7 641.4l0.0 0.9M448.9 647.4l-0.5 1.4M442.2 609.9l-1.4 0.5M401.8 618.9l-0.7 0.1M448.3 715.8l-0.7 0.3M483.5 706.5l-0.9 0.3M415.2 703.5l0.7 0.1M391.8 660.2l-0.7 0.4M400.6 651.7l0.2 0.8M369.6 629.4l-0.7 0.0M500.5 689.8l-0.8 1.1M347.0 684.5l0.0 1.3M426.0 626.0l-0.7 0.9M541.4 635.9l1.6 0.2M379.4 641.5l0.3 1.5M509.5 635.8l-0.5 0.4M514.6 703.1l1.1 0.4M481.5 645.9l1.2 0.9M468.4 735.9l0.6 1.0M464.6 646.8l0.2 0.8M520.5 654.3l0.7 1.0M527.3 649.2l0.2 0.7M420.9 617.3l0.8 0.8M481.9 605.8l0.7 0.4M405.7 628.8l0.4 0.5M384.4 731.4l-0.0 0.9M460.5 650.5l-0.5 0.7M489.4 703.1l-1.0 0.2M360.3 615.7l-0.8 0.0M429.4 650.9l-1.0 0.3M410.6 605.0l-0.6 0.4M346.3 660.8l0.5 0.5M483.5 601.8l-0.4 1.5M530.5 607.7l-0.4 0.9M357.1 604.4l-0.8 1.3M419.8 647.1l0.6 0.8M390.3 625.3l-0.3 1.2M441.5 668.3l0.1 1.0M459.3 609.2l0.5 1.5M520.7 670.4l-1.3 0.2M358.1 695.6l0.2 1.1M382.2 667.0l0.7 0.7M527.1 696.3l1.2 0.1M490.4 734.6l-0.7 1.0M400.4 629.8l-0.4 0.6M468.9 718.9l-0.6 1.0M338.6 624.6l-0.9 0.6M435.5 644.0l-0.7 0.1M354.7 650.7l-0.2 0.7M435.0 720.4l-0.9 0.1M345.8 617.2l1.0 0.3M452.2 700.9l-0.1 1.4M351.8 710.7l0.6 1.1M345.3 732.6l1.0 0.1M370.3 617.5l1.5 0.1M389.3 633.7l0.6 0.5M469.9 647.8l-0.3 0.8M361.6 738.0l-1.0 0.5M541.4 695.8l-1.0 0.5M526.5 734.0l0.4 1.3M462.5 708.0l-0.5 0.9M382.1 728.1l-0.4 0.4M390.2 678.9l-0.4 0.6M352.4 645.6l0.6 0.5M371.0 648.2l-1.0 0.9M399.8 693.4l-0.2 0.9M451.6 612.3l1.0 1.0M479.5 640.8l0.5 0.6M524.3 726.9l-0.3 0.6M448.5 634.6l-0.5 0.6M464.6 681.7l-0.8 0.6M425.9 719.1l1.0 0.8M516.0 696.1l-0.8 0.3M358.0 673.9l1.3 0.7M498.4 651.9l1.4 0.8M413.0 666.8l-0.7 0.4M441.0 651.9l-1.0 1.1M469.6 614.9l0.6 1.0M495.6 655.6l0.5 1.1M399.7 640.9l-0.3 1.0M492.5 687.0l-0.2 0.6M514.3 689.8l0.6 1.3M386.5 683.6l-0.7 0.7M414.9 627.1l0.3 1.3M534.0 679.0l0.1 1.4M361.3 662.6l1.1 0.9M455.9 650.8l-0.6 1.4M448.8 657.0l0.6 0.6M396.9 705.1l-0.4 0.6M428.1 709.9l1.2 0.5M389.9 638.7l0.5 0.9M385.2 658.8l0.2 1.4M357.2 637.8l1.0 1.0M384.4 729.9l-0.1 1.0M518.7 682.0l-1.1 0.3M373.1 634.8l0.3 1.3M524.8 667.6l-0.2 1.2M405.9 684.8l0.0 1.4M491.3 678.5l-0.1 0.7M410.5 717.4l-0.5 0.4M508.9 693.1l0.8 0.0M401.0 627.6l-0.8 0.2M483.4 661.9l0.4 0.4M536.2 641.0l-1.3 0.3M541.0 730.0l-0.2 0.7M473.7 679.2l-1.3 0.9M420.6 646.2l-0.7 0.6M460.3 736.0l-1.0 0.1M370.9 642.7l1.5 0.1M345.3 733.7l1.1 0.3M382.2 736.9l0.9 0.7M508.4 648.9l-0.1 0.8M421.4 735.5l0.7 0.5M520.5 698.9l0.4 1.1M420.9 653.1l-0.9 0.5M532.5 667.4l1.2 0.4M419.3 698.5l1.1 0.9M514.1 635.4l-1.3 0.5M370.7 720.1l-0.1 1.0M361.5 672.9l-1.0 0.9M530.1 691.0l-1.4 0.1M485.5 683.9l-0.9 1.0M405.1 650.8l-0.5 0.8M395.7 652.5l0.6 0.4M423.5 604.0l-0.3 0.5M426.3 655.6l-0.8 0.9M417.0 706.9l0.3 0.7M504.6 718.0l-1.4 0.3M369.2 659.3l0.0 1.4M441.7 642.0l0.8 0.8M361.6 734.7l-0.3 1.1M490.3 627.3l-1.1 0.3M490.9 643.3l-1.3 0.0M513.7 711.3l-1.3 0.7M393.2 622.1l-0.8 0.4M502.9 726.4l-0.3 1.4M367.9 619.0l-0.7 0.5M345.6 719.8l0.4 1.2M457.8 640.1l0.7 0.4M476.0 620.9l-0.6 0.8M482.5 625.4l0.5 0.4M499.1 617.1l0.6 1.5M507.0 662.1l-0.9 0.5M495.5 721.1l0.7 0.7M531.4 634.9l0.7 0.1M343.7 666.4l0.9 0.5M476.4 701.6l0.1 0.8M371.5 607.3l0.9 0.4M360.6 658.8l0.3 0.7M378.8 659.4l-0.7 0.1M454.0 670.6l-0.1 0.8M365.6 678.8l1.2 0.2M508.3 642.0l-1.5 0.3M483.5 719.0l-1.2 0.2M410.8 738.5l1.5 0.3M397.6 685.2l-0.0 0.8M433.7 617.6l1.0 0.6M340.6 654.9l0.3 1.2M465.8 705.0l-0.2 0.8M536.8 696.5l0.3 1.3M375.2 607.0l-0.0 0.7M430.4 629.8l-0.5 0.9M508.2 694.1l0.4 0.8M424.7 622.6l-0.5 1.0M505.7 726.8l0.5 1.3M391.3 708.8l-1.1 0.7M522.4 660.8l0.7 1.2M516.9 728.2l0.1 1.4M441.4 710.4l-0.4 1.2M370.0 665.4l-0.1 0.6M520.2 718.7l-0.1 0.8M459.0 704.0l-0.6 0.9M478.9 682.5l-1.1 1.0M354.6 632.2l0.6 0.5M345.4 603.3l-1.3 0.2M350.0 628.9l-0.8 0.2M363.4 674.9l-1.1 0.3M343.5 716.8l1.3 1.0M495.6 603.5l-0.2 0.9M341.5 612.1l0.3 1.5M426.6 642.5l-0.4 0.8M352.0 726.4l1.1 0.3M346.3 629.5l-0.4 1.3M445.9 653.7l1.2 0.6M419.8 688.7l1.1 0.5M348.4 623.9l-1.4 0.2M407.1 655.3l0.6 1.3M500.3 707.9l-0.6 1.2M491.5 721.4l-0.8 0.0M495.4 687.1l-0.9 1.2M384.7 662.8l-0.4 0.8M533.1 677.8l0.4 0.5M447.2 722.4l0.8 0.5M496.0 690.0l1.5 0.3M341.4 672.8l-0.3 1.3M398.0 608.7l-1.1 0.5M447.8 691.6l1.0 0.6M385.1 616.9l0.4 0.9M405.8 639.9l0.5 1.2M385.5 655.7l-0.3 0.6M405.3 673.3l-0.4 0.8M506.8 692.3l-0.9 0.6M463.5 708.5l-0.7 0.2M508.5 617.8l0.7 0.0M512.9 690.3l-0.3 1.5M459.8 626.2l-0.4 1.0M371.3 717.3l1.5 0.4M430.5 652.3l-0.9 0.4M355.0 621.2l-0.2 1.2M438.7 685.2l-0.7 0.5M376.9 674.4l-0.1 1.1M444.1 679.8l1.3 0.0M421.7 725.6l-0.6 0.8M380.4 703.3l0.7 1.4M524.0 606.9l-0.3 1.5M411.7 640.2l-0.1 1.0M500.2 668.2l-0.3 0.8M511.4 652.8l0.6 0.8M521.9 720.7l-0.3 1.1M408.0 610.0l-0.6 1.1M402.4 628.6l0.0 1.2M487.7 655.0l1.3 0.5M443.7 686.5l-0.4 1.4M422.1 700.6l-0.3 1.1M488.3 612.5l0.2 1.5M499.0 619.0l-1.0 1.0M441.0 654.0l-1.0 0.4M440.6 646.9l-0.4 0.9M522.5 662.0l-0.5 0.8M427.8 616.6l-0.1 1.3M381.1 732.4l-0.5 0.9M409.7 730.8l0.2 0.6M398.0 675.7l-0.4 1.0M500.2 661.0l1.3 0.2M455.3 620.2l-0.6 0.9M451.7 713.3l-0.5 1.2M522.7 618.8l-0.2 0.8M460.6 685.5l0.6 0.1M476.8 717.2l1.4 0.0M532.4 648.2l-0.9 0.2M438.4 609.3l-0.3 1.5M384.2 679.0l1.3 0.8M535.8 681.4l-0.2 0.6M488.5 632.0l1.1 0.6M435.5 643.3l1.1 1.1M498.1 730.5l0.6 1.4M434.8 642.0l-0.9 1.1M389.5 614.5l-0.1 0.8M359.2 637.5l-1.0 0.5M440.1 670.3l1.5 0.3M464.1 605.8l-0.7 0.6M459.7 710.2l-1.3 0.5M401.9 639.4l-0.3 0.7M456.4 735.5l-1.4 0.7M515.8 657.1l-0.5 1.1M340.9 681.9l1.1 0.1M533.5 663.1l0.6 1.1M414.1 723.1l-0.6 0.3M380.1 644.8l0.4 0.6M431.0 607.4l-0.7 0.7M460.3 705.5l-0.6 0.2M352.8 712.2l0.8 0.3M473.9 638.5l-0.2 1.4M339.5 644.1l1.0 0.6M394.0 691.6l-0.3 1.5M511.6 681.5l0.6 0.5M438.4 708.6l-0.7 0.3M381.7 723.8l-0.9 0.2M536.4 709.7l-0.8 1.2M535.8 714.9l-0.2 1.1M342.8 633.7l-1.6 0.1M348.4 647.1l-0.6 1.1M443.6 669.0l1.2 0.6" stroke="#6c64a2" stroke-width="2.4" stroke-linecap="round" fill="none" opacity="1"/>
<path d="M374.3 686.9l-1.5 0.2M480.9 723.8l-0.7 0.2M359.0 617.8l-0.8 0.4M386.7 608.3l-0.3 0.9M537.2 730.5l0.2 0.7M387.4 712.4l1.3 0.6M425.3 693.5l0.6 0.2M355.6 686.4l1.4 0.5M522.1 642.3l0.7 0.3M527.1 653.5l-0.3 1.3M542.0 628.2l0.5 0.3M414.7 694.4l-0.6 1.2M410.4 632.7l-0.7 0.5M362.4 726.5l-1.5 0.5M407.2 643.4l-0.2 0.9M356.2 623.8l-0.0 0.8M391.1 631.5l-0.5 0.5M411.4 654.8l-0.8 0.2M438.6 724.1l-1.2 0.2M538.2 673.1l0.4 1.5M496.0 729.6l-0.3 1.0M414.3 645.7l-1.0 0.4M477.0 633.7l-0.9 0.1M448.7 699.1l-0.9 1.0M407.5 666.8l-1.4 0.5M501.0 697.7l-0.8 0.2M509.8 686.7l-1.3 0.6M389.0 647.6l0.5 0.9M532.5 670.2l-0.0 0.6M463.9 726.8l-1.5 0.1M438.9 692.5l1.0 0.2M412.6 697.4l-1.3 0.1M514.0 642.4l-0.6 0.4M501.2 613.8l0.3 1.0M493.7 657.2l1.0 0.2M499.7 722.0l-0.2 1.2M353.5 722.7l-1.2 0.4M379.5 664.0l1.0 1.2M351.1 696.9l0.7 0.6M381.9 671.7l-0.9 0.7M433.8 680.1l-0.5 0.7M510.1 691.4l1.4 0.6M394.5 603.2l-1.4 0.1M526.0 645.2l0.1 0.7M429.2 693.5l0.1 0.7M459.0 631.3l0.7 1.4M392.6 644.5l0.2 0.8M351.7 708.7l0.7 1.1M385.0 681.8l0.8 0.1M402.7 695.8l1.2 0.7M525.7 625.2l1.2 0.3M448.4 679.0l-1.0 0.4M481.5 655.9l-0.7 0.1M396.9 617.6l1.1 0.7M541.3 638.8l-0.2 0.7M522.7 654.9l-0.7 0.3M356.6 729.9l1.4 0.2M394.8 712.1l-0.1 0.8M379.7 617.1l0.4 0.5M379.2 635.4l-0.2 0.7M455.1 719.3l-1.6 0.1M491.2 668.7l0.3 1.0M343.0 662.5l-0.8 0.9M444.4 603.8l-0.8 0.5M346.3 707.0l1.3 0.8M387.7 627.2l0.8 0.0M363.5 719.8l-0.9 0.3M382.9 647.3l0.3 0.7M412.8 605.0l0.0 0.7M483.9 628.1l-0.8 1.2M454.5 619.7l-1.5 0.4M413.6 704.6l-1.4 0.7M366.1 696.5l0.1 1.5M386.4 638.3l-0.2 0.9M527.7 648.7l1.0 1.2M474.3 716.8l-1.2 0.7M338.1 619.3l-1.0 0.8M362.0 703.6l0.2 1.0M410.9 645.7l-1.2 1.0M449.1 731.2l-1.1 0.3M358.0 721.4l-0.7 0.3M512.3 706.0l-0.0 1.0M357.6 736.3l-0.2 0.9M357.7 645.1l0.1 0.7M457.8 633.4l1.4 0.5M504.5 721.2l-0.8 0.7M523.8 737.7l0.5 0.3M354.6 655.3l-0.7 0.9M451.3 735.5l-0.1 1.3M474.1 722.3l1.2 0.0M426.0 735.9l1.0 0.4M457.7 696.4l0.6 1.0M434.0 665.1l-0.9 1.3M531.6 681.2l-1.0 1.2M537.0 703.4l0.6 1.0M421.1 660.5l0.5 0.9M489.7 699.8l-0.0 0.9M430.2 638.1l1.1 0.3M409.2 650.8l-0.7 0.7M381.1 626.0l-1.0 1.1M483.7 658.8l-0.7 0.2M508.8 631.9l-1.4 0.7M403.6 629.9l-0.7 1.2M345.5 636.0l0.6 0.4M355.2 609.1l0.3 1.3M400.5 639.3l-1.0 0.1M506.7 679.1l-0.1 0.9M440.6 722.2l-1.2 0.0M512.5 661.2l-0.8 1.1M348.9 655.3l-0.4 0.7M351.8 729.5l1.1 0.4M448.4 712.8l-0.6 1.1M500.5 614.0l0.0 1.0M439.3 721.3l-0.1 1.2M349.8 715.3l0.6 1.0M344.5 633.6l0.8 0.8M477.6 687.9l-1.1 0.7M442.4 698.7l-0.6 0.8M414.4 627.1l-1.0 0.3M528.1 717.5l1.2 0.8M529.6 673.7l-1.3 0.5M400.5 643.3l-0.6 1.3M481.6 658.3l-0.8 0.5M521.3 640.7l0.6 0.9M396.9 648.9l0.8 0.3M451.5 695.7l-1.2 0.7M399.4 676.6l0.2 0.9M355.4 617.0l1.0 0.1M401.8 732.1l-0.5 0.8M437.6 712.6l0.7 0.6M456.6 640.7l-0.2 1.6M536.4 607.3l-1.0 0.1M450.3 694.8l0.6 0.4M382.0 719.9l-0.6 0.4M479.3 687.0l0.8 1.2M509.8 646.1l-0.1 0.9M476.6 642.3l-0.3 1.0M440.8 654.7l1.0 0.2M432.8 695.5l0.5 0.7M496.1 728.9l-1.2 0.9M345.8 707.7l-1.1 0.6M445.6 656.1l1.1 0.7M469.0 677.0l0.3 1.3M397.9 624.4l-0.6 1.0M495.4 640.9l-1.2 0.9M496.5 675.8l0.9 0.7M482.4 659.9l-0.1 1.3M378.7 609.7l1.4 0.3M384.7 651.0l1.3 0.1M471.8 669.8l-1.0 0.4M355.4 612.2l0.7 0.6M394.4 698.3l-0.5 1.4M349.8 617.7l0.5 1.3M387.3 700.5l-0.7 0.2M350.0 633.0l-0.9 1.2M449.8 678.8l0.8 0.1M399.6 707.4l-0.1 1.2M403.4 637.8l0.3 1.5M507.3 642.6l0.6 0.9M354.7 705.6l-0.0 1.1M433.0 627.8l1.0 0.6M517.5 690.2l0.6 0.5M408.2 640.2l0.6 0.1M338.7 729.2l0.8 0.1M356.2 623.8l-1.2 0.7M507.1 646.9l-0.9 0.5M398.1 656.1l1.4 0.7M410.0 627.4l0.1 0.9M429.6 661.5l-1.3 0.8M460.4 720.8l-1.4 0.7M514.3 679.9l-0.8 0.1M449.0 631.0l0.5 0.4M434.8 635.6l-0.2 1.2M520.6 646.4l-0.1 1.2M493.7 639.8l-0.9 1.3M353.8 610.5l-0.8 1.1M506.6 658.7l0.0 1.3M381.8 679.5l-0.3 1.5M416.9 610.3l-0.9 0.5M388.8 638.7l-1.1 0.3M500.1 698.7l0.7 1.1M391.6 608.7l-1.3 0.9M508.9 706.9l0.8 0.4M499.2 612.9l-1.1 1.0M535.3 724.6l-0.4 1.4M465.4 706.9l-0.7 0.9M536.8 632.8l0.2 0.6M466.6 698.2l-0.6 1.4M385.4 621.9l0.7 0.7M402.4 634.6l-0.7 1.0M400.3 644.4l-0.2 0.6M494.9 696.5l0.9 0.8M365.0 633.1l0.7 1.1M343.2 714.1l0.2 0.6M355.2 685.5l-0.7 0.0M533.1 647.0l-1.4 0.4M540.3 721.3l0.5 0.5M405.5 675.5l-0.1 0.8M432.0 685.6l-0.6 1.1M492.7 697.1l-1.2 0.1M339.7 643.4l-1.0 0.9M393.9 725.0l-0.5 0.7M532.0 673.6l0.4 0.9M390.0 673.5l-1.2 0.2M340.1 686.6l-0.2 0.8M522.7 667.4l-1.0 0.5M364.6 734.3l0.4 1.4M354.5 637.7l0.3 0.6M362.6 631.5l0.4 0.7M441.3 679.7l-0.5 0.5M529.9 672.6l0.8 0.5M435.1 713.3l0.2 1.6M391.6 613.8l0.3 1.0M515.0 726.0l1.4 0.6M447.7 604.0l-0.3 0.6M484.2 605.2l-0.1 0.8M517.3 734.2l0.2 1.2M383.4 736.6l0.5 1.4M525.4 706.5l-0.6 0.7M533.4 699.6l0.4 1.0M530.2 711.5l-0.9 1.1M338.6 703.2l-1.4 0.2M345.1 702.8l0.5 0.7M353.9 642.3l0.2 1.0M365.4 698.1l-0.5 0.7M418.1 682.7l1.2 0.9M394.0 699.6l-0.6 1.1M482.9 619.0l-1.4 0.3M413.1 692.6l0.2 1.1M399.6 622.1l0.4 0.8M414.3 671.2l-0.5 1.1M441.6 636.5l-0.7 0.6M405.9 726.1l-0.5 1.3M501.0 603.3l-0.1 0.7M511.4 705.3l1.0 1.0M353.1 648.5l-0.8 0.9M469.5 663.2l1.0 0.5M498.3 675.5l0.2 0.7M389.1 677.9l-0.1 1.0M398.5 707.5l0.5 1.4M537.8 625.5l0.7 0.2M467.4 710.0l0.9 0.4M362.5 666.5l0.4 1.3M452.8 631.3l-0.8 0.3M527.1 623.0l1.4 0.4M379.9 708.2l0.6 0.3M370.2 732.6l-0.4 0.9M375.6 667.4l0.3 0.6M534.6 686.5l-0.8 0.4M530.8 672.3l-0.7 0.3M373.6 657.9l0.6 1.0M446.2 698.5l-0.4 0.8M451.5 712.5l-0.4 0.7M350.6 682.9l0.9 0.0M508.0 644.9l0.9 0.9M362.1 610.6l1.1 1.1M370.0 687.0l0.2 1.5M346.2 674.5l-0.2 0.9M391.4 660.8l1.2 0.9M473.2 650.1l0.7 0.7M439.5 601.5l1.0 1.0M525.7 688.2l-1.4 0.6M456.2 645.4l0.9 1.1M456.6 601.4l-1.3 0.9M360.3 610.3l-0.2 0.8M416.5 717.8l0.5 1.4M366.0 637.1l0.3 1.2M451.3 706.4l0.6 0.2M349.0 681.3l-0.1 0.8M380.9 668.6l-0.8 1.1M354.5 665.0l-0.4 0.5M516.3 667.6l0.7 0.1M507.3 669.1l0.2 1.4M377.2 616.1l1.2 0.8M420.1 616.7l1.1 1.2M381.5 728.5l0.2 0.6M469.5 699.8l1.2 0.6M469.6 624.8l0.6 0.5M362.0 686.3l-0.6 0.8M430.2 684.2l-0.7 0.6M485.6 639.3l0.5 1.0M487.9 725.5l-0.2 1.2M356.8 735.4l1.1 0.7M411.4 609.8l1.3 0.2M357.5 633.8l0.7 0.0M467.5 611.8l-0.4 1.4M404.1 667.9l-1.1 1.2M460.1 733.4l-0.1 0.8M364.2 666.7l-0.7 0.6M381.7 660.8l-0.6 1.0M489.9 702.1l-0.7 0.0M473.4 653.8l-0.7 1.1M338.3 735.0l-1.0 0.9M379.4 651.5l-0.6 1.1M442.1 609.2l0.6 1.0M351.1 712.4l1.2 1.0M419.2 666.4l-0.7 1.3M504.6 655.5l-0.7 1.0M421.4 695.0l0.7 1.0M495.4 666.7l1.2 1.1M470.7 669.6l-0.6 1.0M447.0 704.4l0.8 0.6M405.1 623.8l-0.7 1.0M542.0 733.6l0.6 0.4M457.2 685.1l-0.9 1.0M494.3 641.7l-0.4 0.6M455.8 693.0l0.7 0.0M463.4 666.3l-1.1 0.7M490.3 662.7l0.1 1.3M378.0 661.0l1.1 0.6M483.2 721.1l1.5 0.0M368.5 734.0l-0.3 1.0M374.5 666.2l1.1 0.2M497.8 714.9l1.0 0.6M481.4 709.7l0.1 0.7M457.1 735.1l0.8 0.1M413.8 724.8l-0.5 1.2M356.3 698.8l0.8 0.5M403.6 661.8l-1.4 0.1M475.2 712.8l1.0 0.3M410.8 727.8l0.1 1.4M366.9 618.0l-1.3 0.8M351.5 687.0l1.1 0.5M415.2 689.4l-1.2 0.7M338.5 652.0l0.8 0.5M508.3 687.6l-0.3 1.2M444.8 619.4l0.9 0.4M519.9 709.5l0.2 1.6M404.7 611.1l-0.6 0.1M522.3 686.3l0.9 0.6" stroke="#6e4a3a" stroke-width="2.4" stroke-linecap="round" fill="none" opacity="1"/>
<path d="M402.9 716.9l-0.1 1.0M495.6 626.8l0.6 0.1M425.9 697.2l-0.2 0.8M502.3 710.2l-1.0 0.9M398.0 672.3l1.2 0.6M472.2 689.0l-0.7 0.6M385.2 706.9l-0.5 0.2M410.3 700.2l0.2 1.0M494.8 660.1l0.7 1.1M455.6 642.0l0.7 0.8M440.9 720.7l1.3 0.6M413.8 625.3l-0.5 0.6M357.5 630.0l0.2 0.9M405.6 634.4l-0.3 0.5M398.3 628.3l-1.3 0.1M458.5 655.2l0.1 1.0M518.8 726.7l0.4 0.4M446.2 727.3l-0.3 0.8M377.0 626.1l0.6 0.6M447.3 632.0l0.2 0.9M446.8 655.7l-0.5 0.4M436.7 734.6l-0.5 0.8M365.8 715.3l-0.6 0.1M439.6 716.5l-0.3 0.5M460.4 720.0l-0.5 0.2M526.2 627.7l-0.4 0.3M464.9 648.1l-0.2 1.1M456.9 692.3l0.9 0.2M383.2 703.2l1.3 0.2M504.3 673.5l0.4 0.8M458.4 601.0l0.5 0.2M392.3 719.9l-1.2 0.7M372.0 617.6l0.5 0.8M495.8 716.1l-0.2 0.5M522.2 630.7l-0.8 0.1M418.0 712.7l-0.1 0.5M424.3 721.6l-0.6 1.0M441.9 712.3l-0.2 1.3M393.6 602.6l0.5 0.2M519.6 627.6l-0.8 0.5M515.1 650.0l-0.1 0.5M425.0 721.7l-0.2 1.3M446.3 607.3l1.2 0.8M339.3 651.5l0.0 0.5M381.4 642.0l1.3 0.2M346.4 605.0l0.8 0.7M374.4 676.6l-0.3 0.7M395.4 693.8l1.3 0.4M339.1 604.5l-0.3 1.3M342.3 700.3l0.7 0.8M389.9 615.2l-0.5 0.6M410.2 694.3l-0.5 0.3M521.3 657.6l-0.6 1.1M466.6 719.8l-0.4 0.9M517.9 732.6l0.5 0.3M341.3 666.0l-0.4 0.4M361.6 609.1l0.0 1.0M434.2 698.9l0.8 1.1M460.0 674.9l0.6 0.6M373.7 730.1l0.0 0.8M371.1 732.6l-0.2 1.0M446.2 727.0l1.1 0.7M413.6 701.4l-0.5 0.5M375.4 635.1l0.9 0.5M376.8 631.8l-0.7 0.0M507.1 726.9l-0.1 0.7M363.6 674.2l-1.2 0.3M524.8 661.3l0.1 1.2M533.6 684.8l0.6 0.4M394.2 637.4l0.9 0.4M405.3 649.0l-0.5 0.7M367.0 690.9l0.5 0.1M442.3 633.8l-1.0 0.1M394.8 687.4l0.7 0.2M351.5 650.3l-0.0 1.1M431.9 723.5l-0.5 0.4M428.7 711.0l-1.1 0.8M491.5 725.5l-0.3 0.5M412.0 632.1l-0.4 0.4M429.9 679.0l-0.1 0.9M496.0 659.3l-1.0 0.9M537.0 734.4l0.1 1.2M483.4 654.6l0.3 0.6M364.4 679.1l0.7 1.1M367.7 601.3l-0.4 1.0M363.1 600.7l0.2 1.2M523.8 737.7l-0.9 0.7M419.6 708.9l-0.7 0.0M507.3 659.1l1.0 0.3M502.3 648.0l0.6 0.2M432.5 683.4l-0.0 0.6M409.1 697.1l-0.7 1.1M342.8 722.4l0.8 0.1M426.1 637.4l-0.2 0.5M400.2 691.8l-0.2 1.0M386.1 676.6l0.6 0.2M389.0 630.7l-0.7 0.4M352.9 722.9l-0.2 0.9M380.0 724.6l-0.6 0.8M459.6 601.6l-1.1 0.8M450.3 624.2l1.0 0.9M460.7 626.1l-1.2 0.4M395.4 631.0l0.9 0.3M430.1 720.8l-0.1 0.8M396.5 618.9l-0.2 1.0M458.1 684.2l0.5 0.1M373.3 655.2l-0.5 0.4M519.5 680.0l-0.5 0.9M397.4 679.7l0.1 1.1M514.6 653.6l-1.1 0.6M539.0 733.9l-0.7 0.5M423.7 608.6l0.6 1.1M394.5 626.6l-1.1 0.0M496.1 621.9l-0.4 0.4M353.3 662.7l0.6 1.2M443.3 621.0l-1.4 0.2M471.1 721.1l-1.2 0.5M488.8 636.5l0.9 0.5M385.7 669.9l0.6 0.8M492.7 651.5l-0.2 0.7M395.2 618.8l-0.1 0.6M368.0 669.4l1.3 0.5M523.3 600.8l1.2 0.2M520.8 729.6l0.7 1.1M408.6 628.1l0.1 1.0M490.0 736.8l-0.6 0.2M406.3 672.8l0.7 0.0M509.5 701.5l1.1 0.8M380.6 700.0l0.2 0.9M440.8 735.8l0.3 0.9M443.2 603.9l1.1 0.7M356.1 695.2l0.0 0.7M478.8 642.8l0.3 0.6M377.3 611.4l-0.3 0.7M518.0 717.8l0.4 1.3M507.5 664.5l-1.2 0.2M484.9 692.6l-0.9 0.0M436.9 660.0l0.5 0.8M489.9 655.2l1.2 0.1M368.5 715.4l1.0 0.1M361.8 679.1l0.5 0.8M533.3 721.5l-0.2 0.8M413.8 619.2l0.6 0.8M382.6 707.1l-0.1 1.3M383.6 619.5l0.1 0.7M376.1 607.0l-0.8 0.2M347.5 632.5l0.5 0.6M465.2 724.1l0.3 1.0M358.1 646.7l0.5 0.3M398.5 662.4l-0.3 0.4" stroke="#94705c" stroke-width="2.2" stroke-linecap="round" fill="none" opacity="0.9"/>
</g></g>
<clipPath id="c3"><rect x="122.7" y="871.2" width="199.7" height="134"/></clipPath>
<g clip-path="url(#c3)"><g filter="url(#hsoft)">
<rect x="119.7" y="868.2" width="205.7" height="140" fill="#aea8c6"/>
<ellipse cx="222.6" cy="938.2" rx="39.9" ry="26.8" fill="#c8c4de" opacity="0.5" filter="url(#hb)"/>
<ellipse cx="202.6" cy="895.3" rx="30.0" ry="16.1" fill="#9a8a96" opacity="0.55" filter="url(#hb)"/>
<ellipse cx="172.6" cy="965.0" rx="39.9" ry="26.8" fill="#9c8e9c" opacity="0.5" filter="url(#hb)"/>
<ellipse cx="298.4" cy="898.0" rx="24.0" ry="20.1" fill="#9a8c98" opacity="0.5" filter="url(#hb)"/>
<ellipse cx="132.7" cy="884.6" rx="16.0" ry="13.4" fill="#8a7a86" opacity="0.5" filter="url(#hb)"/>
<path d="M228.7 887.2l1.3 1.1M213.4 872.6l0.5 2.1M225.1 970.5l-0.8 0.7M251.6 894.3l-1.3 0.8M160.5 885.0l0.7 0.8M237.4 982.5l1.0 1.3M264.7 983.5l-1.8 0.5M241.4 999.7l2.5 0.4M197.5 895.9l1.4 1.0M310.9 1000.4l-0.1 1.2M251.0 902.1l-1.2 1.1M142.8 956.3l-1.6 0.9M171.3 1000.5l-0.2 1.9M212.3 968.3l-1.3 1.0M149.6 988.9l1.8 1.1M212.2 927.5l0.1 2.1M244.0 909.4l0.9 1.3M316.2 916.3l-1.4 0.9M218.0 945.6l1.4 0.4M129.4 980.6l1.4 0.7M201.3 963.0l-1.1 0.3M306.4 894.4l1.8 0.8M243.5 950.8l1.2 0.3M295.7 929.4l-1.4 1.5M320.6 1004.8l-1.2 1.0M290.0 874.7l-1.6 1.5M200.4 922.0l0.4 1.0M256.9 906.9l1.9 0.4M150.4 957.7l-1.4 1.4M244.2 942.6l-1.6 0.1M231.9 978.3l2.5 0.2M135.1 982.4l1.3 0.3M245.4 984.1l-1.8 1.4M283.7 985.0l-1.7 1.0M146.7 939.3l-0.0 1.3M321.1 975.2l0.6 1.3M301.0 932.6l1.3 1.3M278.8 970.8l-0.8 1.7M275.3 930.8l1.7 1.8M202.7 916.0l0.5 0.9M256.2 986.1l-0.4 1.1M301.2 903.1l-1.1 1.6M240.5 986.5l0.9 1.3M281.9 885.3l1.1 0.4M209.3 988.7l-0.6 1.0M254.6 895.6l-0.6 2.3M275.2 980.5l1.6 0.9M144.3 897.6l0.3 1.0M316.8 988.7l1.8 1.5M169.5 957.2l1.3 0.4M129.2 943.7l2.2 0.0M196.4 971.0l0.9 1.4M219.3 956.0l1.6 1.8M278.0 887.5l1.3 0.3M171.2 888.5l-0.2 2.4M184.4 949.3l-2.2 0.3M131.9 989.2l-1.1 1.6M304.6 899.5l1.4 1.2M207.1 884.4l1.9 0.3M175.0 922.8l-2.2 0.7M127.2 980.5l2.1 0.4M272.6 997.9l0.6 1.1M295.8 976.9l-1.7 1.8M315.7 1003.4l2.2 0.2M159.8 943.2l0.6 1.2M234.0 968.5l-1.7 1.5M314.2 992.9l-2.0 1.0M316.5 963.1l2.4 0.1M247.2 896.9l-0.8 0.7M280.2 920.7l1.5 1.1M228.0 916.6l1.5 1.5M151.3 911.5l0.1 1.5M203.8 1005.4l0.9 0.4M236.6 981.1l-0.9 1.3M275.7 964.8l0.9 1.4M149.5 918.0l-0.8 2.0M125.2 906.9l-0.4 0.9M168.4 907.9l-1.2 0.6M275.1 969.0l-1.0 1.8M160.7 954.4l1.2 2.3M281.6 984.6l1.4 1.3M259.0 929.6l1.3 0.2M130.7 918.8l1.4 1.0M168.2 930.9l0.0 1.4M276.3 877.6l-1.6 0.6M200.4 993.4l-0.9 2.3M150.5 910.6l0.6 0.8M129.7 934.0l0.1 1.0M187.7 986.7l0.4 2.4M298.3 888.1l-1.2 1.0M155.9 878.3l0.7 0.9M275.7 914.8l1.2 1.1M131.1 938.8l2.2 0.3M149.9 991.9l-2.1 1.3M300.8 988.6l0.2 2.0M183.4 946.6l-1.0 0.4M219.1 952.6l-1.4 0.2M219.0 890.0l-2.3 1.2M128.9 981.6l0.2 1.4M131.0 901.9l0.2 1.5M321.6 948.6l0.3 1.4M180.5 919.0l1.3 0.6M250.9 872.0l-2.0 1.0M185.8 914.9l-0.1 1.4M230.6 895.5l0.8 0.6M264.5 891.8l-0.2 1.6M287.8 889.4l2.1 1.3M217.7 932.5l1.4 1.5M201.1 917.9l-1.3 1.5M144.2 869.8l-0.4 1.2M318.9 913.4l-0.7 1.4M213.7 974.9l1.7 1.1M142.7 873.8l1.9 0.2M296.7 904.3l-0.9 0.9M203.4 995.3l0.1 1.4M258.8 882.9l2.5 0.1M262.7 905.3l-0.4 2.6M283.6 943.5l0.9 0.8M317.3 981.8l-1.7 0.2M155.1 947.8l1.7 0.6M146.3 896.3l1.1 0.5M132.2 909.8l-1.7 1.9M248.7 1003.6l0.6 2.0M266.2 951.0l-0.1 1.8M198.4 913.5l1.0 0.5M284.6 880.1l1.2 2.2M226.0 899.2l1.8 0.1M302.2 997.6l1.2 1.1M124.0 938.0l-1.5 0.1M174.0 952.7l-0.7 0.8M126.1 996.4l1.4 2.0M157.5 900.7l-2.5 0.8M149.7 954.6l0.9 1.3M166.3 950.1l1.4 0.7M175.2 976.1l2.4 0.9M194.2 948.0l-0.5 2.1M222.2 893.0l-1.3 0.6M309.2 925.2l-1.3 0.3M146.8 926.6l0.8 1.6M277.7 873.9l-0.1 2.3M172.0 893.6l-0.0 2.4M276.2 975.7l-1.7 1.4M191.9 919.6l0.8 1.8M211.0 957.4l-0.2 2.3M123.3 950.1l-1.5 0.2M148.9 894.6l1.5 0.4M223.4 931.4l1.7 0.9M259.7 881.5l1.2 2.1M182.5 908.7l-0.2 2.0M234.6 953.6l-0.2 1.8M153.5 920.3l-1.1 1.5M174.7 933.0l-1.7 0.0M301.5 919.2l-1.2 0.5M158.3 883.9l1.9 1.4M216.9 953.4l-1.5 0.6M122.0 901.8l0.2 1.1M224.9 984.8l1.1 1.0M306.5 936.3l2.0 0.2M157.1 904.9l0.2 2.5M152.4 898.6l2.3 0.0M170.1 968.9l-1.7 0.9M295.4 982.2l-1.9 0.1M315.1 928.0l-0.8 1.5M275.7 987.4l-1.1 1.3M187.7 953.2l-2.0 0.3M121.3 946.9l1.1 1.2M313.1 903.2l-1.3 0.2M204.1 951.1l-1.1 0.6M279.9 994.5l0.3 1.7M257.1 952.5l1.1 0.1M247.0 948.8l-1.4 2.0M261.0 903.5l0.9 1.6M186.9 1006.4l0.7 1.8M297.9 923.9l2.0 0.3M275.5 976.6l-0.1 2.3M168.2 966.8l-2.1 1.4M173.6 988.6l0.8 1.9M124.3 961.8l-1.1 1.5M233.0 895.3l-2.2 0.7M196.4 900.1l0.3 1.5M211.7 905.3l-1.2 0.1M208.7 941.2l0.5 2.0M123.9 902.7l1.8 0.0M190.0 968.9l1.1 0.1M155.6 982.7l-1.6 1.8M207.8 963.5l2.2 0.4M155.2 899.5l0.6 2.0M183.6 949.9l-1.0 0.8M213.0 964.4l2.2 1.4M232.5 893.2l-0.1 2.2M176.8 966.7l-0.7 1.7M294.2 913.8l-1.0 1.1M219.2 989.7l-0.8 1.4M305.7 993.2l1.7 0.0M142.6 917.3l1.9 0.9M212.8 985.5l0.6 1.2M238.8 999.1l-0.6 1.6M154.5 915.3l0.3 1.0M148.1 964.0l-0.5 1.0M194.7 958.7l1.5 1.4M316.5 885.7l-1.3 2.0M161.2 1006.0l-1.7 1.0M269.7 891.5l-0.4 1.9M294.0 935.6l0.6 2.1M175.1 888.7l1.1 0.6M226.2 884.6l1.8 1.1M274.5 872.0l-0.2 1.2M123.3 952.4l-1.7 1.0M145.3 895.3l-2.1 0.9M127.8 943.0l-1.5 1.2M144.5 879.9l-1.3 1.4M219.8 882.5l-0.8 0.8M280.6 895.5l1.4 1.9M192.2 903.6l-1.5 1.4M131.4 936.1l-1.3 0.1M133.9 877.5l-0.4 1.9M257.0 874.5l1.2 0.2M272.9 905.2l2.5 0.7M146.5 989.0l1.4 0.2M315.0 982.5l-0.0 1.5M278.9 929.9l-1.6 2.0M247.0 989.6l-0.7 0.9M187.9 913.0l-0.9 0.7M225.7 979.5l1.2 0.6M317.7 947.4l1.1 1.7M144.5 911.1l-0.2 1.8M253.6 917.0l1.3 0.1M126.8 918.0l-0.4 1.1M172.1 970.5l-1.2 1.0M124.7 954.5l1.3 1.2M170.0 943.8l0.8 0.9M305.0 933.1l1.2 0.3M146.8 876.4l-0.9 1.6M142.2 965.6l-0.8 0.7M229.8 952.3l-0.3 1.2M303.0 893.9l1.5 0.6M218.5 952.4l1.3 0.1M266.0 903.7l-1.2 0.5M181.4 946.3l2.0 0.7M246.1 997.2l-0.1 1.8M200.3 903.7l-0.9 1.5M147.7 993.0l1.2 0.2M285.9 895.1l1.5 1.4M192.5 948.3l0.6 2.3M273.0 910.4l-1.5 0.9M258.5 926.4l-1.1 2.1M290.4 953.8l1.9 1.3M124.2 925.9l-0.1 1.0M135.2 882.5l-0.1 2.1M217.1 968.1l-0.2 1.4M295.9 928.6l1.4 0.8M160.0 964.5l0.0 1.4M148.5 949.1l-0.8 0.8M191.3 916.0l-1.4 1.7M164.9 939.6l-1.8 1.7M229.0 920.8l-0.6 1.1M147.3 918.5l0.3 1.8M251.7 993.1l-1.5 0.6M138.3 880.7l1.3 0.7M196.3 936.8l-1.1 1.6M208.8 880.1l0.4 2.1M311.6 972.2l-2.2 0.2M179.2 871.1l1.6 0.4M147.5 931.6l2.1 1.4M306.6 964.4l-2.1 0.2M138.2 1003.5l1.0 0.2M231.7 880.1l1.1 0.8M139.5 985.6l-0.7 0.8M216.7 973.8l-0.7 1.7M319.0 994.8l0.1 1.2M273.6 934.6l-1.0 0.9M237.0 960.0l0.6 1.1M299.2 977.0l1.0 2.1M185.2 983.7l1.9 0.1M233.7 951.0l0.1 2.2M175.5 883.1l2.0 1.1M204.3 991.6l2.2 0.8M188.0 921.2l-0.3 1.2M200.8 869.4l0.4 1.4M273.0 888.7l-2.5 0.2M247.5 905.4l2.1 1.2M223.4 892.3l-2.3 0.8M244.2 920.5l1.1 0.4M179.8 877.5l-0.6 1.1M266.3 1001.8l-2.0 1.2M195.8 1006.1l-1.4 0.1M302.8 953.6l-0.1 1.4M207.3 1007.1l1.1 1.8M205.3 965.6l0.6 1.2M148.7 910.7l1.3 2.0M143.4 915.3l-1.6 1.0M307.0 921.6l-0.0 1.1M257.1 931.0l-1.9 1.6M203.5 960.9l1.1 0.9M165.1 934.0l-0.2 1.3M306.4 908.2l-2.3 0.8M140.6 897.2l1.6 1.7M149.2 1001.4l-2.3 0.4M204.1 919.3l-1.2 1.1M206.6 926.0l-1.4 0.1M256.4 877.5l1.1 0.1M190.8 998.4l-1.8 0.2M259.7 986.3l0.5 1.7M275.0 898.7l1.9 0.2M127.0 1000.9l-1.8 0.3M298.3 916.0l-1.1 0.5M295.7 998.9l0.2 2.2M168.7 994.5l2.2 0.1M313.4 894.2l1.9 1.3M266.4 962.9l0.4 1.3M270.6 918.5l1.4 1.2M123.4 870.8l-0.1 1.9M131.6 873.7l-0.4 2.0M236.0 871.7l0.7 1.1M248.3 927.0l1.6 1.6M179.4 887.3l-0.3 1.1M314.5 958.0l0.3 2.0M186.5 985.8l1.9 0.7M205.8 933.0l1.7 0.2M302.4 948.9l1.2 0.5M194.8 883.3l-1.9 0.6M174.0 1006.1l2.2 0.7M133.5 883.6l2.2 0.8M181.4 1002.9l1.1 2.2M273.3 1000.5l-1.1 0.1M270.7 966.3l-1.4 1.8M214.7 998.3l-1.1 1.1M208.0 1000.8l-1.0 2.2M157.2 995.3l1.9 0.5M242.6 1005.7l1.6 0.1M259.7 923.3l1.3 0.8M252.3 955.5l0.1 1.2M259.5 956.2l-1.5 0.4M303.6 962.7l1.7 1.7M147.4 922.2l1.3 1.3M277.8 955.2l-2.1 0.2M160.9 996.9l0.4 1.0M157.1 872.5l-1.3 0.5M159.7 928.4l2.2 0.2M226.7 877.4l0.8 1.0M302.0 978.6l-1.3 0.8M247.8 890.7l-0.7 1.9M299.4 908.9l1.9 0.2M131.9 910.8l2.0 1.0M135.1 915.7l-0.9 1.6M229.1 957.2l-0.3 2.1M316.6 943.2l0.7 1.2M208.7 951.7l1.6 0.2M148.5 938.8l2.3 1.0M213.3 934.2l0.6 1.3M303.4 1005.1l0.7 1.7M147.0 981.7l-1.3 0.6M202.7 960.2l1.4 0.9M240.3 988.2l-2.3 1.0M202.1 959.9l1.0 0.8M311.1 987.5l-0.3 2.3M199.8 920.6l-2.1 0.8M177.3 895.6l-1.7 1.5M277.0 955.7l2.2 1.2M323.4 959.4l-0.9 0.9M153.2 907.0l-1.7 1.7M283.4 888.2l2.0 0.9M244.0 893.1l-1.1 1.2M174.2 922.8l-2.5 0.5M301.2 899.6l-0.7 1.5M127.0 889.4l-1.8 0.2M210.4 909.5l1.8 1.8M261.5 976.3l-1.6 0.5M270.4 997.5l1.7 0.9M290.9 922.7l1.1 1.4M201.4 875.7l-1.3 0.8M168.1 972.5l0.8 1.0M152.9 989.9l2.6 0.0M156.5 968.9l-1.4 1.5M305.0 995.7l0.9 2.3M232.4 920.8l0.3 1.2M321.2 986.0l1.0 0.2M276.1 873.3l1.8 1.8M311.4 963.5l-1.2 0.7M303.5 902.6l0.9 2.4M214.9 881.5l-0.2 1.1M309.9 951.3l1.0 1.2M253.3 996.0l0.1 1.7M240.4 893.9l0.7 0.8M199.4 907.5l-0.5 2.2M260.8 925.8l-0.7 0.9M201.7 1000.2l0.3 1.2M312.8 870.9l0.6 1.1M313.7 913.6l0.8 1.4M278.7 991.1l-0.6 1.3M273.9 887.3l1.3 0.3M175.9 970.5l-2.5 0.7M178.6 916.9l0.8 0.7M288.6 899.6l2.1 1.4M194.1 960.8l-0.7 0.7M320.5 997.8l1.2 0.7M187.6 879.4l1.8 0.5M135.2 973.3l-1.0 1.2M306.2 982.6l-0.3 2.4M259.5 999.6l-1.8 0.7M131.4 940.6l-1.5 0.8M163.0 972.1l0.2 1.5M134.7 918.7l-0.7 1.4M157.2 939.8l1.7 1.1M215.3 945.2l0.3 1.1M225.9 907.4l-1.9 1.5M152.9 966.3l-1.6 1.2M239.2 974.0l0.5 2.5M258.9 889.1l0.8 2.3M170.7 938.0l2.5 0.6M197.7 998.4l-1.8 0.8M248.9 996.2l-0.9 0.7M142.7 927.8l0.5 0.9M319.8 1000.8l-0.2 1.4M160.1 931.8l-0.5 2.3M176.9 945.5l0.5 1.4M161.4 924.7l-0.5 1.2M178.1 938.4l-0.7 1.2M161.2 880.1l0.5 2.0M133.4 956.6l-1.8 0.7M133.3 954.9l-1.0 1.1M318.7 887.2l1.7 0.0M227.0 945.0l-0.9 1.6M311.5 893.7l-1.5 0.1M216.9 989.7l0.3 1.6M123.9 935.8l-0.6 1.4M227.3 955.7l0.9 1.0M314.0 920.7l2.4 0.9M190.1 951.4l-0.7 2.0M180.9 982.3l1.8 0.9M168.0 950.1l-1.9 0.8M226.0 925.2l-1.2 0.8M120.9 989.5l-0.1 1.6M207.3 993.8l0.7 1.0M139.0 990.7l-2.3 0.9M285.1 987.1l-1.2 1.1M143.5 940.4l1.6 0.5M239.8 966.6l-2.2 0.7M148.7 994.2l-1.6 0.4M143.1 933.3l-2.1 0.5M152.6 882.9l-1.5 0.4M217.6 897.8l-1.2 1.2M245.0 879.9l0.1 2.3M162.0 968.6l0.7 0.8M201.8 919.0l-0.9 0.7M140.3 874.0l1.2 1.4M273.3 979.8l1.3 0.5M194.7 916.7l1.0 0.3M276.0 874.0l-0.7 1.3M194.7 893.2l-0.9 1.0M277.6 934.6l-1.0 0.6M232.6 918.7l-0.9 1.4M310.9 993.6l2.0 0.4M233.1 996.1l-1.5 1.7M155.4 912.2l-0.1 2.3M242.3 997.3l-1.2 0.4M226.1 965.0l-1.5 1.0M210.6 955.2l-0.4 2.1M185.9 899.6l-0.1 1.2M214.8 997.2l1.6 1.7M197.4 981.7l0.9 1.3M168.5 902.3l0.8 1.6M191.2 884.9l1.1 0.0M250.8 927.3l-1.0 1.6M211.5 899.5l0.5 1.2M286.0 919.2l-1.4 1.0M214.4 964.0l1.0 1.4M285.8 939.5l1.5 1.8M177.6 875.8l-0.1 1.0M126.4 921.4l0.4 1.8M310.9 904.3l1.5 0.2M177.1 929.1l1.5 1.7M298.4 1005.6l-1.7 0.4M306.9 996.2l0.9 2.0M255.9 895.5l0.7 1.0M272.8 956.0l2.0 1.5M240.7 955.9l-1.7 1.2M215.2 987.7l-2.2 0.1M315.6 881.3l0.4 1.2M151.8 949.8l0.1 2.4M156.4 902.2l0.8 1.1M213.8 957.6l1.8 1.7M214.4 886.2l0.8 1.7M127.4 946.1l0.9 1.9M169.7 974.6l0.7 1.8M318.7 972.6l-1.6 1.4M217.2 869.6l1.7 1.7M171.6 877.6l-0.2 1.5M262.0 981.6l-1.0 2.4M265.7 986.6l-1.0 0.4M264.1 963.7l1.0 1.1M312.9 880.4l1.8 1.7M163.1 993.9l1.0 0.2M218.5 972.4l0.5 1.0M309.5 984.3l-1.7 0.1M248.2 994.0l1.4 1.0M318.2 880.1l-1.2 1.0M317.7 896.3l-1.1 2.3M277.5 873.5l0.5 1.6M193.7 991.0l-1.9 1.8M239.9 932.5l2.4 0.8M140.3 905.2l-1.9 1.5M159.3 872.4l-0.9 0.8M135.7 906.4l-0.7 0.9M246.7 874.1l-1.6 1.4M238.0 872.9l-0.5 2.1M149.3 901.7l-0.1 2.5M216.2 887.0l-1.1 1.1M185.1 974.5l0.7 2.5M243.7 929.7l1.3 0.4M218.8 887.1l1.4 1.1M259.9 925.4l1.0 0.5M277.7 925.1l-0.6 1.4M203.2 883.0l1.1 1.1M212.8 930.9l1.5 0.3M238.6 923.6l1.7 1.0M239.9 989.7l-0.9 1.3M191.3 871.6l0.6 1.3M158.2 912.4l1.3 1.1M180.9 880.4l-0.3 1.3M294.5 996.9l-1.3 1.6M159.6 965.9l1.0 1.4M320.0 967.4l-0.2 1.9M156.4 1005.6l1.4 1.5M210.9 904.1l1.0 2.4M124.0 936.7l0.7 1.1M183.2 977.8l1.1 1.7M288.2 894.8l0.1 2.2M240.2 978.0l-0.7 1.8M169.4 878.4l1.2 1.8M215.2 918.6l-0.1 1.1M189.5 985.4l-0.5 1.8M299.3 1003.9l-0.5 2.4M186.7 960.1l-1.3 1.5M124.1 964.2l-1.3 2.0M296.5 945.5l0.9 2.4M144.6 982.2l-0.9 0.8M251.4 912.3l-0.4 1.2M250.7 963.0l-0.4 1.3M150.1 999.4l-1.6 1.9M144.4 890.1l-2.3 1.0M320.4 906.9l0.9 1.7M259.1 989.5l0.1 1.3M241.9 869.3l0.0 2.5M207.7 1003.7l-1.1 1.4M272.6 885.0l-1.2 1.0M265.2 936.9l0.6 1.1M157.7 928.9l-1.7 0.3M194.0 882.4l0.1 2.5M299.2 997.9l-0.4 1.7M235.6 992.8l-1.3 0.2M269.0 894.4l0.3 1.4M132.6 906.1l0.1 2.5M188.8 958.8l-1.5 1.2M286.2 997.0l0.6 0.9M281.1 976.9l-0.9 1.4M290.6 983.6l-2.1 1.2M247.4 900.0l-1.3 1.0M306.6 975.9l1.9 0.9M156.3 944.2l-2.3 0.3M249.6 942.5l-0.9 0.7M122.4 914.2l1.8 1.5M262.2 1003.9l-1.0 0.5M277.0 968.2l-0.1 2.4M316.8 870.3l-1.7 1.4M128.6 943.4l0.1 2.2M295.9 1003.5l-0.4 2.4M181.1 924.7l-1.9 1.0M307.2 986.3l-1.3 0.4M241.1 917.5l-2.4 0.5M206.0 973.3l-1.4 1.9M204.7 985.9l1.7 0.8M132.9 906.4l0.8 0.9M322.4 956.7l-1.1 1.0M186.7 939.9l2.0 1.4M130.4 880.5l1.2 1.4M259.9 967.4l-1.2 2.1M273.2 876.1l0.9 0.5M317.8 956.3l1.5 0.0M272.8 943.5l-0.6 0.9M224.1 946.9l-0.9 1.9M233.4 943.6l0.7 0.9M125.5 1007.0l1.1 1.4M271.4 1002.3l1.6 1.2M253.4 935.9l-0.4 1.1M302.7 895.4l-1.0 1.7M285.7 959.4l1.2 0.8M221.3 955.1l0.6 1.4M307.8 953.6l-1.4 2.1M202.0 888.9l-0.5 1.6M138.1 910.3l0.4 1.3M243.5 912.7l0.9 1.7M150.5 911.8l-0.7 0.9M146.5 1007.0l0.3 1.2M227.9 955.5l1.1 0.9M288.5 902.1l0.4 2.0M130.3 927.2l1.3 1.5M257.5 916.0l1.1 0.1M296.8 941.6l0.3 1.4M240.7 978.1l-0.9 0.8M144.4 879.2l-1.3 0.2M139.3 918.4l-1.7 0.0M310.7 892.6l1.4 0.5M278.1 911.2l0.5 2.4M204.8 1004.7l1.1 1.3M232.3 946.7l1.3 0.8M282.2 924.7l-0.3 2.2M249.9 954.2l1.2 2.3M199.6 967.9l-1.2 1.0M215.3 938.3l-1.0 2.1M273.2 958.0l-2.4 0.4M283.6 883.1l-1.1 2.1M278.1 965.8l2.4 0.9M282.7 894.3l2.0 0.0M293.1 886.9l-1.9 1.4M255.1 949.4l2.5 0.1M173.8 877.7l0.2 2.5M242.7 958.4l0.7 1.7M161.6 930.1l-1.9 0.1M235.8 948.9l0.5 1.6M155.9 1002.3l1.5 1.7M320.9 962.3l-1.4 0.2M305.7 887.9l1.5 0.5M204.6 870.3l-2.4 0.3M261.9 942.6l-2.0 0.4M237.3 967.8l-1.0 1.4M165.9 904.8l1.0 0.6M138.2 960.5l1.6 1.6M260.1 926.0l-0.3 1.5M124.6 995.3l-1.4 0.1M214.5 979.0l-2.3 0.9M140.0 973.6l2.1 0.8M250.7 937.2l-1.7 0.6M278.5 953.5l1.7 1.5M167.7 950.4l0.7 1.1M150.6 894.7l1.1 1.1M170.8 907.3l2.1 0.8M186.2 999.5l-1.0 2.1M153.9 899.9l-1.5 0.7M162.7 983.8l0.4 1.2M323.3 926.6l-1.2 0.5M286.2 917.9l-0.2 2.3M204.9 893.0l-1.6 1.6M275.4 988.5l1.1 0.6M162.3 924.4l2.0 1.3M302.0 970.0l-0.5 1.2M183.3 956.6l0.1 1.1M176.4 891.2l2.0 0.5M187.0 992.8l-0.6 1.3M281.9 985.5l-1.5 1.8M258.5 948.4l-1.5 1.2M280.8 933.1l-1.3 0.5M182.4 978.4l0.1 2.4M160.2 902.6l-1.7 0.7M178.2 952.2l1.7 0.1M149.4 901.0l-1.9 0.6M221.4 938.4l-1.0 0.7M240.0 956.4l-1.3 0.9M232.2 928.1l1.9 1.1M263.5 904.6l1.8 0.4M195.9 938.3l-0.1 1.6M301.9 988.6l1.0 0.7M155.0 909.2l1.1 1.0M266.8 879.4l-0.6 0.9M124.4 986.2l-1.6 0.9M126.5 882.6l-0.2 2.5M270.3 878.6l1.0 1.9M193.5 1001.8l-1.1 1.6M258.0 978.9l1.9 0.9M178.8 961.3l1.8 0.4M305.4 911.0l2.4 0.6M129.0 925.3l-2.3 0.2M188.0 936.2l1.3 0.3M149.1 1004.1l-1.3 0.6M257.4 914.4l0.9 1.3M295.1 931.2l-1.1 1.1M231.6 954.7l0.5 1.3M131.0 871.9l2.2 0.5M184.1 873.3l0.2 2.1M299.0 959.3l1.8 0.1M280.0 872.4l-0.8 1.4M136.8 947.0l-2.3 0.9M282.5 956.6l2.4 0.5M308.9 946.7l-0.1 2.5M268.2 903.0l0.7 1.2M312.5 981.5l0.6 2.4M200.1 978.0l1.0 2.3M215.3 965.2l-1.3 1.5M132.0 949.1l0.0 2.5M218.9 946.5l0.9 0.7M318.5 884.7l0.1 2.3M232.8 937.4l-2.0 0.2M293.8 942.5l1.3 2.0M195.6 883.6l0.5 1.8M306.4 928.1l-1.4 1.2M183.7 869.8l-0.3 2.4M154.7 901.9l1.5 1.9M132.0 993.5l0.1 2.3M259.0 946.6l-1.7 0.9M184.7 887.2l1.3 0.5M172.9 977.7l2.4 0.4M291.6 986.9l2.2 0.6M181.1 900.4l1.7 0.5M181.9 937.6l-1.9 0.2M135.0 984.4l1.6 2.0M233.2 871.5l0.3 1.2M197.2 949.2l2.2 1.1M290.1 946.8l1.0 0.5M123.5 944.2l1.5 0.9M146.4 985.6l1.8 0.4M248.8 876.5l1.0 1.6M240.6 913.1l1.9 1.7M191.6 997.6l-0.7 2.3M133.9 884.2l0.0 1.6M312.1 883.6l-1.0 0.8M194.8 879.8l-1.5 1.4M210.8 908.2l-0.7 1.8M242.8 970.7l-1.9 1.1M143.1 992.0l-1.2 1.7M132.5 987.1l-1.8 0.9M170.9 898.9l-1.7 0.3M166.5 942.1l-1.1 0.5M305.6 923.3l0.5 0.9M180.0 970.5l-1.4 0.4M147.6 875.8l-0.1 2.4M126.6 972.3l-0.7 2.4M140.1 1007.0l1.2 1.4M272.9 1006.1l-0.6 1.6M239.5 928.9l1.1 0.1M230.0 977.9l-1.6 1.5M296.0 903.7l1.1 1.9M123.5 907.6l-0.1 1.0M137.5 908.4l-0.5 2.1M263.6 960.4l-0.9 0.7M121.5 990.8l2.0 0.4M173.7 944.0l1.9 0.6M244.5 902.4l2.1 0.0M311.2 875.5l-1.0 0.0M254.1 976.6l-1.3 0.4M321.8 910.5l0.2 1.0M232.4 913.9l0.9 1.3M163.3 965.8l-0.6 1.1M160.8 877.3l-0.1 1.1M122.6 947.2l1.7 0.8M210.8 948.6l-1.3 2.0M316.1 931.4l1.1 1.6M183.2 888.7l-1.7 0.6M211.3 942.3l-1.1 0.3M144.3 934.5l1.7 1.8M146.5 880.5l0.9 1.8M279.0 883.7l-0.6 1.1M134.2 891.3l1.5 1.8M179.0 881.7l-1.8 0.3M287.6 942.7l1.2 1.3M152.8 910.8l-0.6 0.8M191.9 892.3l-1.3 1.4M152.1 886.7l1.3 2.2M203.4 933.4l-2.4 0.4M147.8 935.7l-0.1 1.2M311.3 904.6l-0.8 1.0M135.3 927.7l-0.7 1.8M171.9 922.0l-1.2 0.7M279.2 989.3l1.2 1.2M308.6 960.9l1.1 1.7M195.9 933.2l1.1 1.0M260.8 956.9l0.1 1.8M321.8 976.6l-1.5 1.7M166.8 922.4l-0.8 1.3M275.3 931.2l1.4 0.3M148.8 1004.2l2.3 0.2M305.3 977.1l0.0 2.5M150.1 885.9l1.3 0.8M200.6 981.8l-1.7 1.6M288.0 921.8l-0.9 0.7M185.0 986.4l1.8 0.6M196.3 1006.0l0.1 1.4M237.0 941.6l0.3 1.1M299.1 960.4l1.9 1.7M280.1 930.3l0.3 1.3M275.2 934.8l-1.7 1.5M322.5 1000.5l-1.2 0.3M167.5 921.6l-0.6 1.3M277.1 936.1l-0.6 1.5M151.6 906.4l0.6 0.9M206.8 990.3l-0.1 1.1M259.6 887.5l1.2 1.1M274.2 976.9l0.3 1.0M306.8 920.4l1.9 0.7M142.7 888.8l1.8 0.7M262.9 954.2l-1.1 0.5M301.1 936.1l1.9 1.2M268.1 925.5l1.4 1.2M261.3 890.4l-0.3 1.5M241.0 978.2l-2.0 0.5M247.8 941.8l0.1 1.3M320.5 901.0l1.0 0.9M264.9 895.7l0.1 1.8M128.7 1002.6l-1.5 1.6M177.7 896.0l-0.3 1.5M166.8 981.9l1.3 0.1M177.5 890.1l-0.3 1.6M190.5 891.9l1.0 0.0M164.1 901.6l-1.2 0.5M150.1 881.0l1.1 0.7M165.3 882.5l0.9 0.7M153.2 940.0l-1.2 0.1M284.9 963.4l-0.3 1.7M143.7 994.1l1.3 0.4M125.5 923.6l-0.9 2.3M269.6 1006.9l0.8 1.0M321.2 903.3l0.8 0.7M260.0 962.3l-1.1 0.7M222.8 974.2l-0.5 1.6M151.7 998.6l0.9 1.6M221.1 871.5l-0.2 1.6M276.6 946.2l-1.4 2.1M300.3 918.1l-0.3 2.0M292.4 912.2l1.0 2.4M288.2 970.4l1.8 0.1M240.2 896.8l0.7 1.0M216.7 952.6l-0.6 0.9M296.8 890.1l0.6 1.1M247.5 968.7l-0.7 2.2M288.5 930.6l1.9 1.6M246.5 997.1l-0.4 1.3M167.6 989.4l-1.8 0.4M261.2 972.6l1.6 0.9M224.2 969.6l1.1 0.1M169.7 880.9l-1.8 0.2M320.4 903.9l0.3 1.6M318.5 1001.6l-0.9 1.0M214.8 977.3l-0.3 1.1M142.8 879.4l-1.6 1.4M124.2 903.1l-1.9 0.0M242.6 969.9l-1.2 2.2M296.0 998.3l-2.5 0.1M256.4 951.1l0.9 2.3M175.0 876.3l-1.8 1.0M157.7 987.3l0.1 1.1M230.5 875.7l-1.1 1.1M280.6 927.5l2.4 0.1M310.5 925.4l-0.7 1.8M221.4 988.6l1.8 1.2M245.3 1002.7l-0.1 1.4M234.7 875.7l-1.8 0.5M172.2 949.2l-0.8 0.7M136.9 963.0l2.0 0.4M257.7 944.9l-0.8 0.9M240.2 998.9l1.9 0.2M195.6 961.2l-0.5 1.1M167.1 872.8l-1.9 1.4M138.0 1002.3l1.2 0.5M163.8 932.1l1.9 1.2M313.7 939.6l1.1 1.8M248.8 990.7l1.9 0.8M163.1 1001.6l-1.6 0.4M318.2 920.9l0.1 2.5M141.3 946.1l-0.4 1.1M238.7 888.5l0.1 1.7M197.4 907.1l-0.9 1.3M180.7 1006.1l-1.5 0.6M190.5 1005.4l-0.3 2.2M181.9 888.8l1.4 1.2M240.4 911.4l-1.6 1.6M149.7 885.7l-1.6 1.3M268.4 902.6l-1.0 1.5M147.3 909.0l-0.3 1.0M166.6 944.6l-1.0 0.1M307.5 963.8l-1.8 1.1M254.0 1004.5l-0.6 1.4M257.4 947.5l0.9 2.3M206.5 996.8l0.6 1.5M306.9 997.7l-0.1 1.4M166.5 873.9l0.9 0.9M319.1 964.9l1.0 2.2M284.2 952.6l-0.2 1.0M267.4 986.5l-1.2 0.6M138.4 915.8l1.0 0.4M174.4 874.1l0.2 1.3M204.1 1004.8l1.0 0.4M251.0 975.2l1.3 1.4M222.9 933.0l-2.5 0.2M200.5 967.8l-1.3 0.9M294.3 920.8l-1.3 0.6M187.1 871.5l2.1 1.2M189.2 898.5l-2.1 0.8M130.8 913.6l-1.2 0.7M223.1 1004.0l-1.0 1.5M258.0 881.3l-1.3 2.2M233.9 956.1l2.3 1.1M267.5 872.3l-0.6 1.6M246.6 913.0l0.3 1.3M135.5 985.6l0.7 1.7M230.3 874.0l0.1 1.9M180.0 903.1l1.6 1.4M283.3 973.6l-1.5 0.6M293.2 957.4l0.6 0.9M293.1 997.4l-1.7 0.8M181.8 901.2l-0.5 1.1M238.9 929.5l1.4 1.0M276.3 935.0l1.5 0.5M149.3 874.3l1.1 0.5M303.7 875.1l-0.5 2.3M309.1 909.5l1.1 0.2M195.3 948.5l-1.7 1.6M230.6 983.8l-2.3 0.4M251.9 958.7l-1.3 1.2M282.8 957.0l0.7 1.1M310.6 871.7l0.4 2.0M260.4 922.7l-2.1 0.8M264.3 927.3l0.2 1.9M255.5 881.9l-0.1 2.5M281.3 992.5l-0.6 1.9M176.5 987.0l-0.4 1.5M314.8 981.7l1.2 0.9M240.0 885.7l-1.0 0.8M122.5 993.6l-1.3 0.0M218.4 991.2l1.1 0.2M124.7 887.9l-0.7 2.0M217.0 921.2l1.5 0.9M283.2 944.9l-1.2 1.3M184.3 997.9l1.5 0.3M167.3 898.1l1.0 1.6M315.8 1002.3l0.2 1.1M249.5 890.7l1.7 0.4M201.6 951.7l0.5 2.0M181.4 976.6l1.3 0.5M171.3 988.4l-1.7 1.1M237.9 906.3l1.3 2.0M286.9 993.4l1.6 2.1M124.9 894.9l0.6 1.2M230.6 924.5l-1.7 1.7M200.6 896.2l0.7 1.0M183.7 881.3l-1.0 1.6M213.8 1001.2l-1.0 0.8M225.1 991.9l-1.4 0.0M196.3 943.0l-0.8 1.4M238.9 959.3l1.1 0.4M322.9 898.6l-1.6 0.5M309.0 975.4l-1.2 0.8M257.1 899.5l0.5 2.4M322.8 960.2l1.3 2.2M197.8 932.7l0.9 1.8M223.6 949.6l-1.6 0.7M170.6 924.9l0.6 1.1M142.0 919.9l-0.4 1.4M235.3 893.3l1.1 1.1M280.8 907.5l-1.2 0.8M199.6 896.8l1.3 2.1M298.8 986.3l1.0 2.2M305.9 892.9l-2.2 0.7M160.8 880.3l-1.4 0.7M216.0 903.5l-0.1 1.7M236.0 986.4l-1.3 0.5M195.9 948.6l-0.0 2.4M217.5 878.1l0.7 1.8M201.4 911.8l1.5 1.6M176.3 995.6l-1.6 1.1M171.7 992.1l2.5 0.2M259.5 936.5l-0.4 1.3M183.7 908.6l0.0 1.4M285.4 900.8l-2.0 0.5M178.8 985.2l1.7 1.7M215.6 922.5l-1.2 1.3M317.4 943.0l1.7 0.6M317.0 963.1l0.3 2.1M198.5 951.9l0.2 2.2M208.5 930.8l-1.5 0.4M206.5 990.8l-0.9 0.9M252.6 886.2l-1.2 0.1M182.1 911.4l2.2 1.2M280.2 925.2l-1.3 1.2M227.1 916.5l-1.8 1.1M232.0 891.6l-0.1 2.4M240.1 918.5l1.1 0.4M291.2 906.7l-1.1 0.7M162.4 1004.1l-1.0 0.6M275.2 942.5l1.2 0.3M187.7 890.3l-1.4 2.1M170.8 891.6l1.1 0.7M320.0 986.3l1.7 1.6M218.7 947.7l0.9 1.9M234.4 895.2l1.5 1.4M199.3 1006.7l2.3 0.3M179.3 920.0l0.3 1.3M140.5 936.1l0.8 1.6M164.6 989.5l1.3 1.4M134.7 948.5l1.2 2.0M256.3 997.3l0.2 1.9M253.7 950.3l0.4 0.9M267.7 999.1l1.2 0.1M209.5 999.8l2.1 0.0M218.1 909.7l2.2 1.0M233.3 902.8l2.1 1.3M295.8 909.8l-1.2 0.5M176.1 878.4l-0.7 1.3M244.6 984.1l-0.5 0.9M276.3 974.1l-0.4 1.6M125.6 959.1l-0.1 1.5M277.4 999.3l1.9 1.1M267.2 942.3l1.5 0.5M176.5 988.4l-0.2 1.9M308.3 999.0l2.4 0.1M312.5 968.9l-1.0 1.3M188.4 872.1l-1.1 0.2M313.8 1006.2l-0.9 0.4M219.4 875.1l-0.7 1.7M301.4 880.6l-0.7 1.9M287.7 913.5l-0.4 0.9M174.3 899.1l-1.0 0.4M197.3 962.3l0.5 1.1M302.7 887.2l1.8 0.7M216.5 978.1l2.0 0.5M259.2 927.5l2.6 0.0M272.3 981.0l-1.2 1.3M269.6 1004.6l1.1 0.1M302.0 893.6l1.4 0.1M313.3 962.4l-2.2 0.8M319.2 987.2l-1.4 2.1M123.8 989.4l-1.3 2.0M213.2 953.8l0.0 1.3M174.9 986.8l0.2 2.1M188.5 972.2l-1.2 1.4M141.1 975.8l1.5 1.0M303.2 1002.4l2.4 0.2M219.1 903.5l0.4 1.2M133.3 941.3l0.1 2.4M270.3 950.7l0.0 1.9M171.3 933.8l-0.5 1.0M194.9 923.2l0.1 1.8M256.9 871.5l1.8 0.1M151.9 962.4l2.1 0.2M247.8 882.6l0.9 0.5M229.2 929.2l-2.0 0.6M320.9 993.4l2.4 0.0M144.1 941.2l0.5 1.5M282.5 958.7l1.0 1.2M253.4 949.4l1.5 0.3M144.9 1007.0l1.2 1.8M144.1 981.2l1.2 1.4M261.5 989.8l-0.2 1.5M124.0 1001.6l2.6 0.4M203.8 932.7l-0.9 1.0M275.1 967.8l1.3 0.9M205.4 1006.2l-2.2 1.2M177.1 967.2l0.9 1.5M188.0 981.3l1.6 0.6M166.6 918.8l-0.7 1.2M259.5 893.1l-1.9 1.6M306.1 870.0l-0.8 1.9M242.7 959.1l-0.7 1.0M299.7 911.1l-0.5 1.4M186.5 975.1l-0.2 1.2M187.8 1005.7l-1.4 1.2M236.0 1002.3l-1.1 0.5M179.6 921.6l1.7 0.9M292.2 879.2l-1.5 0.1M230.8 907.4l-1.0 1.0M215.9 958.5l0.8 1.6M173.7 972.9l-1.4 1.1M261.0 952.4l-0.2 1.7M147.0 997.0l-0.4 1.3M150.8 982.1l2.2 0.5M309.1 998.0l2.3 0.7M125.5 984.6l-1.6 0.9M184.1 940.9l2.1 1.0M283.3 968.1l-1.5 0.9M186.9 945.2l1.3 0.4M294.2 911.8l-2.3 0.8M316.5 920.8l0.5 1.0M189.6 959.8l-0.9 1.6M276.6 970.1l-1.6 1.8M243.9 969.7l0.3 1.4M214.2 926.4l2.3 0.5M314.3 916.4l-1.5 0.6M137.4 967.8l1.5 1.6M286.6 938.5l-0.1 1.3M153.2 909.3l-1.1 0.5M184.4 897.8l1.3 1.4M154.5 953.5l1.5 1.9M141.8 934.7l-2.1 1.3M266.8 934.9l-1.3 0.5M140.9 955.2l1.1 0.2M197.3 980.6l-0.5 2.4M147.5 977.9l-1.7 0.2M215.6 931.7l-1.3 0.3M304.5 984.0l-1.0 0.9M207.8 872.8l-2.5 0.5M126.2 935.3l1.7 1.5M215.2 954.6l-1.9 1.0M309.9 877.2l-0.7 1.6M234.0 989.8l1.2 1.4M232.2 1003.2l-2.3 0.4M132.2 983.9l1.2 0.3M244.4 936.4l-1.7 0.8M191.0 876.6l-0.6 2.3M160.3 977.4l0.7 2.0M257.7 978.3l1.1 0.3M176.5 978.7l-0.3 1.4M189.4 887.1l0.9 0.6M207.3 979.2l1.7 1.2M265.3 895.1l-0.6 2.2M231.2 977.2l1.2 0.1M176.4 895.0l1.6 1.8M123.0 970.6l0.3 1.3M235.9 940.8l0.7 0.9M124.8 878.5l-1.1 1.8M316.1 943.4l-0.5 0.9M288.4 888.6l1.9 1.7M293.0 899.8l-0.8 1.8M135.3 906.7l1.0 1.7M183.4 886.2l-0.1 1.8M233.2 909.9l1.2 0.7M168.8 933.1l1.1 0.0M258.5 935.2l0.2 1.5M214.6 996.6l-0.6 2.3M258.7 983.0l-1.0 1.7M237.5 987.7l1.9 1.2M246.3 990.7l0.6 2.1M208.0 887.8l-1.7 0.3M168.3 896.7l1.5 0.6M170.7 1001.6l-2.1 0.4M175.6 938.6l0.2 2.0M303.4 992.8l0.1 1.8M244.2 965.8l0.3 1.8M317.0 929.3l1.2 0.3M187.7 935.9l1.2 0.0M248.9 1000.7l0.8 2.1M318.5 873.7l-1.1 1.6M307.4 980.1l1.9 1.4M123.2 899.4l-1.6 0.9M298.3 889.5l-1.9 0.1M247.8 870.7l-1.5 1.1M301.2 959.8l1.4 0.5M211.1 898.7l-1.0 1.5M284.7 874.5l2.2 0.7M235.5 952.7l0.9 0.8M174.3 988.2l0.9 0.8M217.8 952.6l1.3 1.6M306.9 878.9l1.0 1.1M163.1 879.3l-0.6 0.9M258.4 905.1l-1.5 0.9M323.6 981.2l-2.2 0.2M287.4 951.9l-0.7 2.2M314.8 910.4l-1.7 1.3M192.6 870.0l-2.0 0.9M138.2 1001.4l0.9 1.6M279.5 984.8l-2.2 0.9M252.0 960.1l0.9 1.2M199.9 941.9l-2.6 0.0M158.1 994.3l0.8 0.7M134.8 970.9l-0.4 2.4M209.4 970.3l1.8 1.3M298.8 976.6l-0.8 1.8M243.6 944.9l-1.7 0.9M130.4 911.1l1.1 1.5M177.7 1002.9l-0.6 1.9M312.7 945.6l1.7 1.9M185.2 971.9l1.1 0.0M180.5 894.1l-1.1 0.0M151.9 911.6l2.1 0.3M235.7 877.0l1.1 0.7M139.1 947.4l1.3 1.2M168.9 972.9l1.3 0.7M243.9 951.2l-1.3 0.8M276.2 895.8l1.3 0.4M306.1 900.8l1.4 0.5M211.4 927.5l0.6 1.8M233.5 903.3l1.0 1.4M306.8 870.7l-1.4 0.7M233.9 920.6l1.1 1.9M188.4 998.5l1.1 1.6M153.9 996.5l1.8 0.7M298.5 962.6l-0.3 1.6M206.4 954.2l2.1 1.4M186.8 1005.2l-1.5 1.4M190.8 924.5l-0.8 0.7M190.8 876.6l-0.5 2.5M143.1 940.4l1.8 0.6M199.9 1002.4l1.2 0.0M272.8 992.3l0.7 1.1M179.9 911.3l-1.3 1.6M218.5 970.2l0.7 1.3M135.0 957.4l-2.1 0.5M204.8 986.5l1.2 0.5M136.0 914.4l-1.2 1.2M135.3 982.8l-1.3 0.2M313.3 942.2l0.1 1.0M277.1 959.6l1.0 2.4M269.2 869.2l1.3 0.3M159.9 917.0l-1.1 0.7M255.3 886.3l0.1 2.2M323.6 924.5l0.8 0.7M279.5 950.9l2.0 0.3M191.8 898.8l0.1 1.4M280.5 874.8l1.3 0.3M183.8 982.1l-0.9 1.3M255.7 894.7l-1.7 1.2M298.9 955.5l1.3 0.6M173.5 981.2l1.3 1.0M197.6 943.9l-1.1 0.6M146.8 959.7l-2.2 1.3M210.2 882.7l0.5 1.9M236.8 905.2l-0.1 1.8M271.7 959.0l0.1 2.2M243.0 922.4l2.4 0.0M237.0 895.6l-1.0 1.0M241.3 872.8l0.8 0.7M250.4 968.2l-0.4 1.1M244.7 1004.4l-0.6 2.3M131.5 873.2l-2.1 0.2M296.8 960.9l-0.7 1.3M308.7 977.2l1.8 1.0M244.0 982.2l-2.2 0.7M235.8 929.6l1.0 1.5M316.5 955.9l0.5 2.5M249.5 948.5l2.0 0.9M147.8 960.2l1.8 1.7M135.3 925.7l-1.4 1.3M307.4 954.0l-0.8 1.8M154.7 1000.7l-2.5 0.7M302.2 944.5l1.7 0.4M249.6 960.1l-1.5 0.7M142.6 984.6l-1.8 0.9M306.0 980.5l1.0 0.7M179.9 992.0l-0.0 1.4M232.6 985.1l-0.3 1.9M297.7 984.2l0.9 1.5M163.0 916.5l0.3 1.9M122.3 922.1l0.9 0.7M160.3 903.9l0.9 1.1M307.9 880.2l-0.9 0.5M286.1 969.3l0.4 1.2M275.6 955.6l-1.1 0.4M203.7 1000.9l0.2 2.3M196.9 875.2l1.5 0.3M276.4 983.5l-0.5 1.4M291.5 982.3l1.3 1.6M232.4 954.1l1.7 1.4M229.1 927.4l-0.8 1.4M239.7 977.8l1.5 0.9M286.6 998.7l1.5 0.4M171.5 1006.1l1.3 1.7M187.6 962.4l2.6 0.1M161.8 907.4l1.4 2.1M134.8 990.6l-1.3 0.8M285.0 925.7l-1.3 1.1M164.8 973.6l-1.2 1.0M204.1 965.8l1.2 1.1M126.6 871.4l1.1 1.3M322.8 878.3l-1.6 1.0M303.8 969.2l-2.3 1.1M168.8 959.8l-1.3 2.1M225.4 998.0l1.4 0.1M313.8 982.4l-1.4 0.2M253.9 951.7l1.2 1.4M264.5 915.9l1.2 1.8M132.2 948.6l0.7 2.4M171.6 911.9l-0.1 1.1M234.6 895.1l-1.8 0.8M310.2 901.1l1.2 0.9M283.2 980.1l1.5 1.9M202.2 1002.9l0.7 1.2M196.7 886.1l-1.8 1.2M316.6 871.2l-1.0 1.7M258.3 989.1l-0.9 1.5M240.2 874.7l2.0 0.9M310.0 1006.2l-1.6 0.0M151.9 955.9l-1.3 1.4M127.1 978.2l-0.9 2.1M160.6 909.8l-1.8 0.5M265.7 895.5l1.5 0.9M267.6 900.5l-0.9 1.3M134.6 937.4l-2.4 0.2M259.2 966.8l-1.2 1.1M151.8 922.8l-0.4 2.0M196.6 977.8l-1.4 1.0M303.4 940.1l-1.9 0.8M184.6 992.6l1.1 1.1M301.4 978.6l-1.3 1.4M142.9 887.6l2.0 1.6M319.9 905.1l1.1 0.3M264.4 927.9l-0.0 1.3M300.1 958.5l0.7 2.5M320.5 883.3l1.3 0.1M140.2 922.3l2.0 0.3M306.8 934.6l1.3 1.4M187.4 970.5l0.1 1.4M208.5 992.6l1.3 0.4M279.7 996.8l1.4 0.7M242.2 952.9l-1.0 2.0M158.5 950.3l1.1 0.4M170.0 998.3l1.4 0.7M242.6 933.8l0.2 2.0M150.3 912.9l0.5 1.4M252.3 873.2l-0.5 2.4M197.4 869.5l-1.1 2.0M174.5 872.7l-1.6 1.9M229.9 913.1l1.1 1.0M266.0 937.8l1.7 1.8M142.4 986.6l-1.9 1.5M253.9 957.4l-1.3 1.2M220.4 906.2l1.6 1.2M309.4 947.5l-0.7 0.9M185.2 936.6l-1.3 1.2M146.3 880.4l1.9 0.9M280.7 895.4l1.6 0.8M134.8 943.4l-2.0 1.3M321.3 924.1l-1.7 0.8M267.7 883.2l1.0 0.3M226.6 904.2l-0.5 2.3M195.1 915.1l1.9 0.8M228.4 944.5l-1.6 0.1M185.6 933.0l0.7 2.1M315.4 1006.3l0.9 2.1M202.9 890.7l-0.5 1.8M237.1 914.7l-0.4 1.4M300.9 946.6l-1.2 1.3M206.2 980.1l1.1 1.7M140.6 985.7l-1.4 0.9M173.4 955.6l-0.2 1.2M287.9 874.1l2.2 1.4M294.5 962.3l-2.2 0.7M171.7 948.5l1.0 0.5M232.8 989.0l0.7 0.9M275.7 875.5l-0.6 0.8M213.5 922.9l0.1 2.3M277.0 892.1l-0.1 2.2M256.7 947.7l0.6 1.8M201.4 971.9l0.7 1.0M311.1 976.3l1.5 1.4M196.6 896.5l1.1 1.4M279.0 991.3l-0.3 1.3M287.3 932.4l1.0 2.1M292.6 870.6l-2.2 0.3M158.8 910.7l-0.5 1.3M205.0 897.2l-0.4 1.8M322.3 889.1l1.5 1.1M253.2 995.6l0.3 1.0M130.8 892.9l2.5 0.1M139.9 881.4l-0.6 2.4M220.0 994.1l0.2 1.6M249.2 909.1l1.3 0.7M207.0 899.6l-1.3 0.8M218.2 996.4l2.5 0.3M228.8 907.8l-1.1 0.6M290.7 955.7l1.4 0.1M297.9 926.5l-1.5 0.0M316.6 942.3l1.0 2.2M249.1 963.1l-1.2 0.2M241.1 957.0l0.2 2.1M204.6 947.9l1.5 0.6M143.5 968.1l0.7 2.1M207.5 951.9l-2.0 0.5M305.8 878.2l-1.7 0.5M267.1 902.2l0.8 1.6M210.2 882.5l-0.1 2.0M272.5 942.5l-0.1 1.9M246.9 871.6l-1.2 0.8M151.7 885.6l-1.8 0.1M248.8 933.7l1.7 0.6M316.3 957.0l2.2 0.1M318.5 980.4l-1.8 0.8M282.1 928.3l-1.1 0.3M190.2 891.1l-1.0 0.2M163.5 930.5l1.3 2.1M135.3 931.6l-2.0 0.0M160.4 928.7l-0.0 2.4M203.5 989.3l-1.2 1.3M230.3 928.9l1.2 1.2M304.4 871.9l1.8 1.0M221.2 872.9l1.7 0.2M235.6 894.0l1.4 0.3M154.6 910.2l1.4 1.6M317.9 914.3l1.5 0.7M210.1 947.6l0.8 1.3M284.7 874.3l-2.3 0.2M244.1 878.3l2.0 0.9M212.2 949.0l-1.5 0.0M316.6 986.2l-0.8 0.9M144.9 885.9l0.8 2.5M313.2 989.8l-1.8 1.6M161.7 960.9l-2.3 0.7M185.4 891.0l-1.4 0.7M322.5 928.0l1.8 0.5M153.1 981.4l-1.1 1.0M157.9 874.0l-0.1 1.1M223.7 886.9l0.5 1.4M178.8 899.1l-1.2 0.0M295.7 871.4l1.3 0.3M162.8 983.8l-2.1 0.0M293.3 870.9l-2.3 0.5M202.9 879.8l-1.8 0.6M196.5 914.5l1.2 1.6M207.2 973.6l0.7 0.8M291.5 957.5l-1.3 0.2M209.8 900.6l0.9 0.7M317.5 939.9l-0.9 2.4M150.1 947.2l1.9 0.3M283.9 898.2l2.3 0.8" stroke="#7e74ac" stroke-width="1.8" stroke-linecap="round" fill="none" opacity="0.85"/>
<path d="M127.2 918.6l1.4 1.4M169.8 944.6l0.2 1.4M258.6 926.0l0.6 0.6M192.0 989.2l-0.5 1.3M226.8 955.3l-1.8 0.7M199.1 983.7l-0.2 0.8M214.8 917.1l0.7 0.1M278.1 941.0l-0.7 0.5M225.7 996.0l0.3 0.4M254.0 884.2l-0.5 1.5M316.4 895.3l1.1 1.2M161.8 952.4l-0.7 1.5M230.6 921.0l-0.6 1.4M321.8 1000.3l-1.1 1.6M210.2 937.4l-0.1 0.9M303.0 955.5l-1.1 0.0M192.3 949.0l0.5 0.5M286.3 999.4l0.4 0.4M147.9 899.2l-0.5 1.2M292.5 978.1l-0.9 0.7M310.6 929.6l-0.7 1.7M308.1 1006.1l1.7 0.5M193.4 995.7l0.8 0.6M319.7 911.7l0.5 0.6M231.1 979.2l1.3 0.4M232.4 953.3l0.7 1.8M163.3 999.4l-1.0 0.1M139.8 922.8l0.7 0.9M299.8 896.4l-0.2 0.6M261.7 878.9l-0.1 1.4M212.5 900.2l1.4 1.1M188.7 937.4l1.4 0.3M315.7 996.7l0.6 0.7M190.3 973.1l0.5 1.3M241.7 892.9l1.7 0.6M171.3 907.7l-1.1 0.4M175.1 1002.4l-1.7 0.4M197.7 887.5l0.8 0.5M175.9 919.9l0.5 1.5M245.3 980.3l0.8 1.0M149.1 926.4l-1.1 0.8M207.7 970.5l-0.6 0.4M312.7 936.2l1.3 0.2M122.5 969.2l1.0 1.7M255.0 912.8l-1.2 1.6M132.3 928.3l-0.9 0.1M239.6 920.6l1.6 0.7M186.9 900.9l-0.7 0.1M124.3 914.3l-0.0 1.1M144.2 884.7l-1.6 0.6M150.1 956.7l-0.1 0.6M213.1 976.2l0.4 0.8M149.4 1004.9l-1.3 0.3M157.3 952.8l-0.0 1.9M124.8 887.4l-0.3 1.3M257.1 904.5l0.9 0.6M260.0 921.5l-0.4 0.5M154.6 934.0l-0.8 0.1M152.6 878.3l1.7 0.0M207.4 976.2l1.0 0.3M191.2 952.6l0.4 0.4M164.4 890.3l-0.6 0.4M267.2 983.0l-0.7 1.4M129.8 959.6l-0.7 0.7M163.2 963.5l0.9 1.7M275.9 999.2l0.9 1.7M301.1 909.7l0.9 1.3M154.2 966.7l0.2 1.8M248.5 981.8l0.2 1.1M323.2 960.5l0.9 0.0M297.4 999.2l1.3 0.9M194.7 906.2l-1.8 0.2M217.5 893.2l-1.1 1.4M272.4 975.2l1.5 0.7M241.0 954.1l-1.2 0.2M177.5 986.2l0.1 0.5M256.8 955.0l-1.6 0.2M160.5 918.2l1.7 0.9M323.9 904.3l0.4 1.6M124.5 934.1l-0.6 0.0M244.3 919.4l0.1 1.4M184.8 917.1l-0.1 1.1M167.2 880.1l-1.1 0.3M306.7 962.0l-0.6 1.4M164.5 896.1l1.3 0.8M127.3 888.2l1.1 1.1M217.2 972.4l-1.4 0.2M303.3 894.5l-1.0 1.1M301.6 935.5l-0.9 0.1M276.9 941.3l-1.1 0.8M184.6 977.3l-1.0 1.2M236.7 911.7l-0.6 1.0M323.4 879.0l0.6 0.4M262.2 1000.4l1.1 0.9M129.1 920.0l0.5 0.3M150.2 951.7l-1.8 0.3M221.5 967.3l0.5 0.4M208.5 921.1l0.1 1.3M192.5 952.3l0.6 0.6M156.9 983.1l-0.8 0.4M176.1 938.6l-0.4 1.3M193.0 898.4l0.1 0.9M164.4 981.1l-1.1 1.3M307.0 888.9l-0.6 0.1M205.3 980.2l-1.8 0.6M279.2 889.9l0.3 1.8M318.7 899.0l0.2 1.4M155.2 952.4l-0.3 1.6M232.3 997.6l0.5 1.8M267.8 879.2l-0.4 0.4M280.5 905.7l-0.7 0.2M322.7 998.2l-0.8 0.3M152.5 934.7l-0.7 0.0M187.0 988.0l-0.7 1.0M262.8 966.9l-0.8 0.2M245.8 997.6l-0.5 0.6M245.5 945.5l-0.8 1.0M274.5 963.0l1.4 0.1M265.9 957.0l1.6 0.4M296.2 936.1l0.8 0.7M275.2 966.2l-1.7 0.5M126.7 960.7l-0.2 0.6M175.8 963.8l-0.5 0.7M145.0 931.8l-0.2 0.8M129.5 901.3l-1.1 1.2M270.8 890.8l1.1 1.0M219.0 953.9l0.6 1.4M138.3 903.3l0.2 1.2M255.5 989.4l0.3 0.4M213.0 948.3l1.1 0.9M303.2 958.2l0.9 0.8M175.8 886.1l-0.5 1.4M227.4 921.1l-0.4 1.1M143.0 954.2l1.0 0.2M322.5 988.2l0.9 0.1M318.2 988.2l0.7 1.3M249.9 962.0l0.2 0.7M131.3 961.3l-0.7 1.3M171.7 966.2l-0.1 1.7M126.7 901.4l0.6 1.2M206.1 957.4l-0.9 1.3M323.9 986.2l1.0 1.5M266.8 881.1l1.0 1.7M148.7 921.1l-1.3 0.1M308.8 988.6l0.2 0.6M121.0 977.3l-0.4 0.6M194.9 895.9l-0.9 0.0M172.7 934.9l-0.3 0.4M268.2 879.2l0.7 0.6M310.0 996.9l0.5 0.0M230.5 937.7l0.9 1.8M252.6 970.7l1.7 0.4M239.3 968.3l1.0 0.1M293.2 936.6l0.6 0.1M273.5 953.2l-1.8 0.2M122.2 920.4l1.7 0.5M210.1 890.3l1.9 0.4M182.1 895.0l-0.1 1.4M232.6 981.0l-0.1 1.5M255.9 892.0l1.1 0.8M255.6 931.7l-0.7 0.3M161.8 895.2l1.1 0.9M137.2 941.4l1.0 0.1M263.0 945.4l0.8 0.2M306.0 874.4l1.5 0.3M229.9 953.2l-0.0 1.3M318.4 952.0l-1.7 0.9M173.8 941.0l1.3 0.3M276.0 1000.1l1.5 0.4M310.4 988.2l-1.5 0.3M278.1 998.3l-0.2 1.1M283.6 980.9l-1.1 1.2M231.0 891.8l-0.6 0.1M212.1 1001.8l0.5 1.7M139.3 950.3l1.1 0.6M179.6 999.6l-1.8 0.2M255.8 913.8l-1.4 0.8M148.1 973.0l0.4 1.7M307.9 905.8l1.7 0.6M237.1 983.7l0.7 0.7M267.1 884.9l0.3 0.6M206.1 1006.1l1.0 1.0M312.9 890.2l-0.5 1.3M160.9 915.5l-1.0 1.3M163.9 872.0l-1.1 1.3M308.5 1007.2l-0.5 0.9M159.3 972.4l1.5 0.7M282.4 996.1l1.2 1.1M175.9 942.1l-1.1 0.3M307.5 1003.4l-0.2 1.9M138.3 940.5l-0.5 0.6M221.7 988.8l-0.7 0.6M194.1 869.2l-0.0 1.1M239.2 871.1l-0.3 0.9M214.1 939.9l0.1 0.5M323.1 998.0l1.1 1.3M257.2 956.0l0.8 0.6M165.2 968.5l0.6 1.7M166.6 888.1l1.6 0.6M168.0 990.0l-0.4 1.2" stroke="#e6e0ea" stroke-width="2" stroke-linecap="round" fill="none" opacity="0.7"/>
<path d="M211.7 967.5l1.3 0.7M276.7 886.7l-1.0 0.0M284.6 944.0l-1.0 1.4M250.6 897.9l-0.6 1.6M144.7 918.6l0.4 1.2M295.6 912.1l1.5 0.1M210.9 891.4l-0.4 0.7M186.3 967.0l-1.4 0.6M137.7 926.8l0.7 0.3M153.3 952.5l-0.4 0.8M272.2 1005.9l-1.0 0.3M126.2 925.9l0.7 0.4M207.8 940.3l0.8 0.7M147.4 982.9l-0.3 1.4M233.0 950.7l-0.9 1.5M127.7 944.0l0.9 0.5M195.2 919.4l-0.8 0.0M128.8 961.8l0.2 0.6M201.9 870.8l1.3 0.3M135.9 927.6l-0.5 1.3M181.9 924.5l-1.3 0.9M299.4 925.1l-0.9 0.6M164.8 970.2l1.3 1.0M306.0 904.9l-0.3 0.9M291.5 952.6l1.2 0.7M209.7 908.8l0.7 0.5M244.5 996.0l-1.8 0.0M282.5 995.6l-1.1 0.4M251.3 915.8l-0.1 1.5M310.8 923.9l0.0 0.7M185.4 877.2l-0.9 0.1M141.7 913.0l0.5 1.4M143.9 932.8l1.0 1.0M285.6 982.1l1.1 0.5M138.4 887.9l1.0 0.7M180.8 907.9l-1.1 1.3M171.6 973.3l-0.0 0.7M243.2 882.3l-0.5 1.2M221.6 982.2l1.0 0.4M261.0 1001.1l1.0 0.1M180.6 980.8l1.3 0.5M234.5 918.2l-0.5 1.3M234.2 983.0l1.1 0.2M241.4 970.5l0.9 1.6M150.7 984.7l0.8 1.6M209.6 993.1l-0.3 1.3M302.1 938.7l1.1 0.2M196.3 885.5l1.3 0.7M227.6 996.4l-0.3 1.6M323.4 885.3l0.6 0.1M177.0 919.9l0.2 1.1M237.9 960.8l0.7 1.6M280.6 931.5l0.3 1.5M206.1 878.7l0.8 0.2M297.4 987.3l0.5 0.7M315.5 952.2l-1.0 0.4M161.1 960.2l0.1 1.8M300.9 982.6l-0.3 1.0M284.1 886.1l1.4 0.3M172.3 979.1l0.1 0.8M192.3 900.5l1.5 0.8M141.3 875.1l1.1 0.7M185.1 935.4l1.1 0.5M271.2 962.1l-0.8 1.3M134.9 882.6l1.6 0.2M258.8 989.0l0.4 1.6M124.9 896.7l-1.4 0.6M164.5 909.8l0.1 1.0M167.3 894.9l0.7 0.2M287.5 928.4l-0.1 1.8M314.0 1002.9l-0.3 1.1M195.4 914.8l1.4 0.9M142.2 885.5l1.5 0.2M193.8 869.6l1.0 0.4M187.1 877.7l0.1 0.9M131.1 968.7l0.7 0.3M317.6 984.4l-1.4 0.7M155.1 934.6l1.2 0.0M175.9 990.2l-0.7 1.2M195.1 951.8l0.8 0.6M149.2 925.5l0.6 0.4M323.3 926.5l-1.5 0.5M217.2 960.5l1.6 0.8M144.1 983.1l1.2 0.8M285.3 948.3l-1.0 0.5M132.0 901.9l0.2 1.2M173.2 948.1l-1.4 0.9M300.1 896.6l0.1 0.8M175.8 956.3l0.2 1.4M192.1 895.8l-0.3 1.7M254.2 976.9l1.4 0.2M126.6 957.9l-1.5 0.6M184.2 969.8l0.7 0.5M216.6 907.5l-0.4 0.7M282.7 905.5l0.5 0.8M136.1 894.9l1.0 0.5M251.2 919.4l-0.9 0.7M216.0 961.2l-0.2 1.5M264.6 877.9l-0.0 0.7M266.3 874.4l-1.6 0.7M319.9 904.1l1.1 0.8M177.3 1005.6l-0.0 1.3M195.4 914.5l0.8 0.3M296.6 972.8l-1.2 0.5M146.3 944.4l1.0 0.8M200.0 917.1l1.6 0.8M261.0 992.3l1.0 0.2M129.7 883.1l0.8 0.2M152.8 965.1l-0.2 1.0M144.8 961.2l-0.7 0.4M175.2 918.5l-1.0 0.8M128.8 919.8l0.3 1.1M148.3 902.7l-0.2 1.6M225.9 979.1l0.7 0.2M283.4 1004.7l1.0 0.1M220.1 979.4l1.0 1.2M181.1 955.4l0.6 1.7M187.2 969.3l0.8 0.1M205.1 972.4l1.7 0.4M206.5 917.1l1.6 0.1M320.5 869.5l-1.4 0.6M142.1 887.5l0.2 1.4M318.9 910.7l-0.7 1.2M170.8 968.7l-0.9 0.4M265.8 959.3l1.7 0.2M136.4 937.9l-0.6 1.6M207.4 974.3l-1.5 0.7M135.0 975.2l-1.3 0.4M135.0 993.4l0.8 0.7M259.7 972.5l-0.4 1.4M182.5 922.0l1.1 0.0M152.8 886.4l-0.9 0.6M246.8 976.8l0.7 1.1M190.6 1003.4l-1.7 0.0M166.3 899.6l0.6 1.0M131.3 998.2l0.8 0.1M188.5 995.7l0.7 0.9M227.9 949.6l-0.6 0.6M268.5 973.5l-1.5 0.7M140.1 912.6l1.3 0.4M313.9 937.9l0.7 0.3M167.9 915.8l1.1 0.0M175.4 872.7l-0.5 1.0M171.3 987.2l-0.4 0.7M208.2 883.7l-1.0 1.3M173.9 919.3l1.6 0.5M249.0 900.7l-0.8 0.0M144.1 890.7l-0.7 0.1M181.3 1004.0l0.8 0.3M163.0 929.3l0.8 1.0M179.6 897.9l-1.3 0.4M276.1 917.2l-1.7 0.2M254.5 904.0l-0.3 0.6M287.8 905.6l-0.5 0.7M309.0 939.9l0.1 1.0M180.2 1002.3l-0.8 1.4M136.7 877.5l1.0 0.6M138.5 988.9l-1.7 0.1M313.8 909.7l0.1 1.6M200.0 924.1l0.7 1.1M248.7 994.4l0.2 0.8M138.7 889.6l0.4 0.8M239.6 963.1l0.6 0.3M311.9 880.7l-0.4 0.7M167.5 913.4l0.6 0.8M320.0 988.9l1.5 0.4M167.8 1006.9l0.8 1.2M276.6 897.3l-0.2 1.6M196.3 989.7l0.0 1.0M234.8 885.7l-1.5 0.1M311.3 923.2l1.3 1.2M139.1 902.0l-0.7 0.1M312.0 906.1l-1.6 0.2M232.4 883.3l0.2 1.2M272.5 1001.0l1.1 0.0M284.7 912.6l-0.6 0.1M297.8 874.6l0.5 0.4M148.6 899.7l1.6 0.4M160.7 939.3l0.9 0.6M144.3 881.7l1.6 0.5M301.9 881.2l0.7 1.0M140.4 933.9l1.0 0.7M226.4 889.8l0.2 1.5M316.2 937.5l-1.3 0.6M228.1 988.6l0.5 1.4M217.2 885.9l-0.4 0.7M209.9 999.4l-0.8 0.0M305.1 982.2l-0.5 0.4M302.7 877.0l1.5 0.4M138.7 881.0l-0.6 1.0M277.5 967.3l-0.2 1.0M203.2 970.2l0.5 1.6M204.7 972.6l0.7 0.6M279.1 945.8l-1.4 0.9M179.3 878.0l-0.2 0.8M260.6 952.4l1.2 1.2M278.5 984.3l0.3 1.7M145.4 957.9l0.8 0.7M242.1 903.5l1.1 0.9M267.1 896.4l0.3 1.1M289.8 879.5l1.2 1.2M170.8 964.6l1.0 1.0M192.4 968.2l0.5 0.4M179.9 871.8l0.9 0.0M197.7 876.5l-0.7 1.3M222.2 883.1l0.6 0.2M249.2 975.9l-0.9 1.5M265.1 936.0l1.0 1.0M268.3 952.5l-0.4 0.7M172.1 930.2l-0.9 1.2M209.8 884.9l-0.2 0.8M264.8 954.6l-1.3 1.3M284.7 919.5l1.3 0.3M147.1 905.5l-0.1 1.2M268.2 964.1l-1.2 0.8M182.4 881.6l-1.5 0.9M162.7 942.7l-0.3 1.6M262.4 902.5l-0.1 0.8M271.0 984.0l1.0 0.1M195.5 963.5l-0.7 1.2M199.0 878.9l-0.9 0.8M264.1 963.5l0.5 1.1M259.5 950.0l-1.4 0.1M187.3 993.2l-0.2 0.6M171.5 902.8l0.7 1.0M151.1 926.3l0.1 1.0M186.1 1004.8l-1.1 0.2M264.4 923.6l1.7 0.1M266.6 903.5l0.5 1.3M229.7 934.2l0.3 0.8M162.9 884.4l-0.6 1.5M164.3 961.0l1.6 0.6M217.1 899.2l-0.8 0.8M263.8 877.7l-0.4 0.7M294.6 922.1l1.1 1.3M296.8 893.0l0.0 1.2M152.0 1002.4l-1.2 1.3M297.2 910.7l-1.3 0.5M132.7 950.8l0.1 1.3M197.9 985.9l0.2 0.8M291.8 884.6l-0.8 0.8M294.3 950.2l0.6 0.8M169.1 894.1l0.7 0.7M182.5 869.5l-0.9 0.5M302.8 886.2l0.3 1.8M318.5 1001.8l0.7 1.6M141.7 985.2l1.1 0.5M163.6 970.3l0.0 1.2M147.5 965.1l-0.1 1.3M158.4 1000.5l-1.6 0.7M292.7 978.5l0.7 0.1M270.2 948.3l1.5 0.4M201.1 976.7l0.9 0.2M240.4 989.8l-0.5 1.3M183.5 872.6l1.1 0.4M220.4 915.2l-1.3 0.4M140.5 900.0l1.2 0.7M287.0 987.6l0.1 0.7M293.8 992.7l1.2 0.1M195.4 963.9l1.3 0.6M231.5 882.6l-1.4 0.4M251.4 916.5l0.0 1.6M196.4 968.7l0.7 0.6M131.3 969.5l-1.0 0.5M256.0 904.9l-1.2 0.3M221.6 973.1l-1.4 0.5M144.3 947.8l-0.7 1.0M198.7 933.4l-0.8 0.0M256.3 990.0l1.4 1.1M187.0 880.5l-0.6 1.1M195.1 971.1l1.1 1.2M300.4 992.3l0.2 1.0M191.3 968.9l0.1 1.3M155.0 921.4l-0.2 1.6M237.4 895.9l-0.3 1.1M241.5 906.3l-1.3 0.3M277.2 940.6l0.2 1.3M216.1 991.4l-0.9 0.0M274.4 995.5l-0.4 1.2M288.4 899.1l-0.8 1.2M123.2 905.6l-0.4 1.3M286.6 931.9l1.3 0.7M121.4 966.9l-0.6 1.6M300.0 896.3l-0.7 0.0M317.5 932.0l1.2 0.2M285.3 909.8l1.5 0.3M147.8 996.1l1.0 0.7M250.6 956.3l-0.1 0.7M170.7 917.0l0.6 0.3M190.7 962.2l-1.4 0.7M287.3 886.8l-0.5 0.7M187.9 997.9l-1.4 0.8M304.9 959.8l0.0 0.9M154.9 967.2l0.6 0.6M241.7 951.0l1.1 0.4M284.7 869.5l1.7 0.4M145.3 886.8l-1.1 1.2M191.6 1001.6l-0.8 0.3M187.2 959.2l-0.5 1.1M272.0 893.9l0.7 0.3M282.0 900.4l-1.2 0.6M275.0 982.1l0.4 1.6M276.6 874.2l0.9 1.4M232.1 973.7l-0.9 0.8M169.2 877.3l-1.3 0.8M283.1 889.5l-0.0 1.5M191.2 878.4l-1.5 0.1M272.8 933.3l-0.9 0.8M319.4 886.1l0.4 0.7M124.2 970.0l-1.3 0.8M149.2 874.6l-0.1 1.4M161.8 875.3l0.3 0.7M189.9 949.2l0.2 0.8M203.6 967.3l-1.3 0.1M185.9 992.3l-1.1 1.1M314.4 938.9l-0.6 1.4M125.6 880.4l0.4 0.7M193.7 875.7l-0.3 1.2M142.0 878.7l-0.6 0.1M162.6 947.4l-0.1 1.0M220.4 998.2l0.3 1.6M188.4 981.4l-0.9 0.9M167.3 953.8l1.0 0.9M139.7 939.3l0.4 0.5M186.9 964.7l0.3 0.5M298.8 921.2l1.1 0.6M147.8 945.5l-1.1 0.1M293.5 918.9l1.3 0.3M145.7 881.1l0.5 0.7M151.9 993.3l1.5 0.3M140.7 984.8l1.2 1.2M133.5 871.1l-1.2 0.8M293.5 869.2l-1.3 0.1M255.2 871.4l0.4 1.7M152.3 904.5l-1.3 0.5M121.6 870.5l0.6 1.3M295.8 939.1l0.6 0.8M192.7 1004.4l-0.8 1.0M253.2 1003.7l0.6 0.3M261.7 929.1l-0.8 0.7M250.5 906.3l-0.6 0.0M293.9 977.7l-1.7 0.2M171.7 928.9l0.8 0.9M218.6 989.6l-1.0 0.8M309.4 917.4l-1.5 0.7M285.6 986.5l-0.4 1.4M258.2 973.9l0.0 0.7M184.9 943.7l1.3 0.1M138.9 875.7l-0.3 0.6M292.2 897.7l1.6 0.8M142.2 976.1l1.0 0.7M282.2 906.3l0.8 0.8M206.3 925.0l0.6 0.1M204.5 996.6l0.9 0.4M279.7 1003.3l-1.8 0.2M167.0 941.9l-0.4 0.8M251.5 921.1l-0.3 1.1M178.9 906.6l0.1 1.0M302.2 901.1l-1.0 1.5M141.0 983.5l1.0 0.5M303.0 870.3l-0.8 0.3M322.8 896.9l0.5 1.4M224.7 989.2l0.6 0.6M191.0 979.2l1.8 0.1M231.5 891.3l0.9 0.5M306.1 909.8l-0.5 0.6M323.9 980.3l1.1 0.6M253.3 883.0l-0.5 0.3M202.6 889.7l-1.1 0.0M138.0 982.0l0.8 0.3M212.6 978.6l0.2 0.7M203.0 949.9l-1.1 1.3M290.7 988.6l0.8 0.9M250.9 874.5l1.6 0.4M123.2 949.2l-0.8 0.7M198.1 913.4l0.3 1.7M148.6 923.5l-0.8 0.8M182.2 975.9l-0.2 1.6M155.0 888.1l1.1 0.2M316.7 920.4l-0.2 1.1M209.5 996.9l0.5 0.9M185.1 940.9l0.5 1.4M166.8 877.8l-0.8 1.5M285.6 906.0l-0.1 1.7M205.2 885.5l1.2 1.1M138.0 960.3l0.2 1.5M129.8 902.4l-0.2 0.9M213.9 966.9l-1.1 0.8M279.4 898.5l-0.1 1.5M126.3 889.9l-0.6 1.0M253.5 973.4l0.0 1.2M291.6 998.3l0.7 0.7M201.3 974.2l-0.6 0.4M137.3 900.2l-0.2 1.7M285.6 903.6l1.1 0.0M185.0 921.4l1.1 0.3M160.8 999.1l0.8 1.3M296.9 871.7l-0.3 1.3M158.2 896.3l0.1 0.9M135.6 937.4l1.6 0.3M257.9 968.8l-0.4 0.5M123.0 875.2l0.4 1.1M257.4 928.7l-0.1 1.5M305.6 905.7l0.8 1.1M185.9 955.7l1.3 1.2M128.5 983.1l0.8 0.7M221.5 995.0l-0.7 1.0M262.3 981.6l1.4 1.0M284.5 877.1l-0.9 1.0M314.6 986.3l-1.5 0.0M289.5 903.4l-1.1 1.3M187.1 997.7l-0.3 1.2M298.4 900.9l1.2 0.6M156.7 977.8l0.0 1.4M241.7 895.1l-1.0 0.3M220.2 974.5l0.6 1.3M192.7 967.8l-1.8 0.4M174.4 971.7l1.3 1.0M271.2 892.9l1.6 0.7M171.5 874.0l-0.5 1.6M205.2 890.2l-1.4 0.9M160.8 967.7l-0.9 0.8M264.5 895.4l-1.1 1.1M122.6 946.2l-0.2 0.9M281.2 890.1l0.2 0.6M170.6 923.1l-0.4 1.6M120.9 928.3l-0.5 0.8M180.9 987.8l-0.3 1.1M185.0 907.8l0.4 1.4M181.2 936.2l0.6 1.2M194.8 900.9l0.1 1.4M154.3 894.7l-0.8 0.9M256.3 918.8l-1.1 0.6M199.3 977.0l-0.4 0.8M195.0 887.3l-0.3 0.7M147.0 878.2l1.5 1.0M157.4 874.5l1.7 0.6M183.3 975.3l-0.3 1.0M299.7 953.2l1.6 0.3M210.8 932.0l0.8 1.5M151.4 941.7l-0.8 0.2M300.6 903.6l1.4 1.1M240.2 877.5l-1.4 0.1M218.9 901.6l-1.3 0.1M263.5 998.1l-0.1 1.2M138.5 914.1l1.3 0.9M181.0 957.0l0.3 0.6M160.2 992.8l-0.5 0.4M130.8 923.4l1.5 0.2M257.5 994.5l0.9 0.3M131.7 934.8l0.9 0.2M172.5 926.8l1.3 0.9M127.2 946.8l-0.4 1.0M282.4 988.1l-1.1 0.4M210.9 993.2l0.2 1.1M211.9 951.5l-0.3 1.3M222.3 994.5l0.5 0.7M149.2 940.6l1.3 0.9M121.9 962.3l-0.3 0.6M196.8 959.0l-0.3 0.7M260.5 978.5l0.6 0.0M319.2 997.7l0.5 1.2M207.1 995.1l1.7 0.0M173.7 988.3l1.0 0.9M275.6 916.6l-0.6 0.6M232.1 986.1l-0.7 0.4M284.9 910.2l-0.5 0.5M219.2 933.8l0.5 1.6M310.2 897.4l0.6 1.2M316.8 931.4l0.3 1.0M252.8 957.1l1.4 0.3M245.9 991.3l0.9 0.4M304.4 913.4l1.4 0.7M182.0 997.4l1.2 1.4M192.5 901.4l0.6 0.3M195.3 905.3l-1.1 0.5M265.7 947.7l-0.6 0.1M274.4 1003.9l-0.7 0.5M296.6 993.9l-0.7 0.1M140.3 932.1l1.4 0.0M157.7 879.2l-1.2 0.5M141.5 974.2l-0.6 0.7M122.7 906.1l-1.6 0.3M307.6 904.3l1.3 0.5M202.1 880.3l-0.8 0.6M168.8 976.9l1.4 1.0M126.1 890.5l-0.9 0.8M121.4 956.2l0.2 1.6M184.5 905.2l0.4 1.6M228.2 949.0l0.8 1.3M146.3 878.3l1.3 0.0M164.8 871.8l-0.3 0.9M167.2 963.7l-0.9 0.4M240.4 992.1l1.1 0.6M213.5 992.3l-1.0 0.0M202.5 976.8l0.0 1.5M196.6 940.8l-0.5 1.0M177.5 910.0l0.6 0.2M158.9 936.5l1.3 0.6M157.1 943.8l1.4 0.8M234.4 871.5l0.0 1.3M320.9 929.5l0.8 0.7M125.4 880.1l-1.0 1.3M170.8 885.0l0.6 0.5M150.6 869.5l-0.4 0.8M275.3 900.6l-1.3 0.6M156.7 942.9l0.2 1.8M160.2 946.7l-0.7 0.5M253.8 946.5l-0.8 0.3M215.6 953.3l-1.3 0.5M139.5 949.2l0.4 0.6M196.1 932.7l0.6 0.5M264.9 994.3l-1.4 0.5M292.4 921.8l-1.1 1.0M242.3 997.0l-0.8 1.5M176.5 924.5l-0.4 1.7M183.6 891.4l0.7 0.1M161.9 966.3l0.6 1.2M167.3 954.7l0.6 0.2M193.0 939.8l-0.8 0.6M139.6 889.8l-1.3 1.0M247.1 1003.9l-0.5 0.2M162.0 890.4l1.3 0.4M183.0 876.3l-0.6 1.4M305.3 917.9l-0.8 0.3M201.7 992.6l-0.9 0.6M176.5 880.8l-0.2 0.8M226.2 991.2l-0.8 1.0M238.4 950.4l-0.6 0.5M126.1 912.3l0.9 0.0M178.5 898.9l0.7 1.3M283.2 921.9l0.6 0.3M302.3 929.8l-0.1 1.0M229.2 958.2l-1.7 0.3M168.4 975.7l1.0 0.9M236.4 1003.0l-0.8 0.2M200.0 880.7l-1.1 1.2M273.8 998.5l-0.5 0.8M295.2 992.3l0.3 1.5M290.5 979.2l1.6 0.2M256.9 871.4l-0.8 0.3M232.2 961.5l0.2 1.4M295.7 892.3l0.6 1.0M275.5 912.9l-0.6 1.2M188.4 928.3l-1.4 1.0M226.8 890.2l0.6 0.3M261.3 949.3l-0.9 0.1M140.2 994.0l1.6 0.7M224.6 880.9l0.8 0.1M202.0 934.8l0.6 1.4M144.3 995.4l-0.2 0.8M298.1 880.8l0.2 1.0M314.3 896.4l-1.3 1.2M281.7 983.4l-0.7 0.5M197.5 908.1l0.6 1.3M135.1 883.3l0.7 0.7M127.9 876.9l-0.5 1.4M174.8 958.1l1.3 0.1M126.2 925.4l0.9 0.0M313.4 997.9l-0.7 1.5M310.4 909.6l-1.0 0.5M129.5 960.1l-0.4 1.6M195.0 888.3l0.0 1.4M282.1 906.6l1.1 0.7M278.0 903.7l1.2 0.9M306.0 872.4l1.1 0.0M244.8 978.6l-0.7 0.5M133.6 971.4l0.2 0.6M252.5 985.0l0.7 0.6M234.3 982.6l0.5 0.3M255.1 953.5l-1.8 0.1M121.1 950.0l-0.3 0.7M257.1 898.8l-0.1 1.1M162.8 991.4l1.2 1.3M282.4 893.1l-1.4 0.3M323.3 876.6l1.0 0.3M121.3 892.2l0.7 0.0M198.6 965.2l-0.2 0.7M316.5 988.1l-1.3 0.6M303.3 895.2l-1.6 0.4M222.1 975.4l0.2 1.7M177.0 893.2l0.8 1.4M147.4 876.5l0.6 0.7M226.3 1006.6l1.4 0.7M306.5 888.3l0.9 1.0M235.9 979.7l0.8 0.8M179.8 908.7l1.3 0.4M159.2 899.3l0.5 0.9M257.8 962.7l-1.7 0.3M262.9 884.8l-1.3 0.4M201.6 926.7l1.8 0.2M162.0 948.1l0.2 1.6M307.7 921.6l0.9 0.9M184.5 886.4l-0.6 0.4M200.2 981.0l0.7 1.1M236.5 988.2l1.2 0.9M310.2 987.9l-0.6 1.0M155.4 946.9l0.9 1.4M195.9 981.9l1.2 1.3M290.0 925.5l0.1 0.6M162.3 923.0l1.0 0.3M172.0 946.6l0.8 0.0M121.5 965.5l1.3 0.5M217.3 968.5l-0.3 1.5M311.4 890.4l0.4 0.7M179.2 872.7l-1.1 0.4M308.1 902.8l-1.5 0.2M179.7 872.5l0.9 0.5M319.1 910.8l-0.4 0.7M309.8 982.3l0.7 0.8M291.2 992.5l1.2 0.2M180.4 972.4l0.7 1.4M255.0 903.7l-0.7 0.4M151.6 952.0l-0.7 0.8M305.3 983.1l0.9 0.9M232.2 900.8l-1.0 0.6M140.0 934.4l0.1 1.1M301.8 897.0l0.3 1.4M308.0 977.6l0.7 0.0M220.1 981.5l-1.0 1.2M281.2 912.8l1.1 0.0M267.4 996.2l0.9 0.5M304.3 880.3l0.9 0.3M310.8 903.2l-0.2 1.5M311.8 890.6l1.2 1.0M180.6 911.2l-1.0 0.8M300.4 929.2l0.5 0.7M230.2 940.2l-1.6 0.4M277.3 923.9l-1.2 0.9M200.6 913.7l-0.8 1.0M132.7 937.8l-0.5 0.3M156.5 987.5l1.5 0.3M138.9 913.1l-1.6 0.8M190.6 983.4l-0.4 0.8M199.1 968.8l0.2 0.7M221.8 967.7l-0.6 1.5M136.7 923.4l1.4 0.2M307.3 991.4l-0.3 1.1M324.0 950.9l-0.2 0.9M207.7 978.2l0.7 1.6M263.7 886.6l-1.7 0.1M215.5 880.1l0.7 0.4M193.3 958.0l0.8 0.3M214.9 976.3l-0.8 0.3M211.8 991.8l0.8 0.5M228.4 982.3l-1.6 0.4M136.4 985.6l0.8 0.6M267.5 991.0l0.7 1.2M244.4 979.8l0.2 0.6M311.5 937.7l-0.4 0.6M131.5 904.4l-1.0 1.2M170.5 952.7l0.1 0.8M220.6 994.4l0.6 1.1M252.7 924.2l1.2 0.4M155.6 889.2l1.3 0.5M218.3 990.9l-0.7 0.7M310.8 980.0l-0.9 0.9M312.7 885.9l-1.6 0.0M267.2 971.0l1.7 0.2M137.0 895.3l0.4 1.1M166.9 974.0l-1.1 1.1M308.2 981.5l1.7 0.4M243.5 882.8l-0.7 0.3M314.9 894.6l-0.2 0.7M314.6 910.7l1.0 1.3M252.7 984.4l0.2 0.7M164.6 983.6l0.8 0.5M137.0 893.6l0.1 1.0M278.9 890.1l1.2 0.4M195.1 887.6l1.7 0.2M206.8 906.8l1.1 0.6M162.9 910.0l-1.0 1.4M274.6 990.3l0.1 0.6M251.1 895.3l-0.7 1.6M274.5 959.1l-1.2 1.2M186.8 870.2l-0.2 0.7M278.7 926.9l0.6 0.5M210.2 932.3l-1.8 0.1M257.6 981.9l-0.9 0.0M139.0 886.3l1.6 0.6M215.1 892.9l-0.8 0.2M178.3 926.9l0.6 0.1M271.2 875.3l-1.2 1.3M310.6 893.3l0.6 1.4M176.8 929.8l0.4 0.9M255.5 957.8l0.4 1.7M247.5 956.9l-1.4 1.1M193.8 947.0l1.7 0.6M279.5 883.9l-0.5 1.2M174.7 926.3l0.8 0.8M143.7 936.0l-0.4 0.9M323.2 905.9l-0.6 0.3M319.5 995.0l0.7 0.4M290.9 986.8l1.6 0.4M184.4 958.4l-0.4 1.6M269.0 879.1l0.1 0.7M177.4 971.3l-1.2 0.6M174.4 1001.6l0.2 1.3M127.0 881.5l-0.4 0.7M141.2 945.2l1.6 0.3M251.8 984.1l-1.0 0.4M242.7 986.5l-0.8 0.9M184.3 917.3l0.1 0.8M273.9 925.8l1.1 0.3M299.9 940.0l-1.3 0.9M152.4 950.7l0.7 0.0M143.1 919.9l0.7 1.2M290.9 896.1l0.6 1.5M257.7 972.6l-0.5 1.1M176.1 892.7l-1.3 1.0M305.2 947.3l-1.0 0.6M140.5 912.6l-0.9 0.2M238.1 896.0l0.8 1.5M184.2 890.9l1.0 1.1M166.2 945.2l-0.1 1.6M142.2 980.4l-0.4 1.2M129.7 979.7l-0.8 0.5M130.1 871.0l-1.3 0.3M238.9 952.1l-0.7 0.7M192.6 922.7l1.1 1.1M233.0 892.0l-1.2 1.0M194.7 977.5l-0.7 0.3M153.8 947.0l0.8 0.3M265.9 973.4l0.8 0.0M286.7 886.6l0.9 1.1M216.8 1007.0l0.6 1.2M165.7 987.0l-1.8 0.4M156.1 961.5l-1.0 0.6M233.8 882.7l1.6 0.8M267.4 1001.0l0.7 0.1M268.2 871.6l-0.8 0.8M139.6 944.8l-0.2 1.7M156.3 876.3l-1.2 0.7M155.8 965.9l-1.7 0.2M183.8 954.1l-0.7 0.6M227.0 971.3l-1.0 1.0M261.8 890.3l1.1 0.7M211.6 885.5l-1.0 0.4M163.2 905.9l0.6 0.8M213.4 993.1l-1.4 0.4M312.3 880.0l-0.1 1.7M162.0 952.5l0.2 0.6M292.3 924.9l0.1 1.6M152.3 959.9l-0.4 0.8M244.8 891.2l0.6 0.3M251.2 983.2l-1.0 1.4M208.8 906.6l0.4 0.6M234.0 883.6l0.5 0.4M123.9 900.5l-0.7 1.5M184.0 941.2l0.9 0.2M193.9 959.5l0.1 0.8M287.3 999.3l-0.7 0.3M155.3 882.7l0.4 1.5M143.1 959.4l-0.3 1.1M322.2 879.3l-0.1 0.7M178.8 955.2l-0.6 0.4M156.3 972.1l-0.8 0.0M136.7 899.7l0.7 0.3M170.9 953.8l1.5 0.9M184.0 929.5l0.6 0.6M143.7 884.3l-0.2 0.6M171.1 878.5l1.3 0.7M152.9 930.9l-0.5 0.5M137.5 902.3l-1.0 0.9M281.7 894.9l-0.8 0.4M151.8 916.8l1.5 0.9M249.7 961.0l0.6 1.2M303.2 948.5l0.3 0.6M296.0 903.0l1.6 0.6M158.7 993.7l-0.3 0.8M125.4 983.1l1.7 0.1M196.9 891.4l0.6 0.5M150.5 991.5l0.3 0.7M175.6 997.7l0.7 0.5M317.4 911.7l-1.1 0.1M229.8 889.5l0.5 0.6M145.8 950.5l0.9 0.3M197.3 968.4l-0.6 1.4M157.1 949.9l0.1 1.0M146.9 878.6l1.2 1.1M250.7 978.8l-0.1 1.3M317.9 895.0l-1.3 1.3M144.8 986.0l0.6 0.3M215.7 907.0l-0.4 0.7M188.4 941.9l-0.5 0.8M197.2 1003.8l0.2 0.7M143.5 899.9l-0.9 0.9M205.5 885.6l-1.5 0.4M240.8 889.0l-0.6 1.1M287.5 878.1l-0.6 0.2M159.5 875.4l0.5 0.4M179.4 947.5l-0.6 0.0M271.1 999.7l-0.4 1.7M155.4 913.5l1.7 0.5M250.7 907.4l0.9 0.4M170.5 942.3l-0.0 0.9M296.1 993.4l0.3 0.7M258.7 968.9l0.8 0.1M158.8 973.4l0.8 1.6M175.7 904.1l-0.2 0.7" stroke="#43332e" stroke-width="2.3" stroke-linecap="round" fill="none" opacity="1"/>
<path d="M311.5 885.9l-0.8 1.6M204.4 886.1l-1.2 1.4M282.9 890.6l1.4 1.3M160.6 896.2l-1.0 0.8M164.4 976.2l-1.0 1.5M129.9 927.3l-0.9 0.6M294.7 908.2l1.3 1.2M128.5 966.5l0.8 0.0M128.2 941.0l-0.5 0.1M307.2 923.0l-1.5 1.1M180.3 940.3l0.1 1.9M297.4 946.7l0.3 0.9M242.3 917.3l-1.2 0.1M137.5 988.5l0.1 0.9M263.3 995.6l1.1 1.0M195.7 900.6l-1.6 1.1M250.6 949.6l-0.6 0.4M149.8 981.9l-0.1 2.0M239.0 974.8l-0.5 0.2M201.6 961.8l0.2 0.7M293.8 934.4l0.3 1.4M131.3 999.2l0.3 1.1M154.5 954.1l0.6 1.0M237.5 934.6l-1.4 0.3M242.2 932.7l0.2 0.7M165.7 934.1l1.1 0.6M162.9 944.1l-0.6 0.0M163.1 887.9l-0.9 1.3M220.6 883.7l1.2 0.1M205.3 972.2l-1.1 0.6M266.3 883.3l-1.2 0.1M121.2 897.5l1.9 0.5M205.8 981.0l0.8 1.1M323.4 917.2l-0.9 0.7M162.5 924.0l-0.5 0.1M321.0 952.6l1.7 0.7M218.6 900.9l0.0 1.7M177.6 960.0l0.6 0.4M189.9 946.8l1.1 0.3M168.8 945.3l-1.7 0.4M283.0 913.6l1.3 0.6M259.4 925.0l-1.7 0.5M249.7 975.2l2.0 0.1M194.7 978.4l-0.4 0.4M271.3 970.2l0.4 1.3M266.4 994.7l-1.2 1.4M318.7 936.4l0.2 1.9M173.9 967.0l0.7 1.2M283.1 922.2l-0.4 1.4M235.1 1005.8l-0.8 0.5M278.6 886.6l1.3 0.4M214.9 972.2l-1.8 0.5M250.1 975.2l0.6 0.9M139.0 993.3l-1.3 0.4M321.3 894.3l-1.0 0.2M217.5 922.5l1.4 0.9M315.1 913.5l0.9 0.9M239.7 961.6l1.3 0.8M153.8 991.9l0.5 1.6M194.0 960.1l-0.6 1.7M136.0 1003.9l-0.5 0.5M233.9 874.0l0.4 1.4M205.9 915.0l0.7 1.4M153.3 968.3l-0.5 0.7M228.4 990.9l-1.2 1.0M235.3 964.0l-0.7 0.3M296.1 1000.5l-0.3 1.0M140.8 876.2l-0.5 0.9M129.1 878.8l1.1 0.2M170.2 985.7l1.1 0.2M258.1 881.2l-0.3 0.8M240.4 1004.2l0.8 1.4M263.8 990.6l1.4 0.1M154.5 1005.7l-0.4 1.6M279.0 997.8l1.2 1.1M323.5 894.2l-0.9 0.9M242.2 973.3l-0.3 1.7M184.5 926.8l-0.6 0.3M277.9 996.3l-1.1 0.3M276.2 888.0l1.5 0.9M313.6 1006.0l-1.2 0.4M141.5 904.8l-1.4 0.7M124.4 987.4l0.4 1.5M225.6 991.7l0.8 1.1M195.2 918.6l1.7 0.9M157.6 948.8l1.2 0.9M313.8 883.6l1.7 1.1M294.8 912.2l0.5 0.9M175.8 902.3l-1.0 1.2M126.2 917.5l-0.9 0.6M310.2 958.9l0.9 0.5M188.2 975.2l-1.5 1.1M150.9 946.1l-1.6 0.5M299.6 983.1l0.1 1.1M318.9 939.4l-0.9 1.2M166.8 894.6l0.8 0.7M172.3 886.0l-0.5 0.6M292.8 879.2l0.9 0.6M301.5 910.9l0.7 0.8M274.1 969.5l-1.6 0.7M307.7 902.5l0.5 0.4M162.4 878.4l-1.0 0.3M173.2 968.9l-0.1 0.9M279.3 932.2l-0.2 0.7M243.9 872.5l0.8 0.6M190.4 985.2l0.9 0.8M121.3 892.4l-1.2 1.2M151.0 1003.4l0.5 0.1M162.5 985.4l0.3 1.4M147.6 902.1l1.2 0.2M200.8 992.4l1.2 0.6M150.0 960.5l1.3 0.2M309.7 951.3l-0.4 1.0M197.4 975.4l-1.1 0.4M142.3 952.6l0.4 0.3M219.2 968.5l-0.3 1.5M237.9 903.7l-0.8 1.4M202.8 966.8l0.8 0.5M151.9 941.3l0.9 0.2M276.2 882.3l1.7 0.9M269.2 878.6l-0.6 1.3M145.7 873.4l-1.1 0.6M138.6 878.2l1.1 0.8M254.3 959.8l-1.2 0.3M223.3 878.5l1.5 1.0M184.2 895.7l-1.2 1.3M263.2 995.6l-0.9 0.8M251.0 964.7l0.5 0.5M290.0 920.8l-0.4 1.0M120.7 965.7l0.7 0.3M179.1 950.8l1.2 0.5M153.1 894.9l-1.4 1.2M148.8 982.4l1.5 0.3M246.0 891.9l0.4 1.1M219.7 968.6l-0.6 0.1M255.2 996.2l-0.9 0.9M298.1 955.5l-0.4 1.5M310.6 916.2l1.3 0.1M312.8 926.7l1.2 1.0M141.9 939.8l-1.9 0.5M129.0 918.4l0.1 1.0M139.2 874.5l0.1 0.6M182.7 885.1l-0.6 1.5M269.2 871.0l0.9 0.7M169.8 881.9l0.6 1.0M173.0 984.8l-1.0 1.0M304.8 903.1l0.9 0.4M189.3 872.0l1.1 0.6M198.0 978.9l-0.7 1.7M281.0 889.1l-0.6 0.9M259.9 910.1l-1.3 0.6M169.4 955.8l-1.0 0.0M188.2 904.7l-0.1 1.7M155.4 974.5l0.2 0.5M136.7 872.3l0.5 0.9M133.3 905.7l-0.8 0.8M167.8 958.5l1.0 0.1M159.1 906.4l-0.8 1.3M236.6 892.3l0.3 0.5M261.9 971.3l-1.0 0.9M205.9 958.5l0.8 1.1M166.5 979.2l-1.1 0.6M163.7 964.2l1.8 0.5M121.9 895.8l0.6 0.1M139.3 890.7l1.6 0.5M282.2 995.3l0.6 0.4M123.2 892.1l-1.8 0.5M225.4 870.2l1.3 0.3M301.4 884.8l0.6 1.1M241.3 912.4l-0.7 0.3M191.8 881.0l0.1 1.0M204.8 1003.8l-0.1 0.7M305.4 987.6l-0.5 1.9M319.7 912.5l-1.2 1.2M168.2 905.6l-0.6 1.5M226.3 995.3l-0.6 0.3M205.9 975.3l1.2 0.4M247.0 1002.5l-1.0 1.5M231.5 898.4l0.8 0.0M258.1 955.4l-0.2 0.7M242.5 884.6l1.4 0.5M181.8 910.4l0.5 0.8M221.3 899.4l-1.2 1.1M275.6 988.5l0.8 0.1M290.6 902.9l-0.4 1.0M186.1 912.2l-0.6 0.4M229.0 949.1l0.5 0.1M199.3 919.1l-1.4 0.3M297.4 903.3l0.1 0.6M304.8 949.1l-1.1 0.8M167.3 896.0l0.5 0.8M244.3 987.5l-0.1 0.6M143.7 967.9l1.5 1.2M140.8 947.4l-0.6 0.7M218.2 897.2l0.9 0.9M196.8 923.9l0.3 0.7M305.5 949.1l1.0 0.6M254.1 940.1l0.6 0.8M293.8 1006.8l0.7 0.7M201.8 887.7l0.9 0.1M229.8 881.6l1.7 0.8M185.9 880.0l0.4 1.5M172.2 927.9l1.1 1.2M259.5 974.0l0.2 1.9M216.8 895.3l-0.3 0.5M205.1 948.7l-1.1 0.7M208.0 932.3l0.3 0.6M231.9 968.4l0.7 1.0M132.1 961.8l0.3 1.2M193.4 921.6l0.1 0.6M289.9 894.6l-1.4 0.3M309.3 873.9l-0.3 0.9M294.9 968.4l-0.2 0.9M134.4 886.7l1.4 1.1M211.3 920.8l1.5 0.3M155.4 872.6l0.3 0.5M210.6 875.1l-0.6 1.9M321.2 900.7l-1.4 1.1M220.2 983.9l-0.5 0.4M212.9 994.7l-0.1 0.7M131.1 1006.8l-1.5 0.7M137.6 882.5l-0.5 0.3M168.3 965.3l-0.8 0.6M134.9 870.5l1.5 0.2M304.3 952.6l-0.7 0.0M179.6 980.0l-0.2 1.6M151.7 943.5l-1.7 0.8M282.8 941.4l-1.0 0.4M257.8 895.1l1.1 0.4M253.1 898.5l-0.3 0.8M252.5 995.2l1.8 0.6M288.4 871.7l-0.9 0.7M277.2 975.1l-0.2 0.5M231.6 999.4l2.0 0.2M303.1 919.7l-0.5 0.2M122.9 932.0l-0.5 0.9M180.7 965.7l-1.0 0.6M319.5 940.0l-0.5 1.3M139.9 881.6l1.7 0.8M272.4 935.2l1.1 0.1M210.4 996.0l0.2 1.9M203.5 951.0l-0.5 0.2M206.5 924.8l-1.0 0.8M129.8 883.5l0.7 0.1M266.0 972.1l0.2 1.3M168.1 946.0l-1.6 1.2M193.9 903.9l-0.7 0.8M197.3 975.9l-0.9 0.2M227.0 947.6l-1.5 0.8M198.0 871.4l1.3 0.7M167.0 877.4l-1.3 0.4M322.3 875.6l1.5 1.0M250.2 989.6l0.0 0.6M172.5 891.8l-0.5 0.1M293.5 913.3l0.1 0.6M212.4 949.9l1.7 0.5M197.0 936.2l-0.1 1.3M147.2 909.4l0.2 1.2M135.5 886.4l1.5 0.9M192.4 963.1l-1.9 0.4M200.8 891.0l-0.1 1.1M219.2 928.5l-0.4 1.1M216.1 888.4l-0.6 1.0M312.6 929.5l1.5 0.8M313.5 873.5l0.3 1.1M145.5 909.9l-0.2 1.1M142.3 983.4l1.7 0.5M121.3 1004.2l-1.6 1.2M297.5 911.0l0.5 0.6M158.1 878.8l0.7 0.2M246.7 905.7l-0.4 0.3M221.6 880.0l1.6 0.3M183.0 989.3l0.9 0.8M271.4 912.0l0.6 0.1M275.6 996.6l0.5 0.1M308.6 951.0l-0.0 0.6M298.5 976.1l0.2 1.3M323.9 937.0l0.1 1.2M249.6 986.5l1.9 0.7M186.5 923.8l1.8 0.7M306.8 887.1l-1.1 0.2M149.8 872.6l1.6 0.9M140.1 937.7l1.1 0.9M157.8 920.9l1.3 0.1M162.5 937.9l-0.1 1.0M286.7 902.5l-0.3 0.6M311.8 889.7l1.2 0.5M315.4 884.9l-0.2 0.9M283.6 1003.9l0.5 1.8M267.1 946.5l1.0 1.3M207.4 891.7l0.2 1.7M131.8 869.9l-0.7 1.1M312.2 933.1l0.4 0.4M162.0 928.5l0.8 0.6M182.1 951.9l1.2 0.1M139.9 988.8l-1.5 0.1M266.0 942.6l1.4 0.4M209.5 1002.4l0.6 1.7M174.0 933.0l-0.1 1.0M148.2 970.5l-1.6 0.5M208.6 977.2l0.4 1.4M203.2 916.6l-0.6 0.8M278.6 946.0l-0.1 0.6M203.0 993.7l1.3 1.1M170.9 907.6l0.1 0.5M212.9 918.1l-0.4 1.4M137.6 942.0l-1.7 0.5M173.7 907.6l-0.1 0.5M264.5 943.2l-0.5 0.4M313.8 917.2l0.2 1.7M184.9 951.6l-0.6 1.0M178.6 964.5l1.0 0.1M236.1 983.5l0.7 0.9M277.3 960.4l-0.1 1.2M186.2 930.6l0.1 1.7M180.8 932.6l-0.1 0.5M241.9 994.1l-0.6 0.3M156.4 1001.9l-0.8 1.2M166.5 963.7l-1.0 1.4M300.8 920.9l1.2 1.0M125.7 914.1l-0.1 0.5M214.8 953.2l1.6 0.5M271.3 990.3l-0.5 0.9M153.2 954.0l-0.1 0.6M301.3 942.5l-0.8 1.1M201.8 869.7l-0.2 1.3M208.0 892.5l-0.3 0.9M209.3 946.8l0.6 0.0M242.7 918.5l-0.7 0.3M191.8 954.6l1.5 0.3M181.0 919.7l1.3 1.4M249.0 1005.6l-0.4 0.5M197.3 939.8l0.8 1.1M121.2 881.4l-0.9 0.3M123.7 886.5l-1.0 1.0M133.4 948.6l0.4 0.5M212.3 966.3l1.7 0.3M257.6 967.5l1.4 0.3M138.6 984.9l0.5 0.7M275.0 901.6l-0.8 1.1M323.0 928.7l-0.3 1.2M191.9 988.9l1.4 1.2M269.5 991.6l-0.6 1.4M147.4 966.2l-0.6 1.0M147.3 982.0l-0.9 0.2M182.6 942.7l1.3 0.1M166.9 880.2l-0.5 0.6M207.9 949.0l0.7 0.3M185.1 963.8l1.0 0.5M214.1 880.4l-0.5 1.2M307.9 981.3l1.1 0.1M204.1 992.5l0.8 1.1M178.6 890.6l0.5 1.5M144.7 921.9l0.6 0.3M189.9 870.8l-0.2 1.0M163.6 949.2l-0.9 0.5M156.7 918.6l0.3 1.1M243.4 916.3l1.1 1.7M292.6 902.8l-1.2 0.8M171.9 1001.6l0.4 1.7M122.8 969.7l-1.7 0.2M184.0 869.6l0.8 0.7M183.0 984.8l0.6 0.2M226.8 943.6l0.6 1.4M251.3 991.7l-0.5 0.5M308.1 930.6l-0.6 1.3M127.4 890.5l-1.4 0.6M237.4 870.1l-1.5 0.9M157.3 882.2l0.0 0.9M123.3 880.8l0.2 1.8M240.8 966.6l0.9 0.4M318.4 996.7l0.3 0.4M242.5 938.7l1.8 0.4M206.8 871.9l-0.8 0.5M322.6 890.4l0.3 1.5M196.1 891.0l-1.7 0.7M317.2 881.6l1.5 0.3M168.4 917.0l0.0 0.9M182.6 933.6l0.3 0.7M282.6 909.3l-1.0 1.1M133.3 958.7l0.0 1.0M316.0 930.9l0.0 0.6M257.5 931.0l-0.5 1.9M215.7 889.9l0.9 0.2M221.7 960.5l0.4 0.4M146.7 904.1l-0.5 0.7M315.2 899.4l0.7 0.3M153.2 930.7l1.1 1.5M297.2 906.9l-0.9 0.8M139.7 905.7l1.1 0.1M152.2 929.1l0.6 0.2M188.6 912.8l-1.8 0.7M284.5 889.7l0.9 0.6M308.0 947.2l-0.5 1.4M208.0 878.7l-1.0 0.5M276.3 989.5l-1.7 1.0M268.0 933.7l1.2 0.8M178.0 948.9l-0.5 0.4M198.4 888.1l0.9 1.0M275.4 893.7l-1.7 0.8" stroke="#6a5650" stroke-width="2.1" stroke-linecap="round" fill="none" opacity="0.9"/>
<path d="M294.0,930.0 L302.0,945.0 L310.0,962.0 L318.0,990.0" stroke="#f4f2f6" stroke-width="3.5" fill="none" stroke-linecap="round" opacity="0.7" filter="url(#hb2)"/><path d="M278.0,985.0 L286.0,1000.0" stroke="#f4f2f6" stroke-width="3.5" fill="none" stroke-linecap="round" opacity="0.8" filter="url(#hb2)"/><path d="M258.0,935.0 L272.0,945.0" stroke="#f4f2f6" stroke-width="2" fill="none" stroke-linecap="round" opacity="0.6" filter="url(#hb2)"/>
</g></g>
<clipPath id="c4"><rect x="340.4" y="871.2" width="199.6" height="134"/></clipPath>
<g clip-path="url(#c4)"><g filter="url(#hsoft)">
<rect x="337.4" y="868.2" width="205.6" height="140" fill="#aaa6d0"/>
<ellipse cx="470.1" cy="944.9" rx="43.9" ry="33.5" fill="#ccc8e4" opacity="0.6" filter="url(#hb)"/>
<ellipse cx="376.3" cy="911.4" rx="43.9" ry="40.2" fill="#6e68a8" opacity="0.45" filter="url(#hb)"/>
<path d="M483.4 985.1l2.0 1.4M400.4 1000.7l-1.7 0.9M370.5 914.3l0.6 1.4M520.4 996.8l2.2 0.5M357.5 937.4l0.1 0.9M474.9 1003.6l-1.5 0.0M494.2 942.6l1.2 1.3M507.7 903.8l0.3 1.6M516.4 903.6l0.1 0.7M421.8 923.9l0.7 0.9M468.9 871.6l-0.9 1.3M403.3 968.7l0.1 0.6M446.2 993.3l1.2 0.7M348.3 983.0l-0.4 2.2M500.0 883.5l-0.0 0.9M407.9 895.6l-0.8 0.1M395.8 989.3l1.2 1.2M531.0 902.0l0.6 0.4M370.1 875.6l-1.4 1.5M384.5 901.5l-1.3 1.3M386.9 914.6l-0.4 2.3M454.2 997.8l-0.8 0.5M532.4 939.4l0.1 0.7M453.3 902.0l-1.5 0.2M381.9 888.7l-2.0 0.7M370.3 940.9l1.9 1.1M486.9 985.4l-0.3 0.7M361.3 955.6l-1.3 1.1M534.1 897.0l-1.4 0.1M390.2 934.8l-0.1 0.7M447.6 974.7l-0.6 0.9M495.6 954.7l-0.4 0.8M532.9 976.2l-0.9 0.4M394.5 968.8l-1.5 1.1M376.4 942.8l0.6 0.6M497.9 889.5l-0.7 0.4M463.2 937.9l-0.2 0.6M444.6 990.8l-0.6 1.8M426.7 923.0l0.5 0.7M539.7 982.2l1.8 0.8M459.7 995.1l-0.5 2.1M459.1 885.9l-1.1 1.1M425.1 924.7l-2.2 0.2M415.3 999.9l-1.4 0.0M469.6 962.4l-1.6 1.5M520.2 901.1l-1.8 0.5M517.0 924.9l0.9 1.5M364.4 994.6l0.6 0.7M389.6 880.4l0.1 0.7M367.5 910.1l-1.2 0.6M391.3 994.2l0.9 0.2M398.8 977.2l-1.6 0.5M425.0 920.0l-0.3 0.6M396.1 890.8l-0.4 0.8M532.2 920.6l0.5 0.7M471.5 964.2l2.0 0.2M497.7 873.9l-0.2 0.6M360.2 901.8l-0.3 1.0M373.7 892.1l-0.0 1.7M470.1 965.9l-0.3 0.6M416.7 959.2l-0.5 1.4M426.7 889.2l0.7 0.9M532.7 940.8l-1.7 0.4M422.1 969.6l0.5 1.0M462.4 998.9l0.5 0.5M485.3 935.6l1.1 2.0M339.9 892.7l1.1 1.5M456.2 946.0l-2.0 0.1M411.8 983.6l-0.2 0.8M528.6 947.2l-0.8 0.2M481.8 1005.9l1.7 1.0M364.1 924.2l0.5 1.9M429.7 976.2l-1.1 0.4M440.0 884.7l0.8 2.1M350.1 936.6l-1.1 0.2M495.8 955.1l0.7 0.1M362.2 925.6l-0.0 2.2M439.0 986.6l1.0 0.4M377.3 885.0l-0.7 0.9M531.6 892.4l-0.3 1.2M440.4 909.9l1.3 0.4M362.6 896.5l-0.5 0.5M377.7 906.7l0.1 1.0M413.3 999.3l1.7 1.0M420.1 993.1l-1.1 0.6M502.1 1000.2l-1.9 0.5M353.5 986.0l-0.7 0.7M355.4 875.2l0.5 0.6M378.0 945.7l-2.0 0.9M371.5 984.1l0.2 2.2M394.5 905.9l0.2 2.2M422.6 928.8l-2.3 0.1M362.5 888.0l-0.9 0.9M413.9 904.7l-0.4 1.7M541.6 870.9l-1.6 0.3M539.9 870.8l1.5 0.9M429.0 898.0l1.3 1.1M448.3 903.0l-0.6 1.3M426.1 998.3l-2.1 0.9M416.3 930.4l-0.5 1.3M427.1 999.1l0.6 1.3M513.0 921.8l-1.0 1.7M397.8 996.9l-1.0 0.4M511.1 944.3l-0.5 0.5M362.9 1002.7l1.0 0.1M373.1 881.2l1.4 1.8M461.1 967.6l-0.4 0.5M482.4 989.8l-0.1 1.5M526.0 884.0l-0.1 2.3M461.8 946.1l-0.5 1.0M426.0 881.5l-0.3 1.5M516.6 887.9l0.5 2.1M469.2 1005.5l-1.0 1.0M413.2 968.5l-0.9 1.9M357.7 952.8l-0.9 0.2M368.1 946.6l0.2 1.6M420.1 964.7l-0.4 1.6M371.2 1003.7l0.8 1.2M459.2 966.3l-0.3 1.0M441.5 948.2l-2.2 0.8M364.1 909.2l0.7 0.0M365.9 955.9l1.3 0.6M348.1 888.1l-0.3 0.5M455.5 994.1l2.2 0.6M350.6 886.4l0.5 1.0M425.7 925.8l1.5 0.1M385.4 903.7l-0.2 1.5M385.0 947.9l-0.2 0.7M389.3 901.4l0.4 1.6M392.0 884.5l1.0 0.7M458.3 993.2l0.3 1.8M409.7 885.0l0.6 0.4M514.9 955.9l-1.2 1.3M539.2 921.9l-0.6 0.4M356.3 990.4l-0.6 0.9M454.2 991.5l1.8 0.3M510.2 978.7l-0.7 0.9M374.1 945.1l-0.3 1.0M417.8 994.3l-1.5 1.5M532.8 911.3l0.5 1.1M378.0 961.8l-0.7 0.5M404.7 928.3l0.1 1.4M535.3 963.1l-1.5 1.7M481.1 924.3l1.1 2.0M506.3 879.6l1.1 0.6M536.6 1006.9l0.4 1.4M371.5 876.9l0.7 0.1M471.2 905.8l0.3 2.0M537.6 954.1l0.3 1.2M531.7 923.5l-1.7 0.8M533.1 957.4l1.3 0.4M366.3 938.0l0.1 1.1M369.3 989.1l2.3 0.4M512.0 1003.4l0.5 1.2M415.4 979.0l1.6 1.0M449.1 978.8l2.4 0.2M541.3 993.1l-1.2 1.7M479.1 989.7l-0.1 0.6M342.5 936.6l-0.4 1.8M410.4 900.7l-0.2 0.8M484.1 1005.5l-0.5 1.1M507.2 926.1l-0.5 0.9M500.4 993.6l-0.4 1.8M456.5 875.3l0.9 1.9M405.7 871.3l-1.1 1.0M462.5 884.9l0.7 0.2M515.4 908.3l0.2 0.7M480.3 882.3l-0.0 2.0M421.4 999.1l-0.2 0.7M348.1 973.6l1.0 0.4M514.5 995.0l2.3 0.8M374.0 892.9l0.9 0.8M496.4 948.9l-0.7 0.8M447.1 910.8l-1.9 0.4M446.8 922.6l-1.5 1.7M431.5 988.5l0.7 0.1M364.1 975.3l-0.7 0.6M374.8 943.0l-1.0 0.7M436.9 989.2l-0.8 0.9M490.0 950.9l1.5 0.2M475.8 877.9l-1.7 1.2M477.5 1004.0l0.5 1.7M537.6 913.9l-0.9 0.2M399.5 985.2l1.2 1.5M437.1 996.8l-0.5 1.0M432.8 876.1l1.8 1.1M472.4 902.7l0.2 2.2M344.0 1003.5l1.1 0.6M401.8 957.8l-1.2 1.3M355.8 901.9l-1.3 0.2M471.9 925.5l0.3 2.3M484.3 892.9l-0.6 1.8M473.9 997.8l0.9 0.5M499.9 977.2l-0.7 0.0M523.7 1003.8l0.9 2.2M511.4 870.5l1.4 0.1M406.2 951.3l-0.2 1.7M394.1 923.2l0.2 0.7M353.6 1004.6l-0.1 1.1M425.9 943.4l-0.3 0.7M423.4 943.8l-2.1 0.8M529.9 969.0l0.4 1.3M338.8 923.3l1.1 1.0M443.7 875.4l-0.8 0.3M378.5 880.3l1.5 1.3M353.4 895.2l1.0 0.2M521.7 945.4l-2.1 0.4M456.6 943.2l-1.7 1.5M394.1 910.7l-0.2 1.3M459.0 945.8l-0.4 2.3M347.9 939.4l0.6 0.6M473.0 1004.7l0.4 2.1M537.3 991.1l-1.4 1.1M494.7 960.5l0.7 0.7M368.2 966.2l-1.2 0.3M502.7 1001.4l-0.2 1.9M473.1 993.2l0.7 1.2M445.7 997.0l1.9 0.6M530.9 996.1l-1.1 0.2M534.4 995.8l0.9 1.2M483.3 902.5l0.1 1.5M388.4 883.4l0.6 1.2M437.2 908.9l0.6 0.3M493.9 888.3l1.9 0.9M376.5 981.6l1.1 0.9M460.3 1002.9l0.9 0.7M350.2 947.3l0.4 1.7M438.5 964.3l-0.5 0.9M384.2 894.4l0.3 1.8M447.5 917.4l-0.6 0.2M421.5 910.6l0.2 0.6M504.2 992.2l-1.0 0.9M428.6 952.5l2.3 0.1M429.3 961.8l0.6 0.6M421.5 939.3l1.1 0.2M524.2 957.4l-1.0 0.5M491.9 911.2l-0.4 2.3M504.2 948.5l-0.1 1.0M411.5 999.7l-1.1 0.2M407.9 991.2l-1.8 0.3M471.5 996.0l-0.9 0.4M529.9 1006.5l0.7 2.0M418.5 985.0l0.5 1.0M527.5 949.8l1.0 1.1M495.9 929.9l-0.9 1.9M469.8 880.9l0.7 0.6M522.8 952.6l0.6 0.3M482.3 920.1l0.1 0.8M426.4 899.3l-1.2 0.9M442.8 958.6l1.1 1.5M376.1 997.5l0.4 1.6M350.0 957.5l0.5 1.0M478.9 1005.1l0.1 1.8M395.4 1001.1l-1.9 0.2M381.5 912.6l0.5 0.5M391.7 945.4l2.0 0.7M540.2 905.1l-0.8 0.3M365.1 923.5l-0.7 1.1M338.5 1005.9l-0.6 0.1M380.2 911.1l-1.3 1.3M431.0 996.7l-1.2 1.2M357.8 873.1l-1.4 1.1M473.5 969.9l-1.2 0.9M472.8 881.9l-0.0 1.5M361.0 972.1l-0.2 1.1M434.7 921.8l-1.3 0.9M373.7 969.8l1.3 0.8M503.4 910.0l-0.8 0.8M346.6 1001.1l1.3 0.7M413.0 891.3l2.1 0.0M343.7 910.4l0.8 1.9M365.2 871.4l-0.6 0.6M375.6 900.4l-0.2 0.8M365.4 1005.4l-0.9 0.3M514.9 960.0l-0.5 0.5M481.3 880.3l-1.4 1.9M496.1 957.1l-1.3 1.4M486.6 967.5l-1.5 0.3M423.1 883.6l1.4 0.6M421.7 897.2l-0.8 0.7M446.4 999.0l1.1 1.0M354.5 900.4l1.8 1.1M533.0 954.9l-1.4 0.8M529.1 930.7l1.0 1.8M396.4 977.7l1.2 0.6M372.5 918.0l1.5 1.0M524.3 871.1l-0.5 1.3M385.6 990.6l0.8 0.5M352.3 986.5l-1.4 0.3M351.7 951.3l-2.1 0.5M496.3 873.2l1.2 1.2M429.5 957.1l-2.3 0.1M502.1 902.7l-1.1 1.5M360.1 893.2l-0.5 0.5M426.2 925.9l-0.2 0.9M513.9 950.4l0.1 1.4M529.2 890.3l-1.9 0.1M482.6 879.8l-0.7 1.1M377.7 971.5l-1.2 1.9M464.9 982.4l1.8 0.7M407.3 924.5l-1.6 0.6M397.3 977.2l1.1 0.5M404.5 1006.5l-1.7 0.1M357.5 915.9l-0.3 1.2M527.7 1005.7l-0.7 0.4M387.7 929.7l1.3 0.8M445.4 896.0l-0.1 1.0M534.6 988.6l-0.6 1.7M485.0 1005.2l-0.5 0.7M537.0 975.2l1.3 0.3M521.3 896.0l0.8 0.9M474.3 992.8l-1.8 0.7M380.3 900.4l-1.2 0.8M425.9 871.0l-1.6 0.3M442.9 903.9l0.8 1.9M432.2 897.7l-1.5 0.7M451.5 1003.5l1.4 0.1M418.8 973.5l0.3 0.8M467.3 900.0l0.4 0.9M350.8 999.6l-0.3 2.3M510.7 1003.9l-0.1 0.7M450.4 890.7l-0.9 1.1M459.4 877.5l0.6 0.2M382.1 897.2l-0.4 0.9M515.4 922.2l-1.1 1.9M407.9 981.7l-0.8 0.9M340.6 973.7l1.1 2.1M522.7 955.0l0.7 0.9M371.7 905.2l1.0 1.1M431.5 956.2l-0.8 1.0M379.6 961.0l-1.0 0.8M359.3 881.5l-0.7 0.5M460.1 899.6l-2.1 1.1M493.0 977.2l-2.0 0.2M385.0 946.8l0.1 1.0M387.3 941.1l1.3 0.9M400.8 967.8l-0.4 0.9M411.3 925.0l-1.9 0.2M352.9 979.7l-1.6 1.5M375.2 927.7l-1.3 0.3M472.5 991.6l-0.7 2.3M382.3 953.7l-1.0 1.3M525.9 897.2l0.5 2.1M451.6 885.1l-0.3 0.7M435.0 1003.5l-1.3 0.3M441.0 974.0l0.8 0.6M440.5 876.2l0.9 1.0M468.7 914.5l-2.1 0.4M438.4 900.2l0.7 0.5M530.8 994.1l-1.7 0.6M519.5 881.4l-1.0 0.7M360.7 892.6l1.0 0.7M392.2 955.4l-0.2 1.3M423.1 970.9l0.8 1.3M376.2 939.1l-0.3 1.7M361.1 978.8l-1.0 0.2M428.2 966.5l2.2 0.9M465.5 912.0l-1.0 1.5M507.1 947.2l0.3 1.8M429.7 922.6l-0.4 1.0M419.4 1006.9l1.4 1.9M531.8 988.9l0.3 1.0M488.1 986.6l-0.8 1.1M424.5 941.5l0.4 1.6M477.8 956.6l-0.2 0.6M449.0 933.5l1.8 1.3M407.2 951.7l-0.2 1.2M399.4 946.4l-0.9 0.0M437.6 926.5l-0.8 0.9M376.1 947.2l1.6 0.9M486.6 915.4l-1.3 0.4M523.9 1004.7l-0.1 1.8M340.7 943.2l-0.2 1.7M412.9 975.6l2.3 0.3M368.2 974.8l-2.0 0.8M503.4 942.0l2.0 0.8M370.7 965.6l1.4 0.6M395.8 937.6l-0.8 1.4M537.2 938.2l-0.4 0.8M484.6 990.9l0.6 0.6M469.4 923.9l-0.2 2.2M397.9 909.3l-1.6 0.3M389.0 926.4l-1.1 1.8M376.9 955.8l-0.4 1.2M392.7 895.9l0.0 1.1M364.4 876.2l1.9 0.2M520.8 943.5l0.6 0.5M489.9 1006.6l0.9 0.7M439.3 924.9l0.9 1.8M468.5 903.2l-1.2 0.6M356.6 931.6l-0.3 0.8M378.8 886.4l2.0 1.3M426.2 966.5l1.4 0.9M506.5 877.1l-0.4 0.6M354.4 892.4l0.9 1.4M491.5 986.3l-1.5 1.0M375.4 1003.7l0.7 1.2M350.8 901.2l0.9 0.3M405.9 891.6l0.0 1.4M516.5 923.7l-1.5 1.7M408.1 926.7l-1.2 0.7M510.6 985.0l1.4 0.7M516.7 978.6l-2.4 0.4M410.2 889.4l2.0 1.1M504.7 996.1l0.7 1.3M457.5 887.7l-0.4 0.5M517.7 905.9l-0.7 0.4M531.7 1000.4l-1.9 0.8M513.1 872.5l-0.2 0.9M513.7 954.4l0.8 0.3M417.7 1003.4l0.6 0.4M410.8 992.3l1.1 1.7M432.3 886.5l-0.5 1.5M502.3 889.1l-1.2 0.2M377.7 936.4l-0.9 1.5M496.8 907.8l-0.4 0.7M401.0 917.1l-1.3 1.9M345.3 932.7l-1.1 1.6M529.4 923.0l-1.9 0.7M484.4 957.4l-2.4 0.2M438.9 999.2l0.9 1.6M364.9 974.4l1.1 0.6M467.1 967.4l-0.4 1.2M452.4 984.4l1.5 1.7M531.8 909.6l0.7 0.6M526.1 982.3l-0.6 1.4M402.5 963.2l-0.6 0.9M488.0 965.7l-1.7 0.4M406.9 963.1l-0.2 0.9M474.1 878.0l-0.9 0.5M528.4 942.4l-1.3 0.4M534.4 966.3l-1.2 0.5M496.8 889.3l1.2 1.7M534.1 930.8l0.6 1.9M339.4 917.1l1.6 1.0M382.9 888.9l-1.5 0.1M416.1 934.9l-1.0 0.1M475.3 890.0l-1.4 1.9M499.9 963.1l1.3 1.0M518.2 896.7l0.5 0.5M397.2 968.2l-2.2 0.2M448.2 874.1l-0.9 0.6M341.9 945.8l0.3 1.0M358.1 985.0l0.0 0.7M507.1 967.5l-1.5 0.5M425.3 907.2l-0.4 1.2M424.7 871.4l0.4 1.2M418.6 871.0l-0.2 1.5M359.3 887.3l0.7 0.1M349.1 990.7l-1.6 1.1M513.8 926.0l0.5 1.1M342.5 982.6l0.1 1.7M502.2 896.5l2.1 0.6M515.8 884.1l0.7 1.2M357.2 952.8l-0.4 2.1M449.2 891.7l1.7 1.0M357.1 1005.4l0.5 1.9M351.8 983.0l-1.0 0.7M402.8 974.5l1.2 0.4M394.0 879.2l1.1 0.8M412.0 928.9l0.0 1.0M522.7 987.1l1.8 0.5M421.5 897.6l0.3 1.7M412.3 945.4l1.4 0.0M477.4 1004.9l-0.7 0.6M359.3 975.1l-1.1 0.6M479.2 945.5l1.4 0.7M529.3 960.6l-1.5 0.1M355.2 957.4l-1.1 0.4M438.9 982.3l1.4 1.0M418.4 886.5l-0.4 0.7M540.5 928.3l0.6 2.3M366.4 907.9l-0.7 0.1M532.8 904.5l0.3 1.7M361.0 924.0l0.2 0.6M373.0 1002.3l0.1 0.6M498.9 896.1l-0.7 1.3M524.2 948.6l0.2 1.6M421.8 906.1l-0.4 0.8M419.0 876.0l-0.9 0.9M479.9 937.2l-0.3 1.1M357.9 910.8l-0.9 1.5M414.1 995.0l-1.4 0.4M353.2 929.0l-1.6 1.3M388.5 992.7l-1.4 1.6M369.2 959.5l1.0 0.8M352.9 1002.9l0.5 2.1M429.1 949.9l-0.7 0.0M399.4 953.3l1.1 1.0M533.8 939.1l0.1 1.6M427.3 953.2l1.5 0.6M466.9 978.7l-1.5 1.6M513.2 912.7l-1.4 0.0M475.5 927.6l1.0 0.7M344.0 974.4l1.6 1.1M398.5 992.5l-1.2 0.0M383.8 974.1l0.3 0.7M376.4 968.8l-0.0 1.1M499.5 922.7l0.9 0.7M374.2 974.0l-1.3 0.5M470.3 1006.3l-1.4 1.1M540.7 879.4l0.1 1.0M406.3 990.3l-0.5 0.6M526.5 875.2l0.2 1.3M537.9 933.9l0.3 1.9M493.9 987.7l-0.4 0.6M380.8 877.5l-1.4 0.7M352.8 901.0l0.6 0.6M370.0 995.0l0.4 0.8M541.9 912.3l0.9 1.2M460.2 959.6l0.5 0.8M507.6 993.0l-0.7 0.3M362.6 931.0l-0.3 2.1M423.0 979.4l-0.3 2.3M459.7 873.7l0.6 1.4M418.9 949.5l0.6 1.0M371.9 917.6l1.0 0.7M532.5 923.6l-0.9 2.0M517.3 923.3l-1.7 0.4M400.8 995.4l-1.1 1.0M414.7 972.6l0.8 2.2M379.6 923.7l1.2 0.2M458.9 891.0l0.6 0.7M352.2 888.1l-1.4 1.5M363.2 991.8l0.4 0.9M361.3 978.8l1.7 0.9M453.6 941.2l-1.6 1.6M524.9 987.9l1.0 1.3M342.1 915.0l0.6 1.6M471.2 886.4l0.7 0.1M399.8 874.0l-1.1 1.9M409.3 937.3l-0.6 0.8M515.1 889.9l0.8 0.9M372.4 928.1l1.1 0.0M440.4 881.3l-0.8 2.0M510.5 903.4l-1.5 1.0M522.0 991.1l-0.3 0.8M429.4 993.7l1.5 1.7M407.7 977.1l1.1 1.0M444.2 884.9l-0.3 0.5M368.3 926.0l-1.2 0.5M361.0 956.6l1.7 0.2M358.8 959.9l0.7 0.4M394.3 896.5l-0.0 0.8M421.3 936.6l-1.8 0.9M391.1 896.7l0.8 1.7M502.6 899.8l0.3 1.0M372.1 965.5l2.0 0.2M392.9 908.7l0.8 0.1M525.8 906.1l-1.2 0.1M416.6 871.2l1.7 0.8M440.3 969.9l-0.0 0.8M482.4 997.2l2.1 1.0M528.1 889.2l-0.1 1.6M350.5 885.6l2.4 0.2M399.4 983.5l-0.9 0.0M420.2 884.1l-0.2 1.2M418.4 971.2l-1.9 1.1M426.2 922.9l0.4 1.1M350.7 892.5l-1.6 0.7M511.5 993.8l0.1 1.8M387.3 880.4l1.9 0.4M411.1 883.7l1.2 1.2M493.0 871.8l0.5 0.9M365.2 977.9l0.8 0.4M513.6 939.1l0.1 2.2M382.3 1004.8l2.3 0.0M359.1 962.0l-0.5 0.8M353.7 958.4l-0.5 1.1M529.7 914.4l0.8 0.6M396.6 887.8l-1.0 1.7M532.5 922.4l-2.1 0.1M437.6 963.2l-0.7 0.1M396.4 934.6l-1.1 0.1M346.4 880.1l1.4 1.5M515.2 931.1l-0.2 1.2M495.0 939.0l-1.4 0.9M374.5 976.7l0.5 0.4M529.1 885.2l0.1 0.9M429.0 889.2l1.1 0.2M457.5 936.4l2.2 0.7M367.2 883.4l1.4 1.1M433.1 877.6l0.8 2.2M401.3 912.8l0.4 2.3M418.7 875.4l-0.9 0.4M470.5 879.2l-1.5 0.2M409.2 988.3l-0.1 2.3M346.1 974.5l1.1 0.5M412.3 960.6l0.3 1.5M388.6 888.1l-0.8 0.2M538.6 873.5l-0.8 1.0M435.4 994.6l0.8 1.8M382.7 969.2l1.0 1.9M404.3 922.0l1.7 0.5M523.4 963.1l1.0 2.2M402.8 939.6l-0.4 0.5M397.1 953.8l-1.6 0.9M431.0 987.2l-0.8 0.4M522.6 985.2l0.4 0.4M497.2 990.2l-0.1 0.8M384.3 1006.8l0.7 0.3M345.1 943.8l0.6 2.1M376.9 891.0l0.8 1.0M412.1 989.3l1.0 1.4M513.9 914.7l0.9 1.3M374.4 913.0l0.2 1.7M537.7 917.0l1.7 0.4M372.2 879.7l0.7 0.4M412.9 1007.1l-0.0 0.8M448.0 932.8l-0.4 0.7M394.6 894.9l0.8 0.9M394.9 971.3l0.3 2.3M426.2 987.4l0.8 1.2M400.3 943.5l0.9 1.1M380.7 980.7l0.7 0.1M421.9 912.7l-0.0 0.7M403.1 977.7l0.7 0.0M529.0 935.0l0.6 0.7M455.5 983.4l-0.8 1.9M442.4 884.1l1.8 0.3M386.6 884.9l1.1 1.3M466.6 948.4l-1.2 1.0M536.3 948.5l0.5 0.3M478.4 986.7l-1.4 1.1M368.0 870.6l-1.4 0.9M489.4 998.4l1.1 1.1M431.9 927.7l-1.1 0.0M363.5 883.0l0.2 0.7M439.5 975.9l-1.5 0.7M437.3 979.8l-1.7 1.5M488.9 1002.8l1.0 0.9M501.6 971.9l-1.1 1.6M519.8 936.0l-0.6 0.5M420.1 887.4l0.1 0.9M516.6 875.7l-0.5 1.5M386.9 872.8l-1.5 0.3M525.6 908.4l-0.7 1.5M340.9 940.8l-0.4 2.3M379.8 917.0l1.5 1.3M386.1 958.3l1.7 0.6M541.9 940.2l-1.1 1.1M368.6 930.8l-0.8 1.2M391.8 899.7l0.1 2.2M348.2 895.0l0.8 1.1M450.6 984.1l-0.6 0.5M537.5 934.2l-0.3 1.3M479.5 900.9l1.4 0.1M409.3 970.6l-0.8 1.7M377.9 938.1l-1.9 0.6M534.4 977.9l-0.7 1.1M463.7 907.5l1.4 0.3M510.2 870.8l2.0 1.1M528.1 915.4l1.9 0.7M444.6 951.8l-1.7 0.2M380.7 968.7l-0.9 0.1M510.5 997.4l0.1 1.0M366.1 941.0l-1.2 1.2M381.5 886.6l0.7 2.0M349.7 917.9l-0.1 0.7M401.3 871.3l-1.0 1.1M460.8 926.9l0.7 1.2M368.0 909.3l0.8 0.2M380.8 921.0l1.5 0.6M503.0 898.8l-0.8 0.2M366.7 897.7l-0.7 0.6M354.1 966.0l0.8 0.9M400.8 929.7l1.4 1.5M494.7 874.1l0.7 1.3M417.6 872.8l-0.4 0.7M343.5 1006.7l-1.0 0.6M387.5 947.3l1.0 0.1M371.8 953.1l1.1 0.5M407.4 933.1l0.6 0.4M500.3 993.2l-1.1 1.4M519.9 943.3l0.0 1.3M514.7 900.8l1.8 0.8M385.2 946.4l2.4 0.3M378.8 994.5l-0.4 1.2M497.8 966.6l0.7 0.4M455.3 957.6l0.9 0.6M367.6 873.3l0.5 0.4M348.1 919.5l2.3 0.0M510.9 904.2l0.0 0.6M538.1 998.4l-0.2 1.1M397.0 899.2l-0.5 2.3M393.1 957.3l1.9 0.5M382.5 900.1l-0.9 0.7M462.2 875.8l0.6 1.8M529.0 995.3l-2.1 0.1M402.1 963.8l-0.6 0.6M354.6 995.3l1.8 0.8M517.8 980.8l1.2 0.7M473.0 908.9l-0.2 0.9M356.6 925.2l-0.1 1.3M366.8 918.3l0.2 0.6M451.1 928.8l-0.6 0.4M529.1 869.6l-0.2 0.8M354.2 968.4l1.2 0.0M446.4 958.0l-0.7 1.1M367.6 968.8l-1.1 0.4M509.6 891.5l1.2 0.7M436.3 978.8l1.0 0.6M518.9 871.6l-1.7 0.9M402.2 936.9l0.6 0.4M511.0 910.7l-0.7 1.4M353.5 915.8l-0.4 1.9M536.5 955.3l1.3 0.3M370.0 909.0l-0.7 1.4M391.5 913.5l-0.9 0.3M350.4 908.5l-0.9 1.5M350.6 925.4l0.0 1.7M396.4 926.6l0.6 0.1M374.6 887.6l-0.5 1.2M497.2 885.1l-0.4 2.1M452.6 955.8l-1.1 1.1M393.4 1001.4l-1.3 1.3M368.6 911.1l-0.6 0.6M454.0 970.4l0.8 0.0M457.5 976.7l1.5 1.1M371.2 995.3l-1.5 0.9M485.4 920.5l1.2 0.6M389.2 921.3l1.4 0.1M484.4 994.1l1.5 1.0M433.4 1006.0l-0.3 1.7M468.0 958.8l-2.0 0.9M368.4 895.4l-0.1 2.0M419.8 943.2l0.5 1.6M370.9 930.6l1.2 1.0M476.4 897.0l0.9 1.9M408.0 890.1l1.9 0.3M456.6 880.3l0.4 0.8M446.3 936.9l-0.7 1.8M515.7 911.1l-1.3 0.1M457.8 900.8l-0.0 0.9M452.6 907.2l-0.0 1.1M350.5 904.8l0.2 2.2M440.0 894.0l-0.7 0.1M394.4 873.4l-0.7 0.5M353.1 948.6l-1.9 1.0M376.8 908.2l-1.0 1.7M486.5 930.0l-0.3 0.5M378.5 987.8l-0.8 0.1M392.6 953.0l-0.8 0.1M530.2 948.1l0.4 0.5M539.6 875.2l1.2 1.3M374.8 915.8l-0.5 2.1M348.7 915.0l1.5 0.5M507.1 939.6l-0.6 0.7M370.2 950.2l1.0 1.5M371.3 898.1l-0.6 1.7M479.7 920.6l-1.1 1.0M462.7 992.8l-2.1 0.3M482.5 888.5l-0.1 0.9M372.3 947.3l-1.4 0.9M536.9 870.7l0.6 0.9M528.4 990.5l1.5 0.2M537.8 880.8l-1.9 0.5M357.9 918.0l1.0 0.7M487.5 979.2l-0.1 1.0M524.3 933.1l-0.2 0.6M365.0 897.4l-0.7 0.4M499.0 984.9l0.3 0.5M359.9 974.7l0.6 0.1M362.4 991.7l0.6 1.6M517.5 943.1l-1.3 0.1M499.7 880.1l-0.1 1.2M411.1 882.6l0.0 0.7M473.8 888.8l-1.0 1.2M403.3 918.8l0.7 0.1M465.0 879.5l1.6 0.0M411.5 965.1l1.4 0.2M343.0 942.6l-1.5 1.6M469.8 965.8l2.3 0.6M388.5 940.1l0.2 1.1M534.7 982.1l1.7 1.6M495.0 876.6l-0.5 2.1M386.6 882.7l-0.2 0.8M405.1 869.2l1.5 0.9M523.1 876.1l0.6 1.4M484.8 878.5l1.1 0.2M462.9 895.8l1.4 0.9M402.7 948.8l0.8 0.2M389.0 993.3l0.1 1.3M531.0 886.4l1.2 0.1M533.8 949.3l1.4 1.5M375.9 914.2l1.1 1.7M353.6 894.3l-0.5 2.1M520.6 994.0l1.2 1.5M426.6 886.6l0.7 1.3M508.3 930.0l-0.7 2.2M424.6 935.1l-0.1 0.9M390.8 903.1l-0.5 0.4M411.0 911.3l-0.8 1.7M541.8 875.4l0.1 1.3M341.2 980.6l-0.8 0.3M488.8 870.6l-0.0 1.6M434.0 938.0l-0.1 2.1M519.8 974.5l1.1 0.3M466.1 1004.3l-1.8 0.0M489.6 920.3l0.3 0.6M400.6 937.2l-0.7 2.3M428.8 878.1l-0.8 0.2M349.2 944.8l0.6 1.6M388.0 964.8l1.7 0.5M509.3 879.7l-0.1 0.8M448.9 875.6l-1.9 0.4M358.8 985.4l-1.5 1.6M456.9 993.2l-1.0 0.2M534.0 966.6l1.9 1.2M422.7 894.1l0.1 0.8M403.4 923.6l-1.4 1.5M441.2 935.4l1.1 0.8M455.1 869.4l0.2 1.3M436.5 870.8l-0.4 0.5M434.9 997.6l-1.2 1.1M487.0 873.4l0.3 2.3M350.4 917.6l1.5 0.2M531.8 898.6l0.3 1.3M422.3 893.0l-0.9 0.1M447.7 886.1l-0.6 0.6M416.4 964.5l-1.1 0.7M410.6 888.5l1.5 1.0M404.9 985.3l-1.0 1.5M444.5 984.5l2.1 0.7M420.6 936.4l-0.4 0.8M486.7 944.5l-0.7 0.6M409.9 931.5l0.6 1.6M391.6 917.4l-1.5 0.5M439.3 936.6l0.2 1.0M453.7 909.4l-0.9 0.5M428.5 915.7l1.8 1.3M402.4 1001.0l0.7 1.6M359.4 951.5l-0.4 1.4M487.9 877.5l0.6 0.2M369.5 949.1l1.1 1.5M477.2 956.2l-2.3 0.4M476.9 996.4l0.6 0.2M345.9 948.6l0.7 1.7M382.0 895.1l0.7 0.7M346.8 953.6l-1.6 0.9M370.5 913.7l1.3 0.4M459.3 955.1l0.7 0.7M433.6 914.5l0.3 0.6M372.8 975.5l-0.0 1.6M408.5 903.9l-1.1 0.7M480.5 928.8l0.6 0.9M471.4 958.8l-0.2 1.5M370.3 916.0l-1.1 1.1M468.1 942.1l1.2 0.1M522.9 903.1l0.6 1.7M400.5 886.2l0.6 1.4M454.0 883.7l-1.4 0.4M355.6 875.6l-0.8 0.7M463.9 980.6l-0.6 2.2M352.3 982.7l-1.6 1.7M356.6 880.2l0.3 1.8M408.3 1003.5l1.7 0.2M387.3 900.6l0.8 0.5M352.5 892.8l0.7 1.5M425.5 1006.9l-1.5 1.5M457.6 967.4l0.8 2.1M439.1 985.3l0.6 0.0M349.7 958.4l-1.8 1.4M342.9 1006.4l1.6 0.9M388.8 889.2l-0.6 0.2M538.0 922.2l0.2 0.7M453.6 902.9l1.5 1.9M481.4 983.7l1.2 0.2M372.9 949.8l-0.5 0.9M472.4 965.6l-2.0 0.3M355.8 957.5l-0.8 1.8M339.4 919.6l0.2 1.4M441.4 1001.8l-1.3 0.0M384.8 914.6l-1.9 0.6M364.4 902.5l-1.2 0.6M388.1 899.9l-0.5 0.7M416.5 918.8l-0.8 0.9M363.7 915.7l0.6 0.2M350.6 931.0l0.7 0.7M434.5 929.7l-1.2 0.2M511.4 1006.1l-1.3 0.4M377.2 877.0l0.4 0.8M515.6 890.2l-1.0 0.1M519.5 926.2l-0.9 1.2M506.1 894.2l0.8 1.9M491.5 881.4l-0.3 1.8M491.9 898.2l1.4 1.1M400.4 890.3l1.0 0.4M469.3 896.4l-1.3 1.1M417.7 967.0l-0.6 0.4M340.3 1002.7l0.8 2.0M339.4 947.0l-1.3 0.8M469.2 918.2l0.4 0.7M428.2 873.9l0.8 1.2M433.2 886.3l-0.2 2.0M465.6 998.4l-2.2 0.4M370.4 910.0l-1.9 0.6M348.1 1003.2l-1.3 1.1M347.8 939.4l-0.9 0.4M349.3 916.2l-1.7 0.0M398.0 913.3l0.5 2.0M499.4 954.4l-0.4 0.6M492.1 908.6l0.2 0.8M497.6 950.5l1.1 1.4M499.1 997.1l0.4 2.1M512.4 950.5l-0.9 0.4M385.0 891.8l0.8 2.2M536.5 910.2l-0.7 0.7M387.5 962.0l-0.1 0.7M541.5 887.0l1.3 1.3M450.2 990.2l1.1 0.1M408.3 924.5l-0.2 0.7M532.9 912.0l2.0 0.7M353.7 888.6l0.5 1.3M517.2 969.3l-1.0 1.7M506.3 884.9l-0.1 1.4M383.1 946.8l2.3 0.2M353.7 1005.9l-0.1 1.9M438.5 984.8l-0.7 0.8M434.2 954.8l1.4 0.6M530.1 928.3l-1.0 1.6M458.2 902.2l0.1 2.0M404.7 964.3l1.6 0.4M472.0 962.6l-2.2 0.8M344.3 933.3l-1.8 1.0M464.3 980.1l1.6 1.2M459.4 947.8l0.6 0.9M420.4 873.2l0.5 0.4M534.1 946.0l-0.6 1.6M366.8 918.5l0.2 1.5M531.8 976.7l-1.4 1.4M357.3 990.8l-0.0 1.3M502.8 975.3l1.8 0.3M525.4 992.5l0.5 1.0M340.8 904.2l-0.7 0.6M496.5 939.9l0.4 1.2M351.5 995.2l-1.0 0.4M475.7 876.5l0.7 0.9M345.3 915.1l-1.9 1.0M415.3 984.9l1.8 1.0M536.7 872.5l1.2 0.5M470.5 903.6l-0.3 1.2M460.7 949.0l0.7 0.2M397.7 953.4l-1.1 0.8M484.4 917.3l-0.7 0.3M514.3 892.7l-0.6 1.7M461.6 989.2l-1.0 0.9M383.2 917.2l-1.2 1.6M396.1 871.5l0.7 1.1M384.8 936.7l-0.4 1.1M406.2 880.1l-0.1 0.7M504.9 992.7l1.3 0.2M468.6 877.8l-1.2 1.3M528.2 1004.9l1.0 1.1M433.4 914.0l0.0 0.6M444.6 977.7l-0.7 0.4M510.3 1005.3l-1.9 0.1M533.8 884.6l1.0 0.7M427.7 924.2l-0.4 1.5M338.8 918.1l0.7 0.3M340.7 997.8l1.3 0.4M373.2 975.2l-1.4 1.0M346.4 989.6l-1.4 0.9M469.9 921.7l-0.9 0.2M448.4 979.3l0.1 0.9M373.6 870.0l0.2 2.3M422.5 959.1l-0.4 0.6M490.5 900.5l-1.1 1.4M458.0 901.6l0.2 0.8M476.0 907.9l-1.1 0.5M408.0 1004.6l-1.5 1.5M341.2 889.5l-0.7 0.0M479.1 893.6l0.8 2.0M474.2 979.4l1.1 0.9M383.4 957.0l-0.7 0.5M467.6 957.1l0.4 1.4M457.3 978.6l-0.1 1.9M361.3 951.1l-0.9 1.0M496.7 988.0l-0.6 0.4M343.6 917.9l1.0 0.7M352.0 976.8l-1.0 0.1M524.5 917.3l0.7 1.6M481.7 883.6l0.9 0.6M539.5 916.6l-0.6 0.5M484.0 995.0l-1.4 0.2M351.2 875.2l0.0 1.1M412.0 873.3l-0.5 0.9M357.0 918.0l0.7 1.8M424.1 909.1l-0.1 0.7M386.1 932.7l0.3 0.8M478.1 963.8l-1.4 0.4M411.2 910.4l-0.3 0.7M415.8 877.0l1.0 1.1M433.3 899.6l-1.0 1.4M510.1 989.2l-0.3 0.5M487.3 954.9l0.2 1.2M454.9 957.7l-0.6 2.3M479.2 934.4l1.8 1.1M466.3 983.3l1.8 1.2M360.8 998.6l-0.4 0.6M518.3 980.9l1.6 0.0M521.5 987.7l-1.4 0.8M365.0 979.0l0.2 1.0M376.3 875.5l1.5 0.8M407.8 909.6l0.6 1.6M382.6 953.1l1.7 0.4M525.5 877.7l0.4 0.8M339.5 994.9l1.2 1.7M357.4 914.1l0.6 1.7M438.8 972.4l-1.4 0.4M358.5 997.7l1.0 0.1M381.7 912.5l-1.3 0.9M372.3 924.5l1.1 1.1M385.1 958.3l-1.2 0.7M343.1 929.8l-0.2 0.6M359.7 875.2l-0.2 0.7M413.0 959.1l0.9 0.2M528.5 897.1l0.5 1.3M456.4 945.7l-0.9 1.4M479.7 936.1l0.8 0.6M362.3 992.7l0.4 0.7M357.8 926.5l-1.8 1.2M404.0 908.2l0.5 0.4M482.4 924.9l-1.5 1.3M472.4 993.8l-0.3 1.8M396.6 884.4l-0.7 0.0M435.3 877.4l-0.6 0.4M457.3 965.4l1.7 0.8M516.2 979.5l-0.3 0.5M466.5 887.8l-0.5 0.8M390.8 974.6l1.4 0.4M390.1 904.6l0.3 1.2M459.7 935.3l2.1 0.9M428.9 951.3l-0.2 0.6M499.0 984.1l2.0 1.3M383.5 955.5l-0.0 1.9M507.8 970.4l-2.1 0.7M339.8 882.7l0.6 0.4M524.2 949.6l1.2 0.5M369.1 910.8l-0.4 1.5M451.7 934.8l-0.7 1.2M408.8 895.3l-0.6 0.7M475.7 944.1l-2.1 0.7M528.2 932.4l-0.2 1.8M510.4 972.1l-1.3 0.3M523.3 892.8l1.3 1.4M376.1 898.2l0.7 0.6M431.7 888.7l1.0 0.2M518.5 914.8l-1.1 2.0M388.7 878.7l1.5 0.1M392.1 990.3l-0.4 1.1M380.7 957.3l0.2 0.9M445.8 936.2l-1.7 0.7M338.8 910.0l-0.8 0.1M371.8 965.1l-1.2 1.7M434.4 945.1l-1.6 0.1M364.6 896.4l1.2 0.6M426.7 950.8l0.1 2.1M483.5 934.5l0.9 0.3M444.5 1004.3l-0.3 0.8M414.9 932.3l-0.2 0.7M518.3 884.9l-0.9 0.5M345.5 996.4l-1.2 1.2M407.8 874.2l1.3 1.4M434.8 872.1l-0.3 0.7M507.8 924.2l-0.0 0.7M435.4 992.0l1.7 1.5M372.7 891.8l0.0 1.6M391.2 932.2l2.2 0.8M356.3 956.9l0.3 0.6M374.9 930.6l0.8 0.3M358.9 873.9l-1.6 0.8M417.1 1002.4l-2.1 0.4M429.2 869.4l2.0 0.9M424.0 909.9l-0.9 1.4M528.1 890.8l-1.0 0.6M486.6 994.4l-1.0 0.5M521.3 918.8l0.7 1.1M404.0 954.7l1.3 0.7M465.1 995.1l-0.4 1.6M513.6 907.9l-0.0 1.9M339.5 881.9l1.7 0.9M487.7 972.3l0.8 0.1M460.0 896.1l0.6 1.4M425.5 985.6l0.9 0.2M519.9 974.5l1.8 0.4M339.2 899.5l0.5 1.7M399.8 932.8l-1.5 1.1M491.9 956.4l0.5 1.3M480.6 872.6l1.0 0.3M425.3 906.6l0.9 1.7M444.6 1002.0l1.1 1.8M401.9 973.4l1.7 1.4M341.3 872.2l-0.1 1.0M363.3 918.6l0.9 0.9M524.7 980.7l1.9 1.0M357.5 926.1l-0.2 2.1M529.8 876.4l-0.7 1.9M495.9 975.1l-0.3 2.4M357.0 896.1l-0.2 1.2M533.7 938.9l0.7 0.2M350.7 941.3l-0.1 2.3M352.8 1000.8l1.1 2.0M530.1 896.9l0.0 0.7M388.5 973.5l2.0 0.2M445.6 974.5l1.1 0.6M410.9 893.8l1.1 0.5M515.4 995.3l2.2 0.6M365.7 907.2l1.2 0.7M369.2 914.5l-0.7 1.4M353.8 980.7l-0.0 1.9M436.8 914.1l-0.3 1.2M437.0 878.0l0.1 2.4M481.7 922.6l1.0 0.1M509.9 878.8l-1.3 0.4M371.1 996.2l-0.4 1.5M379.2 925.3l-1.5 1.5M400.4 871.1l-0.6 0.5M391.0 937.5l-0.9 1.0M464.2 908.7l2.0 0.4M431.0 922.4l-0.2 1.0M370.7 909.3l-1.7 0.7M512.6 1004.9l-0.9 0.2M373.2 938.5l1.6 1.1M533.6 944.9l0.5 0.6M411.5 878.0l-1.5 0.9M422.7 909.3l0.6 0.3M359.0 890.2l-0.9 0.2M426.5 886.5l-0.4 0.7M538.6 935.8l-1.0 1.9M447.1 986.8l-1.6 1.3M423.1 951.7l-1.0 0.0M501.0 986.0l-1.9 0.4M443.4 945.6l1.6 1.2M389.4 975.8l-1.1 1.9M489.3 929.5l-0.3 2.3M419.6 882.0l1.4 0.9M353.6 896.1l0.6 0.9M537.6 907.2l1.1 1.5M513.0 953.8l-0.6 1.7M375.2 963.3l-1.7 0.2M494.6 998.6l0.6 2.2M532.3 950.6l-0.1 1.8M528.1 918.8l-1.9 0.4M490.4 927.9l-0.3 2.2M423.0 871.9l-0.6 1.2M502.8 1001.0l-0.5 0.6M372.7 891.8l-0.6 0.6M444.8 942.7l-0.4 1.0M497.6 982.1l0.5 0.5M380.4 941.8l-0.4 0.9M531.0 961.4l-0.7 0.7M520.2 980.6l-0.8 1.4M397.6 889.5l0.9 1.2M396.4 885.6l-1.6 0.4M483.7 873.6l0.8 0.4M338.5 993.1l-0.8 1.6M374.7 909.0l0.8 1.0M504.8 950.3l0.5 0.8M348.5 999.2l-2.1 0.1M394.6 959.9l0.9 0.6M355.1 992.6l-2.1 0.8M502.6 874.9l-1.2 0.2M489.9 1000.5l-0.4 1.4M428.1 941.9l-1.4 0.2M488.3 913.8l0.8 1.2M491.2 987.0l-1.4 1.2M433.4 1003.2l-0.1 2.3M432.2 942.2l1.1 2.0M474.8 972.8l0.7 0.5M403.0 996.3l0.7 1.1M496.6 993.9l0.6 0.0M396.3 905.4l-1.6 0.2M347.5 928.2l0.4 1.8M347.7 987.2l0.7 0.9M417.2 880.9l2.1 0.2M399.4 1003.1l-1.4 1.8M363.3 899.4l-2.2 0.6M540.0 898.0l-0.2 2.2M352.1 889.3l1.3 1.1M360.2 966.6l0.6 0.1M457.1 877.4l-0.5 1.7M401.8 946.5l0.4 1.8M392.1 942.5l2.2 0.2M514.1 870.3l-0.2 2.3M440.3 896.9l-2.4 0.2M433.9 882.4l-0.7 0.5M384.6 965.3l-0.2 0.7M385.5 977.5l1.2 0.6M350.3 901.2l-0.5 1.3M517.5 869.4l1.4 1.4M352.5 870.8l1.5 0.1M384.0 876.2l0.3 2.1M407.8 967.1l-1.9 1.1M536.3 911.9l0.4 1.3M454.8 873.9l-0.4 0.8M373.0 990.9l-1.4 0.2M405.3 887.9l0.5 1.4M369.2 949.3l-0.2 0.8M462.4 968.6l1.6 1.1M381.5 894.8l-0.1 1.4M426.1 918.2l-2.0 1.2M460.2 877.9l1.1 0.7M491.4 883.0l0.0 0.6M402.2 982.1l-1.2 2.0M476.8 957.2l1.1 0.4M422.0 888.0l-1.4 0.2M472.5 891.2l-0.0 1.6M473.9 974.0l1.6 0.1M493.8 987.6l0.2 0.7M402.8 940.7l0.3 0.7M382.6 994.9l1.0 0.7M347.0 900.7l0.1 1.5M532.1 935.9l-1.2 0.3M492.7 896.6l-0.5 0.7M423.1 986.4l1.9 0.8M492.5 932.6l-1.5 1.3M375.5 919.8l-1.5 0.4M475.7 912.7l0.3 0.7M386.3 962.0l0.6 1.7M404.3 968.4l1.5 0.9M516.5 900.8l0.2 1.8M352.3 881.1l-1.4 0.2M450.1 1000.5l1.5 1.3M507.1 883.5l0.4 0.5M355.4 949.4l-1.2 0.6M344.9 930.3l1.5 1.4M371.5 923.7l2.2 0.9M355.7 978.7l0.9 0.3M430.0 883.1l-0.6 0.7M444.8 871.6l-0.3 0.7M371.3 995.1l1.3 1.4M461.9 978.2l-0.2 0.6M366.4 992.8l1.7 0.4M342.3 1000.2l1.7 0.3M471.2 899.0l-0.6 0.3M373.3 993.4l0.1 1.4M539.8 890.7l-0.6 0.7M384.8 881.4l-0.8 1.0M483.6 889.3l-2.0 1.2M364.1 935.5l0.8 0.7M475.9 943.4l-1.2 1.4M452.6 976.3l-1.3 1.4M503.3 889.3l-0.9 1.1M507.4 871.1l-1.4 1.2M368.8 965.8l0.4 1.2M429.1 891.8l1.1 0.1M367.9 978.6l-0.7 0.3M530.3 1002.6l-0.7 1.3M523.6 871.1l-1.3 0.6M463.2 885.1l2.0 1.4M438.1 957.1l-0.3 1.5M395.5 982.8l-0.7 0.9M516.1 941.2l-0.9 1.7M382.1 881.4l-1.1 0.9M384.4 921.0l0.7 0.0M445.8 982.0l1.4 0.4M355.1 879.8l-1.2 2.0M452.9 1002.7l1.0 0.7M340.6 880.9l0.5 2.3M512.9 885.1l1.9 0.8M391.3 913.4l0.2 1.6M423.1 925.2l0.3 0.5M413.6 891.8l0.9 1.0M426.2 926.1l1.3 0.4M389.8 936.6l-0.0 1.3M495.5 880.8l-0.8 2.0M440.9 934.5l-0.9 1.5M439.7 917.8l0.8 1.2M497.7 975.7l0.7 0.2M504.4 947.7l-0.3 2.2M412.5 919.9l-1.0 0.1M460.0 986.3l-0.9 0.6M339.9 911.3l0.6 0.4M500.1 921.5l-2.2 0.9M487.6 871.3l-1.1 0.5M370.2 971.8l1.5 0.1M383.1 881.0l-1.2 0.8M524.0 1006.2l0.4 0.4M540.5 949.9l0.7 1.0M514.6 952.2l1.6 1.0M428.9 895.5l-1.4 0.0M341.7 955.2l0.3 1.1M413.3 944.4l0.2 1.6M414.9 962.5l1.1 1.7M339.5 888.3l-0.4 1.3M425.6 937.8l-0.5 0.7M365.5 952.1l0.1 0.6M364.6 871.5l0.8 0.5M533.8 969.4l-1.6 1.6M472.8 976.4l-0.5 2.1M392.9 1004.0l0.4 1.0M402.5 941.1l-0.2 0.7M437.8 897.0l1.2 0.3M392.0 929.3l-0.1 0.6M430.0 976.9l-0.3 1.1M457.5 874.3l0.2 2.2M445.8 984.9l1.3 0.5M539.7 875.0l-0.4 0.9M381.0 985.6l-0.9 0.3M503.3 945.9l2.0 1.2M397.7 1004.4l0.5 0.5M400.7 971.2l-0.8 0.8M413.4 921.4l-1.9 0.5M429.3 930.7l2.3 0.2M346.3 894.5l-0.7 1.1M467.2 1002.4l1.2 0.0M525.8 963.8l-0.6 0.1M355.1 928.0l-1.5 1.9M502.8 993.6l0.6 1.3M497.2 980.7l-0.3 2.1M519.2 905.4l0.5 1.1M424.6 897.0l-1.4 0.7M455.9 988.3l-0.2 1.2M507.4 1000.1l-1.6 0.9M513.5 974.6l-0.5 0.5M387.8 912.9l-1.3 0.7M379.4 959.9l-0.8 2.2M375.7 911.7l-1.4 1.6M351.1 895.4l-0.4 1.1M517.5 1006.1l-1.3 0.5M350.5 904.1l0.7 0.6M350.8 937.1l0.2 1.2M458.7 916.9l-0.5 2.3M530.8 972.9l0.7 0.7M449.3 899.5l0.9 2.1M405.8 996.1l0.4 0.5M488.7 877.1l2.0 0.6M445.9 956.0l2.0 0.3M384.0 883.8l1.3 1.5M372.7 878.7l-1.5 1.1M536.7 979.4l0.7 0.7M361.0 1003.4l0.8 1.2M398.4 959.3l-2.2 0.7M469.7 964.2l0.6 0.6M415.8 959.9l-0.8 0.0M405.2 925.4l-0.7 0.3M497.7 947.6l-1.3 1.9M536.3 987.4l1.7 1.0M359.3 929.3l-1.6 0.7M482.8 963.9l0.8 0.4M450.0 944.0l-0.9 1.1M502.2 911.0l0.6 0.3M480.7 883.3l1.8 0.2M445.3 900.9l-0.2 1.1M386.8 933.3l-2.1 0.0M406.3 946.9l0.4 1.2M350.2 919.7l0.8 0.6M347.7 954.4l0.6 1.0M450.7 935.0l0.7 0.7M375.7 903.3l-2.0 0.4M354.5 904.9l-0.7 0.3M375.9 942.5l0.9 1.7M392.4 974.0l0.8 1.9M433.6 990.7l0.1 1.7M423.2 980.6l1.0 1.8M517.1 886.5l0.4 1.3M485.5 977.2l-0.7 0.2M527.6 987.6l-0.2 1.4M498.4 951.7l0.7 1.6M342.3 910.4l-1.2 0.0M486.4 891.2l0.1 0.9M483.3 1003.7l-0.6 0.6M434.4 895.0l-1.7 0.7M446.7 991.0l0.7 0.7M345.5 903.5l-0.6 0.7M511.8 925.7l0.7 0.6M424.1 961.0l-0.8 0.8M367.6 985.8l0.1 1.3M525.4 990.2l1.0 0.2M439.1 991.1l-1.0 0.4M387.7 987.1l1.3 1.6M510.7 968.5l0.9 0.2M369.2 957.6l-0.7 0.2M471.1 921.4l-1.5 0.0M351.9 879.0l-0.1 1.1M423.6 975.5l-1.0 1.8M452.7 964.4l1.6 0.3M387.6 892.5l0.9 0.5M403.9 894.4l-0.5 0.4M338.9 906.8l1.6 0.4M377.9 967.6l-0.8 1.2M390.3 892.5l0.1 0.9M463.4 997.5l2.1 0.9M409.9 885.5l0.4 1.5M365.0 891.9l0.1 1.8M340.1 934.9l1.3 0.7M402.8 872.0l-0.7 1.5M393.8 889.2l-0.8 1.2M510.2 927.4l0.5 0.7M370.0 933.3l0.7 0.1M534.2 926.8l0.9 0.8M404.2 966.2l0.0 0.9M541.4 946.0l-0.4 0.8M486.1 950.6l-1.0 1.6M450.2 904.5l-0.5 1.9M406.9 916.7l-0.4 0.7M422.0 962.0l0.3 1.9M460.7 950.6l-0.2 0.8M405.4 892.0l-0.9 1.9M428.2 996.7l0.8 0.7M540.7 894.4l1.8 0.8M532.0 924.1l-0.5 1.7M410.2 875.3l0.3 0.9M412.5 990.1l0.4 1.4M502.9 882.4l0.7 0.4M386.2 876.2l-0.5 0.9M371.2 903.0l1.6 0.4M510.9 969.9l-0.9 0.7M403.7 897.5l-0.6 0.3M374.1 916.6l0.9 0.6M533.7 976.3l2.0 0.1M358.0 977.2l-1.5 0.6M448.5 947.9l1.4 0.6M343.3 910.1l2.2 0.2M498.6 1000.5l0.8 0.8M470.6 963.9l0.3 0.7M364.6 905.9l-0.3 1.5M340.7 993.1l0.4 1.3M360.3 942.1l0.7 1.4M541.2 995.4l0.6 0.8M420.1 914.4l-1.5 0.4M413.4 927.1l0.1 1.4M510.4 1005.2l1.5 1.3M504.1 964.9l1.7 0.4M459.9 968.6l2.2 0.6M378.2 914.9l-0.9 1.2M397.5 916.6l-0.6 1.0M481.5 889.4l2.2 0.4M381.2 958.1l-0.8 1.6M485.1 920.5l0.9 0.0M456.3 967.5l0.5 0.6M344.0 968.1l0.2 0.9M505.9 972.5l-2.0 0.1M482.0 877.9l1.0 0.0M435.1 876.7l0.1 2.1M465.0 912.0l-0.8 1.9M430.9 917.4l-0.6 1.6M491.4 973.3l-0.4 1.0M433.0 879.2l0.0 0.8M530.5 876.5l-0.6 2.0M513.5 955.1l0.7 0.3M387.5 969.4l0.6 2.3M392.4 900.2l1.9 1.1M397.5 952.1l1.7 1.0M352.3 935.3l-1.1 1.7M465.4 975.0l0.6 0.1M529.7 872.3l1.2 1.4M537.2 929.0l1.1 0.5M418.4 883.7l2.3 0.5M371.6 1002.6l0.1 0.6M375.1 902.3l1.1 0.6M426.8 913.0l1.3 0.9M472.9 944.8l-0.3 0.9M530.2 934.3l0.1 1.4M365.3 941.8l1.6 0.3M475.3 896.5l0.2 1.1M384.0 942.1l1.9 1.5M397.3 913.0l0.5 1.9M458.2 894.9l0.6 0.1M378.9 940.5l0.6 0.3M449.5 878.5l-1.7 0.9M468.4 952.0l-1.7 0.3M397.8 908.6l0.7 0.5M498.7 987.8l-0.5 1.3M374.9 945.0l1.6 0.3M473.5 960.3l1.0 1.2M356.9 994.7l2.3 0.6M339.0 970.5l-0.9 1.6M381.8 966.8l1.3 0.5M461.5 877.4l-0.6 2.2M448.7 884.8l0.8 0.5M350.4 932.8l1.1 0.9M526.6 896.3l-0.8 1.8M412.4 938.6l-1.1 1.4M406.2 948.3l0.5 2.3M528.8 894.2l-0.6 0.7M397.3 940.2l0.1 0.7M363.5 960.6l1.9 1.3M358.2 967.4l-1.0 0.2M485.9 887.8l-1.1 1.5M370.9 871.5l-0.5 0.9M508.0 982.7l2.2 0.1M462.6 993.7l-0.3 2.0M496.4 931.7l0.8 0.7M499.1 1005.0l-0.1 2.1M350.8 937.4l0.7 1.0M446.3 945.9l-1.0 0.1M428.8 900.2l1.1 1.7M374.7 932.6l-0.7 0.3M376.7 918.6l-2.3 0.6M399.0 1004.8l1.0 0.1M384.3 995.1l1.9 1.4M383.3 952.5l-1.6 1.1M516.8 925.0l-1.7 0.9M398.2 916.1l0.9 1.2M423.8 897.5l-0.0 0.7M474.1 902.8l1.2 0.2M526.4 896.5l0.5 0.5M480.6 1005.6l0.5 2.2M345.0 945.5l1.5 0.5M515.1 903.3l1.0 0.9M352.2 924.3l-0.1 2.3M389.9 885.1l-0.3 1.1M389.1 942.3l-1.3 1.5M350.3 924.5l0.9 0.5M349.6 907.3l-2.2 0.7M497.2 883.5l1.7 0.2M510.9 996.2l0.7 0.6M397.0 1005.4l-0.1 1.2M373.5 958.9l0.5 0.9M351.5 944.2l-0.4 2.0M374.5 987.9l-1.9 1.5M433.7 870.4l0.6 0.8M507.1 950.2l0.1 1.6M384.0 936.3l0.8 1.4M419.9 942.0l-0.0 0.9M434.5 975.1l-1.0 0.8M417.0 977.6l0.7 1.6M381.6 885.7l1.1 1.6M533.9 909.9l0.7 0.9M437.8 932.4l-0.7 1.8M383.6 881.4l0.1 1.6M537.4 999.1l-0.7 0.2M511.9 921.4l1.6 0.3M351.8 894.4l-0.3 0.9M347.1 998.1l1.0 0.2M343.4 916.8l2.0 1.2M505.2 985.9l-2.2 0.4M508.0 908.2l-1.1 1.1M339.5 946.0l1.8 1.6M346.6 940.1l1.8 1.1M390.1 888.8l1.1 1.9M392.0 904.4l-1.9 1.2M431.0 871.8l1.6 0.3M397.6 891.1l0.7 0.5M405.8 945.4l-0.3 0.8M448.6 950.9l-0.7 2.1M418.7 887.3l2.1 0.2M461.2 960.2l1.7 0.3M430.4 999.5l1.2 0.7M353.8 983.5l-0.3 2.3M373.9 886.5l-0.7 1.7M396.6 907.1l0.3 2.0M399.3 905.8l0.8 0.3M485.4 899.6l-1.6 1.7M384.5 969.9l-0.6 0.6M347.4 914.3l0.5 0.4M352.4 969.9l1.6 1.1M361.5 963.0l1.8 0.9" stroke="#4e4892" stroke-width="2.4" stroke-linecap="round" fill="none" opacity="1"/>
<path d="M483.7 884.8l0.6 0.9M540.3 943.5l-0.0 1.3M356.0 960.5l2.2 0.6M425.4 980.6l-0.7 0.8M374.4 982.5l-1.0 1.1M405.2 921.4l0.7 1.9M501.8 898.0l0.6 0.4M492.5 1005.8l2.0 0.7M414.9 934.8l-0.9 0.9M369.4 931.1l1.6 1.2M398.2 936.6l1.5 0.2M352.0 965.1l0.7 0.4M494.8 888.3l-0.7 0.2M520.9 893.3l0.4 0.8M377.0 947.0l-2.2 0.9M506.1 871.6l0.8 0.4M413.4 926.0l-1.0 0.0M537.5 913.5l-0.3 1.5M395.9 878.9l0.4 1.8M538.6 960.6l2.2 0.3M440.0 974.3l-0.7 1.1M384.1 907.4l0.4 1.9M461.3 977.3l2.0 0.7M520.5 947.0l0.2 2.3M460.5 869.6l-0.5 1.8M346.9 923.0l-1.9 0.8M531.6 980.5l-1.1 1.0M369.2 923.0l1.6 1.6M431.7 943.8l0.6 1.2M405.6 879.4l0.7 0.8M423.4 897.0l-0.6 0.5M441.1 931.2l-0.9 1.2M421.6 906.4l-1.1 1.1M358.7 988.7l-0.1 0.9M408.2 916.8l0.7 1.5M388.0 926.8l1.5 0.2M536.6 984.5l0.6 1.5M490.6 1002.4l-1.1 0.3M465.6 995.7l0.8 0.8M435.4 933.4l-1.4 1.4M510.1 990.9l0.1 0.6M439.1 878.6l-1.9 0.8M390.5 933.4l-0.8 1.8M384.8 904.7l0.6 2.2M416.7 896.8l-0.3 0.9M444.1 906.4l-0.7 1.8M367.0 943.7l0.5 0.4M478.0 875.2l1.2 0.2M401.1 917.4l-0.3 2.0M379.6 933.6l-0.5 1.5M427.9 877.6l1.5 0.1M484.6 872.3l-2.3 0.5M341.3 887.8l-1.9 0.4M509.7 873.7l-1.4 1.3M385.1 898.1l0.6 0.6M347.5 935.9l-0.6 0.1M386.9 964.9l1.1 1.4M508.4 934.8l-0.6 0.4M424.4 921.6l-1.9 1.2M429.2 902.1l-1.2 2.1M451.7 997.3l-0.7 0.5M371.7 912.8l1.1 1.0M421.6 975.3l-1.6 0.1M437.9 895.8l-1.1 1.3M525.2 949.2l1.4 1.7M410.3 897.6l-1.4 1.7M519.2 887.3l-1.5 1.8M340.6 982.3l0.2 0.6M442.7 970.7l1.5 0.1M407.9 933.2l-0.4 0.6M483.5 981.8l2.2 0.1M379.6 952.6l-0.6 0.7M476.4 981.9l0.1 1.5M521.0 872.6l-1.3 1.2M452.0 888.5l1.8 1.2M503.7 941.0l-1.9 1.3M499.4 905.7l-0.5 1.7M503.6 872.6l-0.0 0.8M410.7 939.9l0.7 0.6M470.9 943.2l0.2 1.8M530.1 973.6l0.8 0.1M471.0 971.2l1.4 0.7M423.3 941.1l-0.6 1.1M370.2 966.5l-0.8 1.8M367.2 922.2l-1.4 0.3M407.3 958.5l0.7 2.1M421.5 884.8l0.4 2.0M384.3 891.3l0.4 1.3M405.7 871.1l-0.4 0.5M520.7 957.1l-1.5 1.2M347.6 988.8l0.1 1.1M493.7 879.6l-0.5 0.4M479.4 992.6l0.7 0.6M342.3 880.1l-0.6 0.3M368.2 1002.1l-0.8 1.6M393.5 979.4l-1.7 1.4M381.6 971.0l-0.8 0.4M353.4 904.2l-1.0 1.2M374.6 928.5l-1.2 0.1M488.6 894.9l-1.6 0.8M400.6 926.2l1.3 0.3M395.6 927.2l0.5 1.5M344.8 934.9l-0.7 0.1M377.3 929.5l0.9 1.4M424.2 962.7l-1.1 1.9M377.9 921.5l-1.2 0.1M398.1 982.1l0.2 1.9M406.1 985.3l-1.3 1.0M371.9 887.5l1.1 0.3M393.0 886.5l1.3 0.7M477.6 1003.7l0.3 1.2M465.1 975.5l1.1 1.5M372.7 927.2l1.0 0.0M480.3 956.5l0.7 1.2M535.1 895.0l0.5 0.4M385.9 884.9l-1.8 1.4M382.1 998.4l-0.5 0.5M385.3 958.8l1.1 0.7M385.0 962.2l1.4 0.7M479.5 979.9l1.8 0.7M514.5 913.5l1.2 0.9M340.1 885.4l1.7 1.0M434.5 962.4l-0.4 1.7M426.9 923.6l0.6 1.1M394.8 997.5l0.2 1.2M423.1 897.3l0.9 0.7M440.2 892.7l-1.3 0.7M371.4 985.5l1.4 0.8M352.8 892.7l1.7 0.4M388.1 936.7l1.0 0.8M541.3 893.3l-0.3 0.6M429.7 896.5l1.3 0.4M541.8 903.1l-1.2 0.1M434.1 912.5l-2.0 0.9M495.9 872.5l-0.6 0.6M392.3 918.3l1.6 0.2M403.2 970.2l-0.6 1.0M399.9 939.6l0.2 2.1M475.4 910.6l0.9 0.8M351.0 899.9l-0.4 2.0M400.1 989.3l1.0 0.6M363.8 944.6l-1.7 0.1M403.3 912.2l-0.7 0.8M493.5 887.5l-2.0 0.9M388.4 896.4l1.4 1.2M463.1 1005.8l1.1 1.3M348.6 935.4l0.3 0.9M419.5 895.3l0.9 0.1M344.0 991.8l-1.9 1.3M397.6 886.0l1.1 2.1M491.6 981.2l1.5 1.2M478.1 1005.2l1.6 1.4M407.5 916.8l-0.5 2.1M429.0 913.1l-0.0 1.4M382.9 967.5l-1.1 2.1M374.2 904.3l1.4 1.8M349.5 953.6l2.1 0.3M363.6 973.9l-0.8 0.1M354.9 1000.8l-0.4 1.3M367.4 906.5l-2.0 0.3M475.8 1005.4l1.0 1.1M392.1 905.6l-1.4 0.3M418.1 936.0l-0.5 0.5M399.0 887.4l-0.8 0.2M372.8 957.7l-1.0 1.1M541.6 946.7l0.6 1.1M426.9 999.8l0.8 1.3M398.1 993.3l0.2 0.8M400.6 973.9l-1.7 0.5M412.7 890.7l-0.2 1.2M523.5 873.2l0.6 1.0M355.2 925.6l1.5 1.7M399.3 908.3l-1.6 0.7M435.5 891.2l-0.6 1.6M405.0 922.2l0.5 0.8M428.6 875.3l1.3 1.5M468.0 998.2l0.4 2.3M533.6 875.9l1.9 0.7M390.7 913.1l-0.3 2.3M460.6 978.4l1.4 0.1M499.8 912.7l0.9 2.1M384.5 872.6l1.8 1.1M539.1 974.4l-0.8 1.0M346.2 987.9l1.0 2.0M539.1 892.7l1.2 0.6M393.4 886.3l-1.7 0.6M354.4 980.4l-0.3 0.7M430.5 959.7l0.5 0.4M390.9 902.6l1.6 0.3M371.2 882.0l-0.8 0.0M443.6 916.1l2.1 0.4M356.6 902.0l1.5 0.8M529.0 899.6l-0.9 0.8M476.8 893.0l-0.5 1.9M435.9 875.9l0.0 1.2M380.5 938.2l-0.7 0.0M434.0 955.9l0.5 2.0M356.1 950.8l-0.3 1.8M355.0 980.5l0.9 0.2M359.8 908.8l-1.9 0.6M427.6 885.5l-1.3 1.2M365.8 920.1l0.9 1.7M541.6 916.5l-0.7 0.2M417.7 940.8l1.0 2.1M500.8 929.7l-1.0 1.0M452.9 894.6l0.1 0.7M346.3 901.6l-2.0 0.8M452.9 897.5l0.4 1.7M491.2 971.8l-0.7 1.1M418.7 890.3l-0.7 0.8M339.6 913.3l-0.1 0.8M412.4 892.6l1.4 0.6M509.4 949.0l-1.0 0.5M413.1 887.6l-0.5 0.9M401.5 882.2l0.9 1.0M513.3 874.1l-2.2 0.0M416.1 926.2l-1.2 1.5M483.0 922.1l1.2 0.7M350.5 885.6l-0.9 1.1M404.8 936.5l-1.0 0.3M444.2 969.2l-0.8 1.8M354.5 894.4l0.7 0.9M448.0 891.9l-0.0 0.9M457.7 936.4l0.1 2.2M386.5 941.6l1.2 1.6M464.4 1006.2l-0.4 0.5M367.4 884.3l-1.5 0.1M460.8 968.1l-0.1 1.1M369.4 898.4l-1.4 1.0M407.7 949.9l-0.7 2.0M505.7 996.5l0.5 1.3M447.2 914.8l-2.1 0.0M364.6 1002.8l-1.4 0.9M400.2 894.7l0.9 1.2M406.3 939.2l0.6 0.8M418.6 965.1l1.0 0.9M430.7 910.5l-1.1 1.3M450.4 988.6l-0.2 2.2M495.3 885.1l0.2 0.7M339.9 899.8l0.0 1.3M456.1 886.0l-0.6 1.7M391.8 978.1l-1.1 1.0M439.7 917.7l-0.9 2.0M356.4 992.6l-0.9 0.3M434.5 946.4l0.6 0.3M385.2 927.3l-0.7 1.4M375.8 971.9l1.3 1.9M432.7 912.6l-1.8 0.2M345.3 881.2l0.3 1.2M368.7 936.7l0.9 1.4M522.3 916.4l-0.7 1.6M469.3 873.1l1.5 0.4M351.2 953.6l-0.5 0.5M539.9 893.6l1.9 0.3M391.5 894.4l1.3 1.0M423.9 911.5l-1.3 1.7M411.4 919.0l0.1 1.7M366.7 980.2l-0.4 1.0M513.3 929.8l-2.1 0.1M367.7 896.2l-1.4 0.3M364.0 890.5l-0.3 0.8M467.7 990.5l-0.5 2.0M379.6 886.9l-0.8 0.8M350.5 940.6l0.8 0.9M376.9 994.5l1.0 1.4M461.3 969.3l1.4 0.7M525.3 985.8l-0.7 0.2M526.9 953.2l-2.2 0.4M466.1 931.2l1.7 1.4M534.6 916.4l-1.7 0.2M419.0 889.8l0.1 0.8M359.2 980.6l0.6 0.7M347.3 964.8l1.0 1.9M365.9 937.1l0.2 1.2M392.6 996.6l-0.3 0.9M422.2 894.5l-0.1 2.2M414.4 930.5l0.1 1.5M446.0 971.4l-1.9 1.4M351.7 953.2l-1.5 0.2M469.1 935.7l1.0 1.2M499.9 876.3l-1.5 0.8M378.2 889.4l-1.7 0.8M372.4 929.7l-1.3 1.0M517.0 978.8l-0.7 1.4M418.4 893.3l0.2 1.0M395.9 877.1l-1.8 0.7M348.3 922.4l-1.1 0.8M490.7 1001.3l-0.6 2.0M342.2 887.0l-0.8 0.0M420.0 985.4l0.9 0.5M491.0 982.1l0.2 0.7M371.6 995.4l2.0 0.6M386.1 909.0l-0.8 2.1M519.0 970.8l-0.8 1.5M530.0 986.0l-0.4 0.9M523.8 948.9l1.9 0.4M356.2 903.2l-1.8 1.1M357.9 914.5l-1.2 0.9M370.0 951.7l-1.1 1.9M359.1 878.8l-0.2 0.7M472.8 995.2l-0.2 2.3M529.9 997.3l1.1 1.9M463.8 881.7l1.9 0.5M445.4 883.9l1.8 1.3M391.1 881.5l1.0 0.5M343.6 900.0l2.0 0.3M512.7 878.6l-0.3 0.6M484.9 910.7l0.5 1.5M502.4 904.7l0.7 0.2M513.8 871.0l0.1 2.4M406.8 873.8l-0.4 1.4M432.8 1006.6l-0.8 2.1M500.6 876.4l0.4 1.8M424.8 892.1l-0.6 1.3M383.5 978.0l1.4 1.7M375.6 948.7l-0.6 0.1M347.5 885.5l1.8 0.8M513.9 894.6l-1.0 1.1M361.9 937.7l0.6 0.9M436.4 964.0l1.1 1.7M440.4 892.6l-0.2 1.0M400.0 871.3l0.7 2.1M410.8 938.2l-2.4 0.3M484.7 968.5l-1.0 0.0M539.7 939.6l-0.6 0.9M529.6 889.8l-0.7 0.1M449.6 877.9l1.9 0.7M400.2 979.0l0.4 0.8M493.5 990.1l-1.8 0.2M426.2 907.2l1.1 2.0M379.7 910.4l0.7 2.3M359.8 903.8l0.5 0.9M383.6 926.7l-1.1 0.4M435.1 885.1l-1.7 0.1M502.4 980.8l1.5 0.9M533.4 888.4l0.9 0.1M347.7 878.5l-1.9 0.4M496.9 995.3l2.0 0.3M366.7 964.1l0.8 0.1M539.1 941.6l-0.3 1.5M363.2 966.2l-0.0 1.5M368.0 920.6l-1.0 0.0M389.5 927.7l-0.2 2.1M347.8 922.4l-0.5 0.9M513.3 892.9l-0.2 2.3M482.1 1004.8l1.1 1.3M498.9 905.8l-1.3 0.2M371.7 953.9l-0.3 1.4M385.6 955.0l1.2 0.4M442.7 918.7l-0.3 0.6M518.6 895.9l-0.4 0.5M414.8 954.4l0.6 1.4M372.4 929.1l0.1 0.9M442.5 991.3l1.5 0.2M385.7 979.7l0.7 0.7M388.9 963.1l-0.7 0.2M410.2 961.2l0.5 0.5M436.9 975.2l-0.2 2.3M459.0 956.6l0.3 1.0M370.6 916.5l-2.2 0.6M368.2 938.8l0.0 0.7M380.1 942.9l-0.0 1.6M356.4 984.4l0.8 0.5M344.0 905.1l-1.3 1.1M511.5 907.1l-1.3 0.8M500.5 887.9l-0.5 1.2M375.9 925.6l-0.4 1.3M403.5 916.0l-1.6 0.5M390.5 879.3l-0.9 2.1M395.0 881.6l2.3 0.5M530.7 925.3l-0.6 2.3M362.5 902.5l0.9 0.3M487.1 930.3l-0.7 1.7M439.8 909.4l-1.5 0.6M358.9 940.9l-2.1 1.1M485.6 870.3l0.5 0.4M368.8 938.7l-0.2 1.8M419.7 892.2l-0.8 0.9M516.6 1003.4l-2.3 0.4M454.4 950.1l2.0 0.7M486.6 939.1l-0.9 0.5M346.2 906.6l-0.8 2.0M343.9 921.0l-0.8 1.3M531.7 956.1l-1.6 0.0M372.8 921.9l-1.0 1.3M352.9 905.1l0.2 1.0M465.5 885.3l-1.1 0.5M393.9 984.3l1.7 1.3M365.7 969.9l1.0 0.5M375.6 1001.4l0.2 1.1M496.5 971.3l-1.3 1.3M460.1 897.2l-0.6 0.2M488.1 1000.0l-0.8 1.8M364.1 946.4l-0.9 2.0M385.4 938.7l-0.4 1.1M342.3 1001.5l-0.9 0.5M477.5 929.6l-1.2 1.8M393.2 958.9l0.8 0.9M338.7 918.7l-1.1 1.8M399.9 952.7l-0.6 2.0" stroke="#3a366e" stroke-width="2.2" stroke-linecap="round" fill="none" opacity="1"/>
<path d="M342.6 933.1l-1.2 0.6M370.3 879.9l0.8 0.6M513.5 903.3l-1.1 0.6M481.9 974.3l-0.2 1.9M447.3 914.5l2.2 0.3M497.0 903.7l-2.0 1.9M419.8 954.0l-1.1 1.3M398.4 912.4l1.0 0.9M397.3 877.4l-1.3 1.5M529.7 951.9l-2.7 0.4M359.6 943.2l1.2 2.1M475.7 985.5l1.2 1.2M367.2 949.9l-0.5 1.0M475.2 988.2l-2.1 0.6M414.4 921.2l-0.4 1.4M528.2 930.3l-1.8 1.0M534.1 893.4l-1.1 0.1M416.7 883.7l1.3 0.0M478.3 997.3l-1.0 0.3M402.4 886.9l2.6 1.2M428.9 884.6l-1.5 0.7M391.6 896.8l-0.2 1.4M343.8 891.6l-2.5 1.0M416.5 949.1l1.3 0.7M443.1 905.8l2.6 1.1M529.8 875.3l1.9 0.2M378.6 963.1l0.5 1.0M349.2 913.5l2.2 1.5M448.7 950.2l-0.6 1.9M400.6 950.9l-1.6 0.1M445.3 914.6l1.0 2.4M416.2 928.4l-0.6 1.6M373.0 919.1l-1.8 2.1M390.9 906.0l-0.0 1.5M541.7 885.5l0.8 1.4M420.5 942.5l0.7 1.5M534.3 905.2l-2.0 2.1M512.5 897.2l-1.1 0.1M341.6 942.6l1.4 1.1M390.0 946.4l-0.7 1.9M511.4 948.8l1.4 0.1M428.3 878.5l0.1 1.1M408.8 888.1l1.7 2.3M392.6 905.1l-0.7 2.9M351.4 960.7l-1.4 1.8M508.3 962.0l2.2 1.3M376.3 907.8l-1.7 0.2M410.9 917.8l-1.6 1.2M489.8 924.4l2.3 1.9M429.5 917.9l-0.1 1.5M415.9 999.5l0.5 1.0M351.9 929.5l-1.6 2.3M351.4 903.6l2.4 1.6M363.4 903.8l0.5 2.4M399.9 922.7l-1.3 0.6M349.9 985.1l2.9 0.9M500.6 978.2l1.4 0.5M480.8 908.1l0.8 0.9M475.1 956.3l1.1 2.5M411.7 932.3l-1.3 0.4M430.6 984.6l2.4 1.6M483.0 916.5l-0.0 2.2M477.5 909.1l-0.8 0.7M504.8 952.1l-2.1 0.0M342.8 908.4l1.7 0.6M528.3 982.0l0.3 2.9M452.8 960.9l-0.8 2.2M471.5 1004.0l1.2 0.0M503.3 890.9l-2.0 1.8M439.2 902.1l0.8 2.1M541.2 937.1l-0.5 0.9M468.4 912.2l1.8 0.8M407.3 962.6l1.6 1.1M433.9 989.1l-1.1 0.2M527.0 904.1l-1.5 0.6M464.8 977.5l-1.9 0.1M422.3 883.9l1.0 2.2M541.3 974.1l1.9 0.7M371.7 931.2l-2.0 0.5M344.3 982.8l0.4 2.7M525.0 878.7l-1.0 2.1M401.4 907.3l1.1 1.0M461.5 899.3l-1.6 1.3M526.3 877.3l-2.4 1.4M354.3 1006.9l1.1 1.8M363.7 968.8l-0.3 2.3M456.9 878.8l-1.8 1.3M359.8 935.6l-2.3 0.2M384.9 922.3l1.5 1.3M379.0 903.8l-1.6 1.6M374.6 958.1l-1.6 0.0M395.5 955.5l-0.8 2.6M347.3 871.8l1.2 0.8M387.6 885.6l2.1 1.6M439.3 965.0l2.9 0.1M418.8 908.8l2.3 0.3M441.1 874.3l-0.9 2.5M362.3 977.7l0.9 1.9M374.4 917.2l-1.1 1.6M368.3 902.9l-1.1 0.6M410.8 884.0l2.7 0.0M497.7 941.1l-1.8 0.7M355.6 1000.4l1.2 0.6M363.5 878.3l-0.6 1.8M445.2 971.2l-1.6 0.9M428.4 981.3l1.4 1.3M426.9 909.9l-2.1 2.1M349.4 925.4l-0.6 1.2M347.1 968.8l1.2 1.3M460.8 921.6l2.1 0.1M483.9 997.4l-0.9 1.4M356.4 931.6l-1.4 0.7M367.0 906.9l-1.5 0.2M369.0 958.3l-2.0 2.1M535.2 897.1l1.9 0.4M393.9 990.6l-0.4 1.1M477.8 919.7l-0.2 1.5M340.0 1004.9l0.8 0.8M518.3 939.4l0.4 1.3M345.2 908.4l-1.3 0.4M401.3 926.4l0.7 1.4M498.1 874.2l2.3 1.7M468.5 969.7l1.7 2.3M468.1 954.9l1.5 1.5M465.4 889.9l-0.1 2.4M526.7 983.6l-1.8 1.4M454.1 922.5l2.9 0.2M352.3 984.3l0.5 1.7M451.4 936.1l-1.1 0.8M517.7 905.7l-0.1 1.4M441.2 871.8l-2.5 0.4M536.0 887.3l-2.9 0.2M498.1 877.0l1.3 0.5M424.4 892.4l1.4 1.3M365.1 909.3l1.3 0.9M530.2 957.5l-0.0 1.7M376.1 900.7l1.0 1.0M542.0 1007.1l-0.3 2.7M377.7 913.0l0.6 0.9M407.3 884.9l-0.2 1.2M455.1 919.7l1.5 2.4M529.7 987.9l-1.2 2.7M423.8 873.9l-0.2 1.9M418.5 988.9l1.6 2.2M389.0 921.9l0.1 1.1M444.2 887.4l0.7 1.8M528.5 944.9l2.6 0.5M449.0 915.9l-0.2 1.3M520.2 905.1l-1.4 0.4M380.6 974.5l-1.7 0.7" stroke="#2a2430" stroke-width="1.8" stroke-linecap="round" fill="none" opacity="1"/>
<path d="M458.8 929.8l0.3 0.4M360.7 911.0l0.3 0.9M451.7 942.1l1.4 0.3M420.1 991.0l-0.6 0.7M479.3 870.2l0.1 0.3M519.0 887.0l0.8 0.1M345.7 977.5l1.4 0.3M396.4 904.9l-0.0 0.4M451.7 892.2l0.4 0.4M375.1 959.0l-0.3 0.3M444.4 962.0l0.3 0.5M539.7 898.6l0.5 0.2M401.2 895.9l0.0 0.5M533.7 969.9l0.8 1.0M386.1 932.8l-0.6 0.4M378.8 891.1l-1.1 0.4M387.2 917.1l0.2 0.6M520.8 936.6l0.5 0.2M454.2 917.3l-0.8 0.2M513.0 929.3l-0.4 0.2M468.8 884.2l-0.8 1.2M506.4 943.6l0.4 1.0M348.6 958.5l0.9 1.0M528.1 1001.7l0.7 0.8M493.6 979.5l1.3 0.3M393.4 869.4l-0.5 0.9M459.0 958.0l0.6 0.1M436.4 941.8l1.3 0.3M432.0 942.8l0.8 0.1M534.1 932.1l0.6 1.1M509.2 914.5l-0.2 0.6M456.4 896.0l0.4 0.3M535.4 992.7l-0.5 0.1M339.9 887.2l-0.5 0.1M406.4 869.4l0.5 0.8M383.9 982.7l-0.8 0.9M462.3 875.7l-0.4 0.2M413.5 977.4l1.3 0.2M352.5 930.8l-0.2 0.4M345.7 925.3l-0.4 1.3M459.2 974.8l-0.4 0.5M411.6 883.4l-0.2 1.1M464.0 897.1l-1.2 0.3M527.8 976.1l-0.4 0.1M517.3 894.6l0.8 0.0M531.8 989.9l0.4 0.2M376.3 930.2l0.7 0.7M504.4 995.9l-1.4 0.1M536.6 901.4l0.3 0.3M499.7 1007.1l-0.1 0.7M513.4 874.5l0.3 0.7M469.2 929.4l-0.4 0.2M492.3 886.4l0.5 0.2M464.5 876.1l-1.2 0.2M493.2 989.3l0.3 1.4M377.4 889.4l-0.9 0.6M497.4 1005.6l-0.1 0.8M349.7 945.0l-0.2 0.9M347.4 992.7l-1.1 0.6M480.7 874.7l0.4 0.1M420.7 920.4l1.2 0.9M470.2 953.4l0.2 0.6M365.5 877.8l0.5 1.1M339.0 906.1l-0.5 0.1M338.4 912.8l-0.1 0.4M346.7 962.9l-0.3 1.0M393.3 879.3l-0.9 1.2M532.2 959.7l0.6 0.8M455.1 939.2l0.9 0.1M462.5 1003.9l0.0 0.5M447.0 900.6l-0.8 0.4M445.4 1001.2l-1.3 0.2M394.6 908.2l-0.3 0.1M496.5 880.4l-0.7 0.8M484.1 906.2l-0.3 0.8M426.2 936.2l0.3 0.4M455.3 876.2l0.6 0.7M432.1 963.5l0.4 0.2M352.3 889.3l-0.8 0.1M365.4 898.2l0.1 0.4M342.9 897.1l-0.1 1.3M530.1 944.6l0.3 0.3M530.1 874.2l0.4 0.1M428.3 916.2l0.3 0.4M494.1 908.4l1.0 1.0M449.8 906.6l0.0 0.4M381.6 982.5l0.1 0.7M370.3 907.4l-0.8 0.4M396.3 877.0l-0.8 0.8M490.1 971.9l0.6 0.1M418.6 886.4l-0.0 0.3M432.8 920.1l0.7 1.0M397.0 873.7l-0.3 0.1M431.6 904.4l-1.3 0.6M387.3 890.9l-0.2 0.4M414.3 992.5l-0.6 1.0M446.4 871.2l-0.0 0.9M379.6 977.9l0.3 0.0M363.9 965.6l-1.0 0.5M347.7 1005.1l0.4 0.7M474.1 953.1l-0.9 0.2M342.4 947.3l-1.1 0.8M521.0 995.6l0.3 0.8M439.3 877.1l0.9 1.2M486.0 890.9l-0.5 0.8M405.6 993.5l0.6 0.5M421.9 1005.3l0.2 0.4M352.3 937.2l-0.0 0.4M392.3 939.5l0.6 0.3M414.2 902.8l-1.2 0.8M531.0 883.3l-1.2 0.4M518.0 940.1l-0.2 0.5M494.5 992.5l-0.2 1.1M344.4 891.4l0.8 0.5M501.9 910.1l0.7 1.3M447.7 982.3l-0.6 0.5M428.1 923.8l0.6 0.4M445.0 910.6l0.2 0.3M528.6 976.0l-0.7 0.7M413.4 883.5l0.3 0.4M490.4 921.5l-0.6 0.1M380.8 911.0l0.6 0.7M350.6 936.7l-0.4 0.0M437.8 893.6l-1.0 0.2M392.7 975.2l0.2 0.8M437.6 959.1l-0.5 1.1M449.4 892.2l-0.9 1.1M452.6 927.6l-0.9 1.2M369.2 876.4l0.5 1.2M490.2 877.5l0.1 0.7M436.5 888.0l-0.9 1.1M392.3 882.6l1.2 0.2M388.6 880.8l-0.7 1.3M388.3 925.4l-1.1 1.0M455.1 893.8l0.2 1.3M463.2 907.5l0.8 0.9M344.7 973.4l-0.7 0.2M494.0 888.0l0.3 0.9M489.3 1005.6l0.8 0.9M482.9 907.4l-0.8 0.2M374.1 874.7l-0.1 1.2M414.9 964.7l-0.3 0.8M454.4 954.8l-0.2 0.3M395.1 964.4l-0.4 0.7M417.3 889.8l-0.6 1.1M516.6 949.0l0.4 0.2M421.6 945.5l-0.6 0.2M433.0 906.0l-0.6 0.3M505.3 879.7l0.6 0.5M514.5 998.7l-0.3 0.2M512.6 906.6l-0.3 0.2M362.5 951.5l0.5 0.8M419.2 948.5l-1.3 0.1M476.0 881.5l0.5 0.5M482.6 967.1l-0.9 0.4M494.2 922.0l-0.8 0.9M415.5 971.0l-0.8 1.0M473.9 1002.1l-0.0 0.3M386.6 886.8l-0.8 0.5M396.1 947.3l0.7 0.1M487.0 952.7l0.1 0.5M495.6 961.3l0.9 0.5M529.1 884.4l-0.1 1.1M540.4 994.8l1.4 0.2M469.0 879.4l0.4 0.4M444.8 953.5l-1.3 0.3M455.0 888.6l0.3 0.3M506.3 907.4l-0.0 0.7M468.4 907.9l-0.8 0.9M370.4 902.2l-0.2 1.0M475.1 900.3l-0.4 1.3M392.5 942.8l0.2 0.2M443.2 945.6l-0.6 0.6M343.5 923.3l-1.1 0.6M466.1 993.1l-0.5 1.0M401.5 995.9l1.0 0.6M397.9 998.0l-0.4 0.2M366.1 872.2l1.3 0.8M343.3 925.8l-0.1 1.4M423.9 873.2l1.0 0.5" stroke="#e8e6f2" stroke-width="2.5" stroke-linecap="round" fill="none" opacity="0.8"/>
<ellipse cx="420.2" cy="927.5" rx="3.5" ry="3.9" fill="#f8f8fa" opacity="0.9" filter="url(#hb2)"/><ellipse cx="428.2" cy="932.8" rx="3.0" ry="3.3" fill="#f8f8fa" opacity="0.9" filter="url(#hb2)"/><ellipse cx="436.2" cy="954.3" rx="3.0" ry="3.3" fill="#f8f8fa" opacity="0.9" filter="url(#hb2)"/><ellipse cx="460.2" cy="944.9" rx="3.5" ry="3.9" fill="#f8f8fa" opacity="0.9" filter="url(#hb2)"/><ellipse cx="464.2" cy="908.7" rx="3.0" ry="3.3" fill="#f8f8fa" opacity="0.9" filter="url(#hb2)"/><ellipse cx="484.1" cy="918.1" rx="3.5" ry="3.9" fill="#f8f8fa" opacity="0.9" filter="url(#hb2)"/><ellipse cx="524.0" cy="954.3" rx="3.0" ry="3.3" fill="#f8f8fa" opacity="0.9" filter="url(#hb2)"/><ellipse cx="530.0" cy="898.0" rx="3.0" ry="3.3" fill="#f8f8fa" opacity="0.9" filter="url(#hb2)"/><ellipse cx="516.0" cy="894.0" rx="3.0" ry="3.3" fill="#f8f8fa" opacity="0.9" filter="url(#hb2)"/><ellipse cx="450.2" cy="887.3" rx="2.5" ry="2.8" fill="#f8f8fa" opacity="0.9" filter="url(#hb2)"/><ellipse cx="356.4" cy="965.0" rx="2.5" ry="2.8" fill="#f8f8fa" opacity="0.9" filter="url(#hb2)"/><ellipse cx="400.3" cy="891.3" rx="2.5" ry="2.8" fill="#f8f8fa" opacity="0.9" filter="url(#hb2)"/><ellipse cx="480.1" cy="951.6" rx="2.5" ry="2.8" fill="#f8f8fa" opacity="0.9" filter="url(#hb2)"/><ellipse cx="472.1" cy="927.5" rx="2.5" ry="2.8" fill="#f8f8fa" opacity="0.9" filter="url(#hb2)"/><path d="M498,955 q6,-6 10,2 q4,10 2,22 q-4,8 -10,2 q-4,-12 -2,-26z" fill="#fafafc" filter="url(#hb2)"/>
</g></g>
</g>
<g stroke="#141211" fill="none" stroke-linecap="butt">
<text transform="translate(5.91 27.60)" font-size="31.6" font-weight="bold" text-anchor="start">A</text>
<text transform="translate(3.06 256.60) scale(0.964 1.0)" font-size="31.6" font-weight="bold" text-anchor="start">B</text>
<text transform="translate(377.92 274.40) scale(0.914 1.0)" font-size="31.6" font-weight="bold" text-anchor="start">C</text>
<text transform="translate(693.59 281.60) scale(0.95 1.0)" font-size="31.6" font-weight="bold" text-anchor="start">D</text>
<text transform="translate(60.22 573.90) scale(0.936 1.0)" font-size="31.6" font-weight="bold" text-anchor="start">E</text>
<text transform="translate(60.62 829.20) scale(0.936 1.0)" font-size="31.6" font-weight="bold" text-anchor="start">F</text>
<text transform="translate(171.20 56.60) scale(1.0 1.07)" font-size="15" font-weight="bold" text-anchor="end">sh-NC</text>
<text transform="translate(171.00 133.40) scale(1.0 1.07)" font-size="15" font-weight="bold" text-anchor="end">sh-LINC01296</text>
<line x1="66.50" y1="282.60" x2="66.50" y2="466.20" stroke-width="2"/>
<line x1="65.50" y1="465.20" x2="332.90" y2="465.20" stroke-width="2"/>
<line x1="61.40" y1="465.20" x2="66.50" y2="465.20" stroke-width="2"/>
<text transform="translate(59.20 469.50) scale(1.08 1.0)" font-size="12.2" font-weight="bold" text-anchor="end">0</text>
<line x1="61.40" y1="428.88" x2="66.50" y2="428.88" stroke-width="2"/>
<text transform="translate(59.20 433.18) scale(1.08 1.0)" font-size="12.2" font-weight="bold" text-anchor="end">500</text>
<line x1="61.40" y1="392.56" x2="66.50" y2="392.56" stroke-width="2"/>
<text transform="translate(59.20 396.86) scale(1.08 1.0)" font-size="12.2" font-weight="bold" text-anchor="end">1000</text>
<line x1="61.40" y1="356.24" x2="66.50" y2="356.24" stroke-width="2"/>
<text transform="translate(59.20 360.54) scale(1.08 1.0)" font-size="12.2" font-weight="bold" text-anchor="end">1500</text>
<line x1="61.40" y1="319.92" x2="66.50" y2="319.92" stroke-width="2"/>
<text transform="translate(59.20 324.22) scale(1.08 1.0)" font-size="12.2" font-weight="bold" text-anchor="end">2000</text>
<line x1="61.40" y1="283.60" x2="66.50" y2="283.60" stroke-width="2"/>
<text transform="translate(59.20 287.90) scale(1.08 1.0)" font-size="12.2" font-weight="bold" text-anchor="end">2500</text>
<line x1="66.50" y1="465.20" x2="66.50" y2="469.80" stroke-width="2"/>
<text transform="translate(66.30 485.10) scale(1.05 1.0)" font-size="12.2" font-weight="bold" text-anchor="middle">0</text>
<line x1="101.98" y1="465.20" x2="101.98" y2="469.80" stroke-width="2"/>
<text transform="translate(101.78 485.10) scale(1.05 1.0)" font-size="12.2" font-weight="bold" text-anchor="middle">4</text>
<line x1="137.46" y1="465.20" x2="137.46" y2="469.80" stroke-width="2"/>
<text transform="translate(137.26 485.10) scale(1.05 1.0)" font-size="12.2" font-weight="bold" text-anchor="middle">8</text>
<line x1="172.94" y1="465.20" x2="172.94" y2="469.80" stroke-width="2"/>
<text transform="translate(172.74 485.10) scale(1.05 1.0)" font-size="12.2" font-weight="bold" text-anchor="middle">12</text>
<line x1="208.42" y1="465.20" x2="208.42" y2="469.80" stroke-width="2"/>
<text transform="translate(208.22 485.10) scale(1.05 1.0)" font-size="12.2" font-weight="bold" text-anchor="middle">16</text>
<line x1="243.90" y1="465.20" x2="243.90" y2="469.80" stroke-width="2"/>
<text transform="translate(243.70 485.10) scale(1.05 1.0)" font-size="12.2" font-weight="bold" text-anchor="middle">20</text>
<line x1="279.38" y1="465.20" x2="279.38" y2="469.80" stroke-width="2"/>
<text transform="translate(279.18 485.10) scale(1.05 1.0)" font-size="12.2" font-weight="bold" text-anchor="middle">24</text>
<line x1="314.86" y1="465.20" x2="314.86" y2="469.80" stroke-width="2"/>
<text transform="translate(314.66 485.10) scale(1.05 1.0)" font-size="12.2" font-weight="bold" text-anchor="middle">28</text>
<text transform="translate(119.65 506.60) scale(1.03 1.0)" font-size="14.2" font-weight="bold" text-anchor="start">Days after implantation</text>
<text transform="translate(20.6 374.2) rotate(-90)" font-size="14.9" font-weight="bold" text-anchor="middle">Tumor volumn(mm<tspan font-size="10" dy="-6.5">3</tspan><tspan dy="6.5">)</tspan></text>
<path d="M66.5,465.2 L102.0,462.2 L137.5,456.5 L172.9,448.4 L208.4,424 L243.9,396.1 L279.4,359.3 L314.9,325.8" stroke-width="2.2" fill="none"/>
<path d="M66.5,465.2 L102.0,463.8 L137.5,460.5 L172.9,454.5 L208.4,435.9 L243.9,419 L279.4,400.3 L314.9,380.2" stroke-width="2.2" fill="none"/>
<line x1="208.42" y1="418.40" x2="208.42" y2="431.80" stroke-width="1.8"/>
<line x1="205.42" y1="418.40" x2="211.42" y2="418.40" stroke-width="1.8"/>
<line x1="205.42" y1="431.80" x2="211.42" y2="431.80" stroke-width="1.8"/>
<line x1="243.90" y1="390.20" x2="243.90" y2="403.00" stroke-width="1.8"/>
<line x1="240.90" y1="390.20" x2="246.90" y2="390.20" stroke-width="1.8"/>
<line x1="240.90" y1="403.00" x2="246.90" y2="403.00" stroke-width="1.8"/>
<line x1="279.38" y1="350.90" x2="279.38" y2="366.90" stroke-width="1.8"/>
<line x1="276.38" y1="350.90" x2="282.38" y2="350.90" stroke-width="1.8"/>
<line x1="276.38" y1="366.90" x2="282.38" y2="366.90" stroke-width="1.8"/>
<line x1="314.86" y1="319.60" x2="314.86" y2="331.60" stroke-width="1.8"/>
<line x1="311.86" y1="319.60" x2="317.86" y2="319.60" stroke-width="1.8"/>
<line x1="311.86" y1="331.60" x2="317.86" y2="331.60" stroke-width="1.8"/>
<line x1="208.42" y1="428.70" x2="208.42" y2="442.00" stroke-width="1.8"/>
<line x1="205.42" y1="428.70" x2="211.42" y2="428.70" stroke-width="1.8"/>
<line x1="205.42" y1="442.00" x2="211.42" y2="442.00" stroke-width="1.8"/>
<line x1="243.90" y1="413.90" x2="243.90" y2="425.00" stroke-width="1.8"/>
<line x1="240.90" y1="413.90" x2="246.90" y2="413.90" stroke-width="1.8"/>
<line x1="240.90" y1="425.00" x2="246.90" y2="425.00" stroke-width="1.8"/>
<line x1="279.38" y1="394.00" x2="279.38" y2="406.40" stroke-width="1.8"/>
<line x1="276.38" y1="394.00" x2="282.38" y2="394.00" stroke-width="1.8"/>
<line x1="276.38" y1="406.40" x2="282.38" y2="406.40" stroke-width="1.8"/>
<line x1="314.86" y1="371.70" x2="314.86" y2="389.10" stroke-width="1.8"/>
<line x1="311.86" y1="371.70" x2="317.86" y2="371.70" stroke-width="1.8"/>
<line x1="311.86" y1="389.10" x2="317.86" y2="389.10" stroke-width="1.8"/>
<circle cx="66.5" cy="465.2" r="3.3" fill="#141211" stroke="none"/>
<circle cx="102.0" cy="462.2" r="3.3" fill="#141211" stroke="none"/>
<circle cx="137.5" cy="456.5" r="3.3" fill="#141211" stroke="none"/>
<circle cx="172.9" cy="448.4" r="3.3" fill="#141211" stroke="none"/>
<circle cx="208.4" cy="424" r="3.3" fill="#141211" stroke="none"/>
<circle cx="243.9" cy="396.1" r="3.3" fill="#141211" stroke="none"/>
<circle cx="279.4" cy="359.3" r="3.3" fill="#141211" stroke="none"/>
<circle cx="314.9" cy="325.8" r="3.3" fill="#141211" stroke="none"/>
<rect x="63.30" y="462.00" width="6.40" height="6.40" fill="#141211" stroke="none"/>
<rect x="98.78" y="460.60" width="6.40" height="6.40" fill="#141211" stroke="none"/>
<rect x="134.26" y="457.30" width="6.40" height="6.40" fill="#141211" stroke="none"/>
<rect x="169.74" y="451.30" width="6.40" height="6.40" fill="#141211" stroke="none"/>
<rect x="205.22" y="432.70" width="6.40" height="6.40" fill="#141211" stroke="none"/>
<rect x="240.70" y="415.80" width="6.40" height="6.40" fill="#141211" stroke="none"/>
<rect x="276.18" y="397.10" width="6.40" height="6.40" fill="#141211" stroke="none"/>
<rect x="311.66" y="377.00" width="6.40" height="6.40" fill="#141211" stroke="none"/>
<line x1="78.00" y1="296.50" x2="96.70" y2="296.50" stroke-width="2"/>
<circle cx="87.3" cy="296.5" r="3.2" fill="#141211" stroke="none"/>
<line x1="78.00" y1="320.90" x2="96.70" y2="320.90" stroke-width="2"/>
<rect x="84.10" y="317.70" width="6.40" height="6.40" fill="#141211" stroke="none"/>
<text transform="translate(107.30 301.30) scale(1.0 1.02)" font-size="14.2" font-weight="normal" text-anchor="start">sh-NC</text>
<text transform="translate(107.30 325.60) scale(1.0 1.02)" font-size="14.4" font-weight="normal" text-anchor="start">sh-LINC01296</text>
<path d="M324.3,326.1 L333.1,326.1 L333.1,383 L324.3,383" stroke-width="2.4" fill="none"/>
<text transform="translate(335.30 354.00) rotate(90)" font-size="14.5" font-weight="bold" text-anchor="middle">**</text>
<line x1="405.80" y1="297.25" x2="405.80" y2="480.60" stroke-width="2"/>
<line x1="404.80" y1="479.60" x2="668.00" y2="479.60" stroke-width="2"/>
<line x1="401.50" y1="479.60" x2="405.80" y2="479.60" stroke-width="2"/>
<text transform="translate(399.80 483.90) scale(1.05 1.0)" font-size="12.2" font-weight="bold" text-anchor="end">0</text>
<line x1="401.50" y1="419.15" x2="405.80" y2="419.15" stroke-width="2"/>
<text transform="translate(399.80 423.45) scale(1.05 1.0)" font-size="12.2" font-weight="bold" text-anchor="end">1</text>
<line x1="401.50" y1="358.70" x2="405.80" y2="358.70" stroke-width="2"/>
<text transform="translate(399.80 363.00) scale(1.05 1.0)" font-size="12.2" font-weight="bold" text-anchor="end">2</text>
<line x1="401.50" y1="298.25" x2="405.80" y2="298.25" stroke-width="2"/>
<text transform="translate(399.80 302.55) scale(1.05 1.0)" font-size="12.2" font-weight="bold" text-anchor="end">3</text>
<line x1="482.00" y1="479.60" x2="482.00" y2="484.50" stroke-width="2"/>
<line x1="595.30" y1="479.60" x2="595.30" y2="484.50" stroke-width="2"/>
<text transform="translate(481.50 500.00)" font-size="13" font-weight="bold" text-anchor="middle">sh-NC</text>
<text transform="translate(594.60 500.00)" font-size="13.35" font-weight="bold" text-anchor="middle">sh-LINC01296</text>
<text transform="translate(383.60 388.60) rotate(-90)" font-size="15.3" font-weight="bold" text-anchor="middle">Tumor weight(g)</text>
<rect x="444" y="347.3" width="75.8" height="47" fill="none" stroke-width="2.2"/>
<line x1="444.00" y1="375.30" x2="519.80" y2="375.30" stroke-width="2.2"/>
<line x1="482.00" y1="325.30" x2="482.00" y2="347.30" stroke-width="2.2"/>
<line x1="463.30" y1="325.30" x2="500.30" y2="325.30" stroke-width="2.4"/>
<line x1="482.00" y1="394.30" x2="482.00" y2="398.00" stroke-width="2.2"/>
<line x1="463.30" y1="398.00" x2="500.30" y2="398.00" stroke-width="2.4"/>
<rect x="556.10" y="424.10" width="78.00" height="32.20" fill="#1a1716" stroke="none"/>
<line x1="595.30" y1="420.50" x2="595.30" y2="424.10" stroke-width="2.2"/>
<line x1="576.80" y1="420.50" x2="613.90" y2="420.50" stroke-width="2.4"/>
<line x1="595.30" y1="456.30" x2="595.30" y2="461.20" stroke-width="2.2"/>
<line x1="576.80" y1="461.20" x2="613.90" y2="461.20" stroke-width="2.4"/>
<path d="M482,312 L482,290.7 L595.3,290.7 L595.3,402" stroke-width="2.4" fill="none"/>
<text transform="translate(541.80 291.60)" font-size="15" font-weight="bold" text-anchor="middle">**</text>
<line x1="751.90" y1="295.80" x2="751.90" y2="473.60" stroke-width="2"/>
<line x1="750.90" y1="472.60" x2="1015.70" y2="472.60" stroke-width="2"/>
<line x1="747.50" y1="472.60" x2="751.90" y2="472.60" stroke-width="2"/>
<text transform="translate(744.60 476.90) scale(1.05 1.0)" font-size="12.2" font-weight="bold" text-anchor="end">0.0</text>
<line x1="747.50" y1="414.00" x2="751.90" y2="414.00" stroke-width="2"/>
<text transform="translate(744.60 418.30) scale(1.05 1.0)" font-size="12.2" font-weight="bold" text-anchor="end">0.5</text>
<line x1="747.50" y1="355.40" x2="751.90" y2="355.40" stroke-width="2"/>
<text transform="translate(744.60 359.70) scale(1.05 1.0)" font-size="12.2" font-weight="bold" text-anchor="end">1.0</text>
<line x1="747.50" y1="296.80" x2="751.90" y2="296.80" stroke-width="2"/>
<text transform="translate(744.60 301.10) scale(1.05 1.0)" font-size="12.2" font-weight="bold" text-anchor="end">1.5</text>
<line x1="831.10" y1="472.60" x2="831.10" y2="477.00" stroke-width="2"/>
<line x1="936.30" y1="472.60" x2="936.30" y2="477.00" stroke-width="2"/>
<text transform="translate(830.60 491.50)" font-size="13" font-weight="bold" text-anchor="middle">sh-NC</text>
<text transform="translate(935.70 491.50)" font-size="13.35" font-weight="bold" text-anchor="middle">sh-LINC01296</text>
<text transform="translate(704.20 384.50) rotate(-90)" font-size="13.1" font-weight="bold" text-anchor="middle">Relative expression level</text>
<text transform="translate(719.60 384.60) rotate(-90)" font-size="12.6" font-weight="bold" text-anchor="middle">of LINC01296</text>
<path d="M805,472.6 L805,355.8 L857.2,355.8 L857.2,472.6" stroke-width="2.2" fill="none"/>
<rect x="908.60" y="446.10" width="55.10" height="26.50" fill="#1a1716" stroke="none"/>
<line x1="936.30" y1="435.20" x2="936.30" y2="446.10" stroke-width="2.2"/>
<line x1="923.20" y1="435.20" x2="949.30" y2="435.20" stroke-width="2.4"/>
<path d="M831.2,345.6 L831.2,328.2 L936.5,328.2 L936.5,419.8" stroke-width="2.4" fill="none"/>
<text transform="translate(883.60 329.20)" font-size="15" font-weight="bold" text-anchor="middle">*</text>
<line x1="657.90" y1="566.90" x2="657.90" y2="744.30" stroke-width="2"/>
<line x1="656.90" y1="743.30" x2="921.30" y2="743.30" stroke-width="2"/>
<line x1="653.10" y1="743.30" x2="657.90" y2="743.30" stroke-width="2"/>
<text transform="translate(650.90 747.70) scale(1.05 1.0)" font-size="12.5" font-weight="bold" text-anchor="end">0</text>
<line x1="653.10" y1="714.07" x2="657.90" y2="714.07" stroke-width="2"/>
<text transform="translate(650.90 718.47) scale(1.05 1.0)" font-size="12.5" font-weight="bold" text-anchor="end">10</text>
<line x1="653.10" y1="684.83" x2="657.90" y2="684.83" stroke-width="2"/>
<text transform="translate(650.90 689.23) scale(1.05 1.0)" font-size="12.5" font-weight="bold" text-anchor="end">20</text>
<line x1="653.10" y1="655.60" x2="657.90" y2="655.60" stroke-width="2"/>
<text transform="translate(650.90 660.00) scale(1.05 1.0)" font-size="12.5" font-weight="bold" text-anchor="end">30</text>
<line x1="653.10" y1="626.37" x2="657.90" y2="626.37" stroke-width="2"/>
<text transform="translate(650.90 630.77) scale(1.05 1.0)" font-size="12.5" font-weight="bold" text-anchor="end">40</text>
<line x1="653.10" y1="597.13" x2="657.90" y2="597.13" stroke-width="2"/>
<text transform="translate(650.90 601.53) scale(1.05 1.0)" font-size="12.5" font-weight="bold" text-anchor="end">50</text>
<line x1="653.10" y1="567.90" x2="657.90" y2="567.90" stroke-width="2"/>
<text transform="translate(650.90 572.30) scale(1.05 1.0)" font-size="12.5" font-weight="bold" text-anchor="end">60</text>
<line x1="736.90" y1="743.30" x2="736.90" y2="747.90" stroke-width="2"/>
<line x1="842.00" y1="743.30" x2="842.00" y2="747.90" stroke-width="2"/>
<text transform="translate(736.60 762.00)" font-size="13" font-weight="bold" text-anchor="middle">sh-NC</text>
<text transform="translate(841.60 762.00)" font-size="13" font-weight="bold" text-anchor="middle">sh-LINC01296</text>
<text transform="translate(628.80 655.15) rotate(-90)" font-size="14.7" font-weight="bold" text-anchor="middle">MAPK1 expression (%)</text>
<path d="M710.7,743.3 L710.7,616.135 L763.3,616.135 L763.3,743.3" stroke-width="2.2" fill="none"/>
<line x1="736.90" y1="616.13" x2="736.90" y2="607.95" stroke-width="1.8"/>
<line x1="724.20" y1="607.95" x2="749.80" y2="607.95" stroke-width="2"/>
<rect x="814.30" y="690.68" width="55.00" height="52.62" fill="#1a1716" stroke="none"/>
<line x1="842.00" y1="690.68" x2="842.00" y2="676.94" stroke-width="1.8"/>
<line x1="829.00" y1="676.94" x2="855.00" y2="676.94" stroke-width="2"/>
<path d="M736.9,597.5 L736.9,580.4 L843.2,580.4 L843.2,663.3" stroke-width="2.4" fill="none"/>
<text transform="translate(789.20 576.70)" font-size="15" font-weight="bold" text-anchor="middle">*</text>
<line x1="657.90" y1="825.90" x2="657.90" y2="1002.90" stroke-width="2"/>
<line x1="656.90" y1="1001.90" x2="921.30" y2="1001.90" stroke-width="2"/>
<line x1="653.10" y1="1001.90" x2="657.90" y2="1001.90" stroke-width="2"/>
<text transform="translate(650.90 1006.30) scale(1.05 1.0)" font-size="12.5" font-weight="bold" text-anchor="end">0</text>
<line x1="653.10" y1="943.57" x2="657.90" y2="943.57" stroke-width="2"/>
<text transform="translate(650.90 947.97) scale(1.05 1.0)" font-size="12.5" font-weight="bold" text-anchor="end">20</text>
<line x1="653.10" y1="885.23" x2="657.90" y2="885.23" stroke-width="2"/>
<text transform="translate(650.90 889.63) scale(1.05 1.0)" font-size="12.5" font-weight="bold" text-anchor="end">40</text>
<line x1="653.10" y1="826.90" x2="657.90" y2="826.90" stroke-width="2"/>
<text transform="translate(650.90 831.30) scale(1.05 1.0)" font-size="12.5" font-weight="bold" text-anchor="end">60</text>
<line x1="736.90" y1="1001.90" x2="736.90" y2="1006.50" stroke-width="2"/>
<line x1="842.00" y1="1001.90" x2="842.00" y2="1006.50" stroke-width="2"/>
<text transform="translate(736.60 1021.00)" font-size="13" font-weight="bold" text-anchor="middle">sh-NC</text>
<text transform="translate(841.60 1021.00)" font-size="13" font-weight="bold" text-anchor="middle">sh-LINC01296</text>
<text transform="translate(628.80 913.65) rotate(-90)" font-size="14.7" font-weight="bold" text-anchor="middle">Ki-67 expression (%)</text>
<path d="M710.7,1001.9 L710.7,881.7333333333333 L763.3,881.7333333333333 L763.3,1001.9" stroke-width="2.2" fill="none"/>
<line x1="736.90" y1="881.73" x2="736.90" y2="857.23" stroke-width="1.8"/>
<line x1="724.20" y1="857.23" x2="749.80" y2="857.23" stroke-width="2"/>
<rect x="814.30" y="942.69" width="55.00" height="59.21" fill="#1a1716" stroke="none"/>
<line x1="842.00" y1="942.69" x2="842.00" y2="935.98" stroke-width="1.8"/>
<line x1="829.00" y1="935.98" x2="855.00" y2="935.98" stroke-width="2"/>
<path d="M736.9,846.5 L736.9,829.3 L843.2,829.3 L843.2,921.4" stroke-width="2.4" fill="none"/>
<text transform="translate(789.20 830.00)" font-size="15" font-weight="bold" text-anchor="middle">*</text>
<text transform="translate(210.60 590.60)" font-size="14.8" font-weight="bold" text-anchor="middle">sh-NC</text>
<text transform="translate(434.70 590.30)" font-size="15.1" font-weight="bold" text-anchor="middle">sh-LINC01296</text>
<text transform="translate(210.60 857.20)" font-size="14.8" font-weight="bold" text-anchor="middle">sh-NC</text>
<text transform="translate(434.80 856.70)" font-size="15.1" font-weight="bold" text-anchor="middle">sh-LINC01296</text>
<text transform="translate(56.60 668.30)" font-size="14.8" font-weight="bold" text-anchor="start">MAPK1</text>
<text transform="translate(56.60 934.90)" font-size="14.8" font-weight="bold" text-anchor="start">Ki-67</text>
</g>
</svg>
</body></html>
